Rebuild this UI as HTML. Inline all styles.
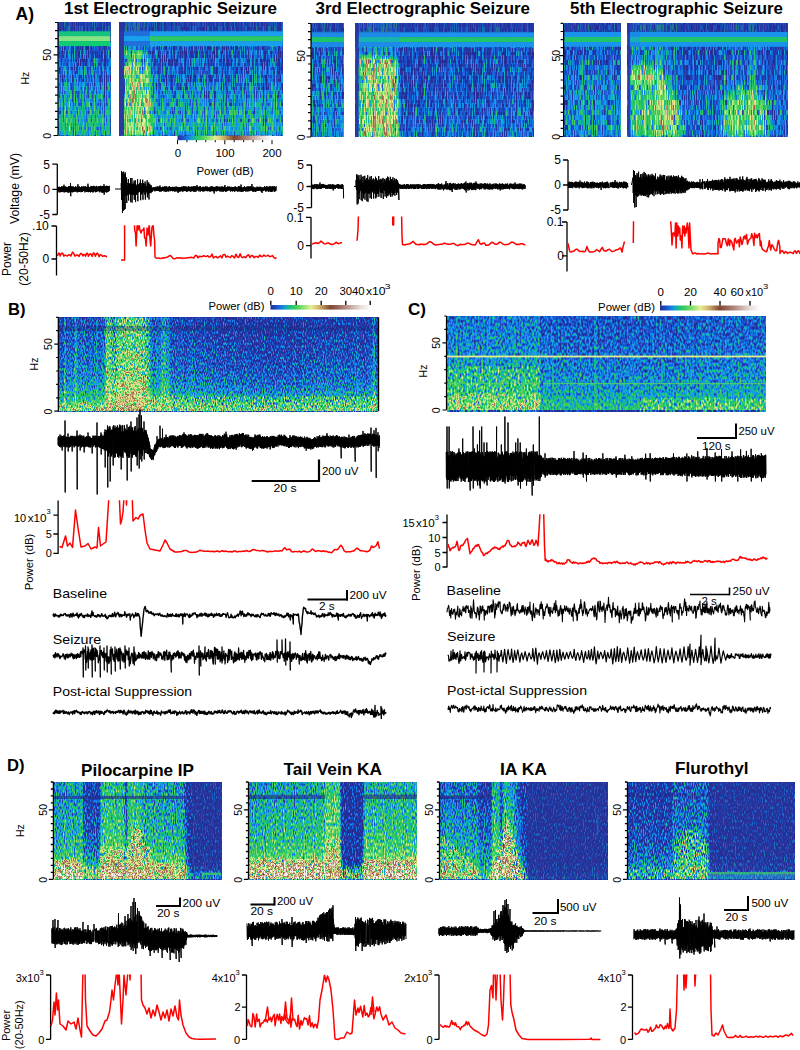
<!DOCTYPE html><html><head><meta charset="utf-8"><style>html,body{margin:0;padding:0;background:#fff}svg{display:block}text{font-family:"Liberation Sans",sans-serif}</style></head><body><svg width="800" height="1050" viewBox="0 0 800 1050"><defs><linearGradient id="v1" gradientUnits="userSpaceOnUse" x1="0" y1="22.5" x2="0" y2="135.5"><stop offset="0" stop-color="rgb(0,0,0)"/><stop offset="0.075" stop-color="rgb(0,0,0)"/><stop offset="0.208" stop-color="rgb(0,0,0)"/><stop offset="0.332" stop-color="rgb(1,0,0)"/><stop offset="0.465" stop-color="rgb(10,0,0)"/><stop offset="0.73" stop-color="rgb(24,0,0)"/><stop offset="0.934" stop-color="rgb(32,0,0)"/><stop offset="1" stop-color="rgb(29,0,0)"/></linearGradient><linearGradient id="h1" gradientUnits="userSpaceOnUse" x1="58.8" y1="0" x2="110.2" y2="0"><stop offset="0" stop-color="rgb(0,18,0)"/><stop offset="0.0262" stop-color="rgb(0,1,0)"/><stop offset="0.0525" stop-color="rgb(0,17,0)"/><stop offset="0.0787" stop-color="rgb(0,1,0)"/><stop offset="0.105" stop-color="rgb(0,12,0)"/><stop offset="0.1312" stop-color="rgb(0,21,0)"/><stop offset="0.1574" stop-color="rgb(0,10,0)"/><stop offset="0.1837" stop-color="rgb(0,9,0)"/><stop offset="0.2099" stop-color="rgb(0,31,0)"/><stop offset="0.2362" stop-color="rgb(0,11,0)"/><stop offset="0.2624" stop-color="rgb(0,5,0)"/><stop offset="0.2886" stop-color="rgb(0,3,0)"/><stop offset="0.3149" stop-color="rgb(0,10,0)"/><stop offset="0.3411" stop-color="rgb(0,14,0)"/><stop offset="0.3673" stop-color="rgb(0,3,0)"/><stop offset="0.3936" stop-color="rgb(0,7,0)"/><stop offset="0.4198" stop-color="rgb(0,9,0)"/><stop offset="0.4461" stop-color="rgb(0,5,0)"/><stop offset="0.4723" stop-color="rgb(0,11,0)"/><stop offset="0.4985" stop-color="rgb(0,9,0)"/><stop offset="0.5248" stop-color="rgb(0,13,0)"/><stop offset="0.551" stop-color="rgb(0,4,0)"/><stop offset="0.5773" stop-color="rgb(0,2,0)"/><stop offset="0.6035" stop-color="rgb(0,23,0)"/><stop offset="0.6297" stop-color="rgb(0,1,0)"/><stop offset="0.656" stop-color="rgb(0,12,0)"/><stop offset="0.6822" stop-color="rgb(0,13,0)"/><stop offset="0.7085" stop-color="rgb(0,11,0)"/><stop offset="0.7347" stop-color="rgb(0,9,0)"/><stop offset="0.7609" stop-color="rgb(0,13,0)"/><stop offset="0.7872" stop-color="rgb(0,7,0)"/><stop offset="0.8134" stop-color="rgb(0,1,0)"/><stop offset="0.8397" stop-color="rgb(0,10,0)"/><stop offset="0.8659" stop-color="rgb(0,13,0)"/><stop offset="0.8921" stop-color="rgb(0,6,0)"/><stop offset="0.9184" stop-color="rgb(0,0,0)"/><stop offset="0.9446" stop-color="rgb(0,9,0)"/><stop offset="0.9708" stop-color="rgb(0,20,0)"/><stop offset="0.9971" stop-color="rgb(0,6,0)"/></linearGradient><filter id="s1" x="0" y="0" width="1" height="1" color-interpolation-filters="sRGB"><feTurbulence type="fractalNoise" baseFrequency="0.9 0.12" numOctaves="1" seed="3"/><feColorMatrix values="1 0 0 0 0 1 0 0 0 0 1 0 0 0 0 0 0 0 0 1" result="m0"/><feFlood x="58" y="31.2" width="1" height="1" flood-color="#fff" result="d"/><feComposite in="d" in2="d" x="58" y="31.2" width="1" height="5"/><feTile/><feComposite in="m0" operator="in"/><feMorphology operator="dilate" radius="0 2"/><feComposite in2="m0" result="m"/><feColorMatrix in="SourceGraphic" values="1 1 0 0 0.015 1 1 0 0 0.015 1 1 0 0 0.015 0 0 0 0 1" result="p"/><feColorMatrix in="SourceGraphic" values="0 0 1 0 0 0 0 1 0 0 0 0 1 0 0 0 0 0 0 1"/><feComposite in2="m" operator="arithmetic" k1="0.909" k2="0.545" k3="0.545" k4="0.227"/><feComposite in="p" operator="arithmetic" k2="1" k3="1" k4="-.5"/><feComponentTransfer><feFuncR type="table" tableValues="0.149 0.14 0.13 0.121 0.112 0.099 0.086 0.073 0.065 0.075 0.086 0.099 0.125 0.152 0.185 0.247 0.31 0.372 0.435 0.497 0.58 0.669 0.757 0.845 0.933 0.908 0.883 0.858 0.815 0.744 0.673 0.602 0.607 0.631 0.655 0.684 0.729 0.775 0.821 0.867 0.901 0.916 0.932 0.948 0.964 0.98 0.982 0.983 0.984 0.986 0.987 0.988 0.99 0.991 0.992 0.993 0.995 0.996 0.997 0.999 1"/><feFuncG type="table" tableValues="0.18 0.218 0.255 0.292 0.33 0.393 0.463 0.532 0.599 0.651 0.703 0.748 0.761 0.774 0.788 0.803 0.819 0.835 0.851 0.867 0.882 0.897 0.912 0.926 0.941 0.887 0.832 0.778 0.702 0.596 0.489 0.382 0.389 0.424 0.458 0.5 0.571 0.641 0.711 0.781 0.834 0.86 0.886 0.912 0.939 0.965 0.967 0.969 0.972 0.974 0.976 0.979 0.981 0.984 0.986 0.988 0.991 0.993 0.995 0.998 1"/><feFuncB type="table" tableValues="0.588 0.646 0.704 0.762 0.82 0.856 0.886 0.917 0.915 0.784 0.654 0.536 0.471 0.405 0.356 0.37 0.385 0.399 0.414 0.428 0.458 0.49 0.523 0.556 0.588 0.556 0.523 0.49 0.445 0.382 0.319 0.256 0.28 0.325 0.371 0.424 0.502 0.58 0.659 0.737 0.797 0.827 0.858 0.888 0.919 0.949 0.952 0.956 0.959 0.963 0.966 0.969 0.973 0.976 0.98 0.983 0.986 0.99 0.993 0.997 1"/></feComponentTransfer><feGaussianBlur stdDeviation=".55 .25"/><feComponentTransfer><feFuncA type="discrete" tableValues="1 1"/></feComponentTransfer></filter><linearGradient id="v2" gradientUnits="userSpaceOnUse" x1="0" y1="22.5" x2="0" y2="135.5"><stop offset="0" stop-color="rgb(0,0,0)"/><stop offset="0.075" stop-color="rgb(0,0,0)"/><stop offset="0.208" stop-color="rgb(0,0,0)"/><stop offset="0.332" stop-color="rgb(0,0,0)"/><stop offset="0.509" stop-color="rgb(6,0,0)"/><stop offset="0.686" stop-color="rgb(18,0,0)"/><stop offset="0.907" stop-color="rgb(28,0,0)"/><stop offset="0.96" stop-color="rgb(27,0,0)"/><stop offset="1" stop-color="rgb(18,0,0)"/></linearGradient><linearGradient id="h2" gradientUnits="userSpaceOnUse" x1="119" y1="0" x2="282.5" y2="0"><stop offset="0" stop-color="rgb(0,0,0)"/><stop offset="0.0083" stop-color="rgb(0,1,0)"/><stop offset="0.0165" stop-color="rgb(0,5,0)"/><stop offset="0.0248" stop-color="rgb(0,0,0)"/><stop offset="0.033" stop-color="rgb(0,15,0)"/><stop offset="0.0413" stop-color="rgb(0,39,0)"/><stop offset="0.0495" stop-color="rgb(0,21,0)"/><stop offset="0.0578" stop-color="rgb(0,25,0)"/><stop offset="0.0661" stop-color="rgb(0,32,0)"/><stop offset="0.0743" stop-color="rgb(0,22,0)"/><stop offset="0.0826" stop-color="rgb(0,31,0)"/><stop offset="0.0908" stop-color="rgb(0,24,0)"/><stop offset="0.0991" stop-color="rgb(0,43,0)"/><stop offset="0.1073" stop-color="rgb(0,28,0)"/><stop offset="0.1156" stop-color="rgb(0,28,0)"/><stop offset="0.1239" stop-color="rgb(0,34,0)"/><stop offset="0.1321" stop-color="rgb(0,24,0)"/><stop offset="0.1404" stop-color="rgb(0,17,0)"/><stop offset="0.1486" stop-color="rgb(0,22,0)"/><stop offset="0.1569" stop-color="rgb(0,15,0)"/><stop offset="0.1651" stop-color="rgb(0,14,0)"/><stop offset="0.1734" stop-color="rgb(0,31,0)"/><stop offset="0.1817" stop-color="rgb(0,18,0)"/><stop offset="0.1899" stop-color="rgb(0,14,0)"/><stop offset="0.1982" stop-color="rgb(0,19,0)"/><stop offset="0.2064" stop-color="rgb(0,14,0)"/><stop offset="0.2147" stop-color="rgb(0,5,0)"/><stop offset="0.2229" stop-color="rgb(0,18,0)"/><stop offset="0.2312" stop-color="rgb(0,15,0)"/><stop offset="0.2394" stop-color="rgb(0,2,0)"/><stop offset="0.2477" stop-color="rgb(0,0,0)"/><stop offset="0.256" stop-color="rgb(0,15,0)"/><stop offset="0.2642" stop-color="rgb(0,11,0)"/><stop offset="0.2725" stop-color="rgb(0,21,0)"/><stop offset="0.2807" stop-color="rgb(0,8,0)"/><stop offset="0.289" stop-color="rgb(0,5,0)"/><stop offset="0.2972" stop-color="rgb(0,12,0)"/><stop offset="0.3055" stop-color="rgb(0,13,0)"/><stop offset="0.3138" stop-color="rgb(0,13,0)"/><stop offset="0.322" stop-color="rgb(0,3,0)"/><stop offset="0.3303" stop-color="rgb(0,11,0)"/><stop offset="0.3385" stop-color="rgb(0,4,0)"/><stop offset="0.3468" stop-color="rgb(0,11,0)"/><stop offset="0.355" stop-color="rgb(0,7,0)"/><stop offset="0.3633" stop-color="rgb(0,15,0)"/><stop offset="0.3716" stop-color="rgb(0,6,0)"/><stop offset="0.3798" stop-color="rgb(0,11,0)"/><stop offset="0.3881" stop-color="rgb(0,10,0)"/><stop offset="0.3963" stop-color="rgb(0,13,0)"/><stop offset="0.4046" stop-color="rgb(0,10,0)"/><stop offset="0.4128" stop-color="rgb(0,1,0)"/><stop offset="0.4211" stop-color="rgb(0,14,0)"/><stop offset="0.4294" stop-color="rgb(0,11,0)"/><stop offset="0.4376" stop-color="rgb(0,3,0)"/><stop offset="0.4459" stop-color="rgb(0,5,0)"/><stop offset="0.4541" stop-color="rgb(0,15,0)"/><stop offset="0.4624" stop-color="rgb(0,6,0)"/><stop offset="0.4706" stop-color="rgb(0,18,0)"/><stop offset="0.4789" stop-color="rgb(0,2,0)"/><stop offset="0.4872" stop-color="rgb(0,28,0)"/><stop offset="0.4954" stop-color="rgb(0,15,0)"/><stop offset="0.5037" stop-color="rgb(0,5,0)"/><stop offset="0.5119" stop-color="rgb(0,19,0)"/><stop offset="0.5202" stop-color="rgb(0,10,0)"/><stop offset="0.5284" stop-color="rgb(0,14,0)"/><stop offset="0.5367" stop-color="rgb(0,13,0)"/><stop offset="0.545" stop-color="rgb(0,3,0)"/><stop offset="0.5532" stop-color="rgb(0,4,0)"/><stop offset="0.5615" stop-color="rgb(0,9,0)"/><stop offset="0.5697" stop-color="rgb(0,23,0)"/><stop offset="0.578" stop-color="rgb(0,5,0)"/><stop offset="0.5862" stop-color="rgb(0,9,0)"/><stop offset="0.5945" stop-color="rgb(0,6,0)"/><stop offset="0.6028" stop-color="rgb(0,8,0)"/><stop offset="0.611" stop-color="rgb(0,19,0)"/><stop offset="0.6193" stop-color="rgb(0,18,0)"/><stop offset="0.6275" stop-color="rgb(0,3,0)"/><stop offset="0.6358" stop-color="rgb(0,11,0)"/><stop offset="0.644" stop-color="rgb(0,5,0)"/><stop offset="0.6523" stop-color="rgb(0,8,0)"/><stop offset="0.6606" stop-color="rgb(0,2,0)"/><stop offset="0.6688" stop-color="rgb(0,4,0)"/><stop offset="0.6771" stop-color="rgb(0,12,0)"/><stop offset="0.6853" stop-color="rgb(0,9,0)"/><stop offset="0.6936" stop-color="rgb(0,14,0)"/><stop offset="0.7018" stop-color="rgb(0,9,0)"/><stop offset="0.7101" stop-color="rgb(0,8,0)"/><stop offset="0.7183" stop-color="rgb(0,7,0)"/><stop offset="0.7266" stop-color="rgb(0,7,0)"/><stop offset="0.7349" stop-color="rgb(0,11,0)"/><stop offset="0.7431" stop-color="rgb(0,14,0)"/><stop offset="0.7514" stop-color="rgb(0,9,0)"/><stop offset="0.7596" stop-color="rgb(0,20,0)"/><stop offset="0.7679" stop-color="rgb(0,15,0)"/><stop offset="0.7761" stop-color="rgb(0,1,0)"/><stop offset="0.7844" stop-color="rgb(0,12,0)"/><stop offset="0.7927" stop-color="rgb(0,2,0)"/><stop offset="0.8009" stop-color="rgb(0,26,0)"/><stop offset="0.8092" stop-color="rgb(0,15,0)"/><stop offset="0.8174" stop-color="rgb(0,15,0)"/><stop offset="0.8257" stop-color="rgb(0,7,0)"/><stop offset="0.8339" stop-color="rgb(0,23,0)"/><stop offset="0.8422" stop-color="rgb(0,8,0)"/><stop offset="0.8505" stop-color="rgb(0,3,0)"/><stop offset="0.8587" stop-color="rgb(0,23,0)"/><stop offset="0.867" stop-color="rgb(0,16,0)"/><stop offset="0.8752" stop-color="rgb(0,10,0)"/><stop offset="0.8835" stop-color="rgb(0,1,0)"/><stop offset="0.8917" stop-color="rgb(0,12,0)"/><stop offset="0.9" stop-color="rgb(0,2,0)"/><stop offset="0.9083" stop-color="rgb(0,1,0)"/><stop offset="0.9165" stop-color="rgb(0,15,0)"/><stop offset="0.9248" stop-color="rgb(0,14,0)"/><stop offset="0.933" stop-color="rgb(0,21,0)"/><stop offset="0.9413" stop-color="rgb(0,9,0)"/><stop offset="0.9495" stop-color="rgb(0,15,0)"/><stop offset="0.9578" stop-color="rgb(0,24,0)"/><stop offset="0.9661" stop-color="rgb(0,10,0)"/><stop offset="0.9743" stop-color="rgb(0,1,0)"/><stop offset="0.9826" stop-color="rgb(0,1,0)"/><stop offset="0.9908" stop-color="rgb(0,7,0)"/><stop offset="0.9991" stop-color="rgb(0,8,0)"/></linearGradient><filter id="s2" x="0" y="0" width="1" height="1" color-interpolation-filters="sRGB"><feTurbulence type="fractalNoise" baseFrequency="0.9 0.12" numOctaves="1" seed="5"/><feColorMatrix values="1 0 0 0 0 1 0 0 0 0 1 0 0 0 0 0 0 0 0 1" result="m0"/><feFlood x="119" y="31.2" width="1" height="1" flood-color="#fff" result="d"/><feComposite in="d" in2="d" x="119" y="31.2" width="1" height="5"/><feTile/><feComposite in="m0" operator="in"/><feMorphology operator="dilate" radius="0 2"/><feComposite in2="m0" result="m"/><feColorMatrix in="SourceGraphic" values="1 1 0 0 0.015 1 1 0 0 0.015 1 1 0 0 0.015 0 0 0 0 1" result="p"/><feColorMatrix in="SourceGraphic" values="0 0 1 0 0 0 0 1 0 0 0 0 1 0 0 0 0 0 0 1"/><feComposite in2="m" operator="arithmetic" k1="2.727" k2="-0.364" k3="0.545" k4="0.227"/><feComposite in="p" operator="arithmetic" k2="1" k3="1" k4="-.5"/><feComponentTransfer><feFuncR type="table" tableValues="0.149 0.14 0.13 0.121 0.112 0.099 0.086 0.073 0.065 0.075 0.086 0.099 0.125 0.152 0.185 0.247 0.31 0.372 0.435 0.497 0.58 0.669 0.757 0.845 0.933 0.908 0.883 0.858 0.815 0.744 0.673 0.602 0.607 0.631 0.655 0.684 0.729 0.775 0.821 0.867 0.901 0.916 0.932 0.948 0.964 0.98 0.982 0.983 0.984 0.986 0.987 0.988 0.99 0.991 0.992 0.993 0.995 0.996 0.997 0.999 1"/><feFuncG type="table" tableValues="0.18 0.218 0.255 0.292 0.33 0.393 0.463 0.532 0.599 0.651 0.703 0.748 0.761 0.774 0.788 0.803 0.819 0.835 0.851 0.867 0.882 0.897 0.912 0.926 0.941 0.887 0.832 0.778 0.702 0.596 0.489 0.382 0.389 0.424 0.458 0.5 0.571 0.641 0.711 0.781 0.834 0.86 0.886 0.912 0.939 0.965 0.967 0.969 0.972 0.974 0.976 0.979 0.981 0.984 0.986 0.988 0.991 0.993 0.995 0.998 1"/><feFuncB type="table" tableValues="0.588 0.646 0.704 0.762 0.82 0.856 0.886 0.917 0.915 0.784 0.654 0.536 0.471 0.405 0.356 0.37 0.385 0.399 0.414 0.428 0.458 0.49 0.523 0.556 0.588 0.556 0.523 0.49 0.445 0.382 0.319 0.256 0.28 0.325 0.371 0.424 0.502 0.58 0.659 0.737 0.797 0.827 0.858 0.888 0.919 0.949 0.952 0.956 0.959 0.963 0.966 0.969 0.973 0.976 0.98 0.983 0.986 0.99 0.993 0.997 1"/></feComponentTransfer><feGaussianBlur stdDeviation=".55 .25"/><feComponentTransfer><feFuncA type="discrete" tableValues="1 1"/></feComponentTransfer></filter><filter id="b2" x="-50%" y="-50%" width="200%" height="200%"><feGaussianBlur stdDeviation="2"/></filter><linearGradient id="cb" x1="0" y1="0" x2="1" y2="0"><stop offset="0" stop-color="#262e96"/><stop offset="0.05" stop-color="#1e4ac2"/><stop offset="0.1" stop-color="#1676e2"/><stop offset="0.15" stop-color="#13a6c8"/><stop offset="0.2" stop-color="#20c277"/><stop offset="0.25" stop-color="#3fcc5e"/><stop offset="0.3" stop-color="#6ed969"/><stop offset="0.35" stop-color="#a5e47b"/><stop offset="0.4" stop-color="#e2ee91"/><stop offset="0.45" stop-color="#ddce7f"/><stop offset="0.5" stop-color="#c8a564"/><stop offset="0.55" stop-color="#a3754b"/><stop offset="0.6" stop-color="#804634"/><stop offset="0.65" stop-color="#915d4e"/><stop offset="0.7" stop-color="#a27467"/><stop offset="0.75" stop-color="#b48c82"/><stop offset="0.8" stop-color="#c5a79f"/><stop offset="0.85" stop-color="#d6c2bc"/><stop offset="0.9" stop-color="#e8deda"/><stop offset="0.95" stop-color="#f3eeec"/><stop offset="1" stop-color="#ffffff"/></linearGradient><linearGradient id="v3" gradientUnits="userSpaceOnUse" x1="0" y1="23.5" x2="0" y2="137"><stop offset="0" stop-color="rgb(0,0,0)"/><stop offset="0.075" stop-color="rgb(0,0,0)"/><stop offset="0.207" stop-color="rgb(0,0,0)"/><stop offset="0.339" stop-color="rgb(4,0,0)"/><stop offset="0.586" stop-color="rgb(11,0,0)"/><stop offset="0.85" stop-color="rgb(14,0,0)"/><stop offset="1" stop-color="rgb(13,0,0)"/></linearGradient><linearGradient id="h3" gradientUnits="userSpaceOnUse" x1="311.5" y1="0" x2="344" y2="0"><stop offset="0" stop-color="rgb(0,16,0)"/><stop offset="0.0415" stop-color="rgb(0,11,0)"/><stop offset="0.0831" stop-color="rgb(0,1,0)"/><stop offset="0.1246" stop-color="rgb(0,5,0)"/><stop offset="0.1662" stop-color="rgb(0,12,0)"/><stop offset="0.2077" stop-color="rgb(0,17,0)"/><stop offset="0.2492" stop-color="rgb(0,0,0)"/><stop offset="0.2908" stop-color="rgb(0,0,0)"/><stop offset="0.3323" stop-color="rgb(0,20,0)"/><stop offset="0.3738" stop-color="rgb(0,30,0)"/><stop offset="0.4154" stop-color="rgb(0,7,0)"/><stop offset="0.4569" stop-color="rgb(0,13,0)"/><stop offset="0.4985" stop-color="rgb(0,8,0)"/><stop offset="0.54" stop-color="rgb(0,15,0)"/><stop offset="0.5815" stop-color="rgb(0,13,0)"/><stop offset="0.6231" stop-color="rgb(0,10,0)"/><stop offset="0.6646" stop-color="rgb(0,12,0)"/><stop offset="0.7062" stop-color="rgb(0,1,0)"/><stop offset="0.7477" stop-color="rgb(0,10,0)"/><stop offset="0.7892" stop-color="rgb(0,13,0)"/><stop offset="0.8308" stop-color="rgb(0,10,0)"/><stop offset="0.8723" stop-color="rgb(0,4,0)"/><stop offset="0.9138" stop-color="rgb(0,18,0)"/><stop offset="0.9554" stop-color="rgb(0,4,0)"/><stop offset="0.9969" stop-color="rgb(0,15,0)"/></linearGradient><filter id="s3" x="0" y="0" width="1" height="1" color-interpolation-filters="sRGB"><feTurbulence type="fractalNoise" baseFrequency="0.9 0.12" numOctaves="1" seed="7"/><feColorMatrix values="1 0 0 0 0 1 0 0 0 0 1 0 0 0 0 0 0 0 0 1" result="m0"/><feFlood x="311" y="32.2" width="1" height="1" flood-color="#fff" result="d"/><feComposite in="d" in2="d" x="311" y="32.2" width="1" height="5"/><feTile/><feComposite in="m0" operator="in"/><feMorphology operator="dilate" radius="0 2"/><feComposite in2="m0" result="m"/><feColorMatrix in="SourceGraphic" values="1 1 0 0 0.015 1 1 0 0 0.015 1 1 0 0 0.015 0 0 0 0 1" result="p"/><feColorMatrix in="SourceGraphic" values="0 0 1 0 0 0 0 1 0 0 0 0 1 0 0 0 0 0 0 1"/><feComposite in2="m" operator="arithmetic" k1="0.909" k2="0.545" k3="0.545" k4="0.227"/><feComposite in="p" operator="arithmetic" k2="1" k3="1" k4="-.5"/><feComponentTransfer><feFuncR type="table" tableValues="0.149 0.14 0.13 0.121 0.112 0.099 0.086 0.073 0.065 0.075 0.086 0.099 0.125 0.152 0.185 0.247 0.31 0.372 0.435 0.497 0.58 0.669 0.757 0.845 0.933 0.908 0.883 0.858 0.815 0.744 0.673 0.602 0.607 0.631 0.655 0.684 0.729 0.775 0.821 0.867 0.901 0.916 0.932 0.948 0.964 0.98 0.982 0.983 0.984 0.986 0.987 0.988 0.99 0.991 0.992 0.993 0.995 0.996 0.997 0.999 1"/><feFuncG type="table" tableValues="0.18 0.218 0.255 0.292 0.33 0.393 0.463 0.532 0.599 0.651 0.703 0.748 0.761 0.774 0.788 0.803 0.819 0.835 0.851 0.867 0.882 0.897 0.912 0.926 0.941 0.887 0.832 0.778 0.702 0.596 0.489 0.382 0.389 0.424 0.458 0.5 0.571 0.641 0.711 0.781 0.834 0.86 0.886 0.912 0.939 0.965 0.967 0.969 0.972 0.974 0.976 0.979 0.981 0.984 0.986 0.988 0.991 0.993 0.995 0.998 1"/><feFuncB type="table" tableValues="0.588 0.646 0.704 0.762 0.82 0.856 0.886 0.917 0.915 0.784 0.654 0.536 0.471 0.405 0.356 0.37 0.385 0.399 0.414 0.428 0.458 0.49 0.523 0.556 0.588 0.556 0.523 0.49 0.445 0.382 0.319 0.256 0.28 0.325 0.371 0.424 0.502 0.58 0.659 0.737 0.797 0.827 0.858 0.888 0.919 0.949 0.952 0.956 0.959 0.963 0.966 0.969 0.973 0.976 0.98 0.983 0.986 0.99 0.993 0.997 1"/></feComponentTransfer><feGaussianBlur stdDeviation=".55 .25"/><feComponentTransfer><feFuncA type="discrete" tableValues="1 1"/></feComponentTransfer></filter><linearGradient id="v4" gradientUnits="userSpaceOnUse" x1="0" y1="23.5" x2="0" y2="137"><stop offset="0" stop-color="rgb(0,0,0)"/><stop offset="0.075" stop-color="rgb(0,0,0)"/><stop offset="0.207" stop-color="rgb(0,0,0)"/><stop offset="0.339" stop-color="rgb(0,0,0)"/><stop offset="0.586" stop-color="rgb(3,0,0)"/><stop offset="0.85" stop-color="rgb(9,0,0)"/><stop offset="1" stop-color="rgb(11,0,0)"/></linearGradient><linearGradient id="h4" gradientUnits="userSpaceOnUse" x1="355.5" y1="0" x2="534" y2="0"><stop offset="0" stop-color="rgb(0,0,0)"/><stop offset="0.0076" stop-color="rgb(0,0,0)"/><stop offset="0.0151" stop-color="rgb(0,0,0)"/><stop offset="0.0227" stop-color="rgb(0,25,0)"/><stop offset="0.0303" stop-color="rgb(0,21,0)"/><stop offset="0.0378" stop-color="rgb(0,18,0)"/><stop offset="0.0454" stop-color="rgb(0,19,0)"/><stop offset="0.0529" stop-color="rgb(0,28,0)"/><stop offset="0.0605" stop-color="rgb(0,21,0)"/><stop offset="0.0681" stop-color="rgb(0,26,0)"/><stop offset="0.0756" stop-color="rgb(0,28,0)"/><stop offset="0.0832" stop-color="rgb(0,31,0)"/><stop offset="0.0908" stop-color="rgb(0,23,0)"/><stop offset="0.0983" stop-color="rgb(0,20,0)"/><stop offset="0.1059" stop-color="rgb(0,43,0)"/><stop offset="0.1134" stop-color="rgb(0,31,0)"/><stop offset="0.121" stop-color="rgb(0,29,0)"/><stop offset="0.1286" stop-color="rgb(0,20,0)"/><stop offset="0.1361" stop-color="rgb(0,26,0)"/><stop offset="0.1437" stop-color="rgb(0,30,0)"/><stop offset="0.1513" stop-color="rgb(0,26,0)"/><stop offset="0.1588" stop-color="rgb(0,27,0)"/><stop offset="0.1664" stop-color="rgb(0,27,0)"/><stop offset="0.1739" stop-color="rgb(0,37,0)"/><stop offset="0.1815" stop-color="rgb(0,24,0)"/><stop offset="0.1891" stop-color="rgb(0,25,0)"/><stop offset="0.1966" stop-color="rgb(0,38,0)"/><stop offset="0.2042" stop-color="rgb(0,26,0)"/><stop offset="0.2118" stop-color="rgb(0,22,0)"/><stop offset="0.2193" stop-color="rgb(0,15,0)"/><stop offset="0.2269" stop-color="rgb(0,26,0)"/><stop offset="0.2345" stop-color="rgb(0,24,0)"/><stop offset="0.242" stop-color="rgb(0,10,0)"/><stop offset="0.2496" stop-color="rgb(0,0,0)"/><stop offset="0.2571" stop-color="rgb(0,0,0)"/><stop offset="0.2647" stop-color="rgb(0,4,0)"/><stop offset="0.2723" stop-color="rgb(0,10,0)"/><stop offset="0.2798" stop-color="rgb(0,0,0)"/><stop offset="0.2874" stop-color="rgb(0,0,0)"/><stop offset="0.295" stop-color="rgb(0,2,0)"/><stop offset="0.3025" stop-color="rgb(0,3,0)"/><stop offset="0.3101" stop-color="rgb(0,3,0)"/><stop offset="0.3176" stop-color="rgb(0,1,0)"/><stop offset="0.3252" stop-color="rgb(0,17,0)"/><stop offset="0.3328" stop-color="rgb(0,0,0)"/><stop offset="0.3403" stop-color="rgb(0,19,0)"/><stop offset="0.3479" stop-color="rgb(0,6,0)"/><stop offset="0.3555" stop-color="rgb(0,0,0)"/><stop offset="0.363" stop-color="rgb(0,0,0)"/><stop offset="0.3706" stop-color="rgb(0,0,0)"/><stop offset="0.3782" stop-color="rgb(0,0,0)"/><stop offset="0.3857" stop-color="rgb(0,24,0)"/><stop offset="0.3933" stop-color="rgb(0,2,0)"/><stop offset="0.4008" stop-color="rgb(0,5,0)"/><stop offset="0.4084" stop-color="rgb(0,8,0)"/><stop offset="0.416" stop-color="rgb(0,6,0)"/><stop offset="0.4235" stop-color="rgb(0,1,0)"/><stop offset="0.4311" stop-color="rgb(0,0,0)"/><stop offset="0.4387" stop-color="rgb(0,0,0)"/><stop offset="0.4462" stop-color="rgb(0,0,0)"/><stop offset="0.4538" stop-color="rgb(0,24,0)"/><stop offset="0.4613" stop-color="rgb(0,6,0)"/><stop offset="0.4689" stop-color="rgb(0,0,0)"/><stop offset="0.4765" stop-color="rgb(0,1,0)"/><stop offset="0.484" stop-color="rgb(0,5,0)"/><stop offset="0.4916" stop-color="rgb(0,3,0)"/><stop offset="0.4992" stop-color="rgb(0,14,0)"/><stop offset="0.5067" stop-color="rgb(0,2,0)"/><stop offset="0.5143" stop-color="rgb(0,2,0)"/><stop offset="0.5218" stop-color="rgb(0,17,0)"/><stop offset="0.5294" stop-color="rgb(0,15,0)"/><stop offset="0.537" stop-color="rgb(0,13,0)"/><stop offset="0.5445" stop-color="rgb(0,15,0)"/><stop offset="0.5521" stop-color="rgb(0,10,0)"/><stop offset="0.5597" stop-color="rgb(0,3,0)"/><stop offset="0.5672" stop-color="rgb(0,9,0)"/><stop offset="0.5748" stop-color="rgb(0,11,0)"/><stop offset="0.5824" stop-color="rgb(0,1,0)"/><stop offset="0.5899" stop-color="rgb(0,2,0)"/><stop offset="0.5975" stop-color="rgb(0,4,0)"/><stop offset="0.605" stop-color="rgb(0,10,0)"/><stop offset="0.6126" stop-color="rgb(0,2,0)"/><stop offset="0.6202" stop-color="rgb(0,1,0)"/><stop offset="0.6277" stop-color="rgb(0,10,0)"/><stop offset="0.6353" stop-color="rgb(0,0,0)"/><stop offset="0.6429" stop-color="rgb(0,3,0)"/><stop offset="0.6504" stop-color="rgb(0,9,0)"/><stop offset="0.658" stop-color="rgb(0,10,0)"/><stop offset="0.6655" stop-color="rgb(0,0,0)"/><stop offset="0.6731" stop-color="rgb(0,0,0)"/><stop offset="0.6807" stop-color="rgb(0,0,0)"/><stop offset="0.6882" stop-color="rgb(0,9,0)"/><stop offset="0.6958" stop-color="rgb(0,2,0)"/><stop offset="0.7034" stop-color="rgb(0,4,0)"/><stop offset="0.7109" stop-color="rgb(0,10,0)"/><stop offset="0.7185" stop-color="rgb(0,23,0)"/><stop offset="0.7261" stop-color="rgb(0,6,0)"/><stop offset="0.7336" stop-color="rgb(0,0,0)"/><stop offset="0.7412" stop-color="rgb(0,0,0)"/><stop offset="0.7487" stop-color="rgb(0,3,0)"/><stop offset="0.7563" stop-color="rgb(0,10,0)"/><stop offset="0.7639" stop-color="rgb(0,11,0)"/><stop offset="0.7714" stop-color="rgb(0,11,0)"/><stop offset="0.779" stop-color="rgb(0,16,0)"/><stop offset="0.7866" stop-color="rgb(0,11,0)"/><stop offset="0.7941" stop-color="rgb(0,10,0)"/><stop offset="0.8017" stop-color="rgb(0,8,0)"/><stop offset="0.8092" stop-color="rgb(0,5,0)"/><stop offset="0.8168" stop-color="rgb(0,12,0)"/><stop offset="0.8244" stop-color="rgb(0,8,0)"/><stop offset="0.8319" stop-color="rgb(0,6,0)"/><stop offset="0.8395" stop-color="rgb(0,0,0)"/><stop offset="0.8471" stop-color="rgb(0,4,0)"/><stop offset="0.8546" stop-color="rgb(0,10,0)"/><stop offset="0.8622" stop-color="rgb(0,3,0)"/><stop offset="0.8697" stop-color="rgb(0,11,0)"/><stop offset="0.8773" stop-color="rgb(0,16,0)"/><stop offset="0.8849" stop-color="rgb(0,12,0)"/><stop offset="0.8924" stop-color="rgb(0,7,0)"/><stop offset="0.9" stop-color="rgb(0,4,0)"/><stop offset="0.9076" stop-color="rgb(0,11,0)"/><stop offset="0.9151" stop-color="rgb(0,15,0)"/><stop offset="0.9227" stop-color="rgb(0,12,0)"/><stop offset="0.9303" stop-color="rgb(0,8,0)"/><stop offset="0.9378" stop-color="rgb(0,14,0)"/><stop offset="0.9454" stop-color="rgb(0,3,0)"/><stop offset="0.9529" stop-color="rgb(0,12,0)"/><stop offset="0.9605" stop-color="rgb(0,5,0)"/><stop offset="0.9681" stop-color="rgb(0,15,0)"/><stop offset="0.9756" stop-color="rgb(0,0,0)"/><stop offset="0.9832" stop-color="rgb(0,6,0)"/><stop offset="0.9908" stop-color="rgb(0,1,0)"/><stop offset="0.9983" stop-color="rgb(0,9,0)"/></linearGradient><filter id="s4" x="0" y="0" width="1" height="1" color-interpolation-filters="sRGB"><feTurbulence type="fractalNoise" baseFrequency="0.9 0.12" numOctaves="1" seed="9"/><feColorMatrix values="1 0 0 0 0 1 0 0 0 0 1 0 0 0 0 0 0 0 0 1" result="m0"/><feFlood x="355" y="32.2" width="1" height="1" flood-color="#fff" result="d"/><feComposite in="d" in2="d" x="355" y="32.2" width="1" height="5"/><feTile/><feComposite in="m0" operator="in"/><feMorphology operator="dilate" radius="0 2"/><feComposite in2="m0" result="m"/><feColorMatrix in="SourceGraphic" values="1 1 0 0 0.015 1 1 0 0 0.015 1 1 0 0 0.015 0 0 0 0 1" result="p"/><feColorMatrix in="SourceGraphic" values="0 0 1 0 0 0 0 1 0 0 0 0 1 0 0 0 0 0 0 1"/><feComposite in2="m" operator="arithmetic" k1="2.727" k2="-0.364" k3="0.545" k4="0.227"/><feComposite in="p" operator="arithmetic" k2="1" k3="1" k4="-.5"/><feComponentTransfer><feFuncR type="table" tableValues="0.149 0.14 0.13 0.121 0.112 0.099 0.086 0.073 0.065 0.075 0.086 0.099 0.125 0.152 0.185 0.247 0.31 0.372 0.435 0.497 0.58 0.669 0.757 0.845 0.933 0.908 0.883 0.858 0.815 0.744 0.673 0.602 0.607 0.631 0.655 0.684 0.729 0.775 0.821 0.867 0.901 0.916 0.932 0.948 0.964 0.98 0.982 0.983 0.984 0.986 0.987 0.988 0.99 0.991 0.992 0.993 0.995 0.996 0.997 0.999 1"/><feFuncG type="table" tableValues="0.18 0.218 0.255 0.292 0.33 0.393 0.463 0.532 0.599 0.651 0.703 0.748 0.761 0.774 0.788 0.803 0.819 0.835 0.851 0.867 0.882 0.897 0.912 0.926 0.941 0.887 0.832 0.778 0.702 0.596 0.489 0.382 0.389 0.424 0.458 0.5 0.571 0.641 0.711 0.781 0.834 0.86 0.886 0.912 0.939 0.965 0.967 0.969 0.972 0.974 0.976 0.979 0.981 0.984 0.986 0.988 0.991 0.993 0.995 0.998 1"/><feFuncB type="table" tableValues="0.588 0.646 0.704 0.762 0.82 0.856 0.886 0.917 0.915 0.784 0.654 0.536 0.471 0.405 0.356 0.37 0.385 0.399 0.414 0.428 0.458 0.49 0.523 0.556 0.588 0.556 0.523 0.49 0.445 0.382 0.319 0.256 0.28 0.325 0.371 0.424 0.502 0.58 0.659 0.737 0.797 0.827 0.858 0.888 0.919 0.949 0.952 0.956 0.959 0.963 0.966 0.969 0.973 0.976 0.98 0.983 0.986 0.99 0.993 0.997 1"/></feComponentTransfer><feGaussianBlur stdDeviation=".55 .25"/><feComponentTransfer><feFuncA type="discrete" tableValues="1 1"/></feComponentTransfer></filter><filter id="b4" x="-50%" y="-50%" width="200%" height="200%"><feGaussianBlur stdDeviation="2"/></filter><linearGradient id="v5" gradientUnits="userSpaceOnUse" x1="0" y1="23.4" x2="0" y2="136.5"><stop offset="0" stop-color="rgb(0,0,0)"/><stop offset="0.076" stop-color="rgb(0,0,0)"/><stop offset="0.209" stop-color="rgb(0,0,0)"/><stop offset="0.341" stop-color="rgb(6,0,0)"/><stop offset="0.589" stop-color="rgb(14,0,0)"/><stop offset="0.854" stop-color="rgb(19,0,0)"/><stop offset="1" stop-color="rgb(17,0,0)"/></linearGradient><linearGradient id="h5" gradientUnits="userSpaceOnUse" x1="564.4" y1="0" x2="621" y2="0"><stop offset="0" stop-color="rgb(0,3,0)"/><stop offset="0.0239" stop-color="rgb(0,5,0)"/><stop offset="0.0477" stop-color="rgb(0,4,0)"/><stop offset="0.0716" stop-color="rgb(0,12,0)"/><stop offset="0.0954" stop-color="rgb(0,15,0)"/><stop offset="0.1193" stop-color="rgb(0,3,0)"/><stop offset="0.1431" stop-color="rgb(0,6,0)"/><stop offset="0.167" stop-color="rgb(0,25,0)"/><stop offset="0.1908" stop-color="rgb(0,3,0)"/><stop offset="0.2147" stop-color="rgb(0,8,0)"/><stop offset="0.2385" stop-color="rgb(0,6,0)"/><stop offset="0.2624" stop-color="rgb(0,14,0)"/><stop offset="0.2862" stop-color="rgb(0,15,0)"/><stop offset="0.3101" stop-color="rgb(0,22,0)"/><stop offset="0.3339" stop-color="rgb(0,25,0)"/><stop offset="0.3578" stop-color="rgb(0,6,0)"/><stop offset="0.3816" stop-color="rgb(0,10,0)"/><stop offset="0.4055" stop-color="rgb(0,4,0)"/><stop offset="0.4293" stop-color="rgb(0,32,0)"/><stop offset="0.4532" stop-color="rgb(0,3,0)"/><stop offset="0.477" stop-color="rgb(0,13,0)"/><stop offset="0.5009" stop-color="rgb(0,18,0)"/><stop offset="0.5247" stop-color="rgb(0,6,0)"/><stop offset="0.5486" stop-color="rgb(0,3,0)"/><stop offset="0.5724" stop-color="rgb(0,24,0)"/><stop offset="0.5963" stop-color="rgb(0,12,0)"/><stop offset="0.6201" stop-color="rgb(0,7,0)"/><stop offset="0.644" stop-color="rgb(0,14,0)"/><stop offset="0.6678" stop-color="rgb(0,11,0)"/><stop offset="0.6917" stop-color="rgb(0,5,0)"/><stop offset="0.7155" stop-color="rgb(0,15,0)"/><stop offset="0.7394" stop-color="rgb(0,4,0)"/><stop offset="0.7633" stop-color="rgb(0,5,0)"/><stop offset="0.7871" stop-color="rgb(0,0,0)"/><stop offset="0.811" stop-color="rgb(0,14,0)"/><stop offset="0.8348" stop-color="rgb(0,23,0)"/><stop offset="0.8587" stop-color="rgb(0,7,0)"/><stop offset="0.8825" stop-color="rgb(0,15,0)"/><stop offset="0.9064" stop-color="rgb(0,4,0)"/><stop offset="0.9302" stop-color="rgb(0,8,0)"/><stop offset="0.9541" stop-color="rgb(0,3,0)"/><stop offset="0.9779" stop-color="rgb(0,11,0)"/></linearGradient><filter id="s5" x="0" y="0" width="1" height="1" color-interpolation-filters="sRGB"><feTurbulence type="fractalNoise" baseFrequency="0.9 0.12" numOctaves="1" seed="11"/><feColorMatrix values="1 0 0 0 0 1 0 0 0 0 1 0 0 0 0 0 0 0 0 1" result="m0"/><feFlood x="564" y="32" width="1" height="1" flood-color="#fff" result="d"/><feComposite in="d" in2="d" x="564" y="32" width="1" height="5"/><feTile/><feComposite in="m0" operator="in"/><feMorphology operator="dilate" radius="0 2"/><feComposite in2="m0" result="m"/><feColorMatrix in="SourceGraphic" values="1 1 0 0 0.015 1 1 0 0 0.015 1 1 0 0 0.015 0 0 0 0 1" result="p"/><feColorMatrix in="SourceGraphic" values="0 0 1 0 0 0 0 1 0 0 0 0 1 0 0 0 0 0 0 1"/><feComposite in2="m" operator="arithmetic" k1="0.909" k2="0.545" k3="0.545" k4="0.227"/><feComposite in="p" operator="arithmetic" k2="1" k3="1" k4="-.5"/><feComponentTransfer><feFuncR type="table" tableValues="0.149 0.14 0.13 0.121 0.112 0.099 0.086 0.073 0.065 0.075 0.086 0.099 0.125 0.152 0.185 0.247 0.31 0.372 0.435 0.497 0.58 0.669 0.757 0.845 0.933 0.908 0.883 0.858 0.815 0.744 0.673 0.602 0.607 0.631 0.655 0.684 0.729 0.775 0.821 0.867 0.901 0.916 0.932 0.948 0.964 0.98 0.982 0.983 0.984 0.986 0.987 0.988 0.99 0.991 0.992 0.993 0.995 0.996 0.997 0.999 1"/><feFuncG type="table" tableValues="0.18 0.218 0.255 0.292 0.33 0.393 0.463 0.532 0.599 0.651 0.703 0.748 0.761 0.774 0.788 0.803 0.819 0.835 0.851 0.867 0.882 0.897 0.912 0.926 0.941 0.887 0.832 0.778 0.702 0.596 0.489 0.382 0.389 0.424 0.458 0.5 0.571 0.641 0.711 0.781 0.834 0.86 0.886 0.912 0.939 0.965 0.967 0.969 0.972 0.974 0.976 0.979 0.981 0.984 0.986 0.988 0.991 0.993 0.995 0.998 1"/><feFuncB type="table" tableValues="0.588 0.646 0.704 0.762 0.82 0.856 0.886 0.917 0.915 0.784 0.654 0.536 0.471 0.405 0.356 0.37 0.385 0.399 0.414 0.428 0.458 0.49 0.523 0.556 0.588 0.556 0.523 0.49 0.445 0.382 0.319 0.256 0.28 0.325 0.371 0.424 0.502 0.58 0.659 0.737 0.797 0.827 0.858 0.888 0.919 0.949 0.952 0.956 0.959 0.963 0.966 0.969 0.973 0.976 0.98 0.983 0.986 0.99 0.993 0.997 1"/></feComponentTransfer><feGaussianBlur stdDeviation=".55 .25"/><feComponentTransfer><feFuncA type="discrete" tableValues="1 1"/></feComponentTransfer></filter><linearGradient id="v6" gradientUnits="userSpaceOnUse" x1="0" y1="23.4" x2="0" y2="136.5"><stop offset="0" stop-color="rgb(0,0,0)"/><stop offset="0.076" stop-color="rgb(0,0,0)"/><stop offset="0.209" stop-color="rgb(0,0,0)"/><stop offset="0.341" stop-color="rgb(3,0,0)"/><stop offset="0.589" stop-color="rgb(9,0,0)"/><stop offset="0.854" stop-color="rgb(14,0,0)"/><stop offset="1" stop-color="rgb(11,0,0)"/></linearGradient><linearGradient id="h6" gradientUnits="userSpaceOnUse" x1="627.7" y1="0" x2="787.6" y2="0"><stop offset="0" stop-color="rgb(0,4,0)"/><stop offset="0.0084" stop-color="rgb(0,0,0)"/><stop offset="0.0169" stop-color="rgb(0,6,0)"/><stop offset="0.0253" stop-color="rgb(0,29,0)"/><stop offset="0.0338" stop-color="rgb(0,22,0)"/><stop offset="0.0422" stop-color="rgb(0,22,0)"/><stop offset="0.0507" stop-color="rgb(0,28,0)"/><stop offset="0.0591" stop-color="rgb(0,28,0)"/><stop offset="0.0675" stop-color="rgb(0,26,0)"/><stop offset="0.076" stop-color="rgb(0,24,0)"/><stop offset="0.0844" stop-color="rgb(0,17,0)"/><stop offset="0.0929" stop-color="rgb(0,23,0)"/><stop offset="0.1013" stop-color="rgb(0,25,0)"/><stop offset="0.1098" stop-color="rgb(0,40,0)"/><stop offset="0.1182" stop-color="rgb(0,19,0)"/><stop offset="0.1266" stop-color="rgb(0,20,0)"/><stop offset="0.1351" stop-color="rgb(0,17,0)"/><stop offset="0.1435" stop-color="rgb(0,35,0)"/><stop offset="0.152" stop-color="rgb(0,23,0)"/><stop offset="0.1604" stop-color="rgb(0,21,0)"/><stop offset="0.1689" stop-color="rgb(0,23,0)"/><stop offset="0.1773" stop-color="rgb(0,27,0)"/><stop offset="0.1857" stop-color="rgb(0,42,0)"/><stop offset="0.1942" stop-color="rgb(0,28,0)"/><stop offset="0.2026" stop-color="rgb(0,38,0)"/><stop offset="0.2111" stop-color="rgb(0,34,0)"/><stop offset="0.2195" stop-color="rgb(0,23,0)"/><stop offset="0.228" stop-color="rgb(0,19,0)"/><stop offset="0.2364" stop-color="rgb(0,19,0)"/><stop offset="0.2448" stop-color="rgb(0,24,0)"/><stop offset="0.2533" stop-color="rgb(0,13,0)"/><stop offset="0.2617" stop-color="rgb(0,20,0)"/><stop offset="0.2702" stop-color="rgb(0,23,0)"/><stop offset="0.2786" stop-color="rgb(0,13,0)"/><stop offset="0.2871" stop-color="rgb(0,18,0)"/><stop offset="0.2955" stop-color="rgb(0,8,0)"/><stop offset="0.3039" stop-color="rgb(0,25,0)"/><stop offset="0.3124" stop-color="rgb(0,6,0)"/><stop offset="0.3208" stop-color="rgb(0,15,0)"/><stop offset="0.3293" stop-color="rgb(0,4,0)"/><stop offset="0.3377" stop-color="rgb(0,13,0)"/><stop offset="0.3462" stop-color="rgb(0,6,0)"/><stop offset="0.3546" stop-color="rgb(0,0,0)"/><stop offset="0.363" stop-color="rgb(0,10,0)"/><stop offset="0.3715" stop-color="rgb(0,4,0)"/><stop offset="0.3799" stop-color="rgb(0,2,0)"/><stop offset="0.3884" stop-color="rgb(0,11,0)"/><stop offset="0.3968" stop-color="rgb(0,0,0)"/><stop offset="0.4053" stop-color="rgb(0,15,0)"/><stop offset="0.4137" stop-color="rgb(0,2,0)"/><stop offset="0.4221" stop-color="rgb(0,2,0)"/><stop offset="0.4306" stop-color="rgb(0,8,0)"/><stop offset="0.439" stop-color="rgb(0,4,0)"/><stop offset="0.4475" stop-color="rgb(0,23,0)"/><stop offset="0.4559" stop-color="rgb(0,2,0)"/><stop offset="0.4644" stop-color="rgb(0,0,0)"/><stop offset="0.4728" stop-color="rgb(0,4,0)"/><stop offset="0.4812" stop-color="rgb(0,0,0)"/><stop offset="0.4897" stop-color="rgb(0,9,0)"/><stop offset="0.4981" stop-color="rgb(0,17,0)"/><stop offset="0.5066" stop-color="rgb(0,12,0)"/><stop offset="0.515" stop-color="rgb(0,0,0)"/><stop offset="0.5235" stop-color="rgb(0,3,0)"/><stop offset="0.5319" stop-color="rgb(0,6,0)"/><stop offset="0.5403" stop-color="rgb(0,0,0)"/><stop offset="0.5488" stop-color="rgb(0,1,0)"/><stop offset="0.5572" stop-color="rgb(0,10,0)"/><stop offset="0.5657" stop-color="rgb(0,0,0)"/><stop offset="0.5741" stop-color="rgb(0,4,0)"/><stop offset="0.5826" stop-color="rgb(0,13,0)"/><stop offset="0.591" stop-color="rgb(0,12,0)"/><stop offset="0.5994" stop-color="rgb(0,4,0)"/><stop offset="0.6079" stop-color="rgb(0,32,0)"/><stop offset="0.6163" stop-color="rgb(0,7,0)"/><stop offset="0.6248" stop-color="rgb(0,14,0)"/><stop offset="0.6332" stop-color="rgb(0,10,0)"/><stop offset="0.6417" stop-color="rgb(0,14,0)"/><stop offset="0.6501" stop-color="rgb(0,15,0)"/><stop offset="0.6585" stop-color="rgb(0,25,0)"/><stop offset="0.667" stop-color="rgb(0,13,0)"/><stop offset="0.6754" stop-color="rgb(0,17,0)"/><stop offset="0.6839" stop-color="rgb(0,23,0)"/><stop offset="0.6923" stop-color="rgb(0,17,0)"/><stop offset="0.7008" stop-color="rgb(0,7,0)"/><stop offset="0.7092" stop-color="rgb(0,26,0)"/><stop offset="0.7176" stop-color="rgb(0,6,0)"/><stop offset="0.7261" stop-color="rgb(0,17,0)"/><stop offset="0.7345" stop-color="rgb(0,6,0)"/><stop offset="0.743" stop-color="rgb(0,11,0)"/><stop offset="0.7514" stop-color="rgb(0,7,0)"/><stop offset="0.7598" stop-color="rgb(0,20,0)"/><stop offset="0.7683" stop-color="rgb(0,35,0)"/><stop offset="0.7767" stop-color="rgb(0,13,0)"/><stop offset="0.7852" stop-color="rgb(0,34,0)"/><stop offset="0.7936" stop-color="rgb(0,29,0)"/><stop offset="0.8021" stop-color="rgb(0,33,0)"/><stop offset="0.8105" stop-color="rgb(0,9,0)"/><stop offset="0.8189" stop-color="rgb(0,7,0)"/><stop offset="0.8274" stop-color="rgb(0,19,0)"/><stop offset="0.8358" stop-color="rgb(0,9,0)"/><stop offset="0.8443" stop-color="rgb(0,18,0)"/><stop offset="0.8527" stop-color="rgb(0,8,0)"/><stop offset="0.8612" stop-color="rgb(0,15,0)"/><stop offset="0.8696" stop-color="rgb(0,4,0)"/><stop offset="0.878" stop-color="rgb(0,1,0)"/><stop offset="0.8865" stop-color="rgb(0,6,0)"/><stop offset="0.8949" stop-color="rgb(0,8,0)"/><stop offset="0.9034" stop-color="rgb(0,4,0)"/><stop offset="0.9118" stop-color="rgb(0,0,0)"/><stop offset="0.9203" stop-color="rgb(0,5,0)"/><stop offset="0.9287" stop-color="rgb(0,8,0)"/><stop offset="0.9371" stop-color="rgb(0,11,0)"/><stop offset="0.9456" stop-color="rgb(0,2,0)"/><stop offset="0.954" stop-color="rgb(0,18,0)"/><stop offset="0.9625" stop-color="rgb(0,0,0)"/><stop offset="0.9709" stop-color="rgb(0,1,0)"/><stop offset="0.9794" stop-color="rgb(0,12,0)"/><stop offset="0.9878" stop-color="rgb(0,7,0)"/><stop offset="0.9962" stop-color="rgb(0,5,0)"/></linearGradient><filter id="s6" x="0" y="0" width="1" height="1" color-interpolation-filters="sRGB"><feTurbulence type="fractalNoise" baseFrequency="0.9 0.12" numOctaves="1" seed="13"/><feColorMatrix values="1 0 0 0 0 1 0 0 0 0 1 0 0 0 0 0 0 0 0 1" result="m0"/><feFlood x="627" y="32" width="1" height="1" flood-color="#fff" result="d"/><feComposite in="d" in2="d" x="627" y="32" width="1" height="5"/><feTile/><feComposite in="m0" operator="in"/><feMorphology operator="dilate" radius="0 2"/><feComposite in2="m0" result="m"/><feColorMatrix in="SourceGraphic" values="1 1 0 0 0.015 1 1 0 0 0.015 1 1 0 0 0.015 0 0 0 0 1" result="p"/><feColorMatrix in="SourceGraphic" values="0 0 1 0 0 0 0 1 0 0 0 0 1 0 0 0 0 0 0 1"/><feComposite in2="m" operator="arithmetic" k1="2.727" k2="-0.364" k3="0.545" k4="0.227"/><feComposite in="p" operator="arithmetic" k2="1" k3="1" k4="-.5"/><feComponentTransfer><feFuncR type="table" tableValues="0.149 0.14 0.13 0.121 0.112 0.099 0.086 0.073 0.065 0.075 0.086 0.099 0.125 0.152 0.185 0.247 0.31 0.372 0.435 0.497 0.58 0.669 0.757 0.845 0.933 0.908 0.883 0.858 0.815 0.744 0.673 0.602 0.607 0.631 0.655 0.684 0.729 0.775 0.821 0.867 0.901 0.916 0.932 0.948 0.964 0.98 0.982 0.983 0.984 0.986 0.987 0.988 0.99 0.991 0.992 0.993 0.995 0.996 0.997 0.999 1"/><feFuncG type="table" tableValues="0.18 0.218 0.255 0.292 0.33 0.393 0.463 0.532 0.599 0.651 0.703 0.748 0.761 0.774 0.788 0.803 0.819 0.835 0.851 0.867 0.882 0.897 0.912 0.926 0.941 0.887 0.832 0.778 0.702 0.596 0.489 0.382 0.389 0.424 0.458 0.5 0.571 0.641 0.711 0.781 0.834 0.86 0.886 0.912 0.939 0.965 0.967 0.969 0.972 0.974 0.976 0.979 0.981 0.984 0.986 0.988 0.991 0.993 0.995 0.998 1"/><feFuncB type="table" tableValues="0.588 0.646 0.704 0.762 0.82 0.856 0.886 0.917 0.915 0.784 0.654 0.536 0.471 0.405 0.356 0.37 0.385 0.399 0.414 0.428 0.458 0.49 0.523 0.556 0.588 0.556 0.523 0.49 0.445 0.382 0.319 0.256 0.28 0.325 0.371 0.424 0.502 0.58 0.659 0.737 0.797 0.827 0.858 0.888 0.919 0.949 0.952 0.956 0.959 0.963 0.966 0.969 0.973 0.976 0.98 0.983 0.986 0.99 0.993 0.997 1"/></feComponentTransfer><feGaussianBlur stdDeviation=".55 .25"/><feComponentTransfer><feFuncA type="discrete" tableValues="1 1"/></feComponentTransfer></filter><filter id="b6" x="-50%" y="-50%" width="200%" height="200%"><feGaussianBlur stdDeviation="4"/></filter><clipPath id="ca1"><rect x="50" y="225.3" width="240" height="54.7"/></clipPath><clipPath id="ca3"><rect x="305" y="216.5" width="235" height="45.5"/></clipPath><clipPath id="ca5"><rect x="560" y="221.3" width="240" height="53.7"/></clipPath><linearGradient id="v7" gradientUnits="userSpaceOnUse" x1="0" y1="317.3" x2="0" y2="411.2"><stop offset="0" stop-color="rgb(5,0,0)"/><stop offset="0.071" stop-color="rgb(6,0,0)"/><stop offset="0.188" stop-color="rgb(9,0,0)"/><stop offset="0.348" stop-color="rgb(13,0,0)"/><stop offset="0.508" stop-color="rgb(17,0,0)"/><stop offset="0.668" stop-color="rgb(24,0,0)"/><stop offset="0.774" stop-color="rgb(33,0,0)"/><stop offset="0.881" stop-color="rgb(46,0,0)"/><stop offset="0.934" stop-color="rgb(56,0,0)"/><stop offset="1" stop-color="rgb(69,0,0)"/></linearGradient><linearGradient id="h7" gradientUnits="userSpaceOnUse" x1="58.9" y1="0" x2="378" y2="0"><stop offset="0" stop-color="rgb(0,35,0)"/><stop offset="0.0031" stop-color="rgb(0,40,0)"/><stop offset="0.0063" stop-color="rgb(0,43,0)"/><stop offset="0.0094" stop-color="rgb(0,38,0)"/><stop offset="0.0125" stop-color="rgb(0,36,0)"/><stop offset="0.0157" stop-color="rgb(0,45,0)"/><stop offset="0.0188" stop-color="rgb(0,73,0)"/><stop offset="0.0219" stop-color="rgb(0,48,0)"/><stop offset="0.0251" stop-color="rgb(0,37,0)"/><stop offset="0.0282" stop-color="rgb(0,49,0)"/><stop offset="0.0313" stop-color="rgb(0,46,0)"/><stop offset="0.0345" stop-color="rgb(0,48,0)"/><stop offset="0.0376" stop-color="rgb(0,45,0)"/><stop offset="0.0407" stop-color="rgb(0,44,0)"/><stop offset="0.0439" stop-color="rgb(0,48,0)"/><stop offset="0.047" stop-color="rgb(0,43,0)"/><stop offset="0.0501" stop-color="rgb(0,63,0)"/><stop offset="0.0533" stop-color="rgb(0,79,0)"/><stop offset="0.0564" stop-color="rgb(0,50,0)"/><stop offset="0.0595" stop-color="rgb(0,49,0)"/><stop offset="0.0627" stop-color="rgb(0,43,0)"/><stop offset="0.0658" stop-color="rgb(0,42,0)"/><stop offset="0.0689" stop-color="rgb(0,52,0)"/><stop offset="0.0721" stop-color="rgb(0,48,0)"/><stop offset="0.0752" stop-color="rgb(0,43,0)"/><stop offset="0.0783" stop-color="rgb(0,50,0)"/><stop offset="0.0815" stop-color="rgb(0,50,0)"/><stop offset="0.0846" stop-color="rgb(0,50,0)"/><stop offset="0.0877" stop-color="rgb(0,42,0)"/><stop offset="0.0909" stop-color="rgb(0,40,0)"/><stop offset="0.094" stop-color="rgb(0,44,0)"/><stop offset="0.0971" stop-color="rgb(0,47,0)"/><stop offset="0.1003" stop-color="rgb(0,49,0)"/><stop offset="0.1034" stop-color="rgb(0,47,0)"/><stop offset="0.1065" stop-color="rgb(0,43,0)"/><stop offset="0.1097" stop-color="rgb(0,45,0)"/><stop offset="0.1128" stop-color="rgb(0,46,0)"/><stop offset="0.116" stop-color="rgb(0,45,0)"/><stop offset="0.1191" stop-color="rgb(0,63,0)"/><stop offset="0.1222" stop-color="rgb(0,51,0)"/><stop offset="0.1254" stop-color="rgb(0,42,0)"/><stop offset="0.1285" stop-color="rgb(0,41,0)"/><stop offset="0.1316" stop-color="rgb(0,49,0)"/><stop offset="0.1348" stop-color="rgb(0,52,0)"/><stop offset="0.1379" stop-color="rgb(0,52,0)"/><stop offset="0.141" stop-color="rgb(0,43,0)"/><stop offset="0.1442" stop-color="rgb(0,62,0)"/><stop offset="0.1473" stop-color="rgb(0,83,0)"/><stop offset="0.1504" stop-color="rgb(0,85,0)"/><stop offset="0.1536" stop-color="rgb(0,81,0)"/><stop offset="0.1567" stop-color="rgb(0,85,0)"/><stop offset="0.1598" stop-color="rgb(0,80,0)"/><stop offset="0.163" stop-color="rgb(0,73,0)"/><stop offset="0.1661" stop-color="rgb(0,68,0)"/><stop offset="0.1692" stop-color="rgb(0,67,0)"/><stop offset="0.1724" stop-color="rgb(0,60,0)"/><stop offset="0.1755" stop-color="rgb(0,64,0)"/><stop offset="0.1786" stop-color="rgb(0,61,0)"/><stop offset="0.1818" stop-color="rgb(0,76,0)"/><stop offset="0.1849" stop-color="rgb(0,82,0)"/><stop offset="0.188" stop-color="rgb(0,87,0)"/><stop offset="0.1912" stop-color="rgb(0,86,0)"/><stop offset="0.1943" stop-color="rgb(0,85,0)"/><stop offset="0.1974" stop-color="rgb(0,81,0)"/><stop offset="0.2006" stop-color="rgb(0,87,0)"/><stop offset="0.2037" stop-color="rgb(0,88,0)"/><stop offset="0.2068" stop-color="rgb(0,83,0)"/><stop offset="0.21" stop-color="rgb(0,93,0)"/><stop offset="0.2131" stop-color="rgb(0,85,0)"/><stop offset="0.2162" stop-color="rgb(0,86,0)"/><stop offset="0.2194" stop-color="rgb(0,91,0)"/><stop offset="0.2225" stop-color="rgb(0,86,0)"/><stop offset="0.2256" stop-color="rgb(0,89,0)"/><stop offset="0.2288" stop-color="rgb(0,85,0)"/><stop offset="0.2319" stop-color="rgb(0,92,0)"/><stop offset="0.235" stop-color="rgb(0,90,0)"/><stop offset="0.2382" stop-color="rgb(0,92,0)"/><stop offset="0.2413" stop-color="rgb(0,90,0)"/><stop offset="0.2444" stop-color="rgb(0,88,0)"/><stop offset="0.2476" stop-color="rgb(0,83,0)"/><stop offset="0.2507" stop-color="rgb(0,89,0)"/><stop offset="0.2538" stop-color="rgb(0,86,0)"/><stop offset="0.257" stop-color="rgb(0,91,0)"/><stop offset="0.2601" stop-color="rgb(0,78,0)"/><stop offset="0.2632" stop-color="rgb(0,84,0)"/><stop offset="0.2664" stop-color="rgb(0,79,0)"/><stop offset="0.2695" stop-color="rgb(0,79,0)"/><stop offset="0.2726" stop-color="rgb(0,78,0)"/><stop offset="0.2758" stop-color="rgb(0,73,0)"/><stop offset="0.2789" stop-color="rgb(0,64,0)"/><stop offset="0.282" stop-color="rgb(0,68,0)"/><stop offset="0.2852" stop-color="rgb(0,57,0)"/><stop offset="0.2883" stop-color="rgb(0,62,0)"/><stop offset="0.2914" stop-color="rgb(0,49,0)"/><stop offset="0.2946" stop-color="rgb(0,49,0)"/><stop offset="0.2977" stop-color="rgb(0,45,0)"/><stop offset="0.3008" stop-color="rgb(0,46,0)"/><stop offset="0.304" stop-color="rgb(0,51,0)"/><stop offset="0.3071" stop-color="rgb(0,53,0)"/><stop offset="0.3102" stop-color="rgb(0,51,0)"/><stop offset="0.3134" stop-color="rgb(0,49,0)"/><stop offset="0.3165" stop-color="rgb(0,53,0)"/><stop offset="0.3196" stop-color="rgb(0,53,0)"/><stop offset="0.3228" stop-color="rgb(0,70,0)"/><stop offset="0.3259" stop-color="rgb(0,73,0)"/><stop offset="0.3291" stop-color="rgb(0,65,0)"/><stop offset="0.3322" stop-color="rgb(0,67,0)"/><stop offset="0.3353" stop-color="rgb(0,67,0)"/><stop offset="0.3385" stop-color="rgb(0,59,0)"/><stop offset="0.3416" stop-color="rgb(0,63,0)"/><stop offset="0.3447" stop-color="rgb(0,60,0)"/><stop offset="0.3479" stop-color="rgb(0,50,0)"/><stop offset="0.351" stop-color="rgb(0,37,0)"/><stop offset="0.3541" stop-color="rgb(0,47,0)"/><stop offset="0.3573" stop-color="rgb(0,39,0)"/><stop offset="0.3604" stop-color="rgb(0,35,0)"/><stop offset="0.3635" stop-color="rgb(0,37,0)"/><stop offset="0.3667" stop-color="rgb(0,45,0)"/><stop offset="0.3698" stop-color="rgb(0,41,0)"/><stop offset="0.3729" stop-color="rgb(0,44,0)"/><stop offset="0.3761" stop-color="rgb(0,41,0)"/><stop offset="0.3792" stop-color="rgb(0,42,0)"/><stop offset="0.3823" stop-color="rgb(0,42,0)"/><stop offset="0.3855" stop-color="rgb(0,46,0)"/><stop offset="0.3886" stop-color="rgb(0,36,0)"/><stop offset="0.3917" stop-color="rgb(0,40,0)"/><stop offset="0.3949" stop-color="rgb(0,34,0)"/><stop offset="0.398" stop-color="rgb(0,38,0)"/><stop offset="0.4011" stop-color="rgb(0,34,0)"/><stop offset="0.4043" stop-color="rgb(0,38,0)"/><stop offset="0.4074" stop-color="rgb(0,44,0)"/><stop offset="0.4105" stop-color="rgb(0,44,0)"/><stop offset="0.4137" stop-color="rgb(0,42,0)"/><stop offset="0.4168" stop-color="rgb(0,45,0)"/><stop offset="0.4199" stop-color="rgb(0,40,0)"/><stop offset="0.4231" stop-color="rgb(0,43,0)"/><stop offset="0.4262" stop-color="rgb(0,39,0)"/><stop offset="0.4293" stop-color="rgb(0,34,0)"/><stop offset="0.4325" stop-color="rgb(0,38,0)"/><stop offset="0.4356" stop-color="rgb(0,41,0)"/><stop offset="0.4387" stop-color="rgb(0,36,0)"/><stop offset="0.4419" stop-color="rgb(0,42,0)"/><stop offset="0.445" stop-color="rgb(0,43,0)"/><stop offset="0.4481" stop-color="rgb(0,32,0)"/><stop offset="0.4513" stop-color="rgb(0,38,0)"/><stop offset="0.4544" stop-color="rgb(0,40,0)"/><stop offset="0.4575" stop-color="rgb(0,41,0)"/><stop offset="0.4607" stop-color="rgb(0,43,0)"/><stop offset="0.4638" stop-color="rgb(0,33,0)"/><stop offset="0.4669" stop-color="rgb(0,35,0)"/><stop offset="0.4701" stop-color="rgb(0,35,0)"/><stop offset="0.4732" stop-color="rgb(0,41,0)"/><stop offset="0.4763" stop-color="rgb(0,33,0)"/><stop offset="0.4795" stop-color="rgb(0,42,0)"/><stop offset="0.4826" stop-color="rgb(0,42,0)"/><stop offset="0.4857" stop-color="rgb(0,33,0)"/><stop offset="0.4889" stop-color="rgb(0,37,0)"/><stop offset="0.492" stop-color="rgb(0,31,0)"/><stop offset="0.4951" stop-color="rgb(0,41,0)"/><stop offset="0.4983" stop-color="rgb(0,36,0)"/><stop offset="0.5014" stop-color="rgb(0,38,0)"/><stop offset="0.5045" stop-color="rgb(0,34,0)"/><stop offset="0.5077" stop-color="rgb(0,32,0)"/><stop offset="0.5108" stop-color="rgb(0,37,0)"/><stop offset="0.5139" stop-color="rgb(0,33,0)"/><stop offset="0.5171" stop-color="rgb(0,37,0)"/><stop offset="0.5202" stop-color="rgb(0,41,0)"/><stop offset="0.5233" stop-color="rgb(0,34,0)"/><stop offset="0.5265" stop-color="rgb(0,32,0)"/><stop offset="0.5296" stop-color="rgb(0,34,0)"/><stop offset="0.5327" stop-color="rgb(0,33,0)"/><stop offset="0.5359" stop-color="rgb(0,36,0)"/><stop offset="0.539" stop-color="rgb(0,39,0)"/><stop offset="0.5421" stop-color="rgb(0,37,0)"/><stop offset="0.5453" stop-color="rgb(0,31,0)"/><stop offset="0.5484" stop-color="rgb(0,38,0)"/><stop offset="0.5516" stop-color="rgb(0,38,0)"/><stop offset="0.5547" stop-color="rgb(0,38,0)"/><stop offset="0.5578" stop-color="rgb(0,33,0)"/><stop offset="0.561" stop-color="rgb(0,36,0)"/><stop offset="0.5641" stop-color="rgb(0,36,0)"/><stop offset="0.5672" stop-color="rgb(0,36,0)"/><stop offset="0.5704" stop-color="rgb(0,28,0)"/><stop offset="0.5735" stop-color="rgb(0,27,0)"/><stop offset="0.5766" stop-color="rgb(0,33,0)"/><stop offset="0.5798" stop-color="rgb(0,37,0)"/><stop offset="0.5829" stop-color="rgb(0,36,0)"/><stop offset="0.586" stop-color="rgb(0,33,0)"/><stop offset="0.5892" stop-color="rgb(0,35,0)"/><stop offset="0.5923" stop-color="rgb(0,37,0)"/><stop offset="0.5954" stop-color="rgb(0,32,0)"/><stop offset="0.5986" stop-color="rgb(0,37,0)"/><stop offset="0.6017" stop-color="rgb(0,27,0)"/><stop offset="0.6048" stop-color="rgb(0,27,0)"/><stop offset="0.608" stop-color="rgb(0,31,0)"/><stop offset="0.6111" stop-color="rgb(0,26,0)"/><stop offset="0.6142" stop-color="rgb(0,37,0)"/><stop offset="0.6174" stop-color="rgb(0,30,0)"/><stop offset="0.6205" stop-color="rgb(0,39,0)"/><stop offset="0.6236" stop-color="rgb(0,39,0)"/><stop offset="0.6268" stop-color="rgb(0,26,0)"/><stop offset="0.6299" stop-color="rgb(0,37,0)"/><stop offset="0.633" stop-color="rgb(0,27,0)"/><stop offset="0.6362" stop-color="rgb(0,37,0)"/><stop offset="0.6393" stop-color="rgb(0,29,0)"/><stop offset="0.6424" stop-color="rgb(0,31,0)"/><stop offset="0.6456" stop-color="rgb(0,39,0)"/><stop offset="0.6487" stop-color="rgb(0,32,0)"/><stop offset="0.6518" stop-color="rgb(0,28,0)"/><stop offset="0.655" stop-color="rgb(0,32,0)"/><stop offset="0.6581" stop-color="rgb(0,37,0)"/><stop offset="0.6612" stop-color="rgb(0,29,0)"/><stop offset="0.6644" stop-color="rgb(0,31,0)"/><stop offset="0.6675" stop-color="rgb(0,30,0)"/><stop offset="0.6706" stop-color="rgb(0,30,0)"/><stop offset="0.6738" stop-color="rgb(0,31,0)"/><stop offset="0.6769" stop-color="rgb(0,29,0)"/><stop offset="0.68" stop-color="rgb(0,34,0)"/><stop offset="0.6832" stop-color="rgb(0,35,0)"/><stop offset="0.6863" stop-color="rgb(0,33,0)"/><stop offset="0.6894" stop-color="rgb(0,30,0)"/><stop offset="0.6926" stop-color="rgb(0,31,0)"/><stop offset="0.6957" stop-color="rgb(0,33,0)"/><stop offset="0.6988" stop-color="rgb(0,35,0)"/><stop offset="0.702" stop-color="rgb(0,37,0)"/><stop offset="0.7051" stop-color="rgb(0,38,0)"/><stop offset="0.7082" stop-color="rgb(0,36,0)"/><stop offset="0.7114" stop-color="rgb(0,28,0)"/><stop offset="0.7145" stop-color="rgb(0,28,0)"/><stop offset="0.7176" stop-color="rgb(0,38,0)"/><stop offset="0.7208" stop-color="rgb(0,29,0)"/><stop offset="0.7239" stop-color="rgb(0,37,0)"/><stop offset="0.727" stop-color="rgb(0,28,0)"/><stop offset="0.7302" stop-color="rgb(0,30,0)"/><stop offset="0.7333" stop-color="rgb(0,40,0)"/><stop offset="0.7364" stop-color="rgb(0,37,0)"/><stop offset="0.7396" stop-color="rgb(0,36,0)"/><stop offset="0.7427" stop-color="rgb(0,33,0)"/><stop offset="0.7458" stop-color="rgb(0,34,0)"/><stop offset="0.749" stop-color="rgb(0,30,0)"/><stop offset="0.7521" stop-color="rgb(0,29,0)"/><stop offset="0.7552" stop-color="rgb(0,31,0)"/><stop offset="0.7584" stop-color="rgb(0,30,0)"/><stop offset="0.7615" stop-color="rgb(0,35,0)"/><stop offset="0.7647" stop-color="rgb(0,41,0)"/><stop offset="0.7678" stop-color="rgb(0,35,0)"/><stop offset="0.7709" stop-color="rgb(0,33,0)"/><stop offset="0.7741" stop-color="rgb(0,35,0)"/><stop offset="0.7772" stop-color="rgb(0,33,0)"/><stop offset="0.7803" stop-color="rgb(0,41,0)"/><stop offset="0.7835" stop-color="rgb(0,38,0)"/><stop offset="0.7866" stop-color="rgb(0,29,0)"/><stop offset="0.7897" stop-color="rgb(0,38,0)"/><stop offset="0.7929" stop-color="rgb(0,36,0)"/><stop offset="0.796" stop-color="rgb(0,34,0)"/><stop offset="0.7991" stop-color="rgb(0,38,0)"/><stop offset="0.8023" stop-color="rgb(0,40,0)"/><stop offset="0.8054" stop-color="rgb(0,30,0)"/><stop offset="0.8085" stop-color="rgb(0,41,0)"/><stop offset="0.8117" stop-color="rgb(0,39,0)"/><stop offset="0.8148" stop-color="rgb(0,38,0)"/><stop offset="0.8179" stop-color="rgb(0,39,0)"/><stop offset="0.8211" stop-color="rgb(0,41,0)"/><stop offset="0.8242" stop-color="rgb(0,30,0)"/><stop offset="0.8273" stop-color="rgb(0,38,0)"/><stop offset="0.8305" stop-color="rgb(0,36,0)"/><stop offset="0.8336" stop-color="rgb(0,31,0)"/><stop offset="0.8367" stop-color="rgb(0,41,0)"/><stop offset="0.8399" stop-color="rgb(0,42,0)"/><stop offset="0.843" stop-color="rgb(0,36,0)"/><stop offset="0.8461" stop-color="rgb(0,35,0)"/><stop offset="0.8493" stop-color="rgb(0,41,0)"/><stop offset="0.8524" stop-color="rgb(0,33,0)"/><stop offset="0.8555" stop-color="rgb(0,42,0)"/><stop offset="0.8587" stop-color="rgb(0,32,0)"/><stop offset="0.8618" stop-color="rgb(0,37,0)"/><stop offset="0.8649" stop-color="rgb(0,36,0)"/><stop offset="0.8681" stop-color="rgb(0,33,0)"/><stop offset="0.8712" stop-color="rgb(0,36,0)"/><stop offset="0.8743" stop-color="rgb(0,41,0)"/><stop offset="0.8775" stop-color="rgb(0,42,0)"/><stop offset="0.8806" stop-color="rgb(0,43,0)"/><stop offset="0.8837" stop-color="rgb(0,33,0)"/><stop offset="0.8869" stop-color="rgb(0,43,0)"/><stop offset="0.89" stop-color="rgb(0,32,0)"/><stop offset="0.8931" stop-color="rgb(0,32,0)"/><stop offset="0.8963" stop-color="rgb(0,41,0)"/><stop offset="0.8994" stop-color="rgb(0,39,0)"/><stop offset="0.9025" stop-color="rgb(0,37,0)"/><stop offset="0.9057" stop-color="rgb(0,32,0)"/><stop offset="0.9088" stop-color="rgb(0,37,0)"/><stop offset="0.9119" stop-color="rgb(0,36,0)"/><stop offset="0.9151" stop-color="rgb(0,38,0)"/><stop offset="0.9182" stop-color="rgb(0,33,0)"/><stop offset="0.9213" stop-color="rgb(0,37,0)"/><stop offset="0.9245" stop-color="rgb(0,39,0)"/><stop offset="0.9276" stop-color="rgb(0,38,0)"/><stop offset="0.9307" stop-color="rgb(0,32,0)"/><stop offset="0.9339" stop-color="rgb(0,53,0)"/><stop offset="0.937" stop-color="rgb(0,40,0)"/><stop offset="0.9401" stop-color="rgb(0,39,0)"/><stop offset="0.9433" stop-color="rgb(0,39,0)"/><stop offset="0.9464" stop-color="rgb(0,35,0)"/><stop offset="0.9495" stop-color="rgb(0,38,0)"/><stop offset="0.9527" stop-color="rgb(0,33,0)"/><stop offset="0.9558" stop-color="rgb(0,33,0)"/><stop offset="0.9589" stop-color="rgb(0,34,0)"/><stop offset="0.9621" stop-color="rgb(0,39,0)"/><stop offset="0.9652" stop-color="rgb(0,32,0)"/><stop offset="0.9683" stop-color="rgb(0,38,0)"/><stop offset="0.9715" stop-color="rgb(0,40,0)"/><stop offset="0.9746" stop-color="rgb(0,39,0)"/><stop offset="0.9777" stop-color="rgb(0,44,0)"/><stop offset="0.9809" stop-color="rgb(0,36,0)"/><stop offset="0.984" stop-color="rgb(0,47,0)"/><stop offset="0.9872" stop-color="rgb(0,71,0)"/><stop offset="0.9903" stop-color="rgb(0,51,0)"/><stop offset="0.9934" stop-color="rgb(0,35,0)"/><stop offset="0.9966" stop-color="rgb(0,44,0)"/><stop offset="0.9997" stop-color="rgb(0,35,0)"/></linearGradient><filter id="s7" x="0" y="0" width="1" height="1" color-interpolation-filters="sRGB"><feTurbulence type="fractalNoise" baseFrequency="0.9 0.35" numOctaves="1" seed="21"/><feColorMatrix values="1 0 0 0 0 1 0 0 0 0 1 0 0 0 0 0 0 0 0 1" result="m"/><feColorMatrix in="SourceGraphic" values="1 1 0 0 -0.15 1 1 0 0 -0.15 1 1 0 0 -0.15 0 0 0 0 1" result="p"/><feColorMatrix in="SourceGraphic" values="0 0 1 0 0 0 0 1 0 0 0 0 1 0 0 0 0 0 0 1"/><feComposite in2="m" operator="arithmetic" k1="8.182" k2="-3.091" k3="0.591" k4="0.205"/><feComposite in="p" operator="arithmetic" k2="1" k3="1" k4="-.5"/><feComponentTransfer><feFuncR type="table" tableValues="0.149 0.14 0.13 0.121 0.112 0.099 0.086 0.073 0.065 0.075 0.086 0.099 0.125 0.152 0.185 0.247 0.31 0.372 0.435 0.497 0.58 0.669 0.757 0.845 0.933 0.908 0.883 0.858 0.815 0.744 0.673 0.602 0.607 0.631 0.655 0.684 0.729 0.775 0.821 0.867 0.901 0.916 0.932 0.948 0.964 0.98 0.982 0.983 0.984 0.986 0.987 0.988 0.99 0.991 0.992 0.993 0.995 0.996 0.997 0.999 1"/><feFuncG type="table" tableValues="0.18 0.218 0.255 0.292 0.33 0.393 0.463 0.532 0.599 0.651 0.703 0.748 0.761 0.774 0.788 0.803 0.819 0.835 0.851 0.867 0.882 0.897 0.912 0.926 0.941 0.887 0.832 0.778 0.702 0.596 0.489 0.382 0.389 0.424 0.458 0.5 0.571 0.641 0.711 0.781 0.834 0.86 0.886 0.912 0.939 0.965 0.967 0.969 0.972 0.974 0.976 0.979 0.981 0.984 0.986 0.988 0.991 0.993 0.995 0.998 1"/><feFuncB type="table" tableValues="0.588 0.646 0.704 0.762 0.82 0.856 0.886 0.917 0.915 0.784 0.654 0.536 0.471 0.405 0.356 0.37 0.385 0.399 0.414 0.428 0.458 0.49 0.523 0.556 0.588 0.556 0.523 0.49 0.445 0.382 0.319 0.256 0.28 0.325 0.371 0.424 0.502 0.58 0.659 0.737 0.797 0.827 0.858 0.888 0.919 0.949 0.952 0.956 0.959 0.963 0.966 0.969 0.973 0.976 0.98 0.983 0.986 0.99 0.993 0.997 1"/></feComponentTransfer><feGaussianBlur stdDeviation="0.5"/><feComponentTransfer><feFuncA type="discrete" tableValues="1 1"/></feComponentTransfer></filter><filter id="b7" x="-50%" y="-50%" width="200%" height="200%"><feGaussianBlur stdDeviation="2"/></filter><clipPath id="cb1"><rect x="55" y="500.2" width="345" height="59.8"/></clipPath><linearGradient id="v8" gradientUnits="userSpaceOnUse" x1="0" y1="316" x2="0" y2="410"><stop offset="0" stop-color="rgb(8,0,0)"/><stop offset="0.149" stop-color="rgb(10,0,0)"/><stop offset="0.309" stop-color="rgb(13,0,0)"/><stop offset="0.468" stop-color="rgb(17,0,0)"/><stop offset="0.628" stop-color="rgb(22,0,0)"/><stop offset="0.787" stop-color="rgb(28,0,0)"/><stop offset="0.894" stop-color="rgb(36,0,0)"/><stop offset="1" stop-color="rgb(46,0,0)"/></linearGradient><linearGradient id="h8" gradientUnits="userSpaceOnUse" x1="447" y1="0" x2="766" y2="0"><stop offset="0" stop-color="rgb(0,53,0)"/><stop offset="0.0031" stop-color="rgb(0,50,0)"/><stop offset="0.0063" stop-color="rgb(0,54,0)"/><stop offset="0.0094" stop-color="rgb(0,47,0)"/><stop offset="0.0125" stop-color="rgb(0,54,0)"/><stop offset="0.0157" stop-color="rgb(0,56,0)"/><stop offset="0.0188" stop-color="rgb(0,49,0)"/><stop offset="0.0219" stop-color="rgb(0,54,0)"/><stop offset="0.0251" stop-color="rgb(0,49,0)"/><stop offset="0.0282" stop-color="rgb(0,65,0)"/><stop offset="0.0313" stop-color="rgb(0,57,0)"/><stop offset="0.0345" stop-color="rgb(0,55,0)"/><stop offset="0.0376" stop-color="rgb(0,48,0)"/><stop offset="0.0408" stop-color="rgb(0,48,0)"/><stop offset="0.0439" stop-color="rgb(0,50,0)"/><stop offset="0.047" stop-color="rgb(0,47,0)"/><stop offset="0.0502" stop-color="rgb(0,52,0)"/><stop offset="0.0533" stop-color="rgb(0,56,0)"/><stop offset="0.0564" stop-color="rgb(0,48,0)"/><stop offset="0.0596" stop-color="rgb(0,52,0)"/><stop offset="0.0627" stop-color="rgb(0,55,0)"/><stop offset="0.0658" stop-color="rgb(0,56,0)"/><stop offset="0.069" stop-color="rgb(0,52,0)"/><stop offset="0.0721" stop-color="rgb(0,48,0)"/><stop offset="0.0752" stop-color="rgb(0,54,0)"/><stop offset="0.0784" stop-color="rgb(0,53,0)"/><stop offset="0.0815" stop-color="rgb(0,51,0)"/><stop offset="0.0846" stop-color="rgb(0,48,0)"/><stop offset="0.0878" stop-color="rgb(0,49,0)"/><stop offset="0.0909" stop-color="rgb(0,61,0)"/><stop offset="0.094" stop-color="rgb(0,49,0)"/><stop offset="0.0972" stop-color="rgb(0,53,0)"/><stop offset="0.1003" stop-color="rgb(0,54,0)"/><stop offset="0.1034" stop-color="rgb(0,51,0)"/><stop offset="0.1066" stop-color="rgb(0,48,0)"/><stop offset="0.1097" stop-color="rgb(0,54,0)"/><stop offset="0.1129" stop-color="rgb(0,49,0)"/><stop offset="0.116" stop-color="rgb(0,55,0)"/><stop offset="0.1191" stop-color="rgb(0,50,0)"/><stop offset="0.1223" stop-color="rgb(0,54,0)"/><stop offset="0.1254" stop-color="rgb(0,55,0)"/><stop offset="0.1285" stop-color="rgb(0,49,0)"/><stop offset="0.1317" stop-color="rgb(0,55,0)"/><stop offset="0.1348" stop-color="rgb(0,57,0)"/><stop offset="0.1379" stop-color="rgb(0,50,0)"/><stop offset="0.1411" stop-color="rgb(0,54,0)"/><stop offset="0.1442" stop-color="rgb(0,53,0)"/><stop offset="0.1473" stop-color="rgb(0,55,0)"/><stop offset="0.1505" stop-color="rgb(0,54,0)"/><stop offset="0.1536" stop-color="rgb(0,56,0)"/><stop offset="0.1567" stop-color="rgb(0,53,0)"/><stop offset="0.1599" stop-color="rgb(0,52,0)"/><stop offset="0.163" stop-color="rgb(0,48,0)"/><stop offset="0.1661" stop-color="rgb(0,50,0)"/><stop offset="0.1693" stop-color="rgb(0,54,0)"/><stop offset="0.1724" stop-color="rgb(0,51,0)"/><stop offset="0.1755" stop-color="rgb(0,51,0)"/><stop offset="0.1787" stop-color="rgb(0,48,0)"/><stop offset="0.1818" stop-color="rgb(0,54,0)"/><stop offset="0.185" stop-color="rgb(0,51,0)"/><stop offset="0.1881" stop-color="rgb(0,49,0)"/><stop offset="0.1912" stop-color="rgb(0,54,0)"/><stop offset="0.1944" stop-color="rgb(0,53,0)"/><stop offset="0.1975" stop-color="rgb(0,49,0)"/><stop offset="0.2006" stop-color="rgb(0,57,0)"/><stop offset="0.2038" stop-color="rgb(0,49,0)"/><stop offset="0.2069" stop-color="rgb(0,57,0)"/><stop offset="0.21" stop-color="rgb(0,56,0)"/><stop offset="0.2132" stop-color="rgb(0,58,0)"/><stop offset="0.2163" stop-color="rgb(0,49,0)"/><stop offset="0.2194" stop-color="rgb(0,56,0)"/><stop offset="0.2226" stop-color="rgb(0,50,0)"/><stop offset="0.2257" stop-color="rgb(0,55,0)"/><stop offset="0.2288" stop-color="rgb(0,56,0)"/><stop offset="0.232" stop-color="rgb(0,51,0)"/><stop offset="0.2351" stop-color="rgb(0,50,0)"/><stop offset="0.2382" stop-color="rgb(0,53,0)"/><stop offset="0.2414" stop-color="rgb(0,51,0)"/><stop offset="0.2445" stop-color="rgb(0,57,0)"/><stop offset="0.2476" stop-color="rgb(0,51,0)"/><stop offset="0.2508" stop-color="rgb(0,50,0)"/><stop offset="0.2539" stop-color="rgb(0,52,0)"/><stop offset="0.2571" stop-color="rgb(0,53,0)"/><stop offset="0.2602" stop-color="rgb(0,50,0)"/><stop offset="0.2633" stop-color="rgb(0,53,0)"/><stop offset="0.2665" stop-color="rgb(0,53,0)"/><stop offset="0.2696" stop-color="rgb(0,55,0)"/><stop offset="0.2727" stop-color="rgb(0,56,0)"/><stop offset="0.2759" stop-color="rgb(0,58,0)"/><stop offset="0.279" stop-color="rgb(0,58,0)"/><stop offset="0.2821" stop-color="rgb(0,50,0)"/><stop offset="0.2853" stop-color="rgb(0,51,0)"/><stop offset="0.2884" stop-color="rgb(0,58,0)"/><stop offset="0.2915" stop-color="rgb(0,52,0)"/><stop offset="0.2947" stop-color="rgb(0,40,0)"/><stop offset="0.2978" stop-color="rgb(0,40,0)"/><stop offset="0.3009" stop-color="rgb(0,38,0)"/><stop offset="0.3041" stop-color="rgb(0,44,0)"/><stop offset="0.3072" stop-color="rgb(0,47,0)"/><stop offset="0.3103" stop-color="rgb(0,52,0)"/><stop offset="0.3135" stop-color="rgb(0,48,0)"/><stop offset="0.3166" stop-color="rgb(0,42,0)"/><stop offset="0.3197" stop-color="rgb(0,47,0)"/><stop offset="0.3229" stop-color="rgb(0,40,0)"/><stop offset="0.326" stop-color="rgb(0,42,0)"/><stop offset="0.3292" stop-color="rgb(0,52,0)"/><stop offset="0.3323" stop-color="rgb(0,49,0)"/><stop offset="0.3354" stop-color="rgb(0,46,0)"/><stop offset="0.3386" stop-color="rgb(0,40,0)"/><stop offset="0.3417" stop-color="rgb(0,47,0)"/><stop offset="0.3448" stop-color="rgb(0,40,0)"/><stop offset="0.348" stop-color="rgb(0,43,0)"/><stop offset="0.3511" stop-color="rgb(0,40,0)"/><stop offset="0.3542" stop-color="rgb(0,47,0)"/><stop offset="0.3574" stop-color="rgb(0,40,0)"/><stop offset="0.3605" stop-color="rgb(0,44,0)"/><stop offset="0.3636" stop-color="rgb(0,39,0)"/><stop offset="0.3668" stop-color="rgb(0,40,0)"/><stop offset="0.3699" stop-color="rgb(0,46,0)"/><stop offset="0.373" stop-color="rgb(0,44,0)"/><stop offset="0.3762" stop-color="rgb(0,40,0)"/><stop offset="0.3793" stop-color="rgb(0,48,0)"/><stop offset="0.3824" stop-color="rgb(0,40,0)"/><stop offset="0.3856" stop-color="rgb(0,44,0)"/><stop offset="0.3887" stop-color="rgb(0,42,0)"/><stop offset="0.3918" stop-color="rgb(0,45,0)"/><stop offset="0.395" stop-color="rgb(0,46,0)"/><stop offset="0.3981" stop-color="rgb(0,41,0)"/><stop offset="0.4013" stop-color="rgb(0,38,0)"/><stop offset="0.4044" stop-color="rgb(0,47,0)"/><stop offset="0.4075" stop-color="rgb(0,38,0)"/><stop offset="0.4107" stop-color="rgb(0,40,0)"/><stop offset="0.4138" stop-color="rgb(0,45,0)"/><stop offset="0.4169" stop-color="rgb(0,44,0)"/><stop offset="0.4201" stop-color="rgb(0,46,0)"/><stop offset="0.4232" stop-color="rgb(0,38,0)"/><stop offset="0.4263" stop-color="rgb(0,41,0)"/><stop offset="0.4295" stop-color="rgb(0,39,0)"/><stop offset="0.4326" stop-color="rgb(0,43,0)"/><stop offset="0.4357" stop-color="rgb(0,44,0)"/><stop offset="0.4389" stop-color="rgb(0,41,0)"/><stop offset="0.442" stop-color="rgb(0,39,0)"/><stop offset="0.4451" stop-color="rgb(0,44,0)"/><stop offset="0.4483" stop-color="rgb(0,45,0)"/><stop offset="0.4514" stop-color="rgb(0,39,0)"/><stop offset="0.4545" stop-color="rgb(0,39,0)"/><stop offset="0.4577" stop-color="rgb(0,38,0)"/><stop offset="0.4608" stop-color="rgb(0,44,0)"/><stop offset="0.4639" stop-color="rgb(0,60,0)"/><stop offset="0.4671" stop-color="rgb(0,52,0)"/><stop offset="0.4702" stop-color="rgb(0,44,0)"/><stop offset="0.4734" stop-color="rgb(0,38,0)"/><stop offset="0.4765" stop-color="rgb(0,44,0)"/><stop offset="0.4796" stop-color="rgb(0,40,0)"/><stop offset="0.4828" stop-color="rgb(0,43,0)"/><stop offset="0.4859" stop-color="rgb(0,40,0)"/><stop offset="0.489" stop-color="rgb(0,41,0)"/><stop offset="0.4922" stop-color="rgb(0,40,0)"/><stop offset="0.4953" stop-color="rgb(0,43,0)"/><stop offset="0.4984" stop-color="rgb(0,45,0)"/><stop offset="0.5016" stop-color="rgb(0,40,0)"/><stop offset="0.5047" stop-color="rgb(0,41,0)"/><stop offset="0.5078" stop-color="rgb(0,38,0)"/><stop offset="0.511" stop-color="rgb(0,43,0)"/><stop offset="0.5141" stop-color="rgb(0,42,0)"/><stop offset="0.5172" stop-color="rgb(0,45,0)"/><stop offset="0.5204" stop-color="rgb(0,40,0)"/><stop offset="0.5235" stop-color="rgb(0,41,0)"/><stop offset="0.5266" stop-color="rgb(0,47,0)"/><stop offset="0.5298" stop-color="rgb(0,41,0)"/><stop offset="0.5329" stop-color="rgb(0,41,0)"/><stop offset="0.5361" stop-color="rgb(0,43,0)"/><stop offset="0.5392" stop-color="rgb(0,39,0)"/><stop offset="0.5423" stop-color="rgb(0,40,0)"/><stop offset="0.5455" stop-color="rgb(0,39,0)"/><stop offset="0.5486" stop-color="rgb(0,41,0)"/><stop offset="0.5517" stop-color="rgb(0,40,0)"/><stop offset="0.5549" stop-color="rgb(0,41,0)"/><stop offset="0.558" stop-color="rgb(0,43,0)"/><stop offset="0.5611" stop-color="rgb(0,39,0)"/><stop offset="0.5643" stop-color="rgb(0,42,0)"/><stop offset="0.5674" stop-color="rgb(0,43,0)"/><stop offset="0.5705" stop-color="rgb(0,40,0)"/><stop offset="0.5737" stop-color="rgb(0,42,0)"/><stop offset="0.5768" stop-color="rgb(0,45,0)"/><stop offset="0.5799" stop-color="rgb(0,44,0)"/><stop offset="0.5831" stop-color="rgb(0,45,0)"/><stop offset="0.5862" stop-color="rgb(0,43,0)"/><stop offset="0.5893" stop-color="rgb(0,46,0)"/><stop offset="0.5925" stop-color="rgb(0,38,0)"/><stop offset="0.5956" stop-color="rgb(0,45,0)"/><stop offset="0.5987" stop-color="rgb(0,44,0)"/><stop offset="0.6019" stop-color="rgb(0,45,0)"/><stop offset="0.605" stop-color="rgb(0,37,0)"/><stop offset="0.6082" stop-color="rgb(0,40,0)"/><stop offset="0.6113" stop-color="rgb(0,37,0)"/><stop offset="0.6144" stop-color="rgb(0,42,0)"/><stop offset="0.6176" stop-color="rgb(0,38,0)"/><stop offset="0.6207" stop-color="rgb(0,40,0)"/><stop offset="0.6238" stop-color="rgb(0,44,0)"/><stop offset="0.627" stop-color="rgb(0,44,0)"/><stop offset="0.6301" stop-color="rgb(0,40,0)"/><stop offset="0.6332" stop-color="rgb(0,44,0)"/><stop offset="0.6364" stop-color="rgb(0,41,0)"/><stop offset="0.6395" stop-color="rgb(0,45,0)"/><stop offset="0.6426" stop-color="rgb(0,44,0)"/><stop offset="0.6458" stop-color="rgb(0,45,0)"/><stop offset="0.6489" stop-color="rgb(0,40,0)"/><stop offset="0.652" stop-color="rgb(0,42,0)"/><stop offset="0.6552" stop-color="rgb(0,41,0)"/><stop offset="0.6583" stop-color="rgb(0,43,0)"/><stop offset="0.6614" stop-color="rgb(0,38,0)"/><stop offset="0.6646" stop-color="rgb(0,43,0)"/><stop offset="0.6677" stop-color="rgb(0,47,0)"/><stop offset="0.6708" stop-color="rgb(0,44,0)"/><stop offset="0.674" stop-color="rgb(0,46,0)"/><stop offset="0.6771" stop-color="rgb(0,40,0)"/><stop offset="0.6803" stop-color="rgb(0,47,0)"/><stop offset="0.6834" stop-color="rgb(0,38,0)"/><stop offset="0.6865" stop-color="rgb(0,40,0)"/><stop offset="0.6897" stop-color="rgb(0,42,0)"/><stop offset="0.6928" stop-color="rgb(0,38,0)"/><stop offset="0.6959" stop-color="rgb(0,44,0)"/><stop offset="0.6991" stop-color="rgb(0,43,0)"/><stop offset="0.7022" stop-color="rgb(0,38,0)"/><stop offset="0.7053" stop-color="rgb(0,40,0)"/><stop offset="0.7085" stop-color="rgb(0,40,0)"/><stop offset="0.7116" stop-color="rgb(0,41,0)"/><stop offset="0.7147" stop-color="rgb(0,38,0)"/><stop offset="0.7179" stop-color="rgb(0,40,0)"/><stop offset="0.721" stop-color="rgb(0,45,0)"/><stop offset="0.7241" stop-color="rgb(0,48,0)"/><stop offset="0.7273" stop-color="rgb(0,45,0)"/><stop offset="0.7304" stop-color="rgb(0,38,0)"/><stop offset="0.7335" stop-color="rgb(0,47,0)"/><stop offset="0.7367" stop-color="rgb(0,44,0)"/><stop offset="0.7398" stop-color="rgb(0,41,0)"/><stop offset="0.7429" stop-color="rgb(0,43,0)"/><stop offset="0.7461" stop-color="rgb(0,39,0)"/><stop offset="0.7492" stop-color="rgb(0,42,0)"/><stop offset="0.7524" stop-color="rgb(0,47,0)"/><stop offset="0.7555" stop-color="rgb(0,47,0)"/><stop offset="0.7586" stop-color="rgb(0,48,0)"/><stop offset="0.7618" stop-color="rgb(0,47,0)"/><stop offset="0.7649" stop-color="rgb(0,46,0)"/><stop offset="0.768" stop-color="rgb(0,39,0)"/><stop offset="0.7712" stop-color="rgb(0,46,0)"/><stop offset="0.7743" stop-color="rgb(0,41,0)"/><stop offset="0.7774" stop-color="rgb(0,41,0)"/><stop offset="0.7806" stop-color="rgb(0,38,0)"/><stop offset="0.7837" stop-color="rgb(0,40,0)"/><stop offset="0.7868" stop-color="rgb(0,40,0)"/><stop offset="0.79" stop-color="rgb(0,46,0)"/><stop offset="0.7931" stop-color="rgb(0,42,0)"/><stop offset="0.7962" stop-color="rgb(0,48,0)"/><stop offset="0.7994" stop-color="rgb(0,47,0)"/><stop offset="0.8025" stop-color="rgb(0,45,0)"/><stop offset="0.8056" stop-color="rgb(0,44,0)"/><stop offset="0.8088" stop-color="rgb(0,44,0)"/><stop offset="0.8119" stop-color="rgb(0,48,0)"/><stop offset="0.815" stop-color="rgb(0,45,0)"/><stop offset="0.8182" stop-color="rgb(0,47,0)"/><stop offset="0.8213" stop-color="rgb(0,48,0)"/><stop offset="0.8245" stop-color="rgb(0,47,0)"/><stop offset="0.8276" stop-color="rgb(0,42,0)"/><stop offset="0.8307" stop-color="rgb(0,40,0)"/><stop offset="0.8339" stop-color="rgb(0,49,0)"/><stop offset="0.837" stop-color="rgb(0,41,0)"/><stop offset="0.8401" stop-color="rgb(0,43,0)"/><stop offset="0.8433" stop-color="rgb(0,39,0)"/><stop offset="0.8464" stop-color="rgb(0,47,0)"/><stop offset="0.8495" stop-color="rgb(0,49,0)"/><stop offset="0.8527" stop-color="rgb(0,44,0)"/><stop offset="0.8558" stop-color="rgb(0,44,0)"/><stop offset="0.8589" stop-color="rgb(0,49,0)"/><stop offset="0.8621" stop-color="rgb(0,47,0)"/><stop offset="0.8652" stop-color="rgb(0,44,0)"/><stop offset="0.8683" stop-color="rgb(0,43,0)"/><stop offset="0.8715" stop-color="rgb(0,45,0)"/><stop offset="0.8746" stop-color="rgb(0,47,0)"/><stop offset="0.8777" stop-color="rgb(0,41,0)"/><stop offset="0.8809" stop-color="rgb(0,48,0)"/><stop offset="0.884" stop-color="rgb(0,45,0)"/><stop offset="0.8871" stop-color="rgb(0,42,0)"/><stop offset="0.8903" stop-color="rgb(0,43,0)"/><stop offset="0.8934" stop-color="rgb(0,49,0)"/><stop offset="0.8966" stop-color="rgb(0,41,0)"/><stop offset="0.8997" stop-color="rgb(0,47,0)"/><stop offset="0.9028" stop-color="rgb(0,40,0)"/><stop offset="0.906" stop-color="rgb(0,46,0)"/><stop offset="0.9091" stop-color="rgb(0,48,0)"/><stop offset="0.9122" stop-color="rgb(0,45,0)"/><stop offset="0.9154" stop-color="rgb(0,50,0)"/><stop offset="0.9185" stop-color="rgb(0,44,0)"/><stop offset="0.9216" stop-color="rgb(0,44,0)"/><stop offset="0.9248" stop-color="rgb(0,41,0)"/><stop offset="0.9279" stop-color="rgb(0,41,0)"/><stop offset="0.931" stop-color="rgb(0,44,0)"/><stop offset="0.9342" stop-color="rgb(0,47,0)"/><stop offset="0.9373" stop-color="rgb(0,49,0)"/><stop offset="0.9404" stop-color="rgb(0,43,0)"/><stop offset="0.9436" stop-color="rgb(0,47,0)"/><stop offset="0.9467" stop-color="rgb(0,45,0)"/><stop offset="0.9498" stop-color="rgb(0,49,0)"/><stop offset="0.953" stop-color="rgb(0,43,0)"/><stop offset="0.9561" stop-color="rgb(0,50,0)"/><stop offset="0.9592" stop-color="rgb(0,43,0)"/><stop offset="0.9624" stop-color="rgb(0,43,0)"/><stop offset="0.9655" stop-color="rgb(0,45,0)"/><stop offset="0.9687" stop-color="rgb(0,41,0)"/><stop offset="0.9718" stop-color="rgb(0,43,0)"/><stop offset="0.9749" stop-color="rgb(0,46,0)"/><stop offset="0.9781" stop-color="rgb(0,44,0)"/><stop offset="0.9812" stop-color="rgb(0,44,0)"/><stop offset="0.9843" stop-color="rgb(0,43,0)"/><stop offset="0.9875" stop-color="rgb(0,49,0)"/><stop offset="0.9906" stop-color="rgb(0,45,0)"/><stop offset="0.9937" stop-color="rgb(0,44,0)"/><stop offset="0.9969" stop-color="rgb(0,48,0)"/><stop offset="1" stop-color="rgb(0,42,0)"/></linearGradient><filter id="s8" x="0" y="0" width="1" height="1" color-interpolation-filters="sRGB"><feTurbulence type="fractalNoise" baseFrequency="0.55 0.3" numOctaves="1" seed="31"/><feColorMatrix values="1 0 0 0 0 1 0 0 0 0 1 0 0 0 0 0 0 0 0 1" result="m"/><feColorMatrix in="SourceGraphic" values="1 1 0 0 -0.14 1 1 0 0 -0.14 1 1 0 0 -0.14 0 0 0 0 1" result="p"/><feColorMatrix in="SourceGraphic" values="0 0 1 0 0 0 0 1 0 0 0 0 1 0 0 0 0 0 0 1"/><feComposite in2="m" operator="arithmetic" k1="5.455" k2="-1.727" k3="0.473" k4="0.264"/><feComposite in="p" operator="arithmetic" k2="1" k3="1" k4="-.5"/><feComponentTransfer><feFuncR type="table" tableValues="0.149 0.14 0.13 0.121 0.112 0.099 0.086 0.073 0.065 0.075 0.086 0.099 0.125 0.152 0.185 0.247 0.31 0.372 0.435 0.497 0.58 0.669 0.757 0.845 0.933 0.908 0.883 0.858 0.815 0.744 0.673 0.602 0.607 0.631 0.655 0.684 0.729 0.775 0.821 0.867 0.901 0.916 0.932 0.948 0.964 0.98 0.982 0.983 0.984 0.986 0.987 0.988 0.99 0.991 0.992 0.993 0.995 0.996 0.997 0.999 1"/><feFuncG type="table" tableValues="0.18 0.218 0.255 0.292 0.33 0.393 0.463 0.532 0.599 0.651 0.703 0.748 0.761 0.774 0.788 0.803 0.819 0.835 0.851 0.867 0.882 0.897 0.912 0.926 0.941 0.887 0.832 0.778 0.702 0.596 0.489 0.382 0.389 0.424 0.458 0.5 0.571 0.641 0.711 0.781 0.834 0.86 0.886 0.912 0.939 0.965 0.967 0.969 0.972 0.974 0.976 0.979 0.981 0.984 0.986 0.988 0.991 0.993 0.995 0.998 1"/><feFuncB type="table" tableValues="0.588 0.646 0.704 0.762 0.82 0.856 0.886 0.917 0.915 0.784 0.654 0.536 0.471 0.405 0.356 0.37 0.385 0.399 0.414 0.428 0.458 0.49 0.523 0.556 0.588 0.556 0.523 0.49 0.445 0.382 0.319 0.256 0.28 0.325 0.371 0.424 0.502 0.58 0.659 0.737 0.797 0.827 0.858 0.888 0.919 0.949 0.952 0.956 0.959 0.963 0.966 0.969 0.973 0.976 0.98 0.983 0.986 0.99 0.993 0.997 1"/></feComponentTransfer><feGaussianBlur stdDeviation="0.5"/><feComponentTransfer><feFuncA type="discrete" tableValues="1 1"/></feComponentTransfer></filter><filter id="b8" x="-50%" y="-50%" width="200%" height="200%"><feGaussianBlur stdDeviation="1.5"/></filter><clipPath id="cc1"><rect x="445" y="514.2" width="345" height="65.8"/></clipPath><linearGradient id="v9" gradientUnits="userSpaceOnUse" x1="0" y1="782" x2="0" y2="879.3"><stop offset="0" stop-color="rgb(0,0,0)"/><stop offset="0.134" stop-color="rgb(3,0,0)"/><stop offset="0.288" stop-color="rgb(5,0,0)"/><stop offset="0.493" stop-color="rgb(10,0,0)"/><stop offset="0.699" stop-color="rgb(20,0,0)"/><stop offset="0.822" stop-color="rgb(33,0,0)"/><stop offset="0.925" stop-color="rgb(56,0,0)"/><stop offset="1" stop-color="rgb(71,0,0)"/></linearGradient><linearGradient id="h9" gradientUnits="userSpaceOnUse" x1="54" y1="0" x2="222" y2="0"><stop offset="0" stop-color="rgb(0,67,0)"/><stop offset="0.006" stop-color="rgb(0,72,0)"/><stop offset="0.0119" stop-color="rgb(0,69,0)"/><stop offset="0.0179" stop-color="rgb(0,68,0)"/><stop offset="0.0238" stop-color="rgb(0,68,0)"/><stop offset="0.0298" stop-color="rgb(0,68,0)"/><stop offset="0.0357" stop-color="rgb(0,68,0)"/><stop offset="0.0417" stop-color="rgb(0,67,0)"/><stop offset="0.0476" stop-color="rgb(0,70,0)"/><stop offset="0.0536" stop-color="rgb(0,72,0)"/><stop offset="0.0595" stop-color="rgb(0,73,0)"/><stop offset="0.0655" stop-color="rgb(0,77,0)"/><stop offset="0.0714" stop-color="rgb(0,70,0)"/><stop offset="0.0774" stop-color="rgb(0,73,0)"/><stop offset="0.0833" stop-color="rgb(0,70,0)"/><stop offset="0.0893" stop-color="rgb(0,72,0)"/><stop offset="0.0952" stop-color="rgb(0,76,0)"/><stop offset="0.1012" stop-color="rgb(0,71,0)"/><stop offset="0.1071" stop-color="rgb(0,77,0)"/><stop offset="0.1131" stop-color="rgb(0,73,0)"/><stop offset="0.119" stop-color="rgb(0,72,0)"/><stop offset="0.125" stop-color="rgb(0,70,0)"/><stop offset="0.131" stop-color="rgb(0,73,0)"/><stop offset="0.1369" stop-color="rgb(0,71,0)"/><stop offset="0.1429" stop-color="rgb(0,72,0)"/><stop offset="0.1488" stop-color="rgb(0,69,0)"/><stop offset="0.1548" stop-color="rgb(0,73,0)"/><stop offset="0.1607" stop-color="rgb(0,85,0)"/><stop offset="0.1667" stop-color="rgb(0,79,0)"/><stop offset="0.1726" stop-color="rgb(0,55,0)"/><stop offset="0.1786" stop-color="rgb(0,35,0)"/><stop offset="0.1845" stop-color="rgb(0,42,0)"/><stop offset="0.1905" stop-color="rgb(0,57,0)"/><stop offset="0.1964" stop-color="rgb(0,42,0)"/><stop offset="0.2024" stop-color="rgb(0,43,0)"/><stop offset="0.2083" stop-color="rgb(0,45,0)"/><stop offset="0.2143" stop-color="rgb(0,41,0)"/><stop offset="0.2202" stop-color="rgb(0,42,0)"/><stop offset="0.2262" stop-color="rgb(0,41,0)"/><stop offset="0.2321" stop-color="rgb(0,41,0)"/><stop offset="0.2381" stop-color="rgb(0,44,0)"/><stop offset="0.244" stop-color="rgb(0,39,0)"/><stop offset="0.25" stop-color="rgb(0,46,0)"/><stop offset="0.256" stop-color="rgb(0,38,0)"/><stop offset="0.2619" stop-color="rgb(0,39,0)"/><stop offset="0.2679" stop-color="rgb(0,44,0)"/><stop offset="0.2738" stop-color="rgb(0,43,0)"/><stop offset="0.2798" stop-color="rgb(0,86,0)"/><stop offset="0.2857" stop-color="rgb(0,85,0)"/><stop offset="0.2917" stop-color="rgb(0,90,0)"/><stop offset="0.2976" stop-color="rgb(0,86,0)"/><stop offset="0.3036" stop-color="rgb(0,90,0)"/><stop offset="0.3095" stop-color="rgb(0,89,0)"/><stop offset="0.3155" stop-color="rgb(0,89,0)"/><stop offset="0.3214" stop-color="rgb(0,93,0)"/><stop offset="0.3274" stop-color="rgb(0,87,0)"/><stop offset="0.3333" stop-color="rgb(0,89,0)"/><stop offset="0.3393" stop-color="rgb(0,88,0)"/><stop offset="0.3452" stop-color="rgb(0,85,0)"/><stop offset="0.3512" stop-color="rgb(0,87,0)"/><stop offset="0.3571" stop-color="rgb(0,93,0)"/><stop offset="0.3631" stop-color="rgb(0,86,0)"/><stop offset="0.369" stop-color="rgb(0,85,0)"/><stop offset="0.375" stop-color="rgb(0,84,0)"/><stop offset="0.381" stop-color="rgb(0,87,0)"/><stop offset="0.3869" stop-color="rgb(0,92,0)"/><stop offset="0.3929" stop-color="rgb(0,92,0)"/><stop offset="0.3988" stop-color="rgb(0,90,0)"/><stop offset="0.4048" stop-color="rgb(0,89,0)"/><stop offset="0.4107" stop-color="rgb(0,82,0)"/><stop offset="0.4167" stop-color="rgb(0,86,0)"/><stop offset="0.4226" stop-color="rgb(0,63,0)"/><stop offset="0.4286" stop-color="rgb(0,54,0)"/><stop offset="0.4345" stop-color="rgb(0,50,0)"/><stop offset="0.4405" stop-color="rgb(0,90,0)"/><stop offset="0.4464" stop-color="rgb(0,89,0)"/><stop offset="0.4524" stop-color="rgb(0,85,0)"/><stop offset="0.4583" stop-color="rgb(0,88,0)"/><stop offset="0.4643" stop-color="rgb(0,93,0)"/><stop offset="0.4702" stop-color="rgb(0,88,0)"/><stop offset="0.4762" stop-color="rgb(0,91,0)"/><stop offset="0.4821" stop-color="rgb(0,87,0)"/><stop offset="0.4881" stop-color="rgb(0,88,0)"/><stop offset="0.494" stop-color="rgb(0,92,0)"/><stop offset="0.5" stop-color="rgb(0,94,0)"/><stop offset="0.506" stop-color="rgb(0,86,0)"/><stop offset="0.5119" stop-color="rgb(0,85,0)"/><stop offset="0.5179" stop-color="rgb(0,86,0)"/><stop offset="0.5238" stop-color="rgb(0,83,0)"/><stop offset="0.5298" stop-color="rgb(0,75,0)"/><stop offset="0.5357" stop-color="rgb(0,72,0)"/><stop offset="0.5417" stop-color="rgb(0,77,0)"/><stop offset="0.5476" stop-color="rgb(0,71,0)"/><stop offset="0.5536" stop-color="rgb(0,69,0)"/><stop offset="0.5595" stop-color="rgb(0,73,0)"/><stop offset="0.5655" stop-color="rgb(0,78,0)"/><stop offset="0.5714" stop-color="rgb(0,75,0)"/><stop offset="0.5774" stop-color="rgb(0,77,0)"/><stop offset="0.5833" stop-color="rgb(0,77,0)"/><stop offset="0.5893" stop-color="rgb(0,72,0)"/><stop offset="0.5952" stop-color="rgb(0,72,0)"/><stop offset="0.6012" stop-color="rgb(0,77,0)"/><stop offset="0.6071" stop-color="rgb(0,71,0)"/><stop offset="0.6131" stop-color="rgb(0,69,0)"/><stop offset="0.619" stop-color="rgb(0,77,0)"/><stop offset="0.625" stop-color="rgb(0,67,0)"/><stop offset="0.631" stop-color="rgb(0,71,0)"/><stop offset="0.6369" stop-color="rgb(0,72,0)"/><stop offset="0.6429" stop-color="rgb(0,74,0)"/><stop offset="0.6488" stop-color="rgb(0,76,0)"/><stop offset="0.6548" stop-color="rgb(0,74,0)"/><stop offset="0.6607" stop-color="rgb(0,69,0)"/><stop offset="0.6667" stop-color="rgb(0,74,0)"/><stop offset="0.6726" stop-color="rgb(0,69,0)"/><stop offset="0.6786" stop-color="rgb(0,70,0)"/><stop offset="0.6845" stop-color="rgb(0,67,0)"/><stop offset="0.6905" stop-color="rgb(0,76,0)"/><stop offset="0.6964" stop-color="rgb(0,76,0)"/><stop offset="0.7024" stop-color="rgb(0,71,0)"/><stop offset="0.7083" stop-color="rgb(0,76,0)"/><stop offset="0.7143" stop-color="rgb(0,68,0)"/><stop offset="0.7202" stop-color="rgb(0,70,0)"/><stop offset="0.7262" stop-color="rgb(0,72,0)"/><stop offset="0.7321" stop-color="rgb(0,70,0)"/><stop offset="0.7381" stop-color="rgb(0,71,0)"/><stop offset="0.744" stop-color="rgb(0,71,0)"/><stop offset="0.75" stop-color="rgb(0,73,0)"/><stop offset="0.756" stop-color="rgb(0,71,0)"/><stop offset="0.7619" stop-color="rgb(0,71,0)"/><stop offset="0.7679" stop-color="rgb(0,66,0)"/><stop offset="0.7738" stop-color="rgb(0,73,0)"/><stop offset="0.7798" stop-color="rgb(0,53,0)"/><stop offset="0.7857" stop-color="rgb(0,50,0)"/><stop offset="0.7917" stop-color="rgb(0,32,0)"/><stop offset="0.7976" stop-color="rgb(0,23,0)"/><stop offset="0.8036" stop-color="rgb(0,16,0)"/><stop offset="0.8095" stop-color="rgb(0,9,0)"/><stop offset="0.8155" stop-color="rgb(0,2,0)"/><stop offset="0.8214" stop-color="rgb(0,0,0)"/><stop offset="0.8274" stop-color="rgb(0,0,0)"/><stop offset="0.8333" stop-color="rgb(0,3,0)"/><stop offset="0.8393" stop-color="rgb(0,0,0)"/><stop offset="0.8452" stop-color="rgb(0,0,0)"/><stop offset="0.8512" stop-color="rgb(0,0,0)"/><stop offset="0.8571" stop-color="rgb(0,3,0)"/><stop offset="0.8631" stop-color="rgb(0,0,0)"/><stop offset="0.869" stop-color="rgb(0,0,0)"/><stop offset="0.875" stop-color="rgb(0,3,0)"/><stop offset="0.881" stop-color="rgb(0,4,0)"/><stop offset="0.8869" stop-color="rgb(0,2,0)"/><stop offset="0.8929" stop-color="rgb(0,0,0)"/><stop offset="0.8988" stop-color="rgb(0,2,0)"/><stop offset="0.9048" stop-color="rgb(0,0,0)"/><stop offset="0.9107" stop-color="rgb(0,0,0)"/><stop offset="0.9167" stop-color="rgb(0,0,0)"/><stop offset="0.9226" stop-color="rgb(0,4,0)"/><stop offset="0.9286" stop-color="rgb(0,4,0)"/><stop offset="0.9345" stop-color="rgb(0,0,0)"/><stop offset="0.9405" stop-color="rgb(0,2,0)"/><stop offset="0.9464" stop-color="rgb(0,5,0)"/><stop offset="0.9524" stop-color="rgb(0,4,0)"/><stop offset="0.9583" stop-color="rgb(0,0,0)"/><stop offset="0.9643" stop-color="rgb(0,3,0)"/><stop offset="0.9702" stop-color="rgb(0,5,0)"/><stop offset="0.9762" stop-color="rgb(0,2,0)"/><stop offset="0.9821" stop-color="rgb(0,5,0)"/><stop offset="0.9881" stop-color="rgb(0,0,0)"/><stop offset="0.994" stop-color="rgb(0,0,0)"/><stop offset="1" stop-color="rgb(0,5,0)"/></linearGradient><filter id="s9" x="0" y="0" width="1" height="1" color-interpolation-filters="sRGB"><feTurbulence type="fractalNoise" baseFrequency="0.9 0.3" numOctaves="1" seed="41"/><feColorMatrix values="1 0 0 0 0 1 0 0 0 0 1 0 0 0 0 0 0 0 0 1" result="m"/><feColorMatrix in="SourceGraphic" values="1 1 0 0 -0.15 1 1 0 0 -0.15 1 1 0 0 -0.15 0 0 0 0 1" result="p"/><feColorMatrix in="SourceGraphic" values="0 0 1 0 0 0 0 1 0 0 0 0 1 0 0 0 0 0 0 1"/><feComposite in2="m" operator="arithmetic" k1="6.364" k2="-2.182" k3="0.636" k4="0.182"/><feComposite in="p" operator="arithmetic" k2="1" k3="1" k4="-.5"/><feComponentTransfer><feFuncR type="table" tableValues="0.149 0.14 0.13 0.121 0.112 0.099 0.086 0.073 0.065 0.075 0.086 0.099 0.125 0.152 0.185 0.247 0.31 0.372 0.435 0.497 0.58 0.669 0.757 0.845 0.933 0.908 0.883 0.858 0.815 0.744 0.673 0.602 0.607 0.631 0.655 0.684 0.729 0.775 0.821 0.867 0.901 0.916 0.932 0.948 0.964 0.98 0.982 0.983 0.984 0.986 0.987 0.988 0.99 0.991 0.992 0.993 0.995 0.996 0.997 0.999 1"/><feFuncG type="table" tableValues="0.18 0.218 0.255 0.292 0.33 0.393 0.463 0.532 0.599 0.651 0.703 0.748 0.761 0.774 0.788 0.803 0.819 0.835 0.851 0.867 0.882 0.897 0.912 0.926 0.941 0.887 0.832 0.778 0.702 0.596 0.489 0.382 0.389 0.424 0.458 0.5 0.571 0.641 0.711 0.781 0.834 0.86 0.886 0.912 0.939 0.965 0.967 0.969 0.972 0.974 0.976 0.979 0.981 0.984 0.986 0.988 0.991 0.993 0.995 0.998 1"/><feFuncB type="table" tableValues="0.588 0.646 0.704 0.762 0.82 0.856 0.886 0.917 0.915 0.784 0.654 0.536 0.471 0.405 0.356 0.37 0.385 0.399 0.414 0.428 0.458 0.49 0.523 0.556 0.588 0.556 0.523 0.49 0.445 0.382 0.319 0.256 0.28 0.325 0.371 0.424 0.502 0.58 0.659 0.737 0.797 0.827 0.858 0.888 0.919 0.949 0.952 0.956 0.959 0.963 0.966 0.969 0.973 0.976 0.98 0.983 0.986 0.99 0.993 0.997 1"/></feComponentTransfer><feGaussianBlur stdDeviation="0.5"/><feComponentTransfer><feFuncA type="discrete" tableValues="1 1"/></feComponentTransfer></filter><filter id="b9" x="-50%" y="-50%" width="200%" height="200%"><feGaussianBlur stdDeviation="2.5"/></filter><linearGradient id="v10" gradientUnits="userSpaceOnUse" x1="0" y1="782" x2="0" y2="879.3"><stop offset="0" stop-color="rgb(0,0,0)"/><stop offset="0.134" stop-color="rgb(3,0,0)"/><stop offset="0.288" stop-color="rgb(8,0,0)"/><stop offset="0.493" stop-color="rgb(13,0,0)"/><stop offset="0.699" stop-color="rgb(23,0,0)"/><stop offset="0.822" stop-color="rgb(36,0,0)"/><stop offset="0.925" stop-color="rgb(59,0,0)"/><stop offset="1" stop-color="rgb(74,0,0)"/></linearGradient><linearGradient id="h10" gradientUnits="userSpaceOnUse" x1="249" y1="0" x2="417" y2="0"><stop offset="0" stop-color="rgb(0,73,0)"/><stop offset="0.006" stop-color="rgb(0,69,0)"/><stop offset="0.0119" stop-color="rgb(0,75,0)"/><stop offset="0.0179" stop-color="rgb(0,70,0)"/><stop offset="0.0238" stop-color="rgb(0,68,0)"/><stop offset="0.0298" stop-color="rgb(0,75,0)"/><stop offset="0.0357" stop-color="rgb(0,70,0)"/><stop offset="0.0417" stop-color="rgb(0,74,0)"/><stop offset="0.0476" stop-color="rgb(0,74,0)"/><stop offset="0.0536" stop-color="rgb(0,72,0)"/><stop offset="0.0595" stop-color="rgb(0,69,0)"/><stop offset="0.0655" stop-color="rgb(0,74,0)"/><stop offset="0.0714" stop-color="rgb(0,74,0)"/><stop offset="0.0774" stop-color="rgb(0,71,0)"/><stop offset="0.0833" stop-color="rgb(0,75,0)"/><stop offset="0.0893" stop-color="rgb(0,71,0)"/><stop offset="0.0952" stop-color="rgb(0,71,0)"/><stop offset="0.1012" stop-color="rgb(0,68,0)"/><stop offset="0.1071" stop-color="rgb(0,77,0)"/><stop offset="0.1131" stop-color="rgb(0,74,0)"/><stop offset="0.119" stop-color="rgb(0,77,0)"/><stop offset="0.125" stop-color="rgb(0,74,0)"/><stop offset="0.131" stop-color="rgb(0,73,0)"/><stop offset="0.1369" stop-color="rgb(0,78,0)"/><stop offset="0.1429" stop-color="rgb(0,75,0)"/><stop offset="0.1488" stop-color="rgb(0,75,0)"/><stop offset="0.1548" stop-color="rgb(0,77,0)"/><stop offset="0.1607" stop-color="rgb(0,72,0)"/><stop offset="0.1667" stop-color="rgb(0,78,0)"/><stop offset="0.1726" stop-color="rgb(0,73,0)"/><stop offset="0.1786" stop-color="rgb(0,75,0)"/><stop offset="0.1845" stop-color="rgb(0,72,0)"/><stop offset="0.1905" stop-color="rgb(0,79,0)"/><stop offset="0.1964" stop-color="rgb(0,73,0)"/><stop offset="0.2024" stop-color="rgb(0,74,0)"/><stop offset="0.2083" stop-color="rgb(0,79,0)"/><stop offset="0.2143" stop-color="rgb(0,72,0)"/><stop offset="0.2202" stop-color="rgb(0,76,0)"/><stop offset="0.2262" stop-color="rgb(0,78,0)"/><stop offset="0.2321" stop-color="rgb(0,79,0)"/><stop offset="0.2381" stop-color="rgb(0,75,0)"/><stop offset="0.244" stop-color="rgb(0,79,0)"/><stop offset="0.25" stop-color="rgb(0,72,0)"/><stop offset="0.256" stop-color="rgb(0,72,0)"/><stop offset="0.2619" stop-color="rgb(0,79,0)"/><stop offset="0.2679" stop-color="rgb(0,71,0)"/><stop offset="0.2738" stop-color="rgb(0,72,0)"/><stop offset="0.2798" stop-color="rgb(0,75,0)"/><stop offset="0.2857" stop-color="rgb(0,76,0)"/><stop offset="0.2917" stop-color="rgb(0,78,0)"/><stop offset="0.2976" stop-color="rgb(0,71,0)"/><stop offset="0.3036" stop-color="rgb(0,74,0)"/><stop offset="0.3095" stop-color="rgb(0,80,0)"/><stop offset="0.3155" stop-color="rgb(0,77,0)"/><stop offset="0.3214" stop-color="rgb(0,73,0)"/><stop offset="0.3274" stop-color="rgb(0,77,0)"/><stop offset="0.3333" stop-color="rgb(0,79,0)"/><stop offset="0.3393" stop-color="rgb(0,74,0)"/><stop offset="0.3452" stop-color="rgb(0,75,0)"/><stop offset="0.3512" stop-color="rgb(0,73,0)"/><stop offset="0.3571" stop-color="rgb(0,79,0)"/><stop offset="0.3631" stop-color="rgb(0,81,0)"/><stop offset="0.369" stop-color="rgb(0,73,0)"/><stop offset="0.375" stop-color="rgb(0,74,0)"/><stop offset="0.381" stop-color="rgb(0,78,0)"/><stop offset="0.3869" stop-color="rgb(0,74,0)"/><stop offset="0.3929" stop-color="rgb(0,78,0)"/><stop offset="0.3988" stop-color="rgb(0,82,0)"/><stop offset="0.4048" stop-color="rgb(0,80,0)"/><stop offset="0.4107" stop-color="rgb(0,74,0)"/><stop offset="0.4167" stop-color="rgb(0,81,0)"/><stop offset="0.4226" stop-color="rgb(0,75,0)"/><stop offset="0.4286" stop-color="rgb(0,82,0)"/><stop offset="0.4345" stop-color="rgb(0,75,0)"/><stop offset="0.4405" stop-color="rgb(0,84,0)"/><stop offset="0.4464" stop-color="rgb(0,79,0)"/><stop offset="0.4524" stop-color="rgb(0,90,0)"/><stop offset="0.4583" stop-color="rgb(0,99,0)"/><stop offset="0.4643" stop-color="rgb(0,97,0)"/><stop offset="0.4702" stop-color="rgb(0,95,0)"/><stop offset="0.4762" stop-color="rgb(0,99,0)"/><stop offset="0.4821" stop-color="rgb(0,98,0)"/><stop offset="0.4881" stop-color="rgb(0,96,0)"/><stop offset="0.494" stop-color="rgb(0,90,0)"/><stop offset="0.5" stop-color="rgb(0,94,0)"/><stop offset="0.506" stop-color="rgb(0,94,0)"/><stop offset="0.5119" stop-color="rgb(0,99,0)"/><stop offset="0.5179" stop-color="rgb(0,95,0)"/><stop offset="0.5238" stop-color="rgb(0,99,0)"/><stop offset="0.5298" stop-color="rgb(0,97,0)"/><stop offset="0.5357" stop-color="rgb(0,99,0)"/><stop offset="0.5417" stop-color="rgb(0,90,0)"/><stop offset="0.5476" stop-color="rgb(0,38,0)"/><stop offset="0.5536" stop-color="rgb(0,0,0)"/><stop offset="0.5595" stop-color="rgb(0,0,0)"/><stop offset="0.5655" stop-color="rgb(0,3,0)"/><stop offset="0.5714" stop-color="rgb(0,3,0)"/><stop offset="0.5774" stop-color="rgb(0,7,0)"/><stop offset="0.5833" stop-color="rgb(0,2,0)"/><stop offset="0.5893" stop-color="rgb(0,4,0)"/><stop offset="0.5952" stop-color="rgb(0,0,0)"/><stop offset="0.6012" stop-color="rgb(0,3,0)"/><stop offset="0.6071" stop-color="rgb(0,0,0)"/><stop offset="0.6131" stop-color="rgb(0,7,0)"/><stop offset="0.619" stop-color="rgb(0,2,0)"/><stop offset="0.625" stop-color="rgb(0,1,0)"/><stop offset="0.631" stop-color="rgb(0,0,0)"/><stop offset="0.6369" stop-color="rgb(0,7,0)"/><stop offset="0.6429" stop-color="rgb(0,0,0)"/><stop offset="0.6488" stop-color="rgb(0,0,0)"/><stop offset="0.6548" stop-color="rgb(0,1,0)"/><stop offset="0.6607" stop-color="rgb(0,0,0)"/><stop offset="0.6667" stop-color="rgb(0,6,0)"/><stop offset="0.6726" stop-color="rgb(0,6,0)"/><stop offset="0.6786" stop-color="rgb(0,29,0)"/><stop offset="0.6845" stop-color="rgb(0,77,0)"/><stop offset="0.6905" stop-color="rgb(0,80,0)"/><stop offset="0.6964" stop-color="rgb(0,85,0)"/><stop offset="0.7024" stop-color="rgb(0,86,0)"/><stop offset="0.7083" stop-color="rgb(0,82,0)"/><stop offset="0.7143" stop-color="rgb(0,77,0)"/><stop offset="0.7202" stop-color="rgb(0,77,0)"/><stop offset="0.7262" stop-color="rgb(0,80,0)"/><stop offset="0.7321" stop-color="rgb(0,77,0)"/><stop offset="0.7381" stop-color="rgb(0,84,0)"/><stop offset="0.744" stop-color="rgb(0,84,0)"/><stop offset="0.75" stop-color="rgb(0,79,0)"/><stop offset="0.756" stop-color="rgb(0,82,0)"/><stop offset="0.7619" stop-color="rgb(0,84,0)"/><stop offset="0.7679" stop-color="rgb(0,77,0)"/><stop offset="0.7738" stop-color="rgb(0,83,0)"/><stop offset="0.7798" stop-color="rgb(0,82,0)"/><stop offset="0.7857" stop-color="rgb(0,79,0)"/><stop offset="0.7917" stop-color="rgb(0,78,0)"/><stop offset="0.7976" stop-color="rgb(0,83,0)"/><stop offset="0.8036" stop-color="rgb(0,83,0)"/><stop offset="0.8095" stop-color="rgb(0,78,0)"/><stop offset="0.8155" stop-color="rgb(0,82,0)"/><stop offset="0.8214" stop-color="rgb(0,78,0)"/><stop offset="0.8274" stop-color="rgb(0,79,0)"/><stop offset="0.8333" stop-color="rgb(0,77,0)"/><stop offset="0.8393" stop-color="rgb(0,77,0)"/><stop offset="0.8452" stop-color="rgb(0,77,0)"/><stop offset="0.8512" stop-color="rgb(0,84,0)"/><stop offset="0.8571" stop-color="rgb(0,77,0)"/><stop offset="0.8631" stop-color="rgb(0,82,0)"/><stop offset="0.869" stop-color="rgb(0,79,0)"/><stop offset="0.875" stop-color="rgb(0,79,0)"/><stop offset="0.881" stop-color="rgb(0,84,0)"/><stop offset="0.8869" stop-color="rgb(0,82,0)"/><stop offset="0.8929" stop-color="rgb(0,83,0)"/><stop offset="0.8988" stop-color="rgb(0,83,0)"/><stop offset="0.9048" stop-color="rgb(0,85,0)"/><stop offset="0.9107" stop-color="rgb(0,81,0)"/><stop offset="0.9167" stop-color="rgb(0,79,0)"/><stop offset="0.9226" stop-color="rgb(0,78,0)"/><stop offset="0.9286" stop-color="rgb(0,82,0)"/><stop offset="0.9345" stop-color="rgb(0,76,0)"/><stop offset="0.9405" stop-color="rgb(0,82,0)"/><stop offset="0.9464" stop-color="rgb(0,81,0)"/><stop offset="0.9524" stop-color="rgb(0,82,0)"/><stop offset="0.9583" stop-color="rgb(0,78,0)"/><stop offset="0.9643" stop-color="rgb(0,80,0)"/><stop offset="0.9702" stop-color="rgb(0,77,0)"/><stop offset="0.9762" stop-color="rgb(0,79,0)"/><stop offset="0.9821" stop-color="rgb(0,80,0)"/><stop offset="0.9881" stop-color="rgb(0,80,0)"/><stop offset="0.994" stop-color="rgb(0,77,0)"/><stop offset="1" stop-color="rgb(0,80,0)"/></linearGradient><filter id="s10" x="0" y="0" width="1" height="1" color-interpolation-filters="sRGB"><feTurbulence type="fractalNoise" baseFrequency="0.9 0.3" numOctaves="1" seed="43"/><feColorMatrix values="1 0 0 0 0 1 0 0 0 0 1 0 0 0 0 0 0 0 0 1" result="m"/><feColorMatrix in="SourceGraphic" values="1 1 0 0 -0.15 1 1 0 0 -0.15 1 1 0 0 -0.15 0 0 0 0 1" result="p"/><feColorMatrix in="SourceGraphic" values="0 0 1 0 0 0 0 1 0 0 0 0 1 0 0 0 0 0 0 1"/><feComposite in2="m" operator="arithmetic" k1="6.364" k2="-2.182" k3="0.636" k4="0.182"/><feComposite in="p" operator="arithmetic" k2="1" k3="1" k4="-.5"/><feComponentTransfer><feFuncR type="table" tableValues="0.149 0.14 0.13 0.121 0.112 0.099 0.086 0.073 0.065 0.075 0.086 0.099 0.125 0.152 0.185 0.247 0.31 0.372 0.435 0.497 0.58 0.669 0.757 0.845 0.933 0.908 0.883 0.858 0.815 0.744 0.673 0.602 0.607 0.631 0.655 0.684 0.729 0.775 0.821 0.867 0.901 0.916 0.932 0.948 0.964 0.98 0.982 0.983 0.984 0.986 0.987 0.988 0.99 0.991 0.992 0.993 0.995 0.996 0.997 0.999 1"/><feFuncG type="table" tableValues="0.18 0.218 0.255 0.292 0.33 0.393 0.463 0.532 0.599 0.651 0.703 0.748 0.761 0.774 0.788 0.803 0.819 0.835 0.851 0.867 0.882 0.897 0.912 0.926 0.941 0.887 0.832 0.778 0.702 0.596 0.489 0.382 0.389 0.424 0.458 0.5 0.571 0.641 0.711 0.781 0.834 0.86 0.886 0.912 0.939 0.965 0.967 0.969 0.972 0.974 0.976 0.979 0.981 0.984 0.986 0.988 0.991 0.993 0.995 0.998 1"/><feFuncB type="table" tableValues="0.588 0.646 0.704 0.762 0.82 0.856 0.886 0.917 0.915 0.784 0.654 0.536 0.471 0.405 0.356 0.37 0.385 0.399 0.414 0.428 0.458 0.49 0.523 0.556 0.588 0.556 0.523 0.49 0.445 0.382 0.319 0.256 0.28 0.325 0.371 0.424 0.502 0.58 0.659 0.737 0.797 0.827 0.858 0.888 0.919 0.949 0.952 0.956 0.959 0.963 0.966 0.969 0.973 0.976 0.98 0.983 0.986 0.99 0.993 0.997 1"/></feComponentTransfer><feGaussianBlur stdDeviation="0.5"/><feComponentTransfer><feFuncA type="discrete" tableValues="1 1"/></feComponentTransfer></filter><filter id="b10" x="-50%" y="-50%" width="200%" height="200%"><feGaussianBlur stdDeviation="2.5"/></filter><linearGradient id="v11" gradientUnits="userSpaceOnUse" x1="0" y1="782" x2="0" y2="879.3"><stop offset="0" stop-color="rgb(0,0,0)"/><stop offset="0.185" stop-color="rgb(3,0,0)"/><stop offset="0.391" stop-color="rgb(10,0,0)"/><stop offset="0.596" stop-color="rgb(18,0,0)"/><stop offset="0.75" stop-color="rgb(26,0,0)"/><stop offset="0.863" stop-color="rgb(36,0,0)"/><stop offset="1" stop-color="rgb(51,0,0)"/></linearGradient><linearGradient id="h11" gradientUnits="userSpaceOnUse" x1="440" y1="0" x2="607.6" y2="0"><stop offset="0" stop-color="rgb(0,58,0)"/><stop offset="0.006" stop-color="rgb(0,57,0)"/><stop offset="0.0119" stop-color="rgb(0,55,0)"/><stop offset="0.0179" stop-color="rgb(0,59,0)"/><stop offset="0.0239" stop-color="rgb(0,57,0)"/><stop offset="0.0298" stop-color="rgb(0,55,0)"/><stop offset="0.0358" stop-color="rgb(0,62,0)"/><stop offset="0.0418" stop-color="rgb(0,64,0)"/><stop offset="0.0477" stop-color="rgb(0,59,0)"/><stop offset="0.0537" stop-color="rgb(0,62,0)"/><stop offset="0.0597" stop-color="rgb(0,64,0)"/><stop offset="0.0656" stop-color="rgb(0,61,0)"/><stop offset="0.0716" stop-color="rgb(0,65,0)"/><stop offset="0.0776" stop-color="rgb(0,57,0)"/><stop offset="0.0835" stop-color="rgb(0,61,0)"/><stop offset="0.0895" stop-color="rgb(0,58,0)"/><stop offset="0.0955" stop-color="rgb(0,62,0)"/><stop offset="0.1014" stop-color="rgb(0,58,0)"/><stop offset="0.1074" stop-color="rgb(0,61,0)"/><stop offset="0.1134" stop-color="rgb(0,58,0)"/><stop offset="0.1193" stop-color="rgb(0,56,0)"/><stop offset="0.1253" stop-color="rgb(0,56,0)"/><stop offset="0.1313" stop-color="rgb(0,65,0)"/><stop offset="0.1372" stop-color="rgb(0,57,0)"/><stop offset="0.1432" stop-color="rgb(0,57,0)"/><stop offset="0.1492" stop-color="rgb(0,65,0)"/><stop offset="0.1551" stop-color="rgb(0,57,0)"/><stop offset="0.1611" stop-color="rgb(0,57,0)"/><stop offset="0.1671" stop-color="rgb(0,60,0)"/><stop offset="0.173" stop-color="rgb(0,65,0)"/><stop offset="0.179" stop-color="rgb(0,64,0)"/><stop offset="0.185" stop-color="rgb(0,59,0)"/><stop offset="0.1909" stop-color="rgb(0,55,0)"/><stop offset="0.1969" stop-color="rgb(0,56,0)"/><stop offset="0.2029" stop-color="rgb(0,61,0)"/><stop offset="0.2088" stop-color="rgb(0,57,0)"/><stop offset="0.2148" stop-color="rgb(0,62,0)"/><stop offset="0.2208" stop-color="rgb(0,58,0)"/><stop offset="0.2267" stop-color="rgb(0,52,0)"/><stop offset="0.2327" stop-color="rgb(0,51,0)"/><stop offset="0.2387" stop-color="rgb(0,41,0)"/><stop offset="0.2446" stop-color="rgb(0,40,0)"/><stop offset="0.2506" stop-color="rgb(0,39,0)"/><stop offset="0.2566" stop-color="rgb(0,46,0)"/><stop offset="0.2625" stop-color="rgb(0,43,0)"/><stop offset="0.2685" stop-color="rgb(0,41,0)"/><stop offset="0.2745" stop-color="rgb(0,39,0)"/><stop offset="0.2804" stop-color="rgb(0,47,0)"/><stop offset="0.2864" stop-color="rgb(0,47,0)"/><stop offset="0.2924" stop-color="rgb(0,41,0)"/><stop offset="0.2983" stop-color="rgb(0,41,0)"/><stop offset="0.3043" stop-color="rgb(0,42,0)"/><stop offset="0.3103" stop-color="rgb(0,67,0)"/><stop offset="0.3162" stop-color="rgb(0,85,0)"/><stop offset="0.3222" stop-color="rgb(0,86,0)"/><stop offset="0.3282" stop-color="rgb(0,83,0)"/><stop offset="0.3341" stop-color="rgb(0,81,0)"/><stop offset="0.3401" stop-color="rgb(0,80,0)"/><stop offset="0.3461" stop-color="rgb(0,81,0)"/><stop offset="0.352" stop-color="rgb(0,80,0)"/><stop offset="0.358" stop-color="rgb(0,63,0)"/><stop offset="0.364" stop-color="rgb(0,38,0)"/><stop offset="0.3699" stop-color="rgb(0,36,0)"/><stop offset="0.3759" stop-color="rgb(0,79,0)"/><stop offset="0.3819" stop-color="rgb(0,85,0)"/><stop offset="0.3878" stop-color="rgb(0,83,0)"/><stop offset="0.3938" stop-color="rgb(0,83,0)"/><stop offset="0.3998" stop-color="rgb(0,82,0)"/><stop offset="0.4057" stop-color="rgb(0,78,0)"/><stop offset="0.4117" stop-color="rgb(0,82,0)"/><stop offset="0.4177" stop-color="rgb(0,76,0)"/><stop offset="0.4236" stop-color="rgb(0,75,0)"/><stop offset="0.4296" stop-color="rgb(0,76,0)"/><stop offset="0.4356" stop-color="rgb(0,75,0)"/><stop offset="0.4415" stop-color="rgb(0,70,0)"/><stop offset="0.4475" stop-color="rgb(0,65,0)"/><stop offset="0.4535" stop-color="rgb(0,60,0)"/><stop offset="0.4594" stop-color="rgb(0,62,0)"/><stop offset="0.4654" stop-color="rgb(0,51,0)"/><stop offset="0.4714" stop-color="rgb(0,47,0)"/><stop offset="0.4773" stop-color="rgb(0,46,0)"/><stop offset="0.4833" stop-color="rgb(0,45,0)"/><stop offset="0.4893" stop-color="rgb(0,36,0)"/><stop offset="0.4952" stop-color="rgb(0,28,0)"/><stop offset="0.5012" stop-color="rgb(0,29,0)"/><stop offset="0.5072" stop-color="rgb(0,25,0)"/><stop offset="0.5131" stop-color="rgb(0,17,0)"/><stop offset="0.5191" stop-color="rgb(0,12,0)"/><stop offset="0.5251" stop-color="rgb(0,12,0)"/><stop offset="0.531" stop-color="rgb(0,3,0)"/><stop offset="0.537" stop-color="rgb(0,0,0)"/><stop offset="0.543" stop-color="rgb(0,0,0)"/><stop offset="0.5489" stop-color="rgb(0,4,0)"/><stop offset="0.5549" stop-color="rgb(0,4,0)"/><stop offset="0.5609" stop-color="rgb(0,2,0)"/><stop offset="0.5668" stop-color="rgb(0,4,0)"/><stop offset="0.5728" stop-color="rgb(0,3,0)"/><stop offset="0.5788" stop-color="rgb(0,0,0)"/><stop offset="0.5847" stop-color="rgb(0,1,0)"/><stop offset="0.5907" stop-color="rgb(0,1,0)"/><stop offset="0.5967" stop-color="rgb(0,0,0)"/><stop offset="0.6026" stop-color="rgb(0,4,0)"/><stop offset="0.6086" stop-color="rgb(0,3,0)"/><stop offset="0.6146" stop-color="rgb(0,0,0)"/><stop offset="0.6205" stop-color="rgb(0,0,0)"/><stop offset="0.6265" stop-color="rgb(0,4,0)"/><stop offset="0.6325" stop-color="rgb(0,0,0)"/><stop offset="0.6384" stop-color="rgb(0,0,0)"/><stop offset="0.6444" stop-color="rgb(0,3,0)"/><stop offset="0.6504" stop-color="rgb(0,0,0)"/><stop offset="0.6563" stop-color="rgb(0,0,0)"/><stop offset="0.6623" stop-color="rgb(0,0,0)"/><stop offset="0.6683" stop-color="rgb(0,0,0)"/><stop offset="0.6742" stop-color="rgb(0,0,0)"/><stop offset="0.6802" stop-color="rgb(0,0,0)"/><stop offset="0.6862" stop-color="rgb(0,0,0)"/><stop offset="0.6921" stop-color="rgb(0,2,0)"/><stop offset="0.6981" stop-color="rgb(0,4,0)"/><stop offset="0.7041" stop-color="rgb(0,0,0)"/><stop offset="0.71" stop-color="rgb(0,0,0)"/><stop offset="0.716" stop-color="rgb(0,0,0)"/><stop offset="0.722" stop-color="rgb(0,0,0)"/><stop offset="0.7279" stop-color="rgb(0,0,0)"/><stop offset="0.7339" stop-color="rgb(0,0,0)"/><stop offset="0.7399" stop-color="rgb(0,0,0)"/><stop offset="0.7458" stop-color="rgb(0,0,0)"/><stop offset="0.7518" stop-color="rgb(0,0,0)"/><stop offset="0.7578" stop-color="rgb(0,0,0)"/><stop offset="0.7637" stop-color="rgb(0,0,0)"/><stop offset="0.7697" stop-color="rgb(0,0,0)"/><stop offset="0.7757" stop-color="rgb(0,0,0)"/><stop offset="0.7816" stop-color="rgb(0,4,0)"/><stop offset="0.7876" stop-color="rgb(0,1,0)"/><stop offset="0.7936" stop-color="rgb(0,0,0)"/><stop offset="0.7995" stop-color="rgb(0,2,0)"/><stop offset="0.8055" stop-color="rgb(0,0,0)"/><stop offset="0.8115" stop-color="rgb(0,4,0)"/><stop offset="0.8174" stop-color="rgb(0,0,0)"/><stop offset="0.8234" stop-color="rgb(0,5,0)"/><stop offset="0.8294" stop-color="rgb(0,5,0)"/><stop offset="0.8353" stop-color="rgb(0,0,0)"/><stop offset="0.8413" stop-color="rgb(0,2,0)"/><stop offset="0.8473" stop-color="rgb(0,0,0)"/><stop offset="0.8532" stop-color="rgb(0,0,0)"/><stop offset="0.8592" stop-color="rgb(0,0,0)"/><stop offset="0.8652" stop-color="rgb(0,0,0)"/><stop offset="0.8711" stop-color="rgb(0,0,0)"/><stop offset="0.8771" stop-color="rgb(0,0,0)"/><stop offset="0.8831" stop-color="rgb(0,3,0)"/><stop offset="0.889" stop-color="rgb(0,0,0)"/><stop offset="0.895" stop-color="rgb(0,4,0)"/><stop offset="0.901" stop-color="rgb(0,0,0)"/><stop offset="0.9069" stop-color="rgb(0,0,0)"/><stop offset="0.9129" stop-color="rgb(0,4,0)"/><stop offset="0.9189" stop-color="rgb(0,4,0)"/><stop offset="0.9248" stop-color="rgb(0,2,0)"/><stop offset="0.9308" stop-color="rgb(0,0,0)"/><stop offset="0.9368" stop-color="rgb(0,5,0)"/><stop offset="0.9427" stop-color="rgb(0,4,0)"/><stop offset="0.9487" stop-color="rgb(0,3,0)"/><stop offset="0.9547" stop-color="rgb(0,0,0)"/><stop offset="0.9606" stop-color="rgb(0,0,0)"/><stop offset="0.9666" stop-color="rgb(0,5,0)"/><stop offset="0.9726" stop-color="rgb(0,2,0)"/><stop offset="0.9785" stop-color="rgb(0,4,0)"/><stop offset="0.9845" stop-color="rgb(0,4,0)"/><stop offset="0.9905" stop-color="rgb(0,3,0)"/><stop offset="0.9964" stop-color="rgb(0,5,0)"/></linearGradient><filter id="s11" x="0" y="0" width="1" height="1" color-interpolation-filters="sRGB"><feTurbulence type="fractalNoise" baseFrequency="0.9 0.3" numOctaves="1" seed="45"/><feColorMatrix values="1 0 0 0 0 1 0 0 0 0 1 0 0 0 0 0 0 0 0 1" result="m"/><feColorMatrix in="SourceGraphic" values="1 1 0 0 -0.15 1 1 0 0 -0.15 1 1 0 0 -0.15 0 0 0 0 1" result="p"/><feColorMatrix in="SourceGraphic" values="0 0 1 0 0 0 0 1 0 0 0 0 1 0 0 0 0 0 0 1"/><feComposite in2="m" operator="arithmetic" k1="6.364" k2="-2.182" k3="0.636" k4="0.182"/><feComposite in="p" operator="arithmetic" k2="1" k3="1" k4="-.5"/><feComponentTransfer><feFuncR type="table" tableValues="0.149 0.14 0.13 0.121 0.112 0.099 0.086 0.073 0.065 0.075 0.086 0.099 0.125 0.152 0.185 0.247 0.31 0.372 0.435 0.497 0.58 0.669 0.757 0.845 0.933 0.908 0.883 0.858 0.815 0.744 0.673 0.602 0.607 0.631 0.655 0.684 0.729 0.775 0.821 0.867 0.901 0.916 0.932 0.948 0.964 0.98 0.982 0.983 0.984 0.986 0.987 0.988 0.99 0.991 0.992 0.993 0.995 0.996 0.997 0.999 1"/><feFuncG type="table" tableValues="0.18 0.218 0.255 0.292 0.33 0.393 0.463 0.532 0.599 0.651 0.703 0.748 0.761 0.774 0.788 0.803 0.819 0.835 0.851 0.867 0.882 0.897 0.912 0.926 0.941 0.887 0.832 0.778 0.702 0.596 0.489 0.382 0.389 0.424 0.458 0.5 0.571 0.641 0.711 0.781 0.834 0.86 0.886 0.912 0.939 0.965 0.967 0.969 0.972 0.974 0.976 0.979 0.981 0.984 0.986 0.988 0.991 0.993 0.995 0.998 1"/><feFuncB type="table" tableValues="0.588 0.646 0.704 0.762 0.82 0.856 0.886 0.917 0.915 0.784 0.654 0.536 0.471 0.405 0.356 0.37 0.385 0.399 0.414 0.428 0.458 0.49 0.523 0.556 0.588 0.556 0.523 0.49 0.445 0.382 0.319 0.256 0.28 0.325 0.371 0.424 0.502 0.58 0.659 0.737 0.797 0.827 0.858 0.888 0.919 0.949 0.952 0.956 0.959 0.963 0.966 0.969 0.973 0.976 0.98 0.983 0.986 0.99 0.993 0.997 1"/></feComponentTransfer><feGaussianBlur stdDeviation="0.5"/><feComponentTransfer><feFuncA type="discrete" tableValues="1 1"/></feComponentTransfer></filter><filter id="b11" x="-50%" y="-50%" width="200%" height="200%"><feGaussianBlur stdDeviation="2"/></filter><linearGradient id="v12" gradientUnits="userSpaceOnUse" x1="0" y1="782" x2="0" y2="879.3"><stop offset="0" stop-color="rgb(0,0,0)"/><stop offset="0.113" stop-color="rgb(3,0,0)"/><stop offset="0.391" stop-color="rgb(8,0,0)"/><stop offset="0.596" stop-color="rgb(13,0,0)"/><stop offset="0.75" stop-color="rgb(20,0,0)"/><stop offset="0.863" stop-color="rgb(28,0,0)"/><stop offset="1" stop-color="rgb(38,0,0)"/></linearGradient><linearGradient id="h12" gradientUnits="userSpaceOnUse" x1="628" y1="0" x2="794.7" y2="0"><stop offset="0" stop-color="rgb(0,35,0)"/><stop offset="0.006" stop-color="rgb(0,39,0)"/><stop offset="0.012" stop-color="rgb(0,38,0)"/><stop offset="0.018" stop-color="rgb(0,34,0)"/><stop offset="0.024" stop-color="rgb(0,34,0)"/><stop offset="0.03" stop-color="rgb(0,37,0)"/><stop offset="0.036" stop-color="rgb(0,42,0)"/><stop offset="0.042" stop-color="rgb(0,40,0)"/><stop offset="0.048" stop-color="rgb(0,43,0)"/><stop offset="0.054" stop-color="rgb(0,34,0)"/><stop offset="0.06" stop-color="rgb(0,38,0)"/><stop offset="0.066" stop-color="rgb(0,38,0)"/><stop offset="0.072" stop-color="rgb(0,43,0)"/><stop offset="0.078" stop-color="rgb(0,38,0)"/><stop offset="0.084" stop-color="rgb(0,38,0)"/><stop offset="0.09" stop-color="rgb(0,36,0)"/><stop offset="0.096" stop-color="rgb(0,39,0)"/><stop offset="0.102" stop-color="rgb(0,38,0)"/><stop offset="0.108" stop-color="rgb(0,38,0)"/><stop offset="0.114" stop-color="rgb(0,43,0)"/><stop offset="0.12" stop-color="rgb(0,37,0)"/><stop offset="0.126" stop-color="rgb(0,42,0)"/><stop offset="0.132" stop-color="rgb(0,43,0)"/><stop offset="0.138" stop-color="rgb(0,39,0)"/><stop offset="0.144" stop-color="rgb(0,36,0)"/><stop offset="0.15" stop-color="rgb(0,43,0)"/><stop offset="0.156" stop-color="rgb(0,35,0)"/><stop offset="0.162" stop-color="rgb(0,36,0)"/><stop offset="0.168" stop-color="rgb(0,35,0)"/><stop offset="0.174" stop-color="rgb(0,36,0)"/><stop offset="0.18" stop-color="rgb(0,40,0)"/><stop offset="0.186" stop-color="rgb(0,34,0)"/><stop offset="0.192" stop-color="rgb(0,37,0)"/><stop offset="0.198" stop-color="rgb(0,34,0)"/><stop offset="0.204" stop-color="rgb(0,34,0)"/><stop offset="0.21" stop-color="rgb(0,36,0)"/><stop offset="0.216" stop-color="rgb(0,38,0)"/><stop offset="0.222" stop-color="rgb(0,37,0)"/><stop offset="0.228" stop-color="rgb(0,43,0)"/><stop offset="0.234" stop-color="rgb(0,36,0)"/><stop offset="0.24" stop-color="rgb(0,42,0)"/><stop offset="0.246" stop-color="rgb(0,35,0)"/><stop offset="0.2519" stop-color="rgb(0,42,0)"/><stop offset="0.2579" stop-color="rgb(0,35,0)"/><stop offset="0.2639" stop-color="rgb(0,41,0)"/><stop offset="0.2699" stop-color="rgb(0,55,0)"/><stop offset="0.2759" stop-color="rgb(0,53,0)"/><stop offset="0.2819" stop-color="rgb(0,58,0)"/><stop offset="0.2879" stop-color="rgb(0,58,0)"/><stop offset="0.2939" stop-color="rgb(0,49,0)"/><stop offset="0.2999" stop-color="rgb(0,50,0)"/><stop offset="0.3059" stop-color="rgb(0,50,0)"/><stop offset="0.3119" stop-color="rgb(0,50,0)"/><stop offset="0.3179" stop-color="rgb(0,56,0)"/><stop offset="0.3239" stop-color="rgb(0,49,0)"/><stop offset="0.3299" stop-color="rgb(0,55,0)"/><stop offset="0.3359" stop-color="rgb(0,53,0)"/><stop offset="0.3419" stop-color="rgb(0,51,0)"/><stop offset="0.3479" stop-color="rgb(0,54,0)"/><stop offset="0.3539" stop-color="rgb(0,55,0)"/><stop offset="0.3599" stop-color="rgb(0,51,0)"/><stop offset="0.3659" stop-color="rgb(0,49,0)"/><stop offset="0.3719" stop-color="rgb(0,52,0)"/><stop offset="0.3779" stop-color="rgb(0,50,0)"/><stop offset="0.3839" stop-color="rgb(0,53,0)"/><stop offset="0.3899" stop-color="rgb(0,55,0)"/><stop offset="0.3959" stop-color="rgb(0,49,0)"/><stop offset="0.4019" stop-color="rgb(0,56,0)"/><stop offset="0.4079" stop-color="rgb(0,49,0)"/><stop offset="0.4139" stop-color="rgb(0,52,0)"/><stop offset="0.4199" stop-color="rgb(0,50,0)"/><stop offset="0.4259" stop-color="rgb(0,54,0)"/><stop offset="0.4319" stop-color="rgb(0,57,0)"/><stop offset="0.4379" stop-color="rgb(0,50,0)"/><stop offset="0.4439" stop-color="rgb(0,53,0)"/><stop offset="0.4499" stop-color="rgb(0,54,0)"/><stop offset="0.4559" stop-color="rgb(0,54,0)"/><stop offset="0.4619" stop-color="rgb(0,55,0)"/><stop offset="0.4679" stop-color="rgb(0,57,0)"/><stop offset="0.4739" stop-color="rgb(0,49,0)"/><stop offset="0.4799" stop-color="rgb(0,55,0)"/><stop offset="0.4859" stop-color="rgb(0,32,0)"/><stop offset="0.4919" stop-color="rgb(0,20,0)"/><stop offset="0.4979" stop-color="rgb(0,15,0)"/><stop offset="0.5039" stop-color="rgb(0,18,0)"/><stop offset="0.5099" stop-color="rgb(0,14,0)"/><stop offset="0.5159" stop-color="rgb(0,18,0)"/><stop offset="0.5219" stop-color="rgb(0,22,0)"/><stop offset="0.5279" stop-color="rgb(0,18,0)"/><stop offset="0.5339" stop-color="rgb(0,19,0)"/><stop offset="0.5399" stop-color="rgb(0,18,0)"/><stop offset="0.5459" stop-color="rgb(0,15,0)"/><stop offset="0.5519" stop-color="rgb(0,15,0)"/><stop offset="0.5579" stop-color="rgb(0,23,0)"/><stop offset="0.5639" stop-color="rgb(0,19,0)"/><stop offset="0.5699" stop-color="rgb(0,20,0)"/><stop offset="0.5759" stop-color="rgb(0,17,0)"/><stop offset="0.5819" stop-color="rgb(0,22,0)"/><stop offset="0.5879" stop-color="rgb(0,21,0)"/><stop offset="0.5939" stop-color="rgb(0,18,0)"/><stop offset="0.5999" stop-color="rgb(0,19,0)"/><stop offset="0.6059" stop-color="rgb(0,13,0)"/><stop offset="0.6119" stop-color="rgb(0,13,0)"/><stop offset="0.6179" stop-color="rgb(0,19,0)"/><stop offset="0.6239" stop-color="rgb(0,15,0)"/><stop offset="0.6299" stop-color="rgb(0,23,0)"/><stop offset="0.6359" stop-color="rgb(0,20,0)"/><stop offset="0.6419" stop-color="rgb(0,21,0)"/><stop offset="0.6479" stop-color="rgb(0,21,0)"/><stop offset="0.6539" stop-color="rgb(0,16,0)"/><stop offset="0.6599" stop-color="rgb(0,17,0)"/><stop offset="0.6659" stop-color="rgb(0,20,0)"/><stop offset="0.6719" stop-color="rgb(0,22,0)"/><stop offset="0.6779" stop-color="rgb(0,15,0)"/><stop offset="0.6839" stop-color="rgb(0,16,0)"/><stop offset="0.6899" stop-color="rgb(0,20,0)"/><stop offset="0.6959" stop-color="rgb(0,18,0)"/><stop offset="0.7019" stop-color="rgb(0,22,0)"/><stop offset="0.7079" stop-color="rgb(0,13,0)"/><stop offset="0.7139" stop-color="rgb(0,16,0)"/><stop offset="0.7199" stop-color="rgb(0,20,0)"/><stop offset="0.7259" stop-color="rgb(0,16,0)"/><stop offset="0.7319" stop-color="rgb(0,13,0)"/><stop offset="0.7379" stop-color="rgb(0,16,0)"/><stop offset="0.7439" stop-color="rgb(0,16,0)"/><stop offset="0.7499" stop-color="rgb(0,18,0)"/><stop offset="0.7558" stop-color="rgb(0,20,0)"/><stop offset="0.7618" stop-color="rgb(0,15,0)"/><stop offset="0.7678" stop-color="rgb(0,23,0)"/><stop offset="0.7738" stop-color="rgb(0,21,0)"/><stop offset="0.7798" stop-color="rgb(0,19,0)"/><stop offset="0.7858" stop-color="rgb(0,16,0)"/><stop offset="0.7918" stop-color="rgb(0,13,0)"/><stop offset="0.7978" stop-color="rgb(0,16,0)"/><stop offset="0.8038" stop-color="rgb(0,17,0)"/><stop offset="0.8098" stop-color="rgb(0,18,0)"/><stop offset="0.8158" stop-color="rgb(0,14,0)"/><stop offset="0.8218" stop-color="rgb(0,21,0)"/><stop offset="0.8278" stop-color="rgb(0,13,0)"/><stop offset="0.8338" stop-color="rgb(0,17,0)"/><stop offset="0.8398" stop-color="rgb(0,15,0)"/><stop offset="0.8458" stop-color="rgb(0,19,0)"/><stop offset="0.8518" stop-color="rgb(0,22,0)"/><stop offset="0.8578" stop-color="rgb(0,19,0)"/><stop offset="0.8638" stop-color="rgb(0,13,0)"/><stop offset="0.8698" stop-color="rgb(0,14,0)"/><stop offset="0.8758" stop-color="rgb(0,15,0)"/><stop offset="0.8818" stop-color="rgb(0,14,0)"/><stop offset="0.8878" stop-color="rgb(0,16,0)"/><stop offset="0.8938" stop-color="rgb(0,15,0)"/><stop offset="0.8998" stop-color="rgb(0,14,0)"/><stop offset="0.9058" stop-color="rgb(0,14,0)"/><stop offset="0.9118" stop-color="rgb(0,23,0)"/><stop offset="0.9178" stop-color="rgb(0,16,0)"/><stop offset="0.9238" stop-color="rgb(0,19,0)"/><stop offset="0.9298" stop-color="rgb(0,14,0)"/><stop offset="0.9358" stop-color="rgb(0,17,0)"/><stop offset="0.9418" stop-color="rgb(0,22,0)"/><stop offset="0.9478" stop-color="rgb(0,17,0)"/><stop offset="0.9538" stop-color="rgb(0,22,0)"/><stop offset="0.9598" stop-color="rgb(0,15,0)"/><stop offset="0.9658" stop-color="rgb(0,16,0)"/><stop offset="0.9718" stop-color="rgb(0,20,0)"/><stop offset="0.9778" stop-color="rgb(0,17,0)"/><stop offset="0.9838" stop-color="rgb(0,23,0)"/><stop offset="0.9898" stop-color="rgb(0,22,0)"/><stop offset="0.9958" stop-color="rgb(0,19,0)"/></linearGradient><filter id="s12" x="0" y="0" width="1" height="1" color-interpolation-filters="sRGB"><feTurbulence type="fractalNoise" baseFrequency="0.9 0.3" numOctaves="1" seed="47"/><feColorMatrix values="1 0 0 0 0 1 0 0 0 0 1 0 0 0 0 0 0 0 0 1" result="m"/><feColorMatrix in="SourceGraphic" values="1 1 0 0 -0.15 1 1 0 0 -0.15 1 1 0 0 -0.15 0 0 0 0 1" result="p"/><feColorMatrix in="SourceGraphic" values="0 0 1 0 0 0 0 1 0 0 0 0 1 0 0 0 0 0 0 1"/><feComposite in2="m" operator="arithmetic" k1="6.364" k2="-2.182" k3="0.636" k4="0.182"/><feComposite in="p" operator="arithmetic" k2="1" k3="1" k4="-.5"/><feComponentTransfer><feFuncR type="table" tableValues="0.149 0.14 0.13 0.121 0.112 0.099 0.086 0.073 0.065 0.075 0.086 0.099 0.125 0.152 0.185 0.247 0.31 0.372 0.435 0.497 0.58 0.669 0.757 0.845 0.933 0.908 0.883 0.858 0.815 0.744 0.673 0.602 0.607 0.631 0.655 0.684 0.729 0.775 0.821 0.867 0.901 0.916 0.932 0.948 0.964 0.98 0.982 0.983 0.984 0.986 0.987 0.988 0.99 0.991 0.992 0.993 0.995 0.996 0.997 0.999 1"/><feFuncG type="table" tableValues="0.18 0.218 0.255 0.292 0.33 0.393 0.463 0.532 0.599 0.651 0.703 0.748 0.761 0.774 0.788 0.803 0.819 0.835 0.851 0.867 0.882 0.897 0.912 0.926 0.941 0.887 0.832 0.778 0.702 0.596 0.489 0.382 0.389 0.424 0.458 0.5 0.571 0.641 0.711 0.781 0.834 0.86 0.886 0.912 0.939 0.965 0.967 0.969 0.972 0.974 0.976 0.979 0.981 0.984 0.986 0.988 0.991 0.993 0.995 0.998 1"/><feFuncB type="table" tableValues="0.588 0.646 0.704 0.762 0.82 0.856 0.886 0.917 0.915 0.784 0.654 0.536 0.471 0.405 0.356 0.37 0.385 0.399 0.414 0.428 0.458 0.49 0.523 0.556 0.588 0.556 0.523 0.49 0.445 0.382 0.319 0.256 0.28 0.325 0.371 0.424 0.502 0.58 0.659 0.737 0.797 0.827 0.858 0.888 0.919 0.949 0.952 0.956 0.959 0.963 0.966 0.969 0.973 0.976 0.98 0.983 0.986 0.99 0.993 0.997 1"/></feComponentTransfer><feGaussianBlur stdDeviation="0.5"/><feComponentTransfer><feFuncA type="discrete" tableValues="1 1"/></feComponentTransfer></filter><filter id="b12" x="-50%" y="-50%" width="200%" height="200%"><feGaussianBlur stdDeviation="2.5"/></filter><clipPath id="cd1"><rect x="48" y="974.6" width="182" height="70.4"/></clipPath><clipPath id="cd2"><rect x="244" y="974.6" width="176" height="70.4"/></clipPath><clipPath id="cd3"><rect x="436" y="974.6" width="174" height="70.4"/></clipPath><clipPath id="cd4"><rect x="630" y="974.6" width="170" height="70.4"/></clipPath></defs><text x="15.6" y="19.6" font-size="18" font-weight="bold" textLength="18.4" lengthAdjust="spacingAndGlyphs">A)</text>
<text x="64" y="13.8" font-size="16.2" font-weight="bold" textLength="213" lengthAdjust="spacingAndGlyphs">1st Electrographic Seizure</text>
<text x="315.5" y="13.8" font-size="16.2" font-weight="bold" textLength="214.5" lengthAdjust="spacingAndGlyphs">3rd Electrographic Seizure</text>
<text x="570" y="13.8" font-size="16.2" font-weight="bold" textLength="213" lengthAdjust="spacingAndGlyphs">5th Electrographic Seizure</text>
<g filter="url(#s1)"><rect x="58.8" y="22.5" width="51.5" height="113" fill="url(#v1)"/><rect x="58.8" y="22.5" width="51.5" height="113" fill="url(#h1)" style="mix-blend-mode:screen"/></g>
<rect x="58.8" y="31.2" width="51.5" height="4.9" fill="#14c47e"/>
<rect x="58.8" y="36.1" width="51.5" height="5" fill="#86e482"/>
<rect x="58.8" y="41.1" width="51.5" height="4.9" fill="#10cc70"/>
<g filter="url(#s2)"><rect x="119" y="22.5" width="163.5" height="113" fill="url(#v2)"/><rect x="119" y="22.5" width="163.5" height="113" fill="url(#h2)" style="mix-blend-mode:screen"/><g style="mix-blend-mode:screen" filter="url(#b2)"><polygon points="124,135.5 124,50 150,54 151,135.5" fill="rgb(0,0,25)"/><polygon points="124,135.5 124,62 150,68 151,135.5" fill="rgb(0,0,45)"/><rect x="124" y="85" width="22" height="50.5" fill="rgb(0,0,35)"/><rect x="124" y="105" width="16" height="30.5" fill="rgb(0,0,20)"/></g></g>
<rect x="124" y="31.2" width="26" height="4.9" fill="#1f6fdc"/>
<rect x="124" y="36.1" width="26" height="5" fill="#16a0ee"/>
<rect x="124" y="41.1" width="26" height="4.9" fill="#1f70dc"/>
<rect x="150" y="31.2" width="132.5" height="4.9" fill="#18a0ee"/>
<rect x="150" y="36.1" width="132.5" height="5" fill="#2cc864"/>
<rect x="150" y="41.1" width="132.5" height="4.9" fill="#18a0ee"/>
<rect x="119" y="22.5" width="5" height="113" fill="#2b3aa0"/>
<rect x="58.8" y="22.5" width="51.5" height="8.7" fill="#26309a" opacity="0.5"/>
<rect x="119" y="22.5" width="163.5" height="8.7" fill="#26309a" opacity="0.5"/>
<path d="M58 22.5V135.5M53.5 135.5H58M53.5 54.8H58M55 127.4H58M55 119.4H58M55 111.3H58M55 103.2H58M55 95.1H58M55 87.1H58M55 79H58M55 70.9H58M55 62.9H58M55 46.7H58M55 38.6H58M55 30.6H58M55 22.5H58" stroke="#000" stroke-width="1.2" fill="none"/>
<text transform="translate(47.3 54.8) rotate(-90)" y="3.8" font-size="10.5" text-anchor="middle">50</text>
<text transform="translate(47.3 135.8) rotate(-90)" y="3.8" font-size="10.5" text-anchor="middle">0</text>
<text transform="translate(25.3 78.2) rotate(-90)" y="3.8" font-size="10.5" text-anchor="middle">Hz</text>
<rect x="177.5" y="135.6" width="94.5" height="4.6" fill="url(#cb)"/>
<path d="M177.5 140.2v4M224.8 140.2v4M272 140.2v4M186.9 140.2v2M196.4 140.2v2M205.8 140.2v2M215.3 140.2v2M234.2 140.2v2M243.6 140.2v2M253.1 140.2v2M262.6 140.2v2" stroke="#000" stroke-width="1" fill="none"/>
<text x="178" y="157.3" font-size="11.5" text-anchor="middle">0</text>
<text x="225" y="157.3" font-size="11.5" text-anchor="middle">100</text>
<text x="272" y="157.3" font-size="11.5" text-anchor="middle">200</text>
<text x="196.4" y="174.6" font-size="11.3" textLength="57.2" lengthAdjust="spacingAndGlyphs">Power (dB)</text>
<g filter="url(#s3)"><rect x="311.5" y="23.5" width="32.5" height="113.5" fill="url(#v3)"/><rect x="311.5" y="23.5" width="32.5" height="113.5" fill="url(#h3)" style="mix-blend-mode:screen"/></g>
<rect x="311.5" y="32.2" width="32.5" height="4.9" fill="#1e8ae8"/>
<rect x="311.5" y="37.1" width="32.5" height="5" fill="#1cc46a"/>
<rect x="311.5" y="42.1" width="32.5" height="4.9" fill="#1e8ae8"/>
<g filter="url(#s4)"><rect x="355.5" y="23.5" width="178.5" height="113.5" fill="url(#v4)"/><rect x="355.5" y="23.5" width="178.5" height="113.5" fill="url(#h4)" style="mix-blend-mode:screen"/><g style="mix-blend-mode:screen" filter="url(#b4)"><polygon points="359,137 359,55 398,60 399,137" fill="rgb(0,0,51)"/><rect x="359" y="75" width="21" height="58" fill="rgb(0,0,40)"/></g></g>
<rect x="358.5" y="32.2" width="41.5" height="4.9" fill="#1e8ae8"/>
<rect x="358.5" y="37.1" width="41.5" height="5" fill="#16b4b0"/>
<rect x="358.5" y="42.1" width="41.5" height="4.9" fill="#1e8ae8"/>
<rect x="400" y="32.2" width="134" height="4.9" fill="#1a94ec"/>
<rect x="400" y="37.1" width="134" height="5" fill="#20c46c"/>
<rect x="400" y="42.1" width="134" height="4.9" fill="#1a94ec"/>
<rect x="355.5" y="23.5" width="3" height="113.5" fill="#2b3aa0"/>
<rect x="311.5" y="23.5" width="32.5" height="8.7" fill="#26309a" opacity="0.5"/>
<rect x="355.5" y="23.5" width="178.5" height="8.7" fill="#26309a" opacity="0.5"/>
<path d="M311 23.5V137M306.5 137H311M306.5 55.9H311M308 128.9H311M308 120.8H311M308 112.7H311M308 104.6H311M308 96.5H311M308 88.4H311M308 80.2H311M308 72.1H311M308 64H311M308 47.8H311M308 39.7H311M308 31.6H311M308 23.5H311" stroke="#000" stroke-width="1.2" fill="none"/>
<text transform="translate(301.5 55.9) rotate(-90)" y="3.8" font-size="10.5" text-anchor="middle">50</text>
<text transform="translate(301.5 137.3) rotate(-90)" y="3.8" font-size="10.5" text-anchor="middle">0</text>
<g filter="url(#s5)"><rect x="564.4" y="23.4" width="56.6" height="113.1" fill="url(#v5)"/><rect x="564.4" y="23.4" width="56.6" height="113.1" fill="url(#h5)" style="mix-blend-mode:screen"/></g>
<rect x="564.4" y="32" width="56.6" height="5" fill="#1894ec"/>
<rect x="564.4" y="37" width="56.6" height="5" fill="#20c46c"/>
<rect x="564.4" y="42" width="56.6" height="4.8" fill="#1894ec"/>
<g filter="url(#s6)"><rect x="627.7" y="23.4" width="159.9" height="113.1" fill="url(#v6)"/><rect x="627.7" y="23.4" width="159.9" height="113.1" fill="url(#h6)" style="mix-blend-mode:screen"/><g style="mix-blend-mode:screen" filter="url(#b6)"><polygon points="631,136.5 631,65 660,70 680,110 682,136.5" fill="rgb(0,0,51)"/><rect x="632" y="85" width="28" height="51" fill="rgb(0,0,20)"/><polygon points="722,136.5 724,100 745,85 768,100 770,136.5" fill="rgb(0,0,38)"/></g></g>
<rect x="629.5" y="32" width="10.5" height="5" fill="#1a8ae8"/>
<rect x="629.5" y="37" width="10.5" height="5" fill="#18b0b8"/>
<rect x="629.5" y="42" width="10.5" height="4.8" fill="#1a8ae8"/>
<rect x="640" y="32" width="147.6" height="5" fill="#1894ec"/>
<rect x="640" y="37" width="147.6" height="5" fill="#20c46c"/>
<rect x="640" y="42" width="147.6" height="4.8" fill="#1894ec"/>
<rect x="627.7" y="23.4" width="2.1" height="113.1" fill="#2b3aa0"/>
<rect x="564.4" y="23.4" width="56.6" height="8.6" fill="#26309a" opacity="0.5"/>
<rect x="627.7" y="23.4" width="159.9" height="8.6" fill="#26309a" opacity="0.5"/>
<path d="M563.6 23.4V136.5M559.1 136.5H563.6M559.1 55.7H563.6M560.6 128.4H563.6M560.6 120.3H563.6M560.6 112.3H563.6M560.6 104.2H563.6M560.6 96.1H563.6M560.6 88H563.6M560.6 80H563.6M560.6 71.9H563.6M560.6 63.8H563.6M560.6 47.6H563.6M560.6 39.6H563.6M560.6 31.5H563.6M560.6 23.4H563.6" stroke="#000" stroke-width="1.2" fill="none"/>
<text transform="translate(556 55.7) rotate(-90)" y="3.8" font-size="10.5" text-anchor="middle">50</text>
<text transform="translate(556 136.8) rotate(-90)" y="3.8" font-size="10.5" text-anchor="middle">0</text>
<path d="M57.3 164.1V214.5M52.3 164.1H57.3M52.3 189.4H57.3M52.3 214.5H57.3" stroke="#000" stroke-width="1.3" fill="none"/>
<text x="50" y="168.5" font-size="12" text-anchor="end">5</text>
<text x="50" y="193.8" font-size="12" text-anchor="end">0</text>
<text x="50" y="218.9" font-size="12" text-anchor="end">-5</text>
<path d="M56.5 226V275.6M51.5 226H56.5M51.5 259H56.5" stroke="#000" stroke-width="1.3" fill="none"/>
<text x="48.8" y="230.4" font-size="12" text-anchor="end">.10</text>
<text x="49.3" y="263.4" font-size="12" text-anchor="end">0</text>
<text transform="translate(15 188.5) rotate(-90)" y="4.4" font-size="12.2" text-anchor="middle" textLength="71" lengthAdjust="spacingAndGlyphs">Voltage (mV)</text>
<text transform="translate(6.6 259) rotate(-90)" y="4.3" font-size="12" text-anchor="middle">Power</text>
<text transform="translate(24 259) rotate(-90)" y="4.3" font-size="12" text-anchor="middle">(20-50Hz)</text>
<path d="M311.5 165V207.6M306.5 165H311.5M306.5 186.5H311.5M306.5 207.6H311.5" stroke="#000" stroke-width="1.3" fill="none"/>
<text x="304" y="169.4" font-size="12" text-anchor="end">5</text>
<text x="304" y="190.9" font-size="12" text-anchor="end">0</text>
<text x="304" y="212" font-size="12" text-anchor="end">-5</text>
<path d="M311 217.3V258.6M306 217.3H311M306 245.6H311" stroke="#000" stroke-width="1.3" fill="none"/>
<text x="303.5" y="221.7" font-size="12" text-anchor="end">0.1</text>
<text x="304" y="250" font-size="12" text-anchor="end">0</text>
<path d="M568 160V210M563 160H568M563 185H568M563 210H568" stroke="#000" stroke-width="1.3" fill="none"/>
<text x="561" y="164.4" font-size="12" text-anchor="end">5</text>
<text x="561" y="189.4" font-size="12" text-anchor="end">0</text>
<text x="561" y="214.4" font-size="12" text-anchor="end">-5</text>
<path d="M567 222V271.6M562 222H567M562 255.8H567" stroke="#000" stroke-width="1.3" fill="none"/>
<text x="563.5" y="226.4" font-size="12" text-anchor="end">0.1</text>
<text x="564" y="260.2" font-size="12" text-anchor="end">0</text>
<path d="M57.8 187.1l.2 5.3 .2-4.9 .3 2.9 .2-3.2 .2 4 .2-4.5 .3 4.1 .2-3.8 .2 5.4 .2-4.7 .2 4.1 .3 .3 .2-4.7 .2 4.4 .2-4.5 .3 4 .2 .7 .2-5.9 .2 5.4 .2-4 .3 4.6 .2-5.3 .2 .9 .2 4 .3-5.1 .2 4.1 .2-3.3 .2-2.7 0 7.6 .2-5.8 .3 5.7 .2-5.2 .2 4.3 .2-3.5 .3 2.6 .2-4 .2 5.8 .2-4.7 .3 3.8 .2-4.4 .2 4.8 .2-.9 .2-.4 .3-2.9 .2 4.9 .2-5.1 .2 0 .3 5 .2-5.7 .2 5.9 .2-6.3 .2 6 .3-5.7 .2 4.5 .2-4.3 .2 5.6 .3-4.3 .2 4.3 0-9.1 .3 13-.1-8.5 .2 2.7 .2-3.7 .3 5.2 .2-5.1 .2 5.3 .2-5.9 .3 6 .2 .1 .2-4.7 .2 2.8 .2-4.1 .3 5.8 .2-4.6 .2 3 .2-2.9 .3 3.6 .2-3.7 .2 4.3 .2-4.4 .2-.4 .3-.2 .2 4.4 .2-4.8 .2 5.4 .3-4.2 .2 .3 .2 2.8 .2-3.1 .3 4.8 .2-5.4 .2 5 .2-5 .2-2.8 0 7.9 .3-6 .2 4.7 .2-3.8 .2 4.7 .3-5.3 .2 5.6 .2-4.7 .2 3.8 .2-.6 .3-.1 .2-2.9 .2-.5 .2 5.2 .3-5.1 .2 4.8 .2-5.2 .2 4.3 .2-4.7 .3 5.6 .2-4.8 .2 4.5 .2-4.5 .3 .5 .2 3.4 .2-4.7 .2 4.4 .2-3.3 .3 3.3 .2-3 .2-1.2 .2 5.9 .3-5.2 .2-.8 .2 4.9 .2-4.6 .2 4.1 .3-2.8 .2 4 .2-5 .2 4.3 .3-4.5 .2 5.1 .2-.6 .2-4.9 .2-2.7 .2 8.5-.2-1.3 .3-4.8 .2 5.8 .2-.1 .2-4.7 .3 4.6 .2-4.6 .2 4.8 .2-4.4 .3 3.9 .2-4.3 .2 5.3 .2-5.8 .2 4.6 .3-5.3 .2 5.7 .2-5.3 .2 .6 .3 4.7 .2-5.2 .2 5.4 .2-4.9 .2 5.6 .3-6 .2 5.6 .2-6.3 .2 4.7 .3-3.4 .2 4.2 .2-4.8 .2 4.5 .2-4.6 .3 .4 .2 5.4 .2-4.7 .2 4.6 .3-5.5 .2 5 .2-5.7 .2 5.9 .2-5.6 .3 4.9 .2-3.4 .2 3.5 .2-.2 .3-3.6 .2 3.4 .2-4.4 .2 4.6 .2-4.1 .3 4.9 .2-4.6 .2-1.1 .2 6.2 .3-.1 .2-6.1 .2 4.4 .2-4.7 .2 5.2 .3-3.3 .2 4.5 .2-4.6 .2-1.4 .3 6.3 .2-6.3 .2 6.3 .2-6.4 .3 5.9 .2-5.7 .2 6.2 .2-5.1 .2 3.4 .2-6.6 .2 10.5-.1-6.9 .2 3 .2-4 .2 5.6 .3-6.4 .2 5.7 .2-5.7 .2 5.4 .2-.8 .3-4.1 .2 5.4 .2-6.1 .2 6.9 .3-5.9 .2 1.1 .2 4 .2-6 .2 5.7 .3-5.5 .2 5.4 .2-4.9 .2 4.5 .3-4.1 .2 4.1 .2-5.4" stroke="#000" stroke-width="1" fill="none" stroke-linejoin="round"/>
<path d="M115 189l6.3 0 0-5.9 .2 16.7 .1-28.8 .1 10.2 .3 18.8 .2-22.3 0-4.7 .3 40-.1-6.8 .2-30.1 .3 20.6 .1-24.7 .2 39-.1-35 .2 1.5 .2 22.3 .2-28.1 .3 5.4 0-3.1 .2 36 0-13.5 .2-16.3 .2 15.3 .3-20.8 .1 .3 .2 34-.1-2.4 .2-34.1 .2 22.9 .2-14.1 .3 13.6 .2-14.5 .2 15.4 .1-18.4 .3 25.6-.2-16.6 .3 7.9 .2-11.5 .2 12.5 .2-8.6 .2 7.3 .3-7.6 .2 7.9 .1-15.3 .3 21.5-.2-17.3 .2 8.3 .3-7.1 .2 9.7 .2-10.7 .2 10.5 .2-8.9 .3 9.5 .2 0 .2-8.9 .2-7.5 .2 24.2-.2-7.1 .3-11.8 .2 10.3 .2 .9 .2-9.1 .3 9.3 .1-16.8 .2 24.5-.1-18.5 .2 10.9 .2-9.3 .2 6.7 .3-7.9 .2 10.4 .2-11.4 .2 11.3 .3-9 .2-2.1 .1-2.9 .2 19.1-.1-4.9 .2-8.4 .2 7.9 .3-10.6 .2 2.1 .2 8 0-13.6 .3 21.8-.1-16.1 .3 8.2 .2-9.2 .2 9.4 .2-8.5 .2 8.8 .3-1.5 .2-8.7 .2 7.4 .2-7.8 .1-5 .3 22.1-.1-7.8 .2-8.6 .2 6.5 .2 1.3 .2-8.2 .3 7.3 .2-6.2 .2 5.7 .2-8.2 .3 2 .2 7.1 .2-6.9 .2-5.6 .3 20.6-.3-16.3 .2 10.9 .3-8 .2 5 .2-5.1 .2 7.7 .3-11.1 .2 3.4 .2 5.9 .2-9.3 .2 9.9 .1-13.5 .3 20-.1-16.4 .2 9.2 .2-6.2 .2-3.1 .3 8 .2-5.6 .2-2 .2 7.6 .2-6.9 .3 10.4 .2-8.3 0-4.9 .3 18.1-.1-5.1 .2-8.6 .3 7.9 .2-8 .2 5.7 .2-5.1 .2 5.1 .3-4.5 .2 4.7 .1-11.5 .2 17.2-.1-13.8 .2 10.8 .3-.2 .2-8.8 .2 8.9 .2-9.5 .2 7.4 .1-9.8 .3 17.1-.1-14.2 .2 6.2 .2-4.6 .2 6 .3-9 .2 8.5 .2-6.3 .2 6 .3-6.5 .2 7.6 .2-8 .2 6.9 .2-4.5 .3 2.9 .2-2.8 .2 4.1 .2-.1 .3-4.2 .2 .4 .2 2.6 .2-.5 .2-2.6 .3 2.6 .2-2.9 .2 3.7 .2-.4 .3-2.6 .2 3.6 .2-3.7 .2 2.4 .2-3 .3 3.3 .2-3.7 .2 4.3 .2-3.1 .3 2.8 .2-2.8 .2 2.7 .2-4.2 .2 3.6 .3 .8 .2-.3 .2-4 .2 3.8 .3-3.4 .2 4 .2-3.8 .2 4.2 .2-4.9 .3 4.9 .2-4.6 0-1.2 .2 6.1 .2-.7 .3-3.8 .2 2.9 .2 .4 .2-2.6 .2 3.7 .3-3.7 .2 2.5 .2-3.4 .2 4 .3-3.1 .2-1.1 .2 3.5 .2-3.1 .2 3.1 .3-2.4 .2 3.7 .2-4.5 .2 3.3 .3-4 .2 4.4 .2-3.6 .2 4.6 .2-4.3 .3 3.2 .2-4.4 .2 5.4 .2-5.1 .3 4.4 .2 .8 .2-4.4 .2 3.3 .2-2.7 .3 3 .2-3.1 .2-1.2 .2 .3 .3 4.7 .2-1.6 .2-2.5 .2 3 .2-4.2 .3 4.1 .2-3.2 .2 .3 .2 3.7 .3-4.3 .2 .2 .2 3.7 .2-3.1 .3 2.5 .2-2.9 .2 3.1 .2-3.4 .2 4.1 .3-4.3 .2 4.5 .2-4.3 .2 3.8 .3-3.2 .2 3.3 .2-3.9 .2 3.6 .2-.2 .3-3.3 .2 4.7 .2-5.2 .2 3.5 .3 .7 .2-3.5 .2 4 .2-3.7 .2-.9 .3 3.9 .2-3.8 .2 4.7 .2-4.4 .3 4.2 .2-4.1 .2 4.1 .2 1.7 0-2.8 .2-.2 .3-3 .2 4.7 .2-4.4 .2 4.3 .3-4.3 .2 3.5 .2-3.3 .2 3.5 .2-3.6 .3 4.1 .2-4.3 .2 3.3 .2-3.5 .3 3.1 .2 .5 .2-4.1 .2 1.1 .2 4 .3-3.7 .2 3 .2 .5 .2-5.2 .3 4.7 .2-3.6 .2 3.8 .2-4.8 .2 4.6 .3-3.6 .2 3.7 .2-4.6 .2 .7 .3 4 .2-.5 .2-4.1 .2 4.1 .2 .9 .3-3.7 .2-1 .2 5 .2-1.1 .3-3.2 .2 3.4 .2-3.2 .2 3.4 .2-4.9 .3 3.9 .2-3.5 .2 4.6 .2-3.7 .3 3.5 .2-3.3 .2 3.3 .2-4.2 .3 5 .2-4.5 .2 3 .2-2.5 .2 2.5 .3-3.8 .2 4.9 .2-3.4 .2 2.6 .3-3.2 .2 3.1 .2-4.1 .2 4.2 .2-3.3 .3 4.3 .2-5.3 .2 4.8 .2-3.2 .3-1.4 .2 5.1 .2-4.1 .2 4.2 .2-5.4 .3 4.4 .2-3.1 .2 4 .2-5 .3 3.7 .2-2.6 .2-.2 .1-2.5 .1 5.2 .2-2.9 .3 2.8 .2-3.6 .2 3.9 .2-2.9 .3 2.5 .2-2.6 .2 3.9 .2-3.8 .2 2.7 .3-3.7 .2 3.8 .2-3.6 .2 5 .3-5.4 .2 4.1 .2-2.6 .2 2.7 .2 .5 .3-3.4 .2 2.8 .2-.2 .2-3.2 .3 4.4 .2-4.6 .2 3.7 .2-2.6 .2 3.6 .3-4.7 .2 4.2 .2-3.9 .2 3 .3-2.5 .2 3.7 .2-4 .2-.7 .2-.1 .3 4 .2-3.7 .2 3.8 .2-3.8 .3 3.6 .2-3 .2 2.9 .2-3.9 .2 4.9 .3-3.4 .2 2.4 .2-3 .2 3.2 .3-2.8 .2 3.3 .2-3.4 .2 3.6 .3-3.2 .2 3.4 .2-3.5 .2-1 .2 3.5 .3-3.8 .2 5 .2-3.7 .2 2.8 .3-4.2 .2 3.6 .2 .7 .2 .4 .2-4.7 .3 4.3 .2-4.1 .2 4.2 .2-.7 .3-2.3 .2 3.5 .2-4.4 .4 6.5-.2-6.6 .2 3.5 .3-3 .2 2.9 .2-2.5 .2 3.4 .3-3.6 .2 3.2 .2-.2 .2-4.2 .2 4.6 .3-4.5 .2 4.9 .2-4.6 .2 4 .3-4.3 .2 4 .2-2.9 .2 2.9 .2-3.8 .3 3.5 .2-3 .2 3.1 .2-2.3 .3-1.3 .2 4.6 .2-.3 .2-3.9 .2 3.2 .3-2.3 .2-1.2 .2 4.9 .2-4.1 .3 2.6 .2-3.6 .2 3.9 .2-3.6 .2 4.8 .3-5.1 .2 4.7 .2-3.6 .2 2.9 .3-3.6 .2 4.5 .2-3.6 .2 3.2 .2-4.4 .3-.4 .2 4.6 .2-3.4 .1-2.5 .1 5.1 .3-2.4 .2 4 .2-3.8 .2 2.4 .2-2.3 .3 3.5 .2-4.3 .2 4 .2-3.9 .3 3.5 .2-4.3 .2 1.2 .2 3.1 .3-3.4 .2 2.7 .2-2.9 .2-.8 .2-.2 .3 .7 .2 3.2 .2-3.2 .2 4.1 .3-.1 .2-3.4 .2 4.1 .2-3.9 .2 3.1 .3-4 .2 4.2 .2-3.9 .2 3.6 .3-3 .2-.7 .2 4.5 .2-3.7 .2 2.6 .3-3.4 .2 4 .2-3.9 .2 3 .3-2.2 .2 3.7 .2-4.9 .2 3.5 .2 1.1 .3-4.8 .2 3.8 .2 .7 .2-3.2 .3 2.3 .2-2.8 .2 3.8 .2-3.6 .2 3.3 .3 .3 .2-.1 .2 .6 .2-4.9 .3 4.7 .2-4.9 .2 4.2 .2-4.4 .2 3.8 .3-2.3 .2 3.6 .2-5.1 .2 4.1 .3-3.2 .2 3.8 .2-3 .2 3.4 .1-6.9 .2 7.5-.1-5 .3 4.2 .2-3.4 .2-.8 .2 4.5 .3-1.5 .2-2.3 .2 3.9 .2-3.6 .2 3.5 .3-4.2 .2 3 .2-3 .2-.4 .3 3.7 .2-4.2 .2 3.7 .2-2.7 .2 3.6 .3-3.6 .2 3.6 .2-3 .2 3.8 .3-4 .2 2.7 .2-3.4 .2 3.9 .2-4.7 .3 1.7 .2 3.4 .2 0 .2-4.5 .3 3.6 .2-4.1 .2 .4 .2 4.6 .3-4.3 .2 3.5 .2-3.3 .2 3.3 .2-4.4 .3 4.4 .2-3 .2 2.6 .2-3.8 .3 4.4 .2-3.3 .2 2.6 .2-2.6 .2-3.5 0 7 .3-.4 .2 .4 .2-3.3 .2 4.1 .3-5.2 .2 5 .2-4.5 .2 .4 .2 2.5 .3-2.5 .2 2.9 .2-2.7 .2 3.9 .3-3.9 .2 4 .2-3.8 .2 3.7 .2-3.8 .3 3.2 .2 .1 .2-.7 .2-3.7 .3 4 .2-3.3 .2 3.3 .2-3.8 .2 4 .3-3.3 .2 2.4 .2 1 .2-.9 .3-3.4 .2 3.5 .2-2.4 .2 2.3 .2-2.9 .3 3.9 .2-4.3 .2 3.8 .2-3 .3 3.8 .2-3.9 .2 4.3 .2-4.3 .4 5.5-.2-1.3 .3-3.7 .2 3.2 .2-3.8 .2 .2 .3 2.5 .2-2.3 .2 3.1 .2-3.2 .2-.3 .3 2.9 .2-4 .2 3.7 .2-2.4 .3-.5 .2 3.5 .2-3.4 .2 4.4 .2-4.9 .3 4.5 .2-4.8 .2 4.6 .2-4.7 .3 .6 .2 3.5 .2-3.2 .2 3.1 .3-3.4 .2 4.9 .2-4.8 .2 4.6 .2-1.1 .3-4 .2 4.1 .2-4.2 .2 4.8 .3-4 .2 4.4 .2-5.2 .2 5 .2-1.1 .3 1.5 .2-3.8 .2 3.8 .2-5.4 .3 4.9 .2-3.6 .2 2.4 .2-3.8 .2 5.3 .3-1.6 .2-3.4 .2 3.4 .2-2.4 .3 2.6 .2-4 .2 5.4 .2-4.5 .2 3.7 .3-4 .2 4.5 .2-3.5 .2 3.1 .3-.3 .2-4.3 .2 .4" stroke="#000" stroke-width="1" fill="none" stroke-linejoin="round"/>
<path d="M311.8 185.3l.2 2.2 .2-2.8 .3 3.7 .2-2.8 .2 2.9 .2-3.8 .3 4.4 .2-.5 .2-3.5 .2 4 .2-4.2 .3 2.8 .2-.3 .2-3.4 .2 4.4 .3-3.2 .2 2.4 .2-3.3 .2 1.2 .3 2.5 .2-3.3 .2 4.4 .2-4.8 .2 .4 .3 4.4 .2-4.6 .2 3.6 .2-3.2 .3 3.5 .2-3.4 .2 3.3 .2-3.7 .2 4.3 .3-4.5 .2 3.8 .2-2.9 .2-2.8 0 2.2 .3 3.6 .2-3.1 .2 3.6 .2-4.3 .2 4.4 .3-1.4 .2-3.3 .2 3.4 .2-2.4 .3 2.8 .2-3.3 .2 2.9 .2-3.7 .2 4.3 .3-4 .2 3.5 .2-2.7 .2 2.8 .3-2.8 .2 2.4 .2-2.8 .2 3.1 .3-2.6 .2 2.7 .2-2.4 .2 3.5 .2-4 .3 3.6 .2-3 .2 2.5 .2-2.9 .3 3.4 .2-3.5 .2 3.4 .2-.7 .2 .9 .3-4.1 .2 3 .2-2.6 .2 3.3 .3 .5 .2-4.1 .2 3.6 .2-3.3 .2 4 .3-4.1 .2 4 .2-4.5 .2 3.2 .3-2.8 .2 4 .2-3.5 .2 3.6 .3-3.4 .2 3 .2-4 .2 3.8 .2-3.8 .3 6.1 0-2.1 .2 .4 .2-1.1 .2-3 .3 4.4 .2-4 .2 2.7 .2 .5 .2-3.4 .3 3 .2 .9 .2-1 .2-2.3 .3 2.5 .2-3.2 .2 3.2 .2-2.7 .2-.6 .3 3.2 .2-3 .2 3.1 .2-3.8 .3 4.4 .2-4 .2 4.4 .2-4.9 .2 4 .3-2.6 .2 0 .2 2.2 .2 .7 .3-3.7 .2 3.9 .2-3.4 .2 2.5 .3 .1 .2-2.4 .2 3.6 .2-4.5 .2 4.4 .3-3.6 .2 3.3 .2-4.4 .2 3.6 .3-2.7 .2 2.6 .2 .3 .2 10.5" stroke="#000" stroke-width="1" fill="none" stroke-linejoin="round"/>
<path d="M354 186.5l2 0 0-6.3 .2 1.6 .2 7.6 .1-14.9 .2 15.1 .2-8.1 .1-7 .2 30-.1-13.2 .2-9.9 .3 9.4 .2-8.9 .2-6.4 .2 28-.2-13.8 .2-10.1 .2 14 .3-14.5 .2 14.1 .1-18.1 .2 24.1-.1-18.9 .2 12.8 .3-10.7 .2 8.9 .2-9.1 .2 1.1 .2 7.2 .3-10.9 .2 10 .1-14.9 .2 25.4-.1-19.5 .2 2.9 .3 9.4 .2-11 .2-5 .2 24.3-.2-9.5 .2-2.4 .2 2.1 .3-8.1 .2 9.8 .2-10.2 .1-6.6 .3 22-.2-8.3 .3-7.4 .2 11.7 .2-1 .2-12.1 .2 12.7 .3-13.4 .1-4.7 .2 23.9-.1-7.2 .2-12.8 .2 13.2 .3-10 .2-2.6 .2 9.6 .2-10.9 .2 1 .2-2 .3 23.2-.2-7.9 .2-11.8 .2 11.7 .2-2.4 .3 1.1 .1-16.7 .3 26.6-.2-12 .2 3.4 .2-13.7 .2 10.7 .3-7.6 .2 11.2 .2-13.6 .2 13 .3-12.9 .2-.7 .1-2.9 .2 21.5-.1-8.5 .2-10.1 .3 12.6 .2-12.4 .2 11.9 .2-8.5 .2-7.2 .2 22.9-.2-7.6 .3-9.8 .2 8.8 .2-10.7 .2 11.1 .3-8.2 .2 8.9 .2-11.6 .2 12.8 .2-12.9 .1-1.4 .3 20.2-.1-8 .2 .5 .2-11.6 .2 14.2 .3-12.3 .2 0 .2 1.6 .2 7.1 .2-6.2 .2-7.1 .3 21.7-.2-4.6 .2-14 .2 11.1 .2-9.8 .3 .2 .1-3 .2 18.9-.1-3.5 .2-1.3 .2-11.6 .2 13.1 .3-13.3 .2 10.4 .2-10.5 .2 .9 .3 12.5 .2-14.1 0-3.8 .2 20.7 0-4.8 .2-11.7 .2 .1 .3 9 .2-6.1 .2-3.7 .2 12.5 .3-8.3 .2 9.1 .1-14 .3 19.1-.2-15.4 .2 8 .2-8.7 .3-1.1 .2 11.7 .2-13.2 .2 13.2 .3-9.3 .2 10 .2-10.9 .1-4.3 .3 21.1-.2-7.4 .2-1.7 .3-6.8 .2 6.2 .2-7.2 .2-2.8 .3 11.3 .2-.6 .1-11.1 .3 17.6-.2-14.7 .2 8.5 .2-8.2 .3 .6 .2 10.7 .2-13.5 .2 12.9 .2-14.5 .2 19.5-.1-14.6 .2 8.1 .2-10.5 .2 9.6 .2-10.8 .3-3 .2 19.5-.2-5.7 .2-7.7 .2 6.5 .2-7.9 .3 12.2 .1-16.1 .3 17.9-.2-12.5 .2 8.8 .2-10.8 .2 12 .3-10.3 .2 11.1 .2-12.9 .2 10.2 .1-14.1 .2 20.1 0-4.4 .2-10.4 .2 8.6 .2-10.8 .2 11.5 .3-11.6 .2 10.8 0-11.4 .3 17.3-.1-14.4 .2 10.9 .3-11.7 .2 10.4 .2-11.6 0-2.8 .3 17.8-.1-2.2 .2-12 .3 10.4 .2 1.8 .2-12.9 .2 12.8 .3-12.2 .1-2.5 .3 17.4-.2-3.9 .2-8.1 .2 9.1 .2-9.8 .3 6.4 .2-9.8 .2 11 .2-6.9 .2-4.8 .3 16-.2-4.4 .2-9.3 .2 9 .2-8.2 .2 10.6 .3-12.3 .2 9.7 .2-7.4 .2 7.7 .3-6.9 .4 16.6-.2-11.2 .2-4.1 .2 4 .3-4 .2 2.8 .2-3.1 .2 3.7 .2-3.5 .3 4.3 .2-.1 .2-.8 .2-.5 .3-2.1 .2 3.2 .2-3.8 .2 2.9 .2-2.6 .3 3.6 .2-3.9 .2 3.8 .2-3.5 .3 3.5 .2 .1 .2 .3 .2-4.6 .2 3.4 .3-3.7 .2 4.4 .2-3.5 .2 3.5 .3-.6 .2-2.6 .2 3.6 .2-4.1 .2 2.8 .3-3.3 .2 4.8 .2-.3 .2-4.6 .3 3.4 .2-2.9 .2 3.1 .2-3.7 .2 4.9 .3-.9 .2-3.2 .2 3.9 .2-3.2 .3 2.8 .2-2.8 .2 3.1 .2-3.2 .2-.8 .3 3.3 .2-3.9 .2 4.4 .2-3.3 .3-.3 .2 3.5 .2-3.1 .2 3.1 .2-4 .3 3.1 .2-2 .2 2.6 .2-3.7 .3 4.1 .2-3.7 .2 4.1 .2-3.4 .2 3.6 .3-4.2 .2 3.9 .2-4.5 .2 3.3 .3 1.2 .2-3.3 .2 3.5 .2-4.5 .2 0 .3 .6 .2 2.3 .2-2 .2-1 .3 4.4 .2-4.1 .2 4 .2 .3 .2-4.8 .3 4.6 .2-4.3 .2 4.3 .2-3.3 .3 2.4 .2-2.3 .2 1.9 .2-3.3 .2 3.4 .3-2.4 .2 2.4 .2 .7 .2-2.9 .3 3.4 .2-3.4 .2 2.5 .2-2.6 .2 3.8 .3-3.5 .2 2 .2-3 .2 3.6 .3-3.6 .2 4.4 .2-4.8 .2 0 .2 3.3 .3-3.3 .2 4.7 .2-4.9 .2 4.6 .3-3.5 .2 2.9 .2-3.2 .2-.3 .2-.2 .3 4.8 .2-4 .2 3 .2-2.9 .3-1.2 .2 4.7 .2-4.6 .2 4.2 .3-4.1 .2 4.3 .2-3.8 .2 .6 .2 3.2 .3-4.5 .2 5 .2-5 .2 3.8 .3-3.8 .2 3.9 .2-4 .2 4.3 .2-3.9 .3 4.5 .2-3.7 .2 3.6 .2-3.6 .3-.8 .2 4.4 .2-4.5 .2 3.4 .2-2.1 .3 2.3 .2-3.3 .2-.4 .2 4.9 .3-3.7 .2 3.1 .2-3.8 .2 3.2 .2 .5 .3-2.9 .2 2.7 .2 1.1 .2-4.4 .3 3.2 .2 0 .2-3.9 .2 3.9 .2-2.8 .3-.7 .2 4.4 .2-3.7 .2 4.3 .3-6.3 .2 6.1 .2-5.7 .2 4.9 .2-3.5 .3 4.5 .2-5.1 .2 3.8 .2-3.4 .3 3.8 .2-4.4 .2 .9 .2 4.6 .2-4.5 .3 2.9 .2-4.6 .2 4.6 .2-3.3 .3 4.1 .2-3.9 .2 4 .2 .2 .2-4.6 .3 4.7 .2 1 .2-2.2 .2 1.1 .3-4.5 .2-.1 .2 4 .2 .5 .2-4.2 .3 3.8 .2-5.3 .2 4.8 .2-7.2 0 8.1 .3-4 .2 4.1 .2-5.3 .2 5.3 .2-5.3 .3 5.6 .2-6.4 .2 .2 .2 .9 .3 .5 .2 4.6 .2-1.3 .2-2.9 .2 3.1 .3-4.9 .2 6.8 .2-6.6 .2 6.6 .3-6.1 .2 6.1 .2-7.3 .2 5.5 .2-3.6 .3-.6 .2 6 .2-5.8 .4 7.7-.2-2.7 .3-4.9 .2 5.3 .2-5.9 .2 5 .2-5.2 .3 4.7 .2-5.3 .2 5 .2-4.1 .3 1.2 .2 3 .2-3.8 .2 5.4 .3-6.3 .2 1.3 .2-.3 .2 5.3 .2-4.4 .3 3 .2 1.3 .2-5.4 .2 5.2 .3-5.2 .2 4 .2-4.1 .2 5.5 .2-1.5 .3-4.7 .2 4.6 .2-3.2 .2 3.6 .3-4.5 .2 5.3 .2-4.8 .2 4.9 .2-4.9 .3 4.7 .2-4.1 .2-1.3 .2 4.9 .3-.5 .2-4.9 .2 1.6 .2 3.7 .2-4.9 .3 4.6 .2-3.5 .2 3.4 .2-3.8 .3 4.8 .2 0 .2-5.6 .2 4.7 .2-3 .3 3 .2-5.4 .2 7.1 .2-6.3 .3 6.7 .2-7.1 .2 5.3 .2-4.9 .2-2.1 .2 11-.2-2.3 .3-5.6 .2 4.7 .2-4.9 .2 3.5 .3-4.7 .2 5.4 .2-5.5 .2 1.9 .2 5.6 .3-2.2 .2-4.9 .2 5.7 .2-5 .3 4.1 .2-3.6 .2 5.4 .2-7.5 .2 6.5 .3-4.7 .2-1.1 .2 5.2 .2-4.6 .3 4.8 .2-6 .2 6.9 .2-6.6 .2 7.2 .3-5.4 .2 4.7 .2-5 .2 3.7 .3-3.8 .2 4.6 .2-5.8 .2 6.6 .2-5.4 .3 5.3 .2-6.9 .2 5.8 .2-4.1 .3 3.9 .2-5.3 .2 7.1 .2-5.8 .2-2.9 0 8 .3-5.7 .2 4.1 .2-3 .2-1.7 .3 5 .2-4.1 .2 4.5 .2-4.5 .2 3.8 .3-3.5 .2 3.8 .2-3.4 .2 3.9 .3-5 .2 4.9 .2 1 .2-4.4 .2 3.7 .3-3.6 .2-1.8 .2 5.1 .2-3.8 .3 4.4 .2-4.7 .2 3.9 .2-5 .2 4.8 .3-3.1 .2 2.7 .2-3.5 .2 3.7 .3-4.2 .2 4.5 .2-3.4 .2 .3 .3 3.9 .2 .4 .2-6.1 .2 4.8 .2-4.3 .3 4 .2-4.5 .2 5.9 .2-4.4 .3 3.7 .2-.7 .2 .4 .2-4.4 .2 4.1 .3-4.3 .2 .5 .2 5 .2-5.6 .3 1.1 .2 4.6 .2-4.6 .2 3.6 .2-3.1 .3 4.2 .2-5.3 .2-.2 .2 5.6 .3-6.1 .2 5.7 .2-4.2 .2 3.5 .2-3.3 .3 3.2 .2-3.6 .2 4.6 .2-1.4 .3 1.2 .2-5 .2 5.2 .2-4.8 .2 4.7 .3-5.5 .2 4.6 .2-3.1 .2 2.4 .3-2.6 .2 2.7 .2-2.7 .2 3.4 .2-4.9 .3 5.3 .2-.3 .2 .5 .2-5.3 .3 4.1 .2-4 .2 4.7 .2-4.8 .2 4.3 .3-3.3 .2-.6 .2 5.3 .2-5.1 .3 4.7 .2-3.7 .2 3.9 .2-4.5 .2 4.3 .3-4 .2-1.5 .2 4.8 .2-4.7 .4 6.9-.1-2.3 .2-4.2 .2 4.6 .2-4.5 .2 5.3 .3-.7 .2-3.6 .2-.7 .2 4.9 .3-5.7 .2 4 .2-3.9 .2-.1 .2 5.8 .3-4.2 .2 3.9 .2-4.8 .2 3.8 .3-3.6 .2 3.2 .2-2.9 .2 4.2 .2-4 .3 2.9 .2-4.2 .2 5 .2-4.7 .3 4.9 .2-5.1 .2 1.6 .2-.8 .2 3.1 .3-3.5 .2 4.2 .2-4.9 .2 5.5 .3-3.9 .2 3.2 .2-3.4 .2 3 .2-2.8 .3 3.4 .2-3.9 .2 4.8 .2-5.7 .3 4.2 .2-2.7 .2 2.5 .2-4.1 .2 4.6 .3-3.4 .2 3.5 .2-4.5 .2 3.7 .3-3.4 .2 4.6 .2-.4 .2-3.4 .3 3.9 .2-5.1 .2 4.5 .2 .8 .2-4.8 .3 5.1 .2-4.6 .2 3 .2 1.3 .3-4.1 0-2.4 .2 5.9 .2-4.6 .2 4.7 .2 .2 .3-3.8 .2 3.7 .2-3.6 .2 3.2 .3-4.4 .2 4.2 .2-4 .2 4.8 .2-3.7 .3 3.9 .2-3.9 .2 2.9 .2-3.8 .3-.5 .2 5.5 .2-5.4 .2 4.1 .2-4 .3 3.8 .2 1.2 .2-5.2 .2 3.9 .3-2.1 .2 3.2 .2-3.5 .2 3.4 .2-4.9 .3 5.6 .2-4.5 .2 3.1 .2 1.4 .3-4.1 .2 2.6 .2-3.6 .2 4.3 .2-3 .3 3.4 .2-4.2 .2-.3 .2 3.8 .3 .8 .2-.5 .2-3.3" stroke="#000" stroke-width="1" fill="none" stroke-linejoin="round"/>
<path d="M568.3 182.3l.2 5.7 .2-5.3 .3 5.3 .2-5.7 .2 5.5 .2-6.1 .3 .1 .2 5.1 .2-3.7 .2-1.1 .2 5.9 .3-.3 .2-5.6 .2 5.4 .2-5.6 .3 4.9 .2-.4 .2 1.5 .2-5.8 .2 6.1 .3-5.3 .2 .7 .2 2.8 .2-2.8 .2-.8 .3 4 .2-4.4 .2 4.9 .2-4 .3 3.5 .2-5 .2-.2 .2 5.9 .2-5.4 .3 6 .2-6.4 .2 4.8 .2-3 .3 2.8 .2 1.1 .2-3.9 .2 3.5 .2-5 .3 5.2 .2-5.3 .2 1.8 .2 3.5 .3-5 .2 6.1 .2-4.8 .2 3 .2-3.8 .2-2.2 .1 6.1 .2 .6 .2-3.9 .2 0 .3-.8 .2-.4 .2 5.3 .2-.2 .2-5.4 .3 5.9 .2-4.4 .2 4.7 .2 .2 .2-5.9 .3 4.8 .2-3.6 .2 3.8 .2-4.3 .3 4.9 .2-4.4 .2-.5 .2-1.4 .2 5.9 .3-.5 .2-3.9 .2 3.5 .2-3.4 .3 4.2 .2 .3 .2-6 .2 5.7 .2 .3 .3-5.2 .2 5.8 .2-6.6 .2 4.5 .3-2.8 .2 3.1 .2-4.2 .2 5.9 .2-.5 .3-3.9 .2 3.3 .2-.2 .2-3.1 .2 4.4 .3-6.2 .2 4.6 .2-4.6 .2 6.2 .3-6.3 .2 5 .2 .2 .2-3.4 .2 4.7 .3-6.2 .2 4.3 .2-4.2 .2-.7 .3 .8 .2 4.1 .2-3.9 .2 5.6 .2-4.7 .3 3 .2-4.5 .2 5.3 .2-4.7 .3 4.8 .2-3.7 .2 3 .2-3.4 .2 3.4 .3-3.9 .2 4.1 .2-3.6 .2 4.7 .3-5.3 .2-.2 .2 3.8 .2-3.2 .2 4.5 .3-4.5 .2 5.2 .2-4.8 .2 3.4 .2 .9 .3-4.4 .2 3.1 .2-4.1 .2 5.2 .3-4.9 .2 3.7 .2-4.2 .2 4.4 .3 3.4-.1-7.1 .3 3.5 .2-.2 .2-3.3 .2 3.5 .3-4.8 .2 5.2 .2-3.5 .2 4.4 .2-4.2 .3 3.9 .2 .8 .2-5.5 .2 3.9 .3-3.9 .2 4.1 .2 1.2 .2-4.5 .2 3 .3-4.2 .2 6 .2-6.1 .2 4.2 .3-2.7 .2 4.1 .2-5.5 .2 5.5 .2-6.2 .3 4.6 .2-4 .2 .2 .2 5.7 .2-4.5 .3 4.1 .2-4 .2 4.4 .2-1.2 .3 1 .2-.4 .2 .1 .2-.2 .2-4.7 .3 4.2 .2-4.2 .2 4 .2-4 .3 4.4 .2-3.7 .2 3.4 .2-4.5 .2 5 .3-5.5 .2 5.2 .2-4.1 .2 5.1 .3-5.8 .2 5 .2-4.1 .2 4.8 .2-4.5 .3 4.5 .2-5.6 .2 5.4 .1-7.7 .1 3.7 .2 2.6 .3 1 .2-5.6 .2 5 .2-3.1 .3 4.2 .2-4.8 .2 4.3 .2-5.5 .2 6.3 .3-5.2 .2 5.4 .2-4.8 .2 4.7 .3-1.3 .2 1.3 .2-4.8 .2 3.6 .2-5.2 .3 5.3 .2-3.9 .2 3.9 .2-3.3 .3 4.1 .2-5.6 .2 4.3 .2-4.3 .2 4.5 .3-4.9 .2 1.4 .2 4.2 .2-3.8 .3 3.9 .2-4.9 .2 4 .2-3.8 .2 5.3 .3-6.6 .2 6.5 .2-5.6 .2 3.8 .2-4.3 .3 5.9 .2-6.3 .2 5.4 .2-4.6 .3 5.7 .2-5.1 .2 3.4 .2-4.3 .2 6.3 .3-5.6 .2 3.4 .2-2.6 .2 3.5 .3-3.9 .2 4.1 .2-.7" stroke="#000" stroke-width="1" fill="none" stroke-linejoin="round"/>
<path d="M631.5 185l1.5-7.4 .2 15.5 .2-13.1 .1-10 .3 33-.1-11.6 .2-13.6 .2 13.6 .2-15.4 .2-5 .3 36.5-.2-13.1 .2-17.4 .2 12.7 .2-10.8 .2-3.8 .3 20.2 .2-19.7 .3 31.4-.1-27.7 .2 13.1 .3-12.7 .2 16.2 .2-16.2 0-6.6 .2 23.8 0-3.3 .2-16.4 .3 15.3 .2-18 .2 21.7 .2-15.6 .3 12.8 0-21.7 .3 23.8-.1-16.3 .2 12.2 .2-12.2 .2 14.8 .3-16.7 .2 16.6 .2-14.1 .2 14.7 .3-19.8 .2 5.9 .2-6.6 .2 21.8-.2-6.2 .2-9.2 .2 10.5 .3-13.3 .2 17.2 .2-14.6 .2 8.8 .2-8.7 .3 14.4 .1-21.3 .3 22-.2-4.9 .2-15 .2 20.2 .3-16.9 .2 17 .2-17.9 0-6 .3 23.7-.1-1.2 .2-16.7 .3 14.1 .2 0 .2-14.7 .2-3.9 .2 22.9-.2-3.1 .3-15.8 .2 3.4 .2 14.5 .2-6.2 .2-12.2 .3 15.4 .1-17.5 .3 22.6-.2-18.1 .2 14.8 .2-17.2 .3 16.7 .2-15.2 .2 14.7 .2-12.5 .2-6 .2 23-.2-6.7 .3-11.5 .2 15.1 .2-18 .2 18.8 .3-18.7 .2 13.5 .2-15.3 .2 19.7-.2-16.4 .2 11.6 .2-10.2 .3-.6 .2 11.5 .2 .6 .2-15.1 .3 18.1 .2-13.2 .2 11.1 0-17.9 .3 21.3-.1-5.1 .2-13.8 .3 13.5 .2-11.2 .2-3.1 .2 17 .3-11.2 .1-5.6 .2 20.6-.1-1.5 .2-17.2 .2 11.5 .2 .3 .3-12.7 .2 14.5 .2-12.8 .2 11.3 .1-16.1 .3 21-.1-13.6 .2 9 .2-9.4 .2 10.8 .2-11.5 .3 9.1 .2-8.1 .2-2 .2 15.4 .3-13.2 0-4.4 .2 17.1 0-1.3 .2-12.8 .2 10.2 .2-10.2 .3 10.9 .2-13.2 .2 16.4 .2-13.7 .2 11.8 .3-15 .2 14.4 0-16.7 .3 20.5-.1-4.7 .2 4 .3 .3 .2-18.4 .2 13.6 .2 2.9 .2-14.8 .3 16.1 0-18.6 .3 17.9-.1-13.4 .2 9.8 .2-12.7 .3 15.7 .2-14.2 .2 14.3 .1-17.9 .2 19.8-.1-14.4 .2-1.2 .3 11.7 .2-13.9 .2 14.1 .2-12.7 .2-3.2 .3 17.7-.2 1.6 .2-1.1 .2-1.9 .2-11.3 .2 12.8 .3 .8 .2-3.6 .2-11.5 .2 12.1 .2-13.9 .2 17-.1-17.5 .2 16.3 .2-11.9 .2 9 .2-8.7 .3 11.8 .2-16.4 .1-.7 .2 16.8-.1 1.1 .2-13.6 .3 8.4 .2-9.1 .2 14.4 .2-12 .2-1.4 .3 8.2 .1-12.8 .2 16.6-.1-15 .2 14.1 .2-11.5 .3-.5 .2-3.1 .2 17.2 .2-16.1 .1-1.8 .2 17.8-.1-.9 .3-15.7 .2 14.7 .2-12.1 .2 13.1 .3-15.4 .2 14.7 .2 1.3 .2-13.2 .1-4.4 .2 17.7-.1-13.6 .3 10.6 .2-13.9 .2 15.8 .2 .6 .3-13.6 .1-2.5 .2 17.2-.1-3.8 .2-11.8 .2 11.4 .2-12.9 .3 12.2 .2-8.9 .2-3.9 .2 16.6 .2-11.8 .1-5 .2 16.4 0-11.4 .2 9.8 .2-11.5 .2 14.3 .3-16.4 .2 14.3 .2-11.2 .2-4.8 .2 17.9-.2-3.1 .2-11.1 .3 12.3 .2-2.3 .2-7.2 .2 6.4 .3-10.9 .2 15.9 .2-14.5 .2-.7 .3 14.5-.3-4.6 .2-7.4 .3 7.7 .2-8.3 .2 10.1 .2-12 0-2.3 .3 17.5 0-2.2 .2-12.2 .2-2.1 .2 11.3 .2 3.3 .3-14.2 .2 15.4 .2-13.5 .2 10.3 .2-11.5 .2 14.9-.1-13.9 .2 11.8 .2 .1 .2 0 .2-2.8 .3-8.7 .2 13.4 .2-12.7 .2 10.2 .3-12.2 .2 10.9 .2-1.2 .2-5.2 .2 8.1 .3-9.3 .2 8.6 .2-9.2 .2 8.4 .3 .6 .2-2 .2-5.7 .2 7.2 .2-7.5 .3 7.5 .2-6.4 .2 6.1 .2-7.3 .3 6 .2-1.2 .2-3 .2 3.5 .2-4.4 .3 5.5 .2-4.6 .2 4.7 .2-6.5 .2 5.1 .3-4.9 .2 4.6 .2-4.4 .2 6.1 .3-1.1 .2-5.3 .2 6.1 .2-6 .2 5.1 .3-4.4 .2 5.7 .2-1.4 .2-4.6 .3 5.8 .2-4.9 .2 3.8 .2-4.2 .2 3.9 .3-3.6 .2 .4 .2 4.5 .2-5.6 .3 4.5 .2-5 .2 5.4 .2-4.2 .2 5 .3-6 .2 5.8 .2-4.9 .2 4 .3-3.6 .2 3.6 .2 .8 .2-4.8 .2-1.3 .2-2.3 .2 10-.1-1.8 .2-.7 .2-3.3 .2 4.6 .3-5.4 .2-.1 .2 5.7 .2-1.1 .2-5.1 .3 6.5 .2-5.7 .2-3.9 .2 10.3-.2-2.2 .2-4.6 .3-1.2 .2 1.1 .2 .9 .2-1.4 .2 .6 .3 1 .2 5.1 .2-7.2 .2 7.1 .3-6.1 .2 6.2 .2-5.3 .2-.4 .2 4.8 .3-6.7 .2 .7 .2 5.1 .2-4.8 .3 5.8 .2 0 .2-5.6 .1-3.1 .3 10.7-.2-.5 .2-7.5 .3 5.5 .2-5.4 .2 7.7 .2-6.9 .2 4.4 .3-6.2 .2 1.7 .2 5.4 .2-6.4 .3 5.3 .2-5.8 .2 8.5 .2-7.3 .2 6.2 .3-6 .2 5.8 .2-7.5 .2 6.9 .3-5.3 .2 5 .2-5.7 .2-2 .2 11.1-.2-2.8 .2-6.9 .3 7.1 .2-5.7 .2-1.7 .2 8.3 .3-7.1 .2 7.9 .2-8.4 .2-1.2 .2 7.7 .3-7.5 .2 9 .2-9.2 .2 9.6 .3-1.6 .1-8.4 .2 10.1-.1-3 .2 .1 .2-5.5 .2 6.5 .3-7.9 .2 9.5 .2-6.8 .2 4.9 .3-4.8 .2 6.5 .2-8.9 .2 9.1 .1-10 .2 11-.1-8.5 .3 7 .2-7 .2 6.1 .2-6.6 .3 7.5 .2-9 .2 9.7 .2-7.3 .2 6.4 .3-9.4 .2 2.3 .1-2.6 .3 10.9-.2-.5 .2-7.7 .3-2.8 .2 9.2 .2-6.2 .2 8.4 .2-10.9 .3 7.4 .2 1.1 .2-5.8 .2 5.2 .3-5.7 .2 7 .2-8.1 .2 9.2 .1-12.7 .3 14.4-.2-12.5 .3 10.2 .2-7.9 .2 9.2 .2-8.2 .2-3.2 .3 10.7 .2-9.3 .2 7.9 .2-8.5 .3 9.6 .2-10.9 .2 11.3 .2-8.4 .2 6.1 .3-5.7 .2 5.5 .2-8.4 .2 8.9 .3-7.3 .2 .6 .2 9.8 .2-12.4 .2-2 .3 14.2-.3-9.1 .3 9.3 .2-12 .2 11.2 .2-8.1 .3 0 .2 8 .2-10.5 .2 10.7 .2-11.7 .3 11.9 .2-11.5 .2 10.4 .2-9 .3 10.4 .2-10.1 .2-2.3 .2 3.7 .2 8.2 .3-7.9 .2-1.8 .2 10.1 .2-8.4 .1-4.3 .2 14.3 0-11 .2 6.5 .2 2.6 .2-8.6 .2-2.3 .3 8.2 .2-9.5 .2 10.8 .2-11 .3 13.4 .2-12.2 .2 11.1 .2-10.1 .2 9.3 .3-7.7 .2-1.3 .2 7.8 .2-8.8 .3 11.8 .2-11.3 .2 1.4 .2 7.3 .2-12.2 .2 14.4-.2-9.1 .3 5.6 .2 2 .2 1 .2-11.5 .3 11.6 .2-10.6 .2 10.8 .2-9.9 .2 10 .3-3.1 .2-5.8 .2-5.7 .2 15.4-.2-1.1 .2-11.6 .2 10.8 .3 .4 .2-10.3 .2 10.7 .2-8.6 .3 7.1 .2-9 .2 8.9 .2-8.1 .2 1.2 .3 8.3 .2-9.8 .2 8.2 .2-6.3 .3-4 .2 10.8 .2-7 .2-3.3 .1-2.2 .3 13.7-.2-2.2 .3-9.2 .2 9.8 .2-9.7 .2-.3 .3 10.8 .2 .6 .2-8.3 .2 8.3 .2-11.1 .3 10 .2 1.9 .2-8.9 .2 6.8 .3-10.3 .2 9 .2-6.5 .2 7.3 .2-9.3 .3 11 .2-11.5 .1-.6 .2 13.6-.1-10.4 .2 6.3 .3-7.5 .2 8.5 .2-6.4 .2 5.6 .2-7.7 .3 .5 .2 8.9 .2-10 .2 8.7 .3-9.2 .2 8.9 .2-6.1 .2 6.9 .2-7.6 .3 7.6 .1-9.7 .3 12.9-.2-12.8 .2 11.7 .2-12 .3 11 .2-8.2 .2 9 .2-10.6 .2 9.2 .3-7.2 .2 7.8 .2-7 .2 6 .2-7.1 .3 8.6 .2-8.8 .1-3.5 .3 13.4-.2-3.2 .2-6.8 .3 8.7 .2-10.8 .2 8.1 .2-5.2 .2 6.8 .3-8.5 .2 7.4 .2 2 .2-7.2 .3-.8 .2 5.5 .2-5.9 .2-3.2 .3 12.1-.3-8.6 .2 5.9 .3-8.5 .2 10.2 .2-7.5 .2 8.6 .3-9.8 .2 6.9 .2-8.1 .2 8 .2-6.9 .3 6.9 .2-.3 .2-5.1 .2-2.5 .3 11.7-.3-2.8 .3-8.1 .2 .9 .2 8.4 .2-7.8 .2 7 .3-6.3 .2 7.1 .2-7 .2 6.8 .3-7 .2 5.3 .2-5.3 .2 4.6 .2-5.9 .3 6.9 .2-5.3 0-3.6 .3 11-.1-.4 .2-.1 .3-8.3 .2 7.1 .2-6.2 .2 7.2 .2-7.7 .3 5.2 .2-6.4 .2 8.8 .2-6.7 .1-3.8 .2 11.7 0-1.8 .2-6.7 .2 7.1 .2-8.5 .2 6.9 .3-6.7 .2 1.3 .2 5.6 .2 1.1 .3-6.7 .2 7 .2-6.8 .2 4.7 .2-.5 .3-4.9 .2 6.4 .2-6.4 .2 7.5 .2-6.3 .3 5.4 .2-6.9 .2 1.8 .2 3.9 .2-7.1 .2 9.3-.1-6.4 .2 5.7 .2-6.7 .2-.6 .2 6.4 .3-6.9 .2 7.4 .2-6.8 .2 7.1 .3-7.4 .2 6.5 .2-6.3 .2 7.6 .2-7.8 .3 6.5 .2-4.5 .1-3.5 .3 10.3-.2-1.7 .2-5.7 .3-.7 .2 4.8 .2-4.6 .2 5 .2-3.7 .3-1.9 .2 6 .2-5.4 .2 6.8 .3-.7 .2-4.8 .2 3.9 .2-4.7 .2-1.1 .3 1.6 0-2.8 .3 8.7-.1-2.6 .2-2.9 .2 3.6 .3-4.9 .2 4.9 .2-5.2 .2 5.6 .2-4.6 .3 4.6 .2-4.3 .2-1.7 .2 .1 .3 5.2 .2-5 .2 1.6 .2 3.8 .2-5 .3 6.2 .2-7 .2 5.7 .2-5.8 .3 7.1 .2-6.1 .2 6.4 0-8 .3 8.6-.1-2.7 .2-5.4 .3 7.5 .2-5.1 .2-.6 .2 4.2 .3-5.8 .2 .2 .2 6.7 .2-5.6 .2 .4 .3 4.6 .2-5.7 .2 4.5 .2 0 .2-3.6 .3 3.6 .2 1.7 .2-6.4 .2-.3 .3 5.4 .2-5.5 .2 6.5 .2-5.1 .2 5.5 .3-6.6 .2 5.8 .2-4.1 .2-.7 .3 4.5 .2-4.5 .2 3.8 .2-3.1 .2 4.7 .3 .2 .2-4.6 .2 3.9 .2-3.9 .3 3.1 .2-5.3 .2 4.9 .2-2.9 .2 3.7 .3-.2 .2-4.3 .2 4.5 .2-4.2 .3 3.6 .2-4.3 .2 6" stroke="#000" stroke-width="1" fill="none" stroke-linejoin="round"/>
<path d="M57.5 256.1l.9-2.8 .9-.1 .9 2.8 .9-2.2 1-.8 .9 .9 .9 2.2 .9-.8 .8-.1 .8 .4 .9 .4 .9-.9 .9-.4 .9 .2 .9 1.2 1-2.6 .9-1.4 1 1.3 1 2.7 .8-.3 .9-.9 .8 .1 .9 .5 .8 .9 1-2 1-1.1 1 .8 1 1.9 .9-1.4 .8 .1 .9 1.5 .9-2.7 1-.3 1 3 .9-1.4 .9-1.1 1 .9 .9 1.8 1.1-3.4 1 .2 1.1 3 .9-2 .9-1.2 .9 1.1 1 2.6 .8-1.5 .8-.5 .9 .5 .8 1 1-.2 1-.3 .9 .2 1 .8 .7-.2" stroke="#f00" stroke-width="1.5" fill="none" clip-path="url(#ca1)" stroke-linejoin="round"/>
<path d="M121 260l3.6 0 0-34 .4-11 9 0 .7 15 .8 3 .6 13 1.1-22 .7 6 1.1-6 .9 6 1.1 3 1.1-3 1.1 0 .7-2 .7 10 .8 0 .7 8 1-18 1 7 1.2-11 .6 14 .8 8 1.2-18 1.2-4 .8 11 .7 5 .4 17 1 1 1.4 .3 1.4-.4 1.4 .7 1.4-.4 1.4-.4 1.4 .1 1.4-.3 1.4-.3 1.4-.9 1.4-.9 1.4 .9 1.4 1.9 1.4 .4 1.4-.3 1.4-.6 1.4 .2 1.4-.2 1.4 .3 1.4 .3 1.4-.5 1.4 .5 1.4-.7 1.4 .1 1.4-.2 1.4-.4 1.4 .4 1.4 .4 1.4-2.4 1.4-.1 1.4 2.3 1.4-1.5 1.4 .1 1.4 .3 1.4-1 1.4 .6 1.4 .2 1.4-.8 1.4 1.4 1.4-.5 1.4-2.5 1.4 3.8 1.4-1 1.4-.3 1.5 1.4 1.4-1.1 1.4-1 1.4 2 1.4-3.1 1.4-.4 1.4 2.7 1.4-1 1.4 .8 1.4 .7 1.4-2 1.4 .8 1.4 1.5 1.4-3.7 1.4 2.7 1.4 .6 1.4-3.7 1.4 3.2 1.4 .7 1.4-1.2 1.4 1.3 1.4-2.1 1.4-1 1.4 2.8 1.4-1.9 1.4 .2 1.4 1.9 1.4-1.3 1.4 .2 1.4 .8 1.4-2.3 1.4 1.3 1.4 .1 1.4-1.5 1.4 1.3 1.4-.4 1.4-.6 1.4 1.3 1.4-.1 1.4-1 1.4 1.7 1.4 1.2 1.4-.6" stroke="#f00" stroke-width="1.5" fill="none" clip-path="url(#ca1)" stroke-linejoin="round"/>
<path d="M312 244.1l1.5-.6 1.5-.5 1.5-.3 1.5 .8 1.5-.8 1.5-1.6 1.5 1.3 1.5 1.2 1.5 .4 1.5-1 1.5 0 1.5 .8 1.5 .7 1.5-.3 1.5-.6 1.5-1.4 1.5 1.1 1.5 .4 1.5-.9 1.5 0" stroke="#f00" stroke-width="1.5" fill="none" clip-path="url(#ca3)" stroke-linejoin="round"/>
<path d="M357 240.7l1-10.7 .6-20 34 0 .2 15 .8 0 .2-15 7.7 0 .5 26 .5 8.5 2.5 .5 .5-.6 1.5-.1 1.5-.2 1.6-.6 1.5-.7 1.5-1.6 1.5 1.8 1.5 1.4 1.5 .1 1.6 .2 1.5-.7 1.5 .6 1.5-.3 1.5 .2 1.5-.6 1.6-1.2 1.5-1.1 1.5 .6 1.5 1.2 1.5 1.2 1.6 .3 1.5-.2 1.5-.1 1.5-.5 1.5 .4 1.5-1.1 1.6-.2 1.5 .7 1.5 .3 1.5 .1 1.5-.3 1.5-.6 1.6 .1 1.5 1.3 1.5 .6 1.5 0 1.5-1.1 1.6 .4 1.5-.3 1.5 .1 1.5-.9 1.5-.3 1.5 0 1.6 1 1.5 .4 1.5 .1 1.5 .2 1.5-2.9 1.6-2.4 1.5 3.8 1.5 .9 1.5-1.2 1.5-.1 1.5 2.1 1.6 0 1.5-.4 1.5-1.4 1.5-1.2 1.5 .8 1.5 1.2 1.6 0 1.5-.6 1.5-1.5 1.5 .4 1.5 1.3 1.6 .9 1.5-.1 1.5-.2 1.5-.1 1.5-1.3 1.5-.9 1.6 .4 1.5 .8 1.5 1.2 1.5-.3 1.5 .2 1.5-.6 1.6-.1 1.5 .6 1.5 .8" stroke="#f00" stroke-width="1.5" fill="none" clip-path="url(#ca3)" stroke-linejoin="round"/>
<path d="M568 243.5l1.5 7 .5 1.2 1.4 .4 1.4-.9 1.4-.3 1.4-1.4 1.4-.4 1.4 1.4 1.4 .9 1.4 0 1.4-.2 1.5 .6 1.4-.7 1.4-4.6 1.4 3.8 1.4 1.6 1.4 0 1.4 .1 1.4-.4 1.4-.5 1.4-1.6 1.4 1 1.4 1.3 1.4-2.3 1.4-2.2 1.4 3.1 1.4 .8 1.4-.4 1.4-1.1 1.5-.4 1.4 1.2 1.4 1.1 1.4-.5 1.4-.4 1.4-1 1.4 0 1.4-1.2 1.4-.5 1.4 4.1 1-5.1 1.5-5.5" stroke="#f00" stroke-width="1.5" fill="none" clip-path="url(#ca5)" stroke-linejoin="round"/>
<path d="M633.3 243l.3-28 .4 0" stroke="#f00" stroke-width="1.5" fill="none" clip-path="url(#ca5)" stroke-linejoin="round"/>
<path d="M670 215l1 10 1 20 1-12 1.1 0 .8 3 .6-13 .6 25 .7-25 1 13 .6-10 .6 7 .7-5 .6 12 1-4 .6 12 .8-22 1 7 .5-7 .6 10 .5-8 .8 5 .6-5 .6-5 .7 5 1 20 .6-25 1.4 27 1.5 3.5 .5 .5 .8-.7 .9-.2 .8-.1 .9 1 1-.3 1-.2 1 .3 1 .1 .9-.1 .9 0 1 .1 .9 .1 .9 0 .9-.4 .8 0 .8-.5 .9 .1 .8 .4 .9 .2 .8 0 .8 .1 .9-.3 .8 .3 .9-.4 .8 .2 .8 0 .9 .1 .8-.7 .4 .9 0-10.5 1-5 .7 1.8 .6 7.3 .9-.1 .9-4.3 .9-4.8 1.4 .5 .9-.1 1.2 5.2 .9 1.8 .9-7.1 1.3 6.9 .6-5.6 1.3 1.4 1 3.1 1.3 5.4 .7-10.4 .7-1.1 1.3 4.6 1.2-1.9 .9-1.3 .8 7 .9-9.8 1.1 4.1 .6 3.4 .9-3.5 .8-4.1 .9-.9 .7 3 1.2-4.5 1 9.7 .8-2.8 1-2.1 1.2-.8 .6-.9 .6-3.9 1.4 4.4 .8 7.4 .7-12.2 1 4.3 .8-2.5 1 2.8 .9-3.6 1.1-.7 .9 12.2 .6-4.9 .9 6.9 .6 1.3 .8 .8 1.4 1 1.4 .8 .8-.2 .9-3.7 .7-1.3 .9-6 1.4 9.5 1.2-5.3 1.4 2.2 .8 1.9 1.3 1.9 1.2 0 1.3-8.9 .7-1.4 1.2 6.2 .2 6.8 .8-1.4 .8-1.2 .8 0 .9 1.1 .8 1.5 .8-1.2 .9-.6 .9 .7 .8 1.2 .8-.7 .9-.3 .8-.2 .8 0 .8 .4 .8 .3 .9 .6 1-2.6 1.1 0 1 2.4 .9-1.8 .9-.9 .8 .6 .9 2.2 .1 0" stroke="#f00" stroke-width="1.5" fill="none" clip-path="url(#ca5)" stroke-linejoin="round"/>
<text x="8.1" y="314.8" font-size="16" font-weight="bold" textLength="17.5" lengthAdjust="spacingAndGlyphs">B)</text>
<g filter="url(#s7)"><rect x="58.9" y="317.3" width="319.1" height="93.9" fill="url(#v7)"/><rect x="58.9" y="317.3" width="319.1" height="93.9" fill="url(#h7)" style="mix-blend-mode:screen"/><g style="mix-blend-mode:screen" filter="url(#b7)"><rect x="106" y="317" width="44" height="95" fill="rgb(0,0,10)"/><rect x="106" y="392" width="29" height="20" fill="rgb(0,0,17)"/><rect x="59" y="402" width="71" height="10" fill="rgb(0,0,17)"/><rect x="118" y="317" width="30" height="15" fill="rgb(0,0,12)"/><rect x="150" y="396" width="228" height="16" fill="rgb(0,0,10)"/></g></g>
<rect x="58.9" y="326" width="319.1" height="5" fill="#1c2478" opacity="0.35"/>
<path d="M378.5 317.3V411.2" stroke="#000" stroke-width="1.4" fill="none"/>
<path d="M58.3 317.3V411.2M54.3 411.2H58.3M54.3 344.1H58.3M56.1 397.8H58.3M56.1 384.4H58.3M56.1 371H58.3M56.1 357.5H58.3M56.1 330.7H58.3M56.1 317.3H58.3" stroke="#000" stroke-width="1.2" fill="none"/>
<text transform="translate(48.6 344.1) rotate(-90)" y="3.8" font-size="10.5" text-anchor="middle">50</text>
<text transform="translate(48.6 411.5) rotate(-90)" y="3.8" font-size="10.5" text-anchor="middle">0</text>
<text transform="translate(34.1 364) rotate(-90)" y="3.8" font-size="10.5" text-anchor="middle">Hz</text>
<rect x="270.5" y="305" width="100" height="4.6" fill="url(#cb)"/>
<path d="M270.8 305v-4.2M296.2 305v-4.2M321.2 305v-4.2M345.8 305v-4.2M370.2 305v-4.2" stroke="#000" stroke-width="1.3" fill="none"/>
<text x="270.8" y="295.3" font-size="11.5" text-anchor="middle">0</text>
<text x="296.2" y="295.3" font-size="11.5" text-anchor="middle">10</text>
<text x="321.2" y="295.3" font-size="11.5" text-anchor="middle">20</text>
<text x="339.4" y="295.3" font-size="11.5" textLength="25.2" lengthAdjust="spacingAndGlyphs">3040</text>
<text x="365.9" y="295.3" font-size="11.5" textLength="19.7" lengthAdjust="spacingAndGlyphs">x10</text>
<text x="384.7" y="288.5" font-size="8" textLength="5.7" lengthAdjust="spacingAndGlyphs">3</text>
<text x="208.4" y="310.3" font-size="11.3" textLength="56.2" lengthAdjust="spacingAndGlyphs">Power (dB)</text>
<path d="M58 437.7l.2 7.4 .2-8.1 .2 8.8 .2-9.6 .2 8.5 .2-6.4 .2 8.2 .2-8.7 .2 8.9 .2-8.3 0-3.9 .2 11.1 .2 0 .2-8 .2 9.9 .2-.2 .2-11.7 .2 9.6 .2-9.2 .2 10.9 .2-8.6 .2 12.2 0-4.5 .2-9.8 .2 1.8 .2-1.6 .2 8.6 .2-8.4 .2 7.9 .2 .8 .2-9.7 .2 11.4 .2-11.4 .2 11.2 .2-10 .2 8.2 .2-6.9 0-17.6 .2 72 0-47.7 .2-6.4 .2 6.9 .2-8.4 .2 8.8 .2 1.6 .2-1.8 .2-8.6 .2-.3 .2 9.5 .2-.1 .2-8.5 .2 7.2 .2-6.7 .2 9.3 0-13.8 .2 18 0-14.3 .2 7.5 .2-7.6 .2 8.3 .2-8.1 .2 8.7 .2-9.1 .2 10.5 .2-8.9 .2 8.2 .2-8.4 .2 7.9 .2-10.1 .2 10.5 .2-10.8 .2 8.8 .2-6.8 .2 0 .2-1.7 .2 8.9 .2 6.5 0-15.7 .2 10.4 .2-9.7 .2 10.2 .2-10.4 .2-.1 .2 8.5 .2-7.7 .2 8.4 .2 1.1 .2 .9 .2-.6 .2-10.4 .2 .3 .2-.8 .2 9.7 .2-8.2 .2 7.4 .2 1.4 .2-.7 .2-9.4 .2 9.7 .2-10 .2 10.3 .2-8.3 0-7.3 .2 59 0-45 .2 1.6 .2-8.5 .2 9.4 .2-11.5 .2 11.5 .2-10.8 .2 9.8 .2-1.1 .2-9 .2 .8 .2 9.3 .2-9.3 .2 9 .2-7.6 0-3.6 .2 16 0-5.6 .2-8.5 .2 9.4 .2-9.6 .2 9.8 .2-10.4 .2 11.9 .2-11.5 .2 9.5 .2-9.9 .2 10.7 .2-9.5 .2 8.4 .2-8.1 .2 9.4 .2-8.5 .2 8.6 .2-8.3 .2-2.7 .2 8.9 .2 8 0-14.1 .2 8.3 .2-9.1 .2 9.8 .2-9.6 .2 8.3 .2-8.6 .2 7.9 .2-8.5 .2 10.1 .2-9.9 .2 8.7 .2-9.6 .2 9.5 .2-8.3 .2 .7 .2 7.3 .2 1.1 .2-10.1 .2 8.8 0-12.7 .2 6 .2 8.5 .2-10.6 .2 10.8 .2-9.9 .2 9.9 .2-9.4 .2 9.3 .2-10.8 .2 10.1 .2-8.6 .2 9.7 .2-9.7 .2 9.2 .2-9.1 .2 .5 .2-.2 .2 6.5 .2-6.5 .2 7.2 .2 8.1 0-15 .2 8.7 .2-8.8 .2 6.5 .2-9.3 .2 11 .2-10.2 .2 8.5 .2-8.2 .2 8.3 .2-9.3 .2 9.6 .2-7.9 .2 7.6 .2-8.2 .2 1.3 .2 9.3 .2-10.3 .2-1.5 .2 10.4 .2-9.9 .2 11 .2-9.2 .2 7.3 .2-7 0-15.7 .2 72 0-49.7 .2 1.1 .2 .7 .2-8.4 .2 6.4 .2-8.6 .2 8.9 .2-8.1 .2 10.1 .2-10.1 .2 10.5 .2-11.1 .2 10.1 .2 1.2 .2-10.2 .2 .2 .2 10.3 .2-12.6 .2 12.1 .2-12.2 0-2.6 .2 22 0-18.7 .2-.3 .2 11.9 .2-12.9 .2 14.5 .2-13 .2 .5 .2 12.5 .2-12.2 .2 9.7 .2 .5 .2 1.9 .2-13.3 .2 11.7 .2-11 .2 14 .2-18.2 .2 15.2 .2-14.3 .2 16.3 0-19.8 .2 38 0-34.7 .2 1.4 .2 16.1 .2-16.7 .2 14.5 .2-18.2 .2 18.8 .2-17.6 .2 19.8 .2-16.7 .2 16 .2-19.9 .1-4.8 .3 62-.2-55.5 .2 1.3 .2-6.6 .2 25 .2 4.7 .2-27.1 .2 20 .2-20.4 .2 22.7 .2-17.9 .2 19.6 .2-27.2 .2 24.9 0-23.5 .2 54 0-50.4 .2 25.3 .2 .4 .2-25 .2 23.8 .2-2.3 .2-23.6 .2 26.5 .2 .3 .2-23.1 .2-1.7 .2-1.6 .2 1.1 .2 19.7 .2 3.1 0-27.5 .2 39 0-36.6 .2 27.8 .2-31.4 .2 27.3 .2-22.9 .2 20.5 .2-22.1 .2 22.6 .2 7.1 .2-32.1 .2 31.3 .2-29 .2 24.8 .2-24.4 .2 22.5 .2-20.7 .2 23.3 .2-22.1 .2-4.3 .2 24.9 .2-22.1 .2-4.5 .2 31.6 .2-25 .2 23.1 .2-26.8 .2 27.6 .2-28.1 .2 30.1 .2-27.2 .2 20.8 .2-25.1 .2 28.7 .2-30.5 .2 31.2 .2-24.5 .2 25.2 .2-30.3 .2 27.4 .2-24.4 0-3.7 .2 44 0-12.3 .2-25 .2 23.9 .2 .8 .2-25.2 .2 24.2 .2-3.3 .2-27.6 .2 6.3 .2 26.7 .2-8 .2 .9 .2-19.4 .2 19 .2-19.2 .2-2.5 .2-3.6 .2 27.1 .2-23.9 .2 22.1 .2-21.8 .2 21.8 .2-18.8 .2 20.7 .2-19.4 .2 20.7 .2-23.6 .2 26.2 .2-25.4 .2 20.9 0-27.3 .2 56 0-47.9 .2 23.7 .2-24.9 .2 20.8 .2-22.9 .2 26.4 .2-28.5 .2 1.9 .2 28.8 .2-30.2 .2 26.4 .2-27.2 .2 30.4 .2-31.4 .2 25 .2 .9 .2-19.9 .2-2.5 .2 24.3 .2-26.9 0-5.3 .2 50 0-17.3 .2-22.8 .2 24.7 .2-29.2 .2 24 .2-19.7 .2 26.4 .2-30.1 .2 23.9 .2-20.6 .2 19.1 .2 4.3 .2-23.3 .2 24.2 .2-23 .2 20.5 .2-25.2 .2 27.1 .2-23.8 .2 19.6 .2-24.3 .2 28.5 .2-23.2 .2 25 .2-23.2 .2 23.7 .2-24.9 .2 24.6 .2-25.3 .2 20.2 0-33.9 .2 48 0-35 .2 22.8 .2-22.4 .2 18.4 .2-20.1 .2 21.2 .2-21.9 .2 4.6 .2 17.5 .2-18.8 0-17.3 .2 54 0-14.9 .2-20.1 .2 19.8 .2-22.1 .2 20.5 0-42.2 .2 50 0-31.5 .2 24.7 .2 1.1 .2-22.8 .2 18.8 .2-18.9 .2 22.7 .1-38.1 .3 46-.2-32.2 .2 1.7 .2 17.8 .2-20.9 .2 27.7 .2-27.2 .2 22.2 .2-18.2 .2 0 .2 16.6 .2-16.3 .2 17 .2-17.4 0-10.8 .2 38 0-10.2 .2-18.1 .2 21.8 .2-23.1 .2 18.4 .2-17.3 .2 18.7 .2-19.1 .2 22.5 .2-23 .2 19.4 .2-17.3 .2 16.2 .2-12.4 .2 17.1 .2-18.8 .2 19.4 .2-17.2 .2 17.5 .2-15.7 .2 15.3 .2-15.8 .2 16.4 .2-13.5 .2 11.8 .2-10.2 .2 14.4 .2 0 .2-11.6 .2 10.9 .2 1.4 .2-8.8 .2 7.7 .2-7.3 .2 9.9 .2-9.8 .2 9.8 .2 1 .2-9.1 .2 7.7 .2-8.7 .2 8.3 .2-7.8 .2 8.8 .2-6.9 .2 7.9 .2-10.5 .2 7.6 .2-6.8 .2 5.5 .2-8.4 .2 7.6 .2-9.5 .2 9.4 .2-10.5 .2 7.8 .2-6.6 .2 7.3 .2-9.1 .2 .7 .2 7.4 .2-9.7 .2 7.9 .2-8.6 .2 8.9 0-14.3 .2 4.7 .2 6.5 .2-7.4 .2 9 .2-2.4 .2-6.2 .2 5.6 .2-6.5 .2 7.8 .2-8.4 .2 7.9 .2-7.4 .2 6.1 .2-6.2 .2-1.8 0-11.8 .2 21 0-.1 .2-7.1 .2 7.7 .2-8.2 .2-1.1 .2 7.3 .2-6.3 .2 7.6 .2-7.8 .2 6.8 .2-6.4 .2 6.9 .1-17.3 .1 11 .2 7.6 .2 .5 .2-2.3 .2 2.6 .2-8.9 .2 8.8 .2 0 .2-10.5 .2 9.4 .2-7.9 .2-1.6 .2 10.6 .2-9.9 .2 7.6 .2-6.5 .2 8 .2-9.1 0-3.5 .2 12.2 .2-9.7 .2 .2 .2 1.6 .2-1.3 .2 9.4 .2-9.7 .2 10 .2-9.4 .2 7.7 .2-7.4 .2-.4 .2 0 .2 9.3 .2 .5 .2-11.1 .2-.3 .2 2.4 .2 8.8 .2-.7 .2-11 .2 10.4 .2-10.3 .2 10.9 .2-2.3 .2-7.7 .2 9.2 .2-1.4 .2-9.2 .2 8.7 .2-6.7 .2 8.6 .2-8.3 .2-1.8 .2 10.5 .2-10.9 .2 1.7 .2 8.7 .2 .8 .2-10.8 .2 11.3 .2 .5 .2-9.5 .2 9.7 .2-12 .2 2.4 .2 8.7 .2 .9 .2-11 .2 9 .2-.9 .2-6.8 .2 7 .2-8.3 .2 1.1 .2 8.9 .2-8.7 .2 9 .2-11.2 .2 11.7 .2-11.2 .2 9.2 .2-7.7 .2 8 .2-8 .2 7.7 .2-10.4 .2 9.9 .2-9.8 .2 10.7 .2-10.4 .2 10.2 .2-8.6 .2 8.3 .2-10.1 .2 12.3 .2-1.2 .2-10.5 .2 11.7 .2-10 .2 9.8 .2-12.9 .2 11.4 .2-11.2 .2 12.1 .2-12.6 .2 11 .2-9.6 .2 10.8 .2-1.2 0-12.9 .2 12.4 .2-9.5 .2-1.2 .2 11.4 .2-11.3 .2 10.1 .2-9.5 .2 11.4 .2-10.7 .2-.6 .2 12.5 .2-11.8 .2 12 .2-9.7 .2 10.6 .2-12.7 .2 10.3 .2-9.8 .2 10.9 .2-10.6 .2 8.6 .2-10.6 .2 12.1 .2-9 .2 9.5 .2-11.4 .2 11.4 .2-11 .2 10.4 .2-12.2 .2 13.5 0-.6 .2-12.8 .2 11.9 .2 1.7 .2-1.3 .2-11.7 .2 11.4 .2-12 .2 11.5 .2-8.7 .2 8.8 .2 .7 .2-10.1 .2 11.2 .2-12.5 .2 11.1 .2-10.7 .2 10.4 .2-9.9 .2 9.1 .2-8.7 .2 10 .2-11.7 .2 11.5 .2-11.7 .2 1 .2 12.1 .2-12.8 .2 .3 .2 12 .2-10.6 .2-1.2 .2 .2 .2 12 .2-12.3 .2 13.2 .2-13.6 .2 13.3 .2-13.3 .2 12.5 .2-11.2 .2 11.9 .2-11.5 .2 11.2 .2-2.6 .2-11.1 .2 12.2 .2-11.7 .2 13.2 .2-14.2 .2 13.1 .2-9.9 .2 9.2 .2-12.1 .2 12.9 .2-10.9 .2 10.3 .2-12.5 .2 12.3 .2-10.9 .2 9.8 .2-9.9 .2 .6 .2 12.3 .2-14.2 .2 12.1 .2-8.9 .2 10.8 .2-11.4 .2 .2 .2 8.9 .2 2 .2-11 .2 8.8 .2-9.9 .2 12 .2-13 .2 10.8 .2-.6 .2-9.4 .2 9.7 .2-8.6 .2 8.9 .2-12 .2 14.1 .2-13.3 .2 11.4 .2-12.4 .2 12.5 .2-11 .2 10.6 .2-9.8 .2 11.8 .2-12 .2 12.6 .2-12.3 .2 11.3 .2-11.2 .2 11.3 .2-11.7 .2 10.8 .2-9.7 .2 12.4 .2-3 .2-8.6 .2-2.1 .2 12.8 .2-11.7 .2 9.7 .2-8.1 .2-1.5 .2 12.6 .2-12.4 .2 12 .2-12 .2 1.6 .2 10.3 .2-1.6 .2-9.1 .2 9.8 .2-10.9 .2 9.3 .2-8.6 .2 9.3 .2-11.2 .2 13.3 .2-13.2 .2 12.7 .2-10.2 .2 10.3 .2-11.4 .2 11.2 .2-.7 .2-11 .2 12.2 .2-12.7 .2 11.6 .2 1.2 .2-11 .2 8.9 .2-11.3 .2 11.4 .2-8.8 .2 10.4 .1-10.1 .2 8.5 .2-9.7 .2 12.3 .2-13.8 .2 11.6 .2-10.3 .2 11.3 .2-11.2 .2 10.2 .2-10.4 .2 10.8 .2-.2 .2-10.2 .2 10.1 .2-9.6 .2 9.8 .2-10.4 .2-1.6 .2 13 .2-13.1 .2 12.1 .2-10.7 .2 10.2 .2 1.1 .2-11.2 .2 10.8 .2-13.8 .2 11.8 .2-10.7 .2 11.6 .2 .2 .2-9.9 .2 9 .2-11 .2 1.8 .1-4.8 .1 12.8 .2-9 .2 12.3 .2-13.6 .2 11.2 .2-8.6 .2 .6 .2 10.2 .2-9.9 .2 11.4 .2-1.5 .2-9.8 .2 11.1 .2-10.9 .2 11.1 .2-11.9 .2 9.7 .2-11.3 .2 11.1 .2-10.8 .2 13 .2-11.2 .2 10.7 .2-10.9 .2 8.7 .2-11.2 .2 2.6 .2 10.1 .2-12 .2 10.7 .2-11.6 .2 14.1 .2-.3 .2-12.2 .2 12 .2-13 .2 1.9 .2 12 .2-12.5 .2 10.2 .2 .8 .2-13.1 .2 13.7 .2-11.2 .2 11.1 .2-13.6 .2 13 .2-13 .2 11.8 .2 .5 .3 2.7-.1-15.3 .2 1.7 .2-2 .2 12.1 .2-10.5 .2 12.2 .2-14 .2 3.1 .2 8 .2-8.2 .2 9.1 .2-10.2 .2 11 .2-1.5 .2-10 .2 10.8 .2-12.8 .2 11.1 .2-9.8 .2 12.3 .2-11.9 .2 9.7 .2-10.3 .2 10.3 .2-10.4 .2 10.8 .2-10.8 .2 1.1 .2 12 .2-13.5 .2 12.7 .2-13.5 .2 11.7 .2-11.6 .2 12.8 .2-9.6 .2 9.9 .2-12.9 .2 12.6 .2-10.1 .2 9.6 .2-9.8 .2 11.2 .2-11.5 .2 10.3 .2-9.4 .2 10.6 .2-11.4 .2 10.4 .2-11.5 .2 14.1 .2-13.2 .2 13.1 .2-10.8 .2 10 .2-11.4 .2 11.2 .2-9.2 .2 9.3 .2-12.8 .2 12.7 .2-9.4 .2 9.3 .2-12.3 .2 12.7 .2-9.2 .2 10.4 .2-11.6 .2 .9 .2 9.7 .2-10.9 .2 9.7 .2-9.1 .2 11.6 .2-12.1 .2 12 .2-1.7 .2-8.7 .2 8.8 .2-10.5 .2 11.1 .2-10.1 .2 13 .2-11.3 .2 10.1 .2-9.8 .2 9.8 .2-12.2 .2 10.5 .2-8.9 .2 8.1 .2-10.1 .2 1.6 .2 8.7 .2-10.3 .1-2.6 .1 12 .2-10.7 .2 10.1 .2-8.8 .2 10 .2-11.5 .2 12 .2-11.2 .2 10.2 .2-10.8 .2 12.7 .2-3.4 .2-7.6 .2 10.9 .2-13.6 .2 11.8 .2-.8 .2-10.9 .2 10.2 .2-9.6 .2 10.1 .2-10.6 .2 10.2 .2 1.1 .2-11.8 .2 12.9 .2-11.5 .2 12 .2-11.2 .2 10.9 .2-10.4 .2 10 .2 1.3 .2-11.4 .2 11 .2-10 .2 10 .2-12.1 .2 11.6 .2-.7 .2-10.1 .2 12 .2-11.5 .2 9.9 .2-1.4 .2-7.2 .2 9.7 .2-11.8 .2 10.4 .2-9.5 .2 10.6 .2-9.1 .2-1.3 .2 1.6 .2-2.2 .2 10.7 .2-9.2 .2 7.9 .2-9.1 .2-1.2 .2 12.6 .2-12.5 .2 10.9 .2-9.5 .2 9.2 .2-7.4 .2 7.8 .2-9.6 .2 9.4 .2-9.5 .2 .2 .2 9.2 .2-8.5 .2 8.5 .2-9.9 .3 12.5-.1-11.6 .2-1.7 .2 1.2 .2 10.1 .2-1.4 .2-7.7 .2 7.1 .2-8 .2 8.5 .2-10.1 .2 9.8 .2-9.1 .2 11 .2-11.5 .2 12 .2-12.2 .2 11.7 .2-9.3 .2-.1 .2 8.3 .2-10.5 .2 11.7 .2-10 .2 7.9 .2-8.2 .2 9.1 .2-8.1 .2 7.2 .2-8.8 .2 9.3 .2 .1 .2-9.4 .2 9.6 .2-8.6 .2 6.8 .2-6.7 .2 6.4 .2 .4 .2-7.8 .2 9.8 .2-11 .2-.5 .2 9.5 .2-.2 .2-8.6 .2 9.4 .2-10.7 .2 9.5 .2-7.9 .2 9 .2-9.3 .2 8.9 .2-8.3 .2 7.5 .2-8.2 .2 7.7 .2-8.9 .2 10.9 .2-10.2 .2 7.9 .2-7.1 .2 8.5 .2-7.7 .2 8.2 .2-8.1 .2 7.4 .2 1.5 .2-9.2 .2-.3 .2 9.7 .2-11.3 .2 10.9 .2-1.4 .2-8.8 .2 8.7 .2 2.2 .2-10.6 .2 8.9 .2-7.9 .2 7.8 .2 .2 .2-8 .2 9.5 .2-8.7 .2 9.2 .2-9 .2 7.8 .2-6.6 .2 6.8 .2-6.9 .2 7.9 .2-8.7 .2 9.9 .2-8.7 .2 7.3 .2-7.8 .2 9.1 .2-10.2 .2 9.5 .2-8.7 .1-3.4 .1 11.8 .2-8.4 .2 8.4 .2-10.1 .2 1.9 .2 8.1 .2-8.6 .2 8.9 .2-9.8 .2-.3 .2-.2 .2 9 .2-9.9 .2 9.2 .2-8.3 .2-1.5 .2 11.3 .2-10.3 .2 9.5 .2-8 .2 9 .2-10.1 .2 10.5 .2-11.6 .2 9.2 .2-8.2 .2 8.3 .2-7.1 .2 .4 .2 9.3 .2-11.5 .2 10 .2-8.8 .2 8.3 .2 .2 .2-7.9 .2 8.9 .2-8.9 .2 8.2 .2 0 .2-9.4 .2 10.9 .2 .6 .2-9.7 .2 8.3 .2-9.3 .2 9.3 .2-9.6 .2 8.7 .2-7.2 .2 8.4 .2-10.5 .2 2.6 .2 8 .2-8.4 .2 8 .2-9.5 .2 8.3 .2-7.9 .2-.8 .2 8.8 .2-7.7 .2 1.6 .2 7 .2 .1 .2-7.5 .2-1.2 .2 9 .2-7.7 .2 6.7 .2-6.7 .2 9.1 .2-11.7 .2 11.6 .2-9.9 .2-.7 .2 9.4 .2-7.9 .2 8.3 .2-8.5 .3 11.8-.1-3.2 .2-9.1 .2 9.9 .2-10.6 .2 8.7 .2-9.6 .2 10.7 .2-8.3 .2 8.7 .2-9.6 .2 10.7 .2-10.6 .2 9.2 .2-8.4 .2 9 .2-10.5 .2 10.8 .2-9.1 .2 8.7 .2-7.4 .2 7.8 .2-.2 .2-9.8 .2 1.6 .2 9.5 .2-10 .2 7.8 .2-7.8 .2 8.1 .2-7.2 .2 7.8 .2-8.9 .2 9.7 .2-9.8 .2 9.3 .2-9.6 .2 8.6 .2-8.4 .2 9.1 .2-10.1 .2 8.1 .2-8 .2 8.6 .2-9.9 .2 9.6 .2-7.1 .2-1.7 .2 .2 .2 8.8 .2-7.8 .2 6.4 .2-6.5 .2 8.7 .2-8.7 .2 7.1 .2-9.7 .2 8.9 .2 1.6 .2-.8 .2-7.6 .2 9 .2-11.1 .2 10.9 .2-9.8 .2 8.7 .2-8.9 .2 8.9 .2 .3 .2-11.1 .2 10.9 .2-8.5 .2 9.1 .2-9.3 .2 9.3 .2-9.1 .2 9.3 .2-.2 .2-1.3 .2-8.7 .2 10.4 .2-9.1 .2 6.7 .2-7.7 .2 10 .2-11.5 .2 10 .2-8.5 .2 7.5 .2 .5 .2-9.3 .2 9.3 .2 2.1 .2-10.6 .2 8.8 .2-8.8 .2 8.3 .2 2.4 .2-11.1 .2 10.3 .2-8.9 .2 6.9 .2-8.9 .2 9.7 .2-7.4 .2-1.7 .1-3 .1 11.9 .2-9.7 .2 10 .2-9.2 .2 10 .2-9.7 .2 10 .2-10.5 .2 8.9 .2-7.7 .2 7.4 .2-6.8 .2 8.4 .2-8.3 .2 7.1 .2-9.5 .2 10 .2-9.1 .2 8.4 .2-7.2 .2 8.9 .2-10 .2 8.4 .2-8.8 .2 8.4 .2 1.7 .2-9.5 .2 7.8 .2-8.7 .2 11.6 .2-11.3 .2-.5 .2 .9 .2 1.2 .2 9.8 .2-1.5 .2-8.9 .2 8.8 .2-7.8 .2 7.7 .2-9.9 .2 10.9 .2-10.4 .2 10.2 .2-9.6 .2 7.2 .2-7.3 .2-1.4 .2 9.3 .2-9.7 .2 10.1 .2-9.1 .2 9.1 .2-8.3 .2 9.4 .2-9.2 .2 8.5 .2-7.6 .2 7.9 .2-9.2 .2 9.7 .2-10.2 .2 10.1 .2-9.1 .2 1.4 .2 7.1 .2 .3 .2-7.1 .2 8.6 .2-10.2 .3 21-.1-20 .2 8.6 .2-10 .2 8.6 .2 .7 .2 .3 .2-9.7 .2 8.9 .2-8.6 .2 10.3 .2-.5 .2 .6 .2-2.1 .2-7.7 .2 10 .2-11.3 .2 9.5 .2-6.6 .2 7.1 .2 1.9 .2-11.4 .2 11.3 .2-10.5 .2 1.5 .2-.5 .2 7.5 .2-8.8 .2 9.4 .2-.9 .2-8.3 .2 9.2 .2-9.1 .2 9.2 .2 .4 .2-8.7 .2 9.4 .2-10.1 .2 10 .2-8.4 .2-1.8 .1-3.1 .1 11.7 .2-.1 .2-8.2 .2 8.6 .2-.6 .2-8.3 .2 8.3 .2-7.7 .2 7.3 .2 2.3 .2-11.1 .2 9.3 .2-8.1 .2 9.4 .2-.8 .2-9.8 .2 9.4 .2-10 .2 10.2 .2-10.3 .2-.1 .2 11.4 .2-10.3 .2 10.5 .2-10.4 .2 9.8 .2-11.1 .2 9.5 .2 .7 .2-.4 .3 16-.1-16.5 .2-7.1 .2 7.7 .2-7.8 .2 7.8 .2 .6 .2-9.8 .2 8.8 .2-7.1 .2 9.2 .2-.6 .2-9.6 .2 8.6 .2-9.7 .2 9.9 .2-10.5 .2 11.8 .2-10.3 .2-1.9 .2 11.3 .2-10.1 .2-.6 .2 10.9 .2-11.5 .2 11.8 .2-9.9 .2-1.1 .2 10.5 .2-11.5 .2 8.6 .2-8.8 .2 9 .2 1.8 .2-.4 .2-9.9 .2 1.5 .2-2.1 .2 10.4 .2 .3 .2-9.9 .1-4.5 .2 16-.1-3.8 .2-8.2 .2 10.6 .2-9.2 .2 9.1 .2-11.9 .2 11.3 .2 1.1 .2-11.2 .2 9.9 .2-11.2 .2 10.4 .2-9.3 .2 11.1 .2-10.7 .2 10.4 .2-10.5 .2 9 .2-9.5 .2 8.4 .2-8.8 .2 9.4 .2-7.2 .2 9.6 .2-12.5 .2 11.3 .2-8.5 .2 8 .2-10.1 .2 11.7 .2-11.2 .2-.6 .2 9.6 .2-8.1 .2-.9 .2 9.1 .2-10.1 .2 10.7 .2-9.3 .2-.9 .1-6.4 .2 44-.1-27.6 .2-8.8 .2 .7 .2 7.4 .2-7.2 .2-2 .2 11.6 .2-10.7 .2 9.1 .2-10.4 .2 11.4 .2-10.6 .2 11.9 .2-9.7 .2 9.4 .1-15.8 .1 6.7 .2 9.5 .2-12.4 .2 10.1 .2 .4 .2-9.9 .2 10 .2-7.2 .2 8.5 .2-8.7 .1-9.4 .2 50-.1-31 .2-9.8 .2 8.1 .2-10.4 .2 10.4 .2-8.2 .2 8.2 .2 .7 .2-10.9 .2 0 .1-2.7 .2 19-.1-15.1 .2 1.8 .2 8.7 .2-8.9 .2 10.1 .2-1.8 .2-10.9 .2 10.9" stroke="#000" stroke-width="1" fill="none" stroke-linejoin="round"/>
<path d="M251.7 481H320" stroke="#000" stroke-width="2.2" fill="none"/>
<path d="M319 459.5V482" stroke="#000" stroke-width="2.2" fill="none"/>
<text x="321.9" y="475.4" font-size="11.3" textLength="36.7" lengthAdjust="spacingAndGlyphs">200 uV</text>
<text x="273.4" y="492.4" font-size="11.3" textLength="23.2" lengthAdjust="spacingAndGlyphs">20 s</text>
<path d="M58.1 500.5V554M53.4 515.1H58.1M53.4 534H58.1M53.4 553.4H58.1" stroke="#000" stroke-width="1.3" fill="none"/>
<text x="14" y="521.5" font-size="11">10</text>
<text x="27.7" y="521.5" font-size="11" textLength="18.9" lengthAdjust="spacingAndGlyphs">x10</text>
<text x="46.6" y="514.3" font-size="7.5">3</text>
<text x="51.8" y="538" font-size="11" text-anchor="end">5</text>
<text x="51.8" y="557.4" font-size="11" text-anchor="end">0</text>
<text transform="translate(28.8 562) rotate(-90)" y="4.1" font-size="11.3" text-anchor="middle" textLength="56.5" lengthAdjust="spacingAndGlyphs">Power (dB)</text>
<path d="M59.5 546.5l2.5 1 3.5-11.5 2 10 2.5-3 2.5 4.5 3-37.5 2.5 18 3 19 4-1 3-2.5 3 5.5 4-2 2 1 1.5-20.5 2 18.5 2.5-2 3-2 2.7-42 .8-10 9.5 0 1.5 34 1-3 1.5-9 1.5-22 1.5 0 .5 15 .5-15 5 0 1 31 3-3.5 2 1.5 2.5-4 2.5-1 2 16 2 13 3 6 5 1 5 1 3-6 2-5 2 3 3 6 5 3 1 .1 1.6-.2 1.6-.1 1.6-.1 1.6-.4 1.6-.8 1.6-.1 1.6 .4 1.6 1.1 1.6 .3 1.6 .3 1.6-.3 1.6 .1 1.6-.5 1.6-.7 1.6-.9 1.6 .6 1.6 .1 1.6 .4 1.6 0 1.6-.2 1.6 .3 1.7 0 1.6-.1 1.6 .4 1.6-.4 1.6-.4 1.6 1.1 1.6-.8 1.6-.4 1.6 .7 1.6-.5 1.6 .4 1.6 .3 1.6-.1 1.6 .4 1.6-.9 1.6-.1 1.6 .9 1.6-.4 1.6-.1 1.6 .2 1.6-.6 1.6 .4 1.6-.9 1.6 .7 1.6 .3 1.6-1 1.6-.9 1.6 .2 1.6 .6 1.6 0 1.6 .5 1.6-.2 1.6-.3 1.6 .6 1.6 .1 1.6 .9 1.6-.4 1.6-.2 1.6 0 1.6-.1 1.6-.4 1.6 .1 1.7 .3 1.6-.7 1.6 .5 1.6-2.1 1.6-1.3 1.6 2.2 1.6-.5 1.6-.3 1.6 2.4 1.6 .4 1.6-.4 1.6-.1 1.6 .5 1.6-.8 1.6 1.2 1.6-1 1.6-.3 1.6 .7 1.6 .2 1.6-.2 1.6-.9 1.6-1.8 1.6 .9 1.6 1.7 1.6-.8 1.6 0 1.6 .2 1.6 .5 1.6-.7 1.6 .7 1.6-.2 1.6 .9 1.6-.1 1.6 .8 1.6-1.6 1.6-1.9 1.6 .5 1.6-.7 1.6-2.1 1.6-1.9 1.6 2.3 1.6 3.3 1.7 1.2 1.6-.3 1.6 0 1.6 .1 1.6-.7 1.6 0 1.6-1.8 1.6-1.2 1.6 1.2 1.6 1.4 1.6-.1 1.6 .5 1.6 .1 1.6 .6 1.6-.5 1.6-1.1 1.6-4.3 1.6 1.6 1.6-.9 1.6-1.1 1.6-3.7 1.6 6.9" stroke="#f00" stroke-width="1.5" fill="none" clip-path="url(#cb1)" stroke-linejoin="round"/>
<text x="52.8" y="598.2" font-size="13.6" textLength="54.3" lengthAdjust="spacingAndGlyphs">Baseline</text>
<text x="52.8" y="644.2" font-size="13.6" textLength="48.3" lengthAdjust="spacingAndGlyphs">Seizure</text>
<text x="52.8" y="696" font-size="13.6" textLength="139.3" lengthAdjust="spacingAndGlyphs">Post-ictal Suppression</text>
<path d="M53 615.8l.5-1.8 .4 2.4 .5 .1 .4-1.9 .5-.5 .4 1.7 .5-.7 .4 .1 .5 .6 .4 .2 .5-.4 .5 1.4 .4-.2 .5-1.7 .4 1.7 .5-1.2 .4-1.4 .5 1 .4-.4 .5 .9 .4-.3 .5-.5 .4 .5 .5-1.5 .5 .2 .4-.3 .5-.3 .4 1.4 .5 1 .4-1 .5 .5 .4-.6 .5 1.4 .4-.8 .5-.9 .5 1.3 .4 1.5 .5-2.1 .4-1.4 .5 .1 .4 2.5 .5 .5 .4-2.7 .5-1 .4 1.8 .5 1.3 .5-.8 .4-.1 .5-1 .4 .6 .5 .3 .4-1.2 .5-1.1 .4 3.2 .5-.7 .4 2.5 .5-3.2 .4 2 .5-2.6 .5 1.3 .4-1.2 .5-.9 .4 .8 .5 1.6 .4-.3 .5 1.4 .4 .4 .5-1.9 .4 2.2 .5-1 .5-1.5 .4 .3 .5 0 .4 .6 .5-.7 .4-1.4 .5 2.6 .4-.5 .5-1 .4 .9 .5 .4 .5-.7 .4 1.7 .5-3.3 .4-.2 .4-2.8 .1 4.8 .4-.6 .5-2.8 .4 2.1 .5 1.1 .4 .4 .5 .6 .4-.8 .5-.2 .5 1.4 .4-.6 .5 .4 .4-1.9 .5-.3 .4 .3 .5 1.3 .4-1.1 .5 .5 .4 1.4 .5-1.2 .5 0 .4-2.2 .5 .9 .4 1.5 .5 .2 .4-.3 .5 .3 .4-.4 .5-.8 .4-.7 .5 3 .5-1.2 .4 1.9 .5 .8 .4-.6 .5-.2 .4-2 .5 .6 .4-1.2 .5 .6 .4-.8 .5 1.3 .5 .2 .4-1.4 .5 .6 .4-2.5 .5 3.2 .4-.7 .5 .1 .4-1.8 .5-1.9 .4 2.9 .5 1.6 .4-1.7 .5-1.1 .5-.6 .4 .3 .5-1.4 .4 2.5 .5-.5 .4 2.4 .5-2.6 .4 .7 .5-.3 .4 2.4 .5-2.3 .5 1.8 .4-1.5 .5 .1 .4 .4 .5 0 .4 .1 .5-3.7 .4 1.7 .5 .9 .4 1.1 .5 1.7 .5-2.9 .4 1.2 .5-.2 .4-1.2 .5 1 .4-.9 .5-.4 .5 6.2-.1-4 .5 1 .4-1 .5-.3 .4-1.2 .5-.7 .5 .9 .4 .6 .5 2.4 .4-2.3 .5 .6 .4-.8 .5-2.4 .4 3.2 .5-.3 .4 0 .5-2.2 .5 2.2 .4-1.9 .5 .8 .4 2 .5 1.2 .4 8.7 .5 4.3 .4 5.5 .5-4.4 .4-4.6 .5-3.7 .5-5.6 .4-3 .5-4.8 .4-1.8 .5-1.5 .4-.4 .5 2.1 .4 2.7 .5-.2 .4 .8 .5-1.7 .4 .9 .5 .3 .5 1.9 .4-.8 .5 .3 .4-.8 .5 1.3 .4-1.7 .5 2.3 .4-.9 .5 .9 .4 .5 .5-1.2 .5 1.8 .4 .7 .5-1.3 .4-.4 .5 .3 .4 0 .5 .3 .4-.5 .5-.4 .4 .2 .5 1.5 .5-1.4 .4 .4 .5-1.2 .4 1.7 .5 .9 .4-.3 .5-.4 .4 1.1 .5-1.3 .4 1.2 .5 .4 .4-.4 .5-.4 .5 .8 .4-.6 .5 0 .4 .8 .5 0 .4 .3 .5-3.6 .4 2.1 .5-.7 .4 1.7 .5-1 .5-1.1 .4 1.9 .5-2 .4 1.4 .5 .8 .4-1.6 .5-1.1 .4 1.5 .5 .5 .4 0 .5-.2 .5 .7 .4 .1 .5-2.2 .4 2.1 .5-2.3 .4 2.6 .5-.7 .4-.4 .5-1 .4 2.4 .5-.1 .4-2 .5-.1 .5-.9 .4 1.8 .5-.6 .4-1 .5 1.6 .3 8.4 .1-9.8 .5 1.2 .4 1 .5-2.7 .4-.4 .5 3.2 .5-1.6 .4-.6 .5 .3 .4-.7 .5 .4 .4 .7 .5 1 .4 .6 .5 1 .4-3.4 .5 2.9 .5-1.7 .4 .6 .5 .1 .4-1.3 .5-1.4 .4 1.6 .5-1 .4-.8 .5-.2 .4 .6 .5-.7 .4 1.6 .5 .4 .5-.1 .4 2.9 .5-2.9 .4 1.7 .5-.3 .4-1.2 .5 .8 .4-1.9 .5 2.2 .4-1.1 .5-1.9 .5 1.4 .4 1.8 .5-2.4 .4 .8 .5-.3 .4 .7 .5-.8 .4-1.2 .5 2.2 .4-2.1 .5 2.9 .5-2.4 .4 1.4 .5 1.1 .4 .5 .5-2.4 .4 2.2 .5-1.7 .4 1.1 .5-2 .4 .5 .5 .9 .4-2 .5 1.9 .5-.7 .4 .6 .5 2.1 .4-.3 .5-3 .4 1.6 .5 .3 .4-1.4 .5 .6 .4-1.7 .5 2.2 .5-.1 .4-.4 .5-1.2 .4 .2 .5 1.7 .4-1.9 .5 2.6 .4-1.1 .5 1.1 .4-1.6 .5 1.1 .5-.8 .4-1.6 .5 .8 .4-.5 .5 .4 .4 0 .5-.1 .4 .3 .5 2.9 .4-2.7 .5 .2 .5-2.1 .4 1.7 .5 1.5 .4 1.6 .5-.1 .4 .3 .5-.4 .4-.3 .5-2.7 .4 3.1 .5-1.8 .4 1.8 .5 .4 .5 0 .4-.6 .5-.3 .4-.9 .5 1.8 .4-1.4 .5 .2 .4-1.1 .5 .3 .4-1.5 .5-.2 .5 2.1 .4-1.7 .5-.3 .4-1 .5-2.2 .4 .5 .5 4.2 .4-3.7 .5 2.4 .4-3.2 .5 3 .5-.2 .4 2.5 .5-2.6 .4 2 .5 .1 .4 .2 .5-1.7 .4 1.6 .5-.7 .4-1.6 .5-1.1 .4 1.7 .5 .4 .5-1.2 .4 1.1 .5 .8 .4-.5 .5 1.6 .4-2.4 .5 .8 .4-.4 .5 1 .4-1.3 .5 1.3 .5 .4 .4 .4 .5 .4 .4-1.4 .5-.6 .4 1.9 .5 .3 .4-2 .5-.4 .4 .9 .5 .9 .5 .1 .4 .8 .5 .2 .4-2.7 .5 .2 .4-1.7 .5 1 .4 0 .5-.7 .4-.1 .5 1.2 .4 1.1 .5-.1 .5-.3 .4-.9 .5 1.1 .4 0 .5 .7 .4-.6 .5-.5 .4-1.7 .5 .1 .4 2.1 .5-2.1 .5 2.8 .4-1.2 .5-2.4 .4 .5 .5 .4 .4 .3 .5-.4 .4 .3 .5-1.2 .4 1.8 .5-1.4 .5 2.5 .4-2.1 .5 1.1 .4-1.4 .5 2.1 .4-1.1 .5-.1 .4 1 .5-1.2 .4 1.6 .5 .7 .4-.4 .5-1 .5 0 .4 .5 .5 1.7 .4-1.1 .5 .8 .4-.1 .5 1.2 .4-2 .5 .8 .4 .3 .5-.9 .5-.9 .4 .6 .5-2.5 .4-.1 .5 2.5 .4-2.2 .5 3.4 .4-.6 .5-.5 .6 4.3-.2-5.5 .5 1.4 .5 .3 .4-1 .5 .3 .4 2.6 .5-1.5 .4 7.4 0-10.2 .5 .5 .4 .8 .5-.4 .4-.1 .5-.2 .4 .1 .5 .8 .5-.5 .4 .6 .5-1.4 .4-.1 .5 4 .4 4.8 .5 1 .4 4.1 .5 2.6 .4 4.1 .5-7 .5-3.4 .4-7.7 .5-3.4 .4-4.2 .5-1.7 .4 1.7 .5-.5 .4 .1 .5 .1 .4 2.6 .5 .3 .5 1.6 .4 .7 .5-1.9 .4 1.3 .5 0 .4-.1 .5 .3 .4-.2 .5 .4 .4-2.7 .5 3.3 .4-.7 .5-.4 .5-.3 .4 1.4 .5 .4 .4 0 .5-1.2 .4-.2 .5 1.8 .4-.1 .5 2.1 .4-1 .5 .1 .5 .7 .4-.6 .5-1 .4 1.7 .5 .6 .4-1.5 .5 .6 .4-.1 .5-1.5 .4 1.7 .5-2.7 .5-.3 .4 1.8 .5 .7 .4 1.1 .5-3.2 .4 .5 .5 1.4 .4-.7 .5 .1 .4-.4 .5-.1 .4 .9 .5-2.7 .5 1.9 .4 .3 .5-.7 .4-2 .5 1.5 .4-.7 .5 1.5 .4 1.1 .5 1.2 .4-2.6 .5 1.1 .5-.5 .4 1.5 .5-1.2 .4 .9 .5-.2 .4-.5 .5-2.3 .4 .4 .5 3 .4-3.3 .5 6.6 0-5.7 .5 .5 .4 .6 .5 .7 .4-1.5 .5 1.8 .4-1 .5-1 .4 .1 .5 .9 .4 .8 .5-2.8 .5 2 .4 .9 .5 1 .4-.2 .5-.9 .4 1.5 .5-1.1 .4-1.1 .5 .2 .4 .6 .5-1.4 .4-.6 .5 1 .5 .6 .4-.8 .5-.7 .4 1.7 .5-1 .4-.8 .5-.1 .4-.6 .5 .4 .4 .8 .5 1.4 .5-1.7 .4 2.6 .5-1.1 .4 2.3 .5-.7 .4-.1 .5-2.2 .4 1.7 .5 .1 .4-1.4 .5 1.7 .5-2.9 .4 .2 .5-1.9 .4 2.8 .5 2.6 .4-1.2 .5-.5 .4-.7 .5-1.6 .4 .7 .5 1.7 .4-1.9 .5 .9 .5-.1 .4 .7 .5-1.8 .4 .1 .4 6.5 .1-4.3 .4-2 .5-.1 .4 0 .5 1.6 .4 .5 .5-1 .5-.6 .4 .7 .5-1.8 .4 1.2 .5-2.6 .4 2.3 .5 1.8 .4-2.1 .5 3.4 .4-2.2 .5-2.5 .5 2 .4-1 .5 .2 .4 1 .5-.1 .4-.9 .5-2.3 .4 1.4 .5 1.8 .4 .4 .5-3.9 .4 2.8 .5 1.8 .5 1.9 .4-4.1 .5 2.4 .4-2.2 .5-.3 .4-.4 .5 1.7 .4-2.6 .5 .9 .4 2.6 .5-1.3" stroke="#000" stroke-width="1.4" fill="none" stroke-linejoin="round"/>
<path d="M53 654.8l.3 .6 .3 1.8 .3-2 .3 1.5 .4-2.4 .3 3.6 .3-.8 .3-4.4 .3 1.2 .3 .6 .3 1.6 .3-.7 .4 1.6 .3-3.3 .3 1.7 .3-1.8 .3 .4 .3 1.9 .3 1 .3-1.9 .4 2.5 .3 1.2 .3-.5 .3-.8 .3-1.6 .3 1.1 .3-.5 .3-.1 .4 .2 .3-.8 .3 .2 .3-2.2 .3 1.7 .3-1.1 .3 1.8 .3 2.1 .4-1.7 .3 .5 .3 2.5 .3-4.8 .3 3.5 .3-3.5 .3 .4 .3 1 .4-2.1 .3 3.5 .3-2.4 .3 2.7 .3-2.8 .3 2.2 .3 .2 .3-3.2 .4 .6 .3 .3 .3 .3 .3 1.1 .3-.8 .3-2.6 .3 2 .3 .1 .4 .4 .3-1.6 .3 3.4 .3-1.7 .3 3.1 .3-3.1 .3-1.3 .3 3.9 .4-3.1 .3 2.6 .3-.2 .3-.3 .3-.9 .3-2.1 .3 4.4 .3-3.9 .4 2.5 .3-2.4 .3-1.3 .3 3.8 .3-1.6 .3-1.4 .3 1.4 .3 .6 .4 1 .3-2.1 .3-1.3 .3-2 .3 4.7 .3-5.2 .3-.2 .3 1.9 .4-1.3 .3-.6 .3 .9 .3 3 0-7.2 .3 29 0-22.4 .3-3.6 .3 .4 .3-1.4 .4 2.1 .3-1.8 .3 7.9 .3 1.8 0-14 .3 24 0-9.3 .3 2.1 .3-.3 .3-1.1 .3-5.3 .4-5 .3 2.4 .3 2.8 0-9.3 .3 21 0-16 .3-3.1 .3 7.1 .3 2.3 .3-4.8 .4-.5 .3 6.9 .3-.3 .3-9.5 .3 1.7 .3 6.2 .3 2.2 .3-15.2 .3 32-.3-18.3 .4 1.6 .3-4.4 .3-7.7 .3-.1 .3 11.6 .3-7.3 .3 3.1 .3-2.3 .4 2.9 .1-8.1 .3 23-.1-14 .3-8.7 .3 7.2 .3-6.4 .3 5.2 .3 2.3 .3-6.3 .4 2.4 .3 2.7 .3-.3 .3 7.7 .3-4.2 .3 1.9 .3-1.8 .3-1 .4-6.3 .1-5.4 .3 31-.1-22.9 .3-3 .3 .1 .3 2.2 .3-3.1 .3 4.8 .3-2.9 .4 4.5 .3-3 .3 3.8 .3-5.1 .3-1.1 .3 4.6 .1-7.9 .3 22-.1-17.1 .3 8.4 .4-.4 .3-7.6 .3 2.1 .3-.9 .3 2.5 .3-3.1 .3 7.9 .3-15.8 .3 26-.3-15.8 .4 4.1 .3 1.9 .3-5.6 .3 .6 .3 4.1 .3 2.3 .3-1.2 .3-5.3 .4 3.9 .3-11.1 .3 1.6 .3 6 .2-10.5 .3 27-.2-22.3 .3 0 .3-.8 .3 2.6 .4-4.6 .3 5.7 .3 3.3 .3 1.8 .3-2.4 .3-2.9 .3 7 .3-3.3 .4-2.8 .1-8.3 .3 24-.1-14 .3-5.2 .3 1.4 .3-1.1 .3 4.5 .3-7.4 .3 9.9 .4-6 .3 3.9 .3 4.2 .3-9.9 .3-2.7 .3 2.6 .3 9.3 .3-10.8 .3 4.5 .2-6.2 .3 21-.1-14.2 .3-5.5 .3 2.2 .3 2.6 .3-2.3 .3 .8 .3 6.6 .3 1.7 .4-6.3 .3 3.3 .3-4.5 .3 2.8 .3 5.9 .3-.9 .3-5.6 .3 4.8 .2-14.4 .3 22-.1-8.7 .3 1.1 .3-8.3 .3-2.2 .3 2.1 .3 1.5 .3 1.4 .3-3 .4-.7 .3 3.2 .3 5.3 .3-6.3 .3 3.9 .1-9.3 .3 18-.1-1.3 .3-.9 .3-7 .4 7.1 .3-1.7 .3-1.8 .3-3.6 .3-2.5 .3-1.2 .3 .6 .3 0 .4 3.3 .3 6.3 .3-6.6 .3 4.7 .3-11.3 .1-3.1 .3 18-.1-5.8 .3 .7 .3-7.6 .4 1.9 .3 6.6 .3-2.5 .3 .5 .3 1.1 .3-1.1 .3-3.9 .3 .9 .4 1.9 .3 .5 .3-.2 .3-5.6 .3 5.3 .3-4.2 .3 .1 .3 4.2 .4-3.3 .3 1.5 .3-1 .3 1.5 .3 .8 .3 .8 .3-1.4 .3-4.1 .4 5.2 .3-1.3 .3-4.3 .3 5.9 .3-4 .3-2.4 .3 6.1 .3-4.1 .4 4 .3 1.6 .3-6.7 .3 4.4 .3-1.7 .3-.4 .3 3.6 .3 .6 .4-1.4 .3 .1 .3-6.9 .3 4 .3 4.3 .3-.8 .3-5.8 .3 6.6 .4-6 .3-.8 .3 3.8 .3 .4 .3 .7 .3-3.1 .3-2.7 .3 1.9 .4 1.4 .3-1.7 .3 5.7 .3-3 .3-1.3 .3-.6 .3 3 .3 .8 .3 2.5 .4-1.8 .3-.5 .3-3.3 .3 6.1 .3-.7 .3-2.8 .3-2.7 .3 2.4 .4-3.4 .3-1.9 .3 .3 .3 5.6 .3-4 .3 .6 .3-1.3 .3 2.2 .4-1.2 .3-.7 .3 2.3 .3-.7 .3 4.1 .3-2.3 .3 .3 .3-.3 .4 3.1 .3-3.4 .3-4.1 .3 1.1 .3-1.8 .3 3.2 .3 5.7 .3-6 .4-2.2 .3 .2 .3 2.9 .3-2 .3-3.1 .3 8.7 .3 1 .3-4.1 .4 3.3 .3-2.8 .3 3.1 .3-7.2 .3 6.7 .3-3.5 .3-3.1 .3 1.7 .4 1.4 .3 1.1 .5 15.6-.2-12.1 .3-2.1 .3 2.7 .3-5.1 .3 1.9 .3-1.8 .4 3.7 .3-5.5 .3 4.6 .3-2.4 .3-3.1 .3 2.5 .3-2.2 .3 .6 .4 1.7 .3 1.8 .3-.8 .3-2.6 .3-1.6 .3 3.5 .3-4.3 .3 4.1 .4-4.7 .3 1 .3 4.8 .3 1.9 .3-1.8 .3-.5 .3-3.6 .3 4.7 .4-1.7 .3 2.1 .3 .4 .3-4 .3-1.9 .3 .2 .3 .7 .3 1.9 .4 0 .3-1.6 .3 1.3 .3 1.6 .3-2.3 .3 6 .3-5.3 .3 5.6 .4 0 .3 1.7 .3-5.5 .3 .5 .3 1.1 .3 4.6 .3-4.5 .3-3 .3 1.7 .4-1.4 .3 4.3 .3 0 .3-1 .3-5.3 .3 .2 .3 .5 .3 3.7 .4 .9 .3-6.8 .3 3.3 .3-1.3 .3-2.4 .3 3.4 .3-1.8 .3 2.9 .4-6 .3 5.2 .3-2.4 .3 1.9 .3 8.4 .3-6.7 .3 .1 .3 1.7 .4 1.1 .3-3.6 .3 .4 .3-3.2 .3-.5 .3 4.4 .3 .7 .3-.8 .4-3.1 .3-1 .3-.6 .1-6.1 .3 29-.1-21.6 .3 .8 .3-.1 .3-.5 .3 3.8 .1-6.4 .3 15 0-13.5 .3 4.8 .3-.3 .3-1.1 .3-2.9 .3 2.9 .3-1.9 .3 5.8 .4-1.7 .3-.2 .3 .3 .3-5.1 .3 4.4 .3-5.6 .2-4.9 .1 8.1 .3 4.2 .4-3.7 .3 4.1 .3 1.4 .3-8.4 .3 3.9 .3-3.9 .3 3.7 .3-1.4 .4-4.3 .3-1.3 .3 8.9 .3 .4 .3 0 .3 0 .3 .1 .3-7.9 .4 5.7 .3-6.2 .3 2 .3 3.9 .3 1.8 .3-6.6 .3 3.9 .3 6.5 .4 2.2 .3-8.1 .3-3.3 .3 3.1 .3-8.1 .3-.4 .2 .7 .3 16-.2-10.8 .3-4.6 .4 6.6 .3-2.7 .3-3.5 .3 1.6 .3 4.8 .3 3.6 .3-9.5 .3 6.6 .4 3.1 .3-7.8 .3 6.9 .3-2.9 .3-3.4 .3-.5 .3 10.3 .3-5.9 .3-1.2 .4 5.3 .3-7.9 .3 4.4 .3 6.4 0-15.9 .3 11.5 .3 2.3 .3-4.6 .3 1.6 .4-3.2 .3-3.6 .3 6.3 .3 2.4 .3-2.1 .3 6.3 .3-8 .3-2.5 .4 .8 .3 .9 .3 1.1 .3 .4 .3-1.3 .3 7.2 .3-1.8 .3-7.1 .4-4.1 .3 7.4 .3 3 .3-5.8 .3-2.8 .3-2 .3 3 .3-.9 .4 4.8 .3 3.2 .3-8.2 .3 6.6 .3 .6 .3-1.4 .3 .2 .3 3.4 .4 2.2 .3-.6 .3-8.1 .3-.9 .3-1.4 .3 9.2 .3-7 .3 7.3 .4-8.2 .3 7.2 .3-5.3 .3 1.2 .3-1.8 .3 4.4 .3 .9 .3-1.5 .4-10.3 .3 7.4 .3-1.8 .3 6.5 .3-3.7 .3-.9 .3-2.1 .3 4.1 .4-5.3 .3 1 .3 6.2 .3-.4 .3-5.9 .3 .3 .3 5.4 .3-2 .4-6.3 .3 8.6 .3-.3 .3-3.5 .3 7.1 .3-6.2 .3 3.4 .3-1.8 .4 1.9 .3-2.1 .3-3.1 .3-2.2 .3 4.2 .3 1.5 .3-5.6 .3 2.3 .4 3.4 .3-7.5 .3 1.3 .3 3.4 .3-1.4 .3-2 .3-1.6 .3 8.6 .4-6.3 .3 6.7 .3 1.4 .3-7.3 .3 5.7 .3-1.1 .3 1.5 .3-4.2 .3-1 .4 .3 .3-.3 .3 .7 .3-1.3 .3 1 .3 2 .3-3.6 .3 1.1 .4 5.8 .3-.6 .3 .7 .3-5.3 .3-1.6 .3 2 .3-2 .3 5.8 .4-.4 .3-5.7 .3 1.3 .3-.4 .3-2 .3 .5 .3 1.2 .3 1.4 .4 4.5 .3-4.6 .3-1.8 .3 4.5 .3 0 .3-1.3 .3 2.5 .3-.7 .4 2.5 .3-1 .3-1.1 .3 3.5 .3-7.6 .3 2.8 .3-2.1 .3 1.2 .4-2.8 .3 6.2 .3-4.9 .3 .3 .3 4.5 .3-1.6 .3 0 .3-1.5 .4 3.3 .3-5.2 .3 2.1 .3 2.8 .3-7 .3 2.1 .3 5.9 .3-5.1 .4-.3 .3 3 .3-2.2 .3-3.2 .3-.8 .3 1.5 .3 6 .3-6 .4 3.3 .3 1.2 .3 0 .3-1.6 .3 1.5 .3-.7 .3-5.5 .3 3.1 .4 .3 .3-1.3 .3 .1 0-13.6 .3 22 0-12.1 .3 3.1 .3 .8 .3 4 .3-6 .4 4.1 .3 2.3 .3 .6 .3-.2 .3-.9 .3-6.1 .3 1.4 .3-.5 .4-.8 .3 2.1 .3-3.7 0-10.1 .3 14.3 .3-.6 .3 1.6 .3 2.4 .3-1.5 .4-2.5 .3 7.4 .3-4.7 .3-3.3 .3-1 .3 3.2 .1-16.3 .3 26-.1-8.7 .3 1.9 .3 1.1 .4-6.2 .3 1.4 .3 5.6 .3-8.1 .3 5.7 .3-4.2 .3 2.8 .3 .1 .4-5 .3 1.2 .3 6.1 .2-16.7 .3 28-.2-10.9 .3-3.5 .3-1.4 .3 2.6 .3 2.1 .4 2.4 .3-7 .3 1.5 .3 .9 .3-3.2 .3 5.7 .3-4.8 .3-.3 .4 3.7 .3-1.5 .3-2.6 .3-.3 .3-.4 .3 1.1 .3 .4 .3 4.6 .4-2.7 .3 1.1 .3-1.4 .3-2.4 .3 1.3 .3 1.3 .3 .9 .3-1.8 .5 8.6-.1-5.4 .3 1.7 .3-4.9 .3 .4 .3 2 .3 .2 .3 2.6 .3-2.1 .4 1.6 .3-4 .3-.1 .3-2.7 .3 6.4 .3-1.3 .3-.8 .3 1 .4 .9 .3-6 .3 3.3 .3 3.5 .3-6.9 .3-2.7 .3 5.3 .3-2.2 .4 7.9 .3-2.1 .3 3.4 .3-7.8 .3 .6 .3-1.6 .3 2.8 .3-1 .4 4.4 .3-7.1 .3 5.1 .3 .5 .3-1.1 .3-6.3 .3 2.9 .3 6.8 .4 .8 .3-.9 .3-3.7 .3-3.2 .3 .4 .3 5.3 .3-1.8 .3-2.4 .4 1.7 .3-1.7 .3 1.1 .3 .9 .3 .8 .3 .3 .3-.7 .3 0 .4-2.1 .3 .9 .3 3 .3-5.6 .3 1 .3 3.1 .3-4.6 .3-1.9 .4 6.4 .3-3.2 .3-3.2 .3 3.7 .3 2.1 .3 .7 .3-.8 .3 1.3 .3 1.7 .4-3.5 .3 2.9 .3-4.8 .3 2 .3 1.6 .3-.5 .3-.3 .3 3.3 .4-2.5 .3-1.4 .3 .3 .3-3.3 .3 3.7 .3 1 .3-1.2 .3 .5 .4-2.7 .3 .5 .3 0 .3 .6 .3-.2 .3 3.2 .3 .3 .3-4.1 .4-.4 .3-.6 .3 .5 .3-.4 .3-.7 .3 3.5 .3-2.2 .3 1.2 .4-.1 .3-.7 .3 1.9 .3-.8 .3 1.9 .3-.3 .3 .5 .3-1.6 .4-.9 .3 .6 .3 3.2 .3-3.5 .3-.7 .3 .5 .3 3.4 .3-.7 .4-2.4 .3 1.5 .3-2.2 .3-.5 .3 0 .3 2.3 .3-2.9 .3-1.8 .4 5.2 .3-.4 .3-3 .3 .4 .3 1.1 .3-1.5 .3 .9 .3-.3 .4 1.5 .3-1.4 .3-.4 .3 2 .3 .5 .3-.9 .3-2 .3 .6 .4 .9 .3 .3 .3 1.9 .3 .2 .3-3.1 .3 1.9 .3-2.9 .3 .6 .4 3.1 .3-3.2 .3 .9 .3-.1 .3 1.2 .3 1.1 .3-2.6 .3 3.6 .4-.2 .3-1.9 .3 1.2 .3 .7 .3 .2 .3-2.6 .3 1.4 .3-2 .4 2.1 .3-1.8 .3 2.9 .3 1 .3-.9 .3-.7 .3-.8 .3-.2 .3 .7 .4 .9 .3-.2 .3-.1 .3-1.7 .3-1.1 .3 1.5 .3 1.9 .3-2.8 .4 2.7 .3-1.3 .3 .6 .3-1.6 .3-1.2 .3 2.3 .3-.3 .3 0 .4 1.8 .3-1.7 .3 .4 .3 1.3 .3-.2 .3-1.6 .3 1.6 .3-.8 .4 2.1 .3-2 .3-.3 .3 1.9 .3-2.9 .3-.3 .3 .2 .3 .1 .4 1.7 .3-2.6 .3 3.1 .3-.9 .3-1 .3 1.9 .3-.5 .3-1.4 .4 .3 .3 .1 .3 .8 .4 3.5-.1-.4 .3 .4 .3-2.2 .3 3 .3-2.1 .4 .4 .3 .2 .3 2.2 .3-1.1 .3-1.7 .3 .2 .3-.8 .3-2.4 .4 1.5 .3-.9 .3 .6 .3 .2 .3-2.5 .3 1.6 .3-.8 .3 .6 .4 .3 .3-1.8 .3-.4 .3 .5 .3 .4 .3-2.4 .3 .6 .3 .2 .4-.4 .3 2.7 .3-2.6 .3 2.8 .3 .4 .3-1.2 .3-1.2 .3-.2 .4-1.7 .3 .6 .3 .6 .3-1.6 .3 .5 .3 1.2 .3-.1 .3 .6 .4 0 .3-.4 .3-1.5 .3 0 .3-.5 .3 2.1 .3-2.7 .3 .5 .4 1.9 .3-.8 .3-2.5 .3 1.1 .3-1.3" stroke="#000" stroke-width="1.3" fill="none" stroke-linejoin="round"/>
<path d="M53 712.4l.4 1 .4-1 .5 1.4 .4-2.3 .4-.4 .4 1.8 .4-2.7 .4 2 .5-1.5 .4 2.5 .4-1.9 .4 1.2 .4 .7 .4-1.5 .5-.9 .4 2.6 .4-.3 .4-1.5 .4-.8 .4 1.1 .5 .1 .4-.7 .4-.4 .4-.5 .4 2.9 .4 .3 .5-2.5 .4 .2 .4 1.8 .4-1 .4 1.1 .4-1.4 .5 .5 .4 .7 .4 .8 .4-.2 .4-1.7 .4 1.8 .5 .7 .4-1.2 .4-.7 .4-.5 .4 .1 .4 .8 .5 0 .4-1.4 .4 2.7 .4-1.4 .4-.4 .4-1.5 .5-.1 .4 2.8 .4-2.1 .4-.6 .4 .5 .4-1.1 .5 .6 .4 1.3 .4 .3 .4-.8 .4 .7 .4 .4 .5-.1 .4-.5 .4 1.8 .4-1.5 .4 1.9 .4-.2 .5-1.8 .4-1 .4 .8 .4 .1 .4 .7 .4-.7 .5 1.5 .4-1.2 .4-.5 .4 1 .4-.7 .4 .1 .5-.7 .4 2 .4-.5 .4 .1 .4-1.5 .4-.2 .5 0 .4-.2 .4 1 .4 1.3 .4-1.6 .4 .9 .5 1 .4-1.6 .4 2.2 .4-2.8 .4 1.1 .4-1.7 .5 .2 .4 2.8 .4-2.3 .4-.6 .4 1.4 .4-2.2 .5 1.3 .4 .9 .4 0 .4-1.5 .4 .4 .4-.6 .5 3 .4 .4 .4-3 .4 1.7 .4-2 .4 2 .5-.2 .4-1.2 .4 .7 .4 .4 .4 .7 .4 1 .5-.5 .4-2.7 .4 .3 .4 .9 .4-.2 .4-1.7 .5 .9 .4-1.6 .4 .5 .4 0 .4 .7 .4 .7 .5 .6 .4-1.9 .4 .5 .4 1.7 .4 .4 .4-1.2 .5-.3 .4 .5 .4 .1 .4-1 .4 2.3 .4-1.5 .5 0 .4 .3 .4 .6 .4 .3 .4-1.8 .4 1.2 .5-.3 .4-1.3 .4 1.2 .4-.4 .4-.6 .4-1 .5 1.8 .4 .7 .4-1 .4-1.4 .4 2.1 .5-1.7 .4 1.5 .4 .1 .4-.9 .4 2.5 .4-1 .5-2.9 .4 .7 .4 .7 .4 2.6 .4-.3 .4-.5 .5 1.7 .4-1.5 .4-1.6 .4 2.1 .4-1.1 .4-2.7 .5 2.4 .4-1.4 .4-.1 .4 1.8 .4-.4 .4-1.6 .5 .9 .4-.4 .4 2.1 .4-.1 .4-.8 .4-1.4 .5 1.4 .4-.8 .4 2.1 .4-3.7 .4 1.3 .4 2.3 .5-1.3 .4-1.3 .4 .1 .4 1.9 .4-1.7 .4 3.3 .5-1.8 .4 1.4 .4-2.1 .4 .1 .4 1.5 .4 .4 .5-2.4 .4 .7 .4-.9 .4 0 .4 .1 .4 .8 .5 1.3 .4-.5 .4-1.5 .4 .5 .4 .7 .4-2.9 .5 1.8 .4-.8 .4 .2 .4 1 .4-1.5 .4 2.4 .5-1.5 .4-.2 .4 2.5 .4-1.9 .4-1.9 .4 3.2 .5-2.7 .4 2.7 .4-.7 .4 1 .4 1.4 .4-3.3 .5-.5 .4-.1 .4 1.8 .4-.5 .4 .6 .4 .3 .5-.1 .4-2.5 .4 2.6 .4-1.6 .4 2.4 .4-1.2 .5-.6 .4 .5 .4 .8 .4-.6 .4 2 .4-.8 .5-3.4 .4 1.8 .4-.6 .4 .4 .4-.1 .4 .2 .5-.8 .4 1.9 .4-1.8 .4-.3 .4 2 .4-.2 .5-2.1 .4 1.1 .4 .2 .4 .2 .4-1.6 .4-1.2 .5 .7 .4 1.5 .4 0 .4-2.5 .4 1.1 .4 2.9 .5-1.2 .4-.1 .4 .3 .4 .7 .4-2.2 .4 .5 .5 .9 .4 .9 .4-2.6 .4 .2 .4 .7 .4-.5 .5 1.3 .4 2.6 .4-3 .4 .3 .4 2 .4-1.1 .5-1.1 .4 .7 .4-1.8 .4 2.1 .4 .5 .4-.9 .5 0 .4-.9 .4 1 .4-1.4 .4 1.8 .4 .2 .5 .2 .4-1.3 .4 .3 .4-1.4 .4-.6 .4-.3 .5 3.2 .4 .4 .4-1.2 .4-1.2 .4 .2 .5 .7 .4-.5 .4-.3 .4 2 .4-.2 .4-1.8 .5-1.7 .4 2.1 .4-2.6 .4 1.7 .4 1.1 .4 .6 .5-3.2 .4 1.5 .4-.9 .4 1.9 .4 1.7 .4-2.7 .5 1.4 .4 .7 .4 1.8 .4-3 .4 1.3 .4-.9 .5-2.1 .4-.1 .4 .1 .4 2.9 .4-2.2 .4 2.1 .5-.3 .4-1.7 .4 2 .4-.2 .4 0 .4-1.9 .5 .5 .4 2 .4 .2 .4-2.9 .4 3 .4-1 .5-.6 .4 2 .4-.7 .4 .6 .4-2 .4 1.4 .5-1.5 .4-1.1 .4 .5 .4 .5 .4 1.7 .4-.7 .5-1.5 .4 .1 .4 2.3 .4-.8 .4 .6 .4-.7 .5 .6 .4-.2 .4-2.3 .4 .9 .4 .4 .4-1.5 .5 1.2 .4-.6 .4 1.3 .4-.5 .4 .6 .4-2.6 .5 1.7 .4 .4 .4-.2 .4-1.9 .4 1.3 .4 1.2 .5-.1 .4-.4 .4-1.2 .4-1.3 .4 .3 .4 2.4 .5 .4 .4 .6 .4-2 .4 1.6 .4-2.8 .4 1.3 .5 .4 .4-.1 .4 1.3 .4-.3 .4-.9 .4-1.2 .5 1.1 .4-1.4 .4 1.1 .4-.1 .4-.8 .4-.1 .5 1.2 .4-.7 .4 1.3 .4 .8 .4 .4 .4-.2 .5-1 .4-1.3 .4 2.5 .4-2.2 .4 2.8 .4-.7 .5 .4 .4-.8 .4-1.6 .4-.5 .4 .8 .4-.7 .5 .4 .4 1.5 .4-1.6 .4 .6 .4-1 .4-.3 .5 1.3 .4-2 .4 2.7 .4-.7 .4 1.4 .4-1.6 .5-.9 .4 2.2 .4-.6 .4 1 .4-3.4 .4 .2 .5-.1 .4 2.3 .4-1.4 .4 1.2 .4-1.4 .4 2.1 .5 .7 .4-1.5 .4-.6 .4-.8 .4 .6 .4-.5 .5 1.8 .4-.4 .4-1.3 .4 1.1 .4-1.2 .5 2.3 .4-.3 .4-1.7 .4-.7 .4 2.4 .4 .8 .5-.1 .4-.8 .4-1.3 .4 0 .4-.9 .4 3 .5-2.9 .4 2.1 .4-2.5 .4-.4 .4 2.7 .4-.7 .5 .6 .4-.7 .4 1.4 .4-.8 .4 .3 .4-1.3 .5-.7 .4 0 .4 3 .4-1.3 .4 1.5 .4-1.6 .5 1.1 .4 1.2 .4-.6 .4 0 .4-2 .4 1.4 .5-.6 .4-.7 .4 0 .4 1.1 .4-.1 .4 0 .5-2.6 .4 1.4 .4 1.6 .4-1.2 .4-.4 .4-.4 .5 0 .4 1.2 .4 .8 .4-.1 .4-2 .4 1.2 .5-.5 .4 2 .4-.3 .4-2 .4 2.5 .4-.5 .5-.3 .4-.8 .4-1.1 .4 .9 .4 .2 .4 .1 .5 .7 .4 0 .4-2.3 .4 2.5 .4-1.8 .4 1.5 .5 .1 .4 .2 .4-1.1 .4 .1 .4-.7 .4 2.8 .5-2.9 .4 2.5 .4-1.1 .4-1.2 .4-.3 .4-1.8 .5 1.6 .4-.3 .4-.4 .4 .8 .4 .9 .4-.6 .5 1.2 .4-1.2 .4 2.4 .4-1.8 .4 .8 .4-1.3 .5 2.3 .4-.3 .4-.4 .4-2.8 .4 .6 .4 1.7 .5-1.2 .4-.2 .4 0 .4 0 .4 1.3 .4 .1 .5-3.5 .4 2.9 .4-.6 .4-.5 .4-.1 .4-.9 .5 .8 .4-1.2 .4 1.4 .4-.4 .4 3.2 .4-1.4 .5 0 .4-.2 .4 0 .4 .1 .4-1 .4 .8 .5-.3 .4 1.4 .4-2.1 .4 .6 .4 .7 .4 .6 .5-1.2 .4-1 .4 1.4 .4 1.9 .4-1.2 .4-1 .5-1 .4 2.4 .4-2.3 .4 1.7 .4-1.6 .4-.4 .5 1.4 .4-1.2 .4-.5 .4 2.5 .4 .1 .4-.9 .5-1.3 .4-.8 .4 2.2 .4-.1 .4-1.5 .4-.4 .5 2.1 .4-1.6 .4-.1 .4-.2 .4 .1 .5-1.2 .4 2.1 .4 .5 .4-1.4 .4 1.8 .4-.9 .5 1.3 .4 .2 .4 .1 .4-1.5 .4-.1 .4 0 .5 1.7 .4 .2 .4-1.1 .4 .6 .4 .7 .4-.2 .5-.9 .4-.5 .4 .9 .4-.8 .4-.5 .4 .4 .5 1.8 .4-1.2 .4-.7 .4 .8 .4-1.2 .4 .8 .5-1 .4-.2 .4 1.9 .4 0 .4-1.3 .4 .9 .5-.1 .4 1 .4-2 .4-.4 .4 1.7 .4-2.6 .5 2.6 .4-.6 .4 .4 .4-.3 .4-.7 .4 .1 .5-.6 .4-1.4 .4 1.6 .4-.1 .4 1.4 .4 .3 .5-2.3 .4 .7 .4 1.2 .4-1.9 .4 .9 .4-1.2 .5 3.4 .4-1.6 .4-1.4 .4 3 .4 .3 .4-1.4 .5-1.5 .4 3.9 .4-.3 .4 .2 .4 1.3 .4-2.6 .5-.6 .4 .9 .4 .5 .3 2.5 .1-4.6 .4 3.4 .4-1.8 .5 0 .4-2.5 .4-1.3 .4-.8 .4 0 .4 2.1 .5-.7 .4-2.4 .4 2.9 .4-1 .4 1.9 .4 .3 .5-2.1 .4 2.4 .4-2.6 .4 4.1 .4-4.3 .4 2.6 .5-1.3 .4-1.3 .4 1.3 .4 1.4 .4-2.3 .4 2.2 .5-2.7 .4-1 .4 3.1 .4 2.3 .4-3.2 .4 .3 .5-1.9 .4 2.7 .4-2.3 .4-1.7 .4 3.5 .4-2.2 .5 2.9 .4 .3 .4-1.4 .4 .8 .4-1 .4-.4 .5 1.3 .4 1.9 .4 0 .4-3 .4-2.3 .4 5.1 .5-1.8 .4-1.8 .4 4.9 .4 1.6 .4-5 .4 4.7 .3-11.3 .2 11.3 .4-2.1 .4-2.1 .4 3.2 .4-.5 .4-4.9 .5 2.5 .4-.4 .4 .4 .4 2.4 .4-1.2 .4 .2 .5-.2 .4-.3 .4-.2 0-7.1 .3 12 .1-6.7 .4-3.6 .4 5 .5-1.1 .4-1.2 .4 3.8 .4 .1 .4-5.1 .4 3.3 .5 .3 .4-.1 .4-.9" stroke="#000" stroke-width="1.4" fill="none" stroke-linejoin="round"/>
<path d="M307.5 599.5H348" stroke="#000" stroke-width="2" fill="none"/>
<path d="M347 590V600.5" stroke="#000" stroke-width="2" fill="none"/>
<text x="349.4" y="599.1" font-size="11.3" textLength="37.2" lengthAdjust="spacingAndGlyphs">200 uV</text>
<text x="318.9" y="610.2" font-size="11.3" textLength="15.7" lengthAdjust="spacingAndGlyphs">2 s</text>
<text x="408" y="314.8" font-size="16" font-weight="bold" textLength="18" lengthAdjust="spacingAndGlyphs">C)</text>
<g filter="url(#s8)"><rect x="447" y="316" width="319" height="94" fill="url(#v8)"/><rect x="447" y="316" width="319" height="94" fill="url(#h8)" style="mix-blend-mode:screen"/><g style="mix-blend-mode:screen" filter="url(#b8)"><rect x="447" y="366" width="93" height="46" fill="rgb(0,0,10)"/><rect x="447" y="380" width="93" height="32" fill="rgb(0,0,15)"/><rect x="447" y="394" width="93" height="18" fill="rgb(0,0,25)"/><rect x="541" y="388" width="225" height="24" fill="rgb(0,0,6)"/><rect x="640" y="398" width="126" height="14" fill="rgb(0,0,8)"/></g></g>
<rect x="447" y="355.6" width="319" height="1.8" fill="#e2ee90"/>
<rect x="543" y="383" width="223" height="1.3" fill="#50cc6c" opacity="0.9"/>
<rect x="447" y="382.8" width="93" height="1.2" fill="#70d070" opacity="0.5"/>
<path d="M446.5 316V410M442.5 410H446.5M442.5 342.9H446.5M444.3 396.6H446.5M444.3 383.1H446.5M444.3 369.7H446.5M444.3 356.3H446.5M444.3 329.4H446.5M444.3 316H446.5" stroke="#000" stroke-width="1.2" fill="none"/>
<text transform="translate(436.3 342.9) rotate(-90)" y="3.8" font-size="10.5" text-anchor="middle">50</text>
<text transform="translate(436.3 410.3) rotate(-90)" y="3.8" font-size="10.5" text-anchor="middle">0</text>
<text transform="translate(423.5 371) rotate(-90)" y="3.8" font-size="10.5" text-anchor="middle">Hz</text>
<rect x="660" y="305.5" width="100" height="5" fill="url(#cb)"/>
<path d="M660.8 305.5v-4.5M690.5 305.5v-4.5M720 305.5v-4.5M750 305.5v-4.5" stroke="#000" stroke-width="1.3" fill="none"/>
<text x="660.8" y="295.5" font-size="11.5" text-anchor="middle">0</text>
<text x="690.5" y="295.5" font-size="11.5" text-anchor="middle">20</text>
<text x="720" y="295.5" font-size="11.5" text-anchor="middle">40</text>
<text x="730.4" y="295.5" font-size="11.5" textLength="13.2" lengthAdjust="spacingAndGlyphs">60</text>
<text x="745.4" y="295.5" font-size="11.5" textLength="17.7" lengthAdjust="spacingAndGlyphs">x10</text>
<text x="763" y="289" font-size="8" textLength="5.2" lengthAdjust="spacingAndGlyphs">3</text>
<text x="598.1" y="310.8" font-size="11.3" textLength="57" lengthAdjust="spacingAndGlyphs">Power (dB)</text>
<path d="M446 452.4l.2 1.6 .2 23.4 .2-25 .2 27 .2-52.9 .2 62-.2-32.7 .2 23.7 .2-23.3 .2 22.6 .2-27.2 .2 2.9 .2 2.3 .2 23.1 .2-23.4 .2 20 .2-23.7 .1-26.3 .2 62-.1-10.5 .2-22.3 .2 25.8 .2-26.6 .2 26.3 .2-3.4 .2 2.2 .2-1.6 .2-27.3 .2 30.4 .2-24 .2 20.9 .2-26.3 .2 27.6 .2-26.7 .2 26.4 .2-2.5 .2-25.7 .2 28.3 .2-25.7 .2 27.7 .2 .1 .2-25.1 .2 24.5 .2-29 .2 28.4 .2-25.9 .2 24.2 .2-25.2 .2 25.1 .2-22.4 .2 24.9 .2-25.8 .2 24.3 .2-3.1 .2-23 .2 26 .2-22.3 .2 23.9 .2-25.9 .2 22.6 .2-23.5 .2 23.1 .2-24.3 .2 27.9 .2-28.8 .2 24.6 .2-22.7 .2 23.5 .1-29.1 .1 6.8 .2 20.1 .2-23.6 .2 3.2 .2 20.7 .2-20.9 .2 23.8 .2-26.3 .2 23.5 .2-21.3 .2-.4 .2 27.6 .2-26.9 .2 25.2 .2-22.9 .2 21.8 .2-24.1 .2 24.2 .2-21.3 .1-19.2 .1 39 .2-23.5 .2 26.9 .2-28.8 .2 1 .2 23 .2 4.8 .2-24.3 .2 .5 .2 22 .2-25.4 .2 28.3 .2-28.9 .2 24.5 .2-22.5 .2 23.7 .2-26.2 .2-1 .2 .6 .2 23.5 .2-23.7 .2 26 .2-20.7 .2 19.4 .2-24.9 .2-.6 .2 4.4 .2-.6 .2 27 .2-3.8 .2-20.5 .2-5.4 .2 29.7 .2-30.1 .2 26.6 .2-22.7 .4 34.7-.2-10.6 .2-.7 .2-27.2 .2 28.5 .2-28 .2 26.1 .2-26.8 .2 26.7 .2 2.6 .2-29.4 .2 3 .2 20.6 .2-18.7 .2 22.6 .2-28 .2 24.1 0-48.8 .3 62-.1-31.2 .2 22.9 .2-23.6 .2 21.7 .2-26.7 .2 26.6 .2-26.4 .1-3.3 .1 32.2 .2-28 .2 23.2 .2 4.4 .2-27.6 .2-.2 .2 27.8 .2-24.1 .2 22.7 .2-23.8 .2 21.9 .2-24.3 .2 28.9 .2-28 .2 .1 0-9.2 .3 41-.1-8.4 .2-24.7 .2 23.7 .2-24.8 .2 29.3 .2-27.6 .2 4.9 .2-6.5 .2 26.4 .2-22.9 .2 26.9 0-51.3 .3 55-.1-10.4 .4 13.4-.2-36.3 .2 26 .2-24.1 .2 24.3 .2-23.7 .2 21.3 .2 4.4 .2-25.4 .2 24.7 .1-53.2 .1 31.3 .2 21.3 .2-22.8 .2 25 .2-29.2 .2 28.7 .2-26.1 .2 22.3 .2 3.3 .2-23.9 .2 21.2 .2-21.6 0-13.5 .3 41-.1-3.4 .2 1.6 .2-25.5 .2 21.4 .2-20.5 .2 24.4 .2-29.4 .2 24.7 .2-22.2 .2 21.4 .2-21.1 .2 24.9 .2 2 .2-4.7 0-34.6 .3 43-.1-9.2 .2-21.5 .2-3.8 .2 26.6 .2-2.1 .2-23.6 .2 27.9 .2-2.6 .2-25.2 .2 24.2 .2-19.9 .2-2.3 .2 22.9 .2-23.2 .2 22.4 .2-24.8 .2 29.6 .2-28.8 .2 29.4 .2-27.6 .2 23.8 .2-25.1 .2 27.7 .2-4.3 .2 2 .2-26.3 .2 25.6 .2-25.7 .2 28.9 .2-28.6 .2 23.9 .2-21.8 .2 27.8 .2-29.6 .2 23.9 .2-.3 .2 6.1 .2-28.3 .2 28.2 .2-30.8 .2 27.9 .2-26.8 .2 28.3 .2-22.9 .2 22.8 .2-24.9 .2 22.1 .2 .1 .2-51.1 0 28.6 .2 22.1 .2-20.7 .2 23.6 .2-.4 .2-22 .2 24.2 .2-3.2 .2-26.1 .2 23.7 .2-18.5 .2 18.3 .2-22.5 .2 27.3 .2-5 .2-20.6 .2 24.6 .2-22.4 .2 18.8 .2-19.7 .2-1.3 .2 25 .2-26.2 .2 24.1 .1-33.7 .1 7.3 .2 26.6 .2-25.3 .2 24 .2-25.4 .2 30.2 .2-28 .2 3.7 .2 22.8 .2-25.8 .2 23.8 .2-21.7 .2 25.2 .2-26 .2-.3 .2 21.4 .2-24.3 .2 27.8 .1-64 .2 67-.1-6 .2-24.3 .2 24.2 .2-26.2 .2 28.2 .2-22.9 .2 19.7 .2-22.9 .2 22.6 .2-24.5 .2 24.7 .2-24.3 .2 30 .2-25.4 .2 21.8 .2-21.9 0-33.8 .2 58.7 .2-25.9 .2 26.6 .2-28.9 .2 24.9 .2-22.3 .2 24.2 .2-24.1 .2 24.4 .2-23.5 .2 18.8 .2-18.5 .2-3.5 .2 21.7 .2-22 .2 28.3 .2-28.5 .2 22.9 .2 5.2 .2-.8 .2-26.5 .2 22.5 .2-.6 .2-18.1 .2-6 .2 29 .2-26.3 .2 21 .2-22.2 .2 26.3 .2-1.9 .2-22.7 .2 2.6 .2 18.6 .2-23.8 .2 26.8 .2 1.1 .2-23.9 .1-13.6 .1 33.7 .2-19 .2 18 .2-23.5 .2 1.8 .2 .2 .2 25.7 .2-27.7 .2 28.1 .2-27.4 .2 28 .1-41.9 .2 47-.1-31.4 .2-.7 .2 26.6 .2-25 .2 25.7 .2-25.1 .2 26.3 .2-30.1 .2 .4 .2 28.2 .2-27.7 .2 29.1 0-39.3 .3 46-.1-36.2 .2 29.6 .2-29 .2 28.5 .2-29.8 .2 28.1 .2-24.2 .2 25.8 .2-29 .2 29.6 .2-23.9 .2 17.4 .2 5.1 .2-22.6 .2 22.4 .2-4 .2-23.9 .2 27.8 .2-27.1 .2 22.3 .2-22.5 .2 25.4 .2-26.3 .2 26.3 .2-2.3 .2-20.1 .2 19.2 .2-21.4 .2 26.5 .2-27.9 .2-3.8 .2 37-.2-6.1 .2-27.4 .2 26.9 .2-22.9 .2 19.3 .2-19.3 .2 20.5 .2 5.1 .2-.7 .2-26.2 .2 23.7 .2-26 .2 22.6 .2-20.7 .2 27.4 .2-29.1 .2 26.4 .2-24.6 .2-3 .2 25.1 .2-23.1 .2 28.3 .2-29.2 .2 26 .2-23.7 .2 .1 .2-3.4 .2 25.6 .4 18.4-.2-44.1 .2 3.8 .2 25.6 .2-27.4 .2 21.7 .2-21.3 .2 3.7 .1-13 .2 41-.1-7.4 .2-24.5 .2 21.8 .2-24 .2 .3 .2 6.1 .2-2.8 .2 24.4 .2 1.1 .2-23 .2 17.7 .2-22.9 .2 27 .2-27.7 .2 23.7 .2-21.3 .2 26.3 .2-27 .2 26 .2-27.9 .2 27 .2-22.6 .2 23.1 .2-22.9 .2 25 .2-23.3 .2 20.8 .2-23.4 .2 22.1 .2-1.5 .1-59.2 .1 59.1 .2-22 .2 27.5 .2-3.8 .2-19.8 .2 20.6 .2-22.3 .2-.6 .2 3.3 .2 18.4 .2-20.7 .2 18.2 .2-14.8 .2 14.1 .2-16.2 .2 14.3 .2-10.7 .2 10.5 .2-13.3 .2 16.2 .2-1.9 .2-14.7 .2 2.4 .2 12.8 .2-13 .2 11.8 .2-11.1 .2 14.4 .2-21.9 .2 24.2-.2-17.3 .2 .8 .2 14.5 .2-14.5 .2 10.5 .2-10.5 .2-1.9 .2 12.4 .2-13.3 .2 17.2 .2-1.2 .2-13.9 .2 15.1 .2-.3 .2-16.6 .2 1.3 .2-.6 .2-.6 .2 14.8 .2-13.3 .2-1.8 .2 16.1 .2-13.3 .2 12.2 .2-15.2 .2 14.2 .2-13.6 .2 16.2 .2-13.9 .2 12.5 .2-15.9 .2 14 .2-11.8 .2 .9 .2 12.3 .2 1.8 .2-15.1 .2-2 .2 14.2 .2-11 .2 13.7 .2-13.3 .2 11.6 .2-14.7 .2 16.7 .2-14.8 .2 13.7 .2-.5 .2-13.5 .2 13 .2-14.8 .2 16.6 .2-14.6 .2 14.5 .2-13.5 .2 11.4 .2-10.8 .2 11.6 .2 2.1 .2-15.6 .2 14.6 .2-14 .2 13.5 .2-12.9 .2 13.7 .2-13.2 .2 10.8 .2-13.8 .2-.4 .2 15.8 .2-1.2 .2-13 .2 13.7 .2-15.1 .2 14.6 .2-13.7 .2 16.1 .2-15.6 .2-.8 .2 16.5 .2-13.9 .2 13.8 .2-17.5 .2 14.2 .2-12.2 .2 13.7 .2-12.9 .2 13.2 .2-14 .2 12 .2-12.7 .2 12.8 .2-14 .2 16.9 .2-13.8 .2-3 .2 16.2 .2-12.5 .2-2.2 .2 12.8 .2-13.9 .2 16.4 .2-15.9 .2 16.1 .2-15.7 .2 14.1 .2-12.1 .2 10.8 .2-12.9 .2 14.6 .2-13.9 .2 13.7 .2-14.9 .2 16.5 .2-16.6 .2 15.7 .2-.1 .2-14.1 .2 13.3 .2-12.9 .2-1.7 .2 14.2 .2-15 .2 17.3 .2-15.6 .2 14.5 .2-15.3 .2 15.8 .2-14 .2 11.1 .2 .2 .2-10.9 .2 11.5 .2-14.5 .2 14 .2-11.6 .2 13.2 .2-1.8 .2-10.8 .2 11.2 .2-13.9 .2 .7 .2 12.5 .2-10.2 .2 10.3 .2-20.5 0 22.8 .2-16 .2 13.5 .2-11.8 .2 15.3 .2-14.2 .2 11.5 .2-11.9 .2 14.1 .2-15.7 .2 16.4 .2-16.1 .2-.3 .2 15.1 .2-12.5 .2 13.7 .2-13.6 .2 12.6 .2 .4 .2-15.6 .2 13.5 .2-11.6 .2 12.9 .2-13.4 .2 13.4 .2-12 .2 12.3 .2-1.2 .2 .8 .2-12 .2 12.6 .2-14.6 .2 13.7 .2-11.5 .2-1.1 .2 13.7 .2-.3 .2-13.9 .2 12.3 .2-.6 .2-13.5 .2 2.8 .2 .6 .2 11.2 .2-11.4 .2 13.3 .1-22.2 .2 24.9-.1-17.2 .2 11.3 .2-10 .2-1.9 .2 12.3 .2-13.4 .2 14.8 .2-12.8 .2 10.9 .2-11.9 .2 14.4 .2-.2 .2-15.1 .2 15.9 .2-.1 .2-13.1 .1-6.4 .2 26.5-.1-8.2 .2-11.6 .2-3.4 .2 15.3 .2-12 .2 10.6 .2-10.4 .2 13.2 .2-2 .2-14.9 .2 16.3 .2-15.4 .2 13.4 .2-12.7 .2 13.1 .2-13.3 .2 11.8 .2-13.4 .2 15 .2-13 .2 13 .2-11.3 .2 13.4 .2-2.3 .2-11.2 .2 10.8 .2-13.4 .2 12.9 .2-12.5 .2 14.9 .2-12.6 .2 9.9 .2-10.8 .2 13.5 .2-13.3 .2 13 .2-13.6 .2 12 .2-11.3 .2 13.5 .2-15.6 .2 15.8 .2-15.4 .2 15.1 .2-14.8 .2 12 .2-.3 .2-10.7 .2 13.4 .2-15.8 .2 15.1 .2-13.6 .2 13.9 .2 .8 .2-15.3 .2 12.3 .2-11.5 .2 13.9 .2 .3 .2-13.5 .2 12.5 .2-15 .2 13.3 .2-13.3 .2 14 .2 2.4 .2-13.1 .2-3.3 .2 16.1 .2-13.5 .2 12.5 .2-14.1 .2 15.5 .2-15.8 .2-.2 .2 14 .2-11.2 .2 9.8 .2-11.3 .2-.1 .2 12.4 .2-10.4 .2 12.7 0-21.2 .2 8 .2 12.2 .2-12.6 .2 10.9 .2-12.6 .2 13.9 .2-11.6 .2 12.7 .2-15.1 .2 12.2 .2-10.5 .2 12.2 .2-12.5 .2 12.4 .2 1.9 .2-16.8 .2 13.8 .2-12.2 .2 15.4 .2-13.3 .2 10.1 .2-13.6 .2-.1 .2 2.6 .2 12.8 .2-13 .2 10.8 .2 2.7 .2-13.1 .2 12.9 .2-1.7 .2-14 .2 13.3 .2 .8 .2-11.3 .2-2.2 .2 14.2 .2-14 .2 14.2 .2-14.6 .2 13.4 .2-13.4 .2 16 .2-14.2 .2 11.3 .2-12.6 .2 14 .2-13.3 .2 15.3 .2-15.4 .2 11.9 .2-11.3 .2 13.4 .2-15 .2 15.1 .2-14.4 .2 14.8 .2-13.2 .2 12.2 .2-1.5 .2-13.3 .2 14.8 .2-14.1 .2 13.4 .2-12.2 .2 14.3 0-18.1 .3 21.1-.1-18 .2-.8 .2 14.5 .2 .2 .2-13.4 .2 14.9 .2-13.8 .2 10.6 .2-11.1 .2 11.4 .2-11.7 .2 13.9 .2-13.6 .2 13.8 .2-15.7 .2 13.1 .2-12.7 .2-.7 .2 16 .2-15.6 .2 13.9 .2-14.6 .2 16.4 .2-2.9 .2-13.2 .2 13.8 .2-11.4 .2 12.1 .2 2 .2-2.8 .2-13.3 .2-.6 .2 14.1 .2-12.4 .2 12 .2-11 .2 14 .2-15.1 .2 14 .2 1.1 .2-16.7 .2 14.7 .2-11.8 .2 12.3 .1-18.7 .1 17.5 .2-12.3 .2 14.9 .2-16.3 .2 14 .2-11.7 .2-1.4 .2 12.7 .2-11.6 .2 .5 .2 10.7 .2-11.3 .2 12 .2 .8 .2-12.3 .2-2 .2 14.2 .2-11.6 .2 13.2 .2-14 .2 11.5 .2-13.6 .2 16.7 .2-15.4 .2 1.2 .2-2.1 .2 12.7 .2 3 .2-15.5 .2 12.6 .2-12.7 .2 15.8 .2-13.3 .2 11.8 .2-14.4 0-2.8 .2 17.8 .2-14.4 .2 13.4 .2-12.1 .2 12.2 .2-14.4 .2 15.7 .2-14.1 .2 11.9 .2-12.1 .2 12.2 .2-10.7 .2 11.1 .2-12.9 .2 12.5 .2-10.8 .2-.3 .2 10.3 .2-11.7 .2-.5 .2 16 .2-15 .2 13.1 .2-1.8 .2-11.8 .2 15.6 .2-3.9 .2-10.5 .2 11.5 .2-14 .2 16.5 .2-14.8 .2 14.9 .2-15.2 .2-.1 .2 12.6 .2-12.6 .2 13 .2-14 .2 .4 .2 12.8 .2-10.7 .2 10.6 .2-13.9 .2 2.1 .2 12.5 .2 2.1 .2-16.1 .2 14.6 .2-13.9 .2 14.3 .2-15.8 .2 16.8 .2-14.5 .2 12 .2-12.7 .2 12.6 .2-11.3 .2 14.7 .2-15.9 .2 14 .2-13.7 .2-1.4 .2 13.6 .2-11.9 .2 15.2 .2 0 .2-16.8 .2 16.7 0-21.5 .3 25.8-.1-18.8 .2 12 .2-11.4 .2 13.6 .2-16.7 .2 16.4 .2-14.5 .2-1.9 .2 13.8 .2-12.9 .2 12.7 .2-13.6 .2 .2 .2 14.9 .2-15 .2 15.3 .2-12.9 .2 13.3 .2-14.1 .2 13.6 .2-15.4 .2 15.1 .1-20 .2 28.3-.1-20.8 .2 10.9 .2-13.9 .2 15.8 .2-13.6 .2 12.3 .2-11.2 .2 10.7 .2-12.5 .2 15.3 .2-16.4 .2 14.3 .2-11.2 .2 14.2 .2-14 .2 11.7 .2-12.4 .2 10.8 .2-12.5 .2 15.2 .2-15.8 .2 13.5 .2-13.6 .2 15.7 .2-13.6 .2 12.6 .2-15.4 .2 17.1 .2-16.1 .2 14.8 .2-15.2 .2 15.1 .2-14.7 .2 14.9 .2-15.4 .2 14.4 .2-13.2 .2-.7 .2 15.1 .2-15.3 .2 15.3 .2-12.6 .2 11.8 .2-14.6 .2 14.3 .2-11.3 .2-1.4 .2-2.3 .2 14.9 .2-11.2 .2 11.6 .2-15 .2 17.3 .2-15.1 .2 13.5 .2-14.4 .2-1.2 .2 2.8 .2-1 .2 15.2 .2-14.7 .2 14.8 .2-15.6 .2 12.8 .2-15.1 .2 17.9 .2-15.1 .2-2.6 .2 16.1 .2-1.4 .2-11.1 .2-.1 .2-1.4 .2 13.2 .2-13.4 .2 13 .2-14.2 .2-.6 .2 15.7 .2-15.8 .2 17.8 .2-17.4 .2 15.8 .2-13.3 .2 14.5 .2-14.4 .2 12.5 .2-15.1 .2 17.5 .2-17.2 .2 16.7 .2-2.3 .2 0 .2-14.5 .2 15.9 .2-13.1 .2-2.8 .2 16 .2-14.4 .2-.2 .2 15.7 .2-16.9 .2 13.7 .2-12.2 .2 12.1 .2-14.2 .2 14.4 .2-12.7 .2 14.5 .2-15.2 .2 .9 .2 12.7 .2-14.4 .2 16.8 .2-17.7 .2 15.5 .2-15 .1-4.1 .1 20 .2-13.2 .2 15.5 .2-18.1 .2 16.5 .2-16.7 .2 2.5 .2 14.8 .2-15.2 .2 12.7 .2-12.3 .2 13.2 .2-14.5 .2-1.4 .2 17 .2-13.5 .2 12.5 .2-14.9 .2 13.7 .2-12.2 .2 14.2 .2-16.1 .2 18.2 .2-1.1 .2-16.4 .2 16.2 .2-17.9 .2 18.2 .2-18.1 .2 17.9 .2-16 .2 14.5 .2-15 .2 17.8 .2-15.1 .2 11.2 .2-11.4 .2 14.6 .2-17.1 .2 14.8 .2-14.8 .2 17 .2-17.6 .2 18.7 .2-18.6 .2 14.5 .2-14.8 .2 1.7 .2 15.1 .2-15.7 .2 14.3 .2-14.7 .2 .4 .2-.5 .2 16.6 .2-18.1 .2 15.7 .2 3.5 .2-19 .2 15.9 .2-15.9 .2 15.7 .2-12.9 .2 12.7 .2-14.7 .2 15.5 .2-19.6 .2 28-.2-23 .2 14.5 .2-14.6 .2 16.8 .2-15 .2 15.7 .2-16.7 .2 15.3 .2-18.1 .2 18.2 .2-14.7 .2 16.4 .2-18.1 .2 17.2 .2-18.6 .2 16.4 .2-14.2 .2 13.4 .2-12.4 .2 13.4 .2-14.9 .2 14.8 .2-13.5 .2 13 .2-17.5 .2 22.2-.2-20.4 .2 18.2 .2-19 .2 16.4 .2-13.2 .2 16.1 .2-15.9 .2 16.3 .2-15.2 .2 13.1 .2-13.2 .2-4.5 .2 18.2 .2-15.7 .2 17 .2-14.9 .2 15 .2-15.7 .2-3.2 .2 19.8 .2-17.9 .2 1.9 .2 15.9 .2-18.7 .2 14.9 .2-12.2 .2-3.6 .2 18.3 .2-14.6 .2 14.7 .2 .5 .1-24.5 .1 4.7 .2 20.2 .2-18.4 .2 2.4 .2 .4 .2 15.9 .2-19.8 .2 19.3 .2-17.1 .2 15.4 .2-15 .2 .1 .2 16.5 .2-16.5 .2-1 .2 15.2 .2 2.5 .2-15.8 .2 12.9 .2-13.5 .2 13.9 .2-15.6 .2 18.4 .2-18.2 .2 .9 .2 17.1 .2-3.8 .2-16.6 .2 19.7 .2-16.8 .2 17.5 .2-17.1 .2 13.7 .2-13.5 .2 14.7 .2-15.3 .2 16.7 .2-19.2 .2 20.3 .2-19.5 .2 17.1 .2 2.1 .2-1.6 .2-15.9 .2 15.2 .2 .1 .1-26 .2 31.4-.1-22.1 .2 .7 .2 18.1 .2-15.9 .2 16.5 .2-20.8 .2 20.7 .2-18.7 .2 17.5 .2-15.3 .2 12.9 .2-15.5 .2 16.6 .2-17.6 .2 18.8 .2-18.2 .2 16.3 .2-12.9 .2 13.4 .2-15.2 .2 16.4 .2-14.7 .2 15.4 .2-16.9 .2 13.7 .2-15.7 .2 16.6 .2-15.2 .2 17.6 .2-18.9 .2 18.9 .2-2 .2-16 .2 16.8 .2-16.4 .2 17.5 .2-17.6 .2 16.6 .2-17.6 .2 15.4 .2-15.7 .2-4.5 .2 29-.2-8.7 .2-15.8 .2 17.3 .2-16.6 .2-.2 .2 2.4 .2 15.6 .2-19.3 .2 18.6 .2-1.9 .2-13.3 .2 14.5 .2-17.5 .2 .4 .2 19.7 .2-19.5 .2 19.6 .2-2.5 .2-17 .2-1.5 .2 19.9 .2-18.5 .2 18.3 .2-19.5 .2 17.1 .2-17 .2 18.8 .2-16.3 .2-1.5 .2 18.3 .2-17.2 .2 18.1 .1-27.3 .2 32.5-.1-22.5 .2 17.3 .2-16.1 .2 15.4 .2-15.5 .2 15.1 .2-17 .2 19.3 .2-18.3 .2 17.8 .2-16.6 .2 14.6 .2-16.3 .2 16 .2-14.7 .2 17.3 .2-21.2 .2 19 .2-14.9 .2 14.4 .2-15.2 .2 15.5 .2-1.2 .2-17.6 .2 20.3 .2-17.2 .2 15.3 .2-16.8 .2 17.6 .2-2.5 .2-13 .2 13.4 .2-14.2 .2 18 .2-18.3 .2 18 .2-20.2 .2 17.3 .2-14.1 .2 14.3 .2-15.2 .2 15.1 .2-14.4 .2 13.7 .2-16.2 .2 19 .2-18.2 .2 15.7 .2-13.6 .2 14.3 .2-15.5 .2 14.4 .2-21.6 .2 26-.2-21.3 .2 20.1 .2-20.2 .2 2 .2 18.3 .2-18.7 .2 18.9 .2-19.3 .2 18.2 .2-.2 .2-17.2 .2-.2 .2 15.8 .2-15.3 .2 16.9 .2-16.7 .2-2.3 .2 16.4 .2 2 .2 2.3 .2-.8 .2-19.7 .2 18.7 .2-17.1 .2 16.2 .2-16.4 .2 18 .2-2.3 .2-17.7 .2 25.6-.2-23 .2 16.4 .2-19.1 .2 17.7 .2-15.1 .2 1.8 .2 14.4 .2-15.8 .2-2.5 .2 20.6 .2-16.7 .2 15.6 .2 1.2 .2-19.5 .2 17.2 .2-25.3 .2 28.1-.2-19 .2 19.3 .2-20.4 .2-1.4 .2 20.2 .2-16.9 .2 18.6 .2-1.6 .2-18.5 .2 1.4 .2 14.5 .2-14.1 .2 15 .2-16.4 .2-3.1 .2 22.5 .2-22 .2 20.3 .2-16.1 .2 17.3 .2 .1 .2-19.6 .2 19.8 .2-20.5 .2 18.8 .2-19.5 .2 19.1 .2-19.4 .2 17 .2-17.2 0-4.8 .2 27.1 .2-19 .2 14.8 .2 .8 .2-17.8 .2 18.4 .2-18.4 .2 20.4 .2-17.2 .2-4.8 .2 21.8 .2-19.3 .2 17.8 .2-17.5 .2 17.6 .2-18.2 .2 16 .2 3.2 .2-19.1 .2 19.3 .2-16.8 .2 14.2 .2 1.8 .1-27.2 .2 32.7-.1-23.9 .2 19.5 .2-.8 .2-17 .2 18.4 .2-18.6 .2 17.9 .2-21.5 .2 19.3 .2-19.1 .2 22.3 .2-22.9 .2 18.4 .2-13.6 .2-3.4 .2 16.7 .2 2.1 .2-16.4 .2 14.2 .2-14.1 .2 16.3 .2-19.6 .1-1.4 .3 23.2-.2-.7 .2-19.1 .2 20.6 .2-19.9 .2 15.2 .2-15 .2 14.4 .2-17.3 .2 2.4 .2 16.2 .2-19 .2 22.5 .2-21.3 .2 19.1 .2-20.1 .2 19.5 .2-20.2 .2 21.8 .2-20.7 .2 18 .2-18.2 .2 4.2 .2 14.7 .2-18.1 .2 .3 .2 20.7 .2-21.2 .2 19.5 .2-1.2 .1-21.4 .2 28.3-.1-25.3 .2 20.6 .2-21.7 .2 20 .2-19.2 .2 19.9 .2 2.3 .2-22.5 .2 20.2 .2-19.8 .2 22 .2-20.1 .2 19.3 .2-20.7 .2 18.3 .2-19.4 .2 3.6 .2 17.4 .2-17.4 .2 18.9 .2-.5 .2-22.7 .2 2.1 .2 17.8" stroke="#000" stroke-width="1" fill="none" stroke-linejoin="round"/>
<path d="M697 438H736.5" stroke="#000" stroke-width="2" fill="none"/>
<path d="M736 423.5V439" stroke="#000" stroke-width="2" fill="none"/>
<text x="738.4" y="435.2" font-size="11.3" textLength="36.2" lengthAdjust="spacingAndGlyphs">250 uV</text>
<text x="701.9" y="449.5" font-size="11.3" textLength="28.7" lengthAdjust="spacingAndGlyphs">120 s</text>
<path d="M447 514.5V567.5M442.5 522.5H447M442.5 537.5H447M442.5 552.5H447M442.5 567H447" stroke="#000" stroke-width="1.3" fill="none"/>
<text x="402.5" y="526.6" font-size="11">15</text>
<text x="415.9" y="526.6" font-size="11" textLength="18.7" lengthAdjust="spacingAndGlyphs">x10</text>
<text x="434.8" y="519.5" font-size="7.5">3</text>
<text x="440.5" y="541.6" font-size="11" text-anchor="end">10</text>
<text x="440.5" y="556.6" font-size="11" text-anchor="end">5</text>
<text x="440.5" y="571.2" font-size="11" text-anchor="end">0</text>
<text transform="translate(415.5 573) rotate(-90)" y="4.1" font-size="11.3" text-anchor="middle" textLength="56" lengthAdjust="spacingAndGlyphs">Power (dB)</text>
<path d="M448 544l.7 2.8 .6 .5 .7 3.4 .7-.8 .6-1.4 .7-.2 .8-.9 .7 .5 .7-1 .8-.2 .7-.8 .6-1.6 .7-3 .7 3 .6 4.1 .7 2.1 .7-.8 .6-2.8 .7-1.6 .7 0 .6 .2 .7-.3 .8-1.9 .7-.4 .7-1.9 .8-1.5 .8 .1 .7-1.3 .8 5 .9 5.2 .8 5.2 .8-1.8 .7-.1 .7-1.3 .8-1.9 .8 .2 .7-1.8 .7-.7 .8-1.1 .8 1.1 .9-1.7 .8-.1 .8 2 .9 2.3 .8 2 .8 1.3 .9 .8 .8 2.5 .9-.2 .8-1.4 .9-.8 .9 .8 .8-1.3 .7-.2 .7-.8 .8 0 .8-1.6 .7-.2 .7-.9 .8-.8 .8 .5 .7-1.5 .7 .4 .8 .5 .8-.3 .7 .9 .7 .7 .8-.6 .8 .8 .7-1.5 .7-.7 .8-.3 .8-.8 .7 .9 .7-1.5 .8 .4 .8-1.9 .7-1.2 .7-2.1 .8-.3 .7 .2 .6 1.6 .7 2.5 .7 .6 .6 .2 .7 1.3 .8 0 .7-.4 .7-.4 .8 .8 .8-1.1 .7-.7 .7-.4 .8-2.5 .8 1.3 .7 .1 .7 1.7 .8 .5 .8-1.9 .7-1 .7 .2 .8-.7 .7 .2 .6 3.1 .7 .9 .7-1.9 .6-2.3 .7-2.1 .7 1.6 .6 1.1 .7 1.5 .7-.9 .6-2.2 .7-1.6 .7 1.8 .6 1.7 .7 2.2 .7-1 .6-1.2 .7-3 .7 2 .6 1.6 .7 1.9 .5-8.9 .5-6.2 .5-9 .5-8.4 .5-8 .8-.7 .9 1 .8 .4 .7 7.5 .8 32.1 .7 14.8 .7-.9 .7 1.7 .7 0 .7 .8 .8-1.3 .8 .3 .8 .2 .8-1.4 .8 1.1 .8-.7 .8 1 .8 .9 .8-.4 .8 .3 .8 1.5 .8-.1 .8 .1 .8-.8 .8 1.1 .8-.2 .9-.5 .8 1.2 .8-1 .9 .7 .8-.7 .8-.7 .7 .1 .7-2.4 .8-.5 .8 .2 .7 0 .7 1.7 .8 .5 .8 .5 .8 .6 .8-1.4 .8 1.3 .8-.9 .8 .6 .9-.1 .8 .7 .8 .6 .9-1 .8-.1 .8 .4 .9 .3 .8-.7 .8 .6 .9-.4 .8-.2 .8 .1 .9-1.3 .8 .6 .8-1.2 .9 1.1 .8-.8 .8-.8 .8-1.7 .8 .1 .8-.8 .8-.2 .8 .7 .7-.3 .7 .9 .8 1.5 .8 .3 .7 .4 .7 .2 .8 1.6 .5-.4 .5 .2 .8-.3 .8 .9 .8-.4 .8-.2 .8 .3 .8-.4 .8 0 .8 .8 .8-1 .8-.5 .8 .5 .8-.4 .8 1 .8-.8 .8 .1 .8-.5 .8-.6 .8 1.3 .8-1 .8-.7 .8 1.3 .8 0 .8 1 .8-.5 .8 .6 .8-.1 .8-.6 .8 .4 .8-.3 .8 .4 .8-.7 .8-.5 .8-.2 .8 1.4 .8 .3 .8-.3 .8-.7 .8 1.1 .8 .2 .8 .1 .8 .9 .8-1 .8 1 .8-1.4 .8 .5 .8-.8 .8-.4 .8-.4 .8-.5 .8 .3 .8 0 .8 .3 .8 .5 .8 1 .8-.6 .8-.2 .8-.7 .8 1.2 .8-.9 .8 .2 .8 1.1 .8-1 .8 .2 .8-.3 .8 .3 .8-.4 .8-1 .8 .4 .8-.4 .8 .1 .8-.1 .8 1.2 .8-1.5 .8 .2 .8 1.2 .8 .9 .8-.1 .8 1 .8-1 .8 .3 .8-.5 .8-1 .8-.2 .8 .6 .8 .9 .8-1.7 .8-.1 .8 1.5 .8-1.3 .8-.8 .8 1.1 .8-.4 .8 1.1 .8 .3 .8-1.4 .8 0 .8 .1 .8 .6 .8-.7 .8 .7 .8 .1 .8-.4 .8 0 .8 .4 .9-.2 .8-1.6 .8 1.2 .8-1.1 .8 .5 .8 .3 .8 .6 .8 .1 .8 0 .8-1.4 .8-.2 .8-.8 .8 .5 .8 .2 .8-.2 .8 .7 .8-.6 .8-.6 .8 .7 .8 .9 .8-.6 .8 .5 .8-.1 .8-.1 .8-.8 .8-.4 .8 .2 .8 .4 .8 .7 .8-1.2 .8 .4 .8-.5 .8 1.7 .8 0 .8-.8 .8 1 .8-.9 .8 .3 .8-.2 .8-.4 .8 .3 .8-.6 .8 .6 .8-.3 .8 .1 .8 .8 .8-.1 .8-.1 .8-.8 .8 1.3 .8-.7 .8-.5 .8-.3 .8 .5 .8-.1 .8-.6 .8 .4 .8-.2 .8-1.2 .8-.2 .8-.4 .8 .4 .8 .2 .8 .6 .8 .1 .8-.3 .8 0 .8-1.1 .8-1.6 .8-.9 .8 1.6 .8-.8 .8 .6 .8 .1 .8-.1 .8 .2 .8 .1 .8 .6 .8 .7 .8 0 .8-.5 .8 .9 .8-.7 .8 .9 .8 .2 .8-.5 .8-1 .8 .7 .8 0 .8 .7 .8-.3 .8-1.1 .8 .6 .8-.6 .8-.4 .8-.5 .8 .6 .8-1.6 .8 .4 .8 .8 .8-.3 .8 1.2 .8-.7 .8 .5" stroke="#f00" stroke-width="1.5" fill="none" clip-path="url(#cc1)" stroke-linejoin="round"/>
<text x="446.5" y="595" font-size="13.6" textLength="54.5" lengthAdjust="spacingAndGlyphs">Baseline</text>
<text x="447" y="641" font-size="13.6" textLength="48.5" lengthAdjust="spacingAndGlyphs">Seizure</text>
<text x="447" y="694.5" font-size="13.6" textLength="140" lengthAdjust="spacingAndGlyphs">Post-ictal Suppression</text>
<path d="M447 612.3l.4-3.6 .4-.7 .4-.2 .3-2.5 .4 1.3 .4 6 .4 3 .4-3.4 .4-1.7 .3 7.4 .4-8.1 .4-1.3 .4 5 .4-1.1 .4 2 .4-1.8 .3-3 .4 1.2 .4 .8 .4-2.6 .4 5.8 .4 4.3 .3-5 .4-1.7 .4 2.4 .4-2 .4-3.3 .4-3.4 .4 9.8 .3-1.4 .4 2 .4 .7 .4-8.3 .4 1.3 .4 4.4 .3-1.2 .4-.3 .4 2.9 .4-5.8 .4-.7 .4 .5 .3-3.8 .4 5.1 .4-2.8 .4 .5 .4 2.3 .4-4.5 .4 5.3 .3 .8 .4-7 .4-.3 .4 2.1 .4 .5 .4 .2 .3-2.6 .4 6.6 .4-1.1 .4-1 .4 1.9 .4 4.5 .4 1.3 .3-12 .4 5.3 .4-3.1 .4 10.1 .4-6.3 .4-.3 .3-3.5 .4-8.5 .4 6 .4 5.6 .4 2.2 .4-.1 .4-.9 .3 .8 .4 4.6 .4-2.1 .4-3.4 .4-5.4 .4 3.9 .3-2.9 .4 6.8 .4-3.4 .4 8.5 .4-4.4 .4-9.7 .4 4.3 .3-3.6 .4 7 .4-3.4 .4 1.2 .4-4.9 .4-.5 .3 4.5 .4-.4 .4 .5 .4 9.5 0-10.5 .4 2.2 .4-.5 .4 3.9 .3-3.9 .4-.8 .4 1.9 .4 .6 .4 1.2 .4-7.7 .3 1.2 .4-.2 .4-1.4 .4 6.8 .4-6.1 .4 .3 .4-1.7 .3 2.4 .4 4.4 .4-7.6 .4 .9 .4 6.4 .4-2.3 .3-9.8 .4 3 .4 .9 .4 6.9 .4 7.4 .4-3.7 .3-.1 .4-10.6 .4 2.7 .4 3.2 .4-2.8 .4-2.4 .4 .1 .3-1.6 .4 4.6 .4-6 .4 2.2 .4-.6 .4-.9 .3 8.9 .4-.6 .4 2.7 .4-1 .4 1.9 .4-.9 .4-4 .3-.6 .4-3.5 .4 5.1 .4-6.1 .4 .9 .4 .7 .3 0 .4 5.8 .4-1.2 .4-2.6 .4 .8 .4-3.9 .4 7 .3-3.7 .4 .6 .4-1.7 .4-4.6 .4 1.2 .4-.2 .3 5.1 .4 4.1 .4 3.8 .4-3.9 .4-5.4 .4 3.2 .4 4.6 .3-5.4 .4-2.9 .4 4.3 .4-.4 .4 3.6 .4 2.1 .3-5.6 .4 3.2 .4-4 .4 1.1 .4-5.1 .4-1.9 .4 6.8 .3 .6 .4-.8 .4 2 .4 .2 .4 1.1 .4-3 .3-.6 .4 2.4 .4 0 .4-3.8 .4-2.7 .4 6.2 .4-1.5 .3-5 .4 3.2 .4 3.3 .4-1.8 .4 4.1 .4-7.4 .3 1.4 .4 1.5 .4 .1 .4 5.3 .4-.1 .4-7.8 .4 1.8 .3 4.2 .4-4.6 .4-1.9 .4-.4 .4 5.3 .3-9.6 .1 5.9 .3 5.4 .4 .8 .4-3.2 .4 .5 .4 6.6 .4 2.7 .3-3.5 .4-6.2 .4-7.5 .4 9.5 .4 3.5 .4 1.2 .4-3.9 .3-2.8 .4-3.1 .4 2.9 .4-1.5 .4 5 .4-4.1 .3-.5 .4-.1 .4 2.3 .4 1.1 .4 2.4 .4-6.4 .4-4.8 .3 4.5 .4-.6 .4-6.2 .4 6.5 .4 .3 .4-4.3 .3 7.6 .6 7-.2-10 .4 4 .4 2.5 .4-3.6 .4 3.7 .4-3.9 .3-2.5 .4-2.4 .4 1.1 .4-.6 .4-3.6 .4 2.1 .3 .2 .4 2.8 .4 4.4 .4-5.5 .4-.3 .4 7.3 .4 1.7 .3-2.8 .4-6.2 .4 4.1 .4 .4 .4-.6 .4 2.1 .3-.3 .4-4.9 .4-.7 .4 2.4 .4-6.9 .4 5.4 .4 1.1 .3 3.3 .4-12.2 .4 9.8 .4-5 .4 2 .4 4.3 .3 .4 .4 4.2 .4-.6 .4-5.6 .4 5.3 .4-4.1 .3-2.5 .4-2.2 .4-1.1 .4 8.4 .4-4.1 .4-1 .4 13 .3-10.6 .4-1.7 .4 3.6 .4-3.6 .4-.8 .4-3.1 .3 3.3 .4 2.2 .4-2 .4-1.2 .4-1.7 .4 4.2 .4-1 .3 2.4 .4-3.9 .4 3.2 .4 .6 .4 2.5 .4-5.2 .3-.7 .4 1.7 .4 .9 .4 2.8 .4 2.5 .4-.1 .4-8 .3-.1 .6 13-.2-8.6 .4-1.6 .4-4 .4-2.9 .4 3 .3 4.9 .4 .6 .4-2.3 .4 5 .4-4.2 .4 9.7 .4-.9 .3-5.4 .4-1.9 .4 .8 .4-5 .4 5 .4-7.2 .3-1.5 .4 4.1 .4-9 .4 7.9 .4-3.1 .4 6.8 .4 1.7 .3 2.7 .4-5.4 .4 3 .4-4.4 .4-6.9 .4 .3 .3 3.4 .4 4.1 .4 4.4 .4-2.4 .4-2.8 .4 1.4 .4 5.8 .3-3.3 .4 .1 .4 .5 .4-2.4 .4-.3 .4-1.5 .3-.1 .4 .7 .4-1.4 .4 .3 .4 2 .4-.7 .4-1.4 .3-2.5 .4 3 .4 2.1 .4 4 .4 1.6 .4-10 .3-1.4 .4 3.4 .4 7.4 .4-2.9 .4 6.7 .4-2.3 .3-8.1 .4-6.8 .4-1.5 .4 4.2 .4 5 .4 .7 .4 .7 .3-10.9 0 6.1 .4-5.5 .4 6.1 .4 2.1 .4-2 .4 3.9 .3-4.4 .4-1 .4 3.6 .4-1.1 .4-5.8 .4 8.1 .4 .5 .3 10.8 .4-8.3 .4-5.3 .4-.9 .4-1.4 .4-1.6 .3 5.6 .4-4.6 .4-1.3 .4-7.3 .4 8.5 .4 1.7 .4-2.6 .3 2.7 .4 4.9 .4-2.6 .4 .2 .4 5.5 .4 2.1 .3-5.6 .4-5.8 .4-3.9 .4 7.5 .4-1.6 .4 .4 .4-.4 .3 .9 .4 7.4 .4-7.4 .4 6 .4-3.7 .4 3 .3-3.4 .4-5.1 .4 9.6 .4-.3 .4-2.2 .4 9.7 .4-6.8 .3-5.8 .4 2.4 .4 1.3 .4 5.3 .4-3.6 .4-1.4 .3-5.6 .4-.7 .4-1.6 .4 5.7 .4 6.9 .4-.9 .3-1.2 .4-7.5 .4 1 .4 5.5 .4-7.6 .4 2.3 .4 5.6 .3 4.7 .4-2.9 .4-4.8 .4-1.7 .4 1.3 .4 1 .3-2.7 .4 4.2 .4-3.5 .4-.8 .4 12.4 .4-1.9 .4-3.5 .3-1.2 .4 3.2 .4-1.8 .4-6.3 .4 1.9 .4-5.3 .3 1.9 .4 3.2 .4-10.3 .4 5.9 .4 4.3 .4-2.5 .4 .2 .3-1 .4 .2 .4 5.4 .4-5.7 .4-7.3 .4 13.2 .3-7.5 .4 1.1 .4 4.1 .4-4.7 .4 2.2 .4-1.8 .4 .5 .3-7 .4 1.1 .4 5.9 .4-2.8 .4 .2 .4 4.3 .3 1.2 .4 .8 .4 7.5 .4-1.3 .4-8 .4-4.8 .4 3.6 .3 4.3 .4-.6 .4 1 .4-7.5 .4 6.3 .4-2.7 .3-.1 .4-3.4 .4 1.9 .4-6.3 .4 7.8 .4-2.6 .4 4.2 .3 .5 .4-2.8 .4-1.7 .4 1.8 .4 3 .4-5.3 .3 3.3 .4-2.3 .4 4.5 .4 1.2 .4 2.2 .4-9.3 .4 5.2 .3-4.2 .4 6.8 .4-3.6 .4-.7 .4 .1 .4-3.2 .3-.3 .4 3.8 .4-6.2 .4 1.3 .4-.2 .4 3.1 .3-1.1 .4-1.4 .4 8.2 .4 3.3 .4-4.1 .4-.9 .4 1.4 .3-5.4 .4-2.1 .4 4.3 .4-3 .4-1.8 .4 2.7 .3 2.7 .4 2.2 .4-1 .4-9 .4-2.2 .4 7.6 .4-1.9 .3 5 .4-2.7 .4 5.4 .4-7.9 .4-1.3 .4-1.5 .3 6.1 .4 10.6 0-14.2 .4-.2 .4 1 .4-2.3 .4 2.8 .4 3.9 .3-1.5 .4-5.2 .4 1.1 .4-.8 .4 3.4 .4 .9 .3 1.9 .4 .2 .4-2.8 .4 4.6 .4-4.3 .4 8.6 .4-8.6 .3-5.7 .4-1.2 .4 3.9 .4 1.2 .4-1.3 .4 6.1 .3 2 .4-4 .4 1.3 .4-.6 .4-4 .4-2.3 .4-4.1 .3-3 .4 3.4 .4 8.3 .4-8.2 .4 6.8 .4 6.4 .3-9.1 .4 3.9 .4-.6 .4-1.4 .4 2.6 .4 .3 .3-5.9 .4 2.7 .4-1.7 .4 3.1 .4 .8 .4-1.8 .4-2.1 .3 4.2 .4 1.5 .4 .2 .4 1.3 .4-1.4 .4-2.5 .3-3 .4-.4 .4 4.8 .4-4.6 .4 11.8 .4-.8 .4-5.5 .3-1.4 .4-4.1 .4 3.6 .4-2.5 .4 1.6 .4-4.9 .3 .4 .4 .6 .4-4.2 0 3.8 .4 4.9 .4 .6 .4 4.3 .4-5.4 .3 5.8 .4-.9 .4-10.6 .4 5.3 .4 2.9 .4-4.3 .3 3.1 .4 2.3 .4-9.1 .4 3.1 .4 6 .4-4.6 .4-2.1 .3-4.6 .4 11.5 .4-2 .4-2.7 .4 4.5 .4-3.6 .3 4.9 .4-5.4 .4 .7 .4-2.8 .4 7.6 .4 .7 .4-3.5 .3-5.2 .4 1.6 .4 3.4 .4 1.2 .4 1.5 .4-2.2 .3-2.2 .4-2.1 .4 .6 .4 1.3 .4-2.7 .4 4.2 .4-1 .3-4.7 .4 3.7 .4 2.9 .4 .6 .4-4.6 .4-2.6 .3-.2 .4 .1 .4 2.6 .4-4.5 .4 5 .4 3.2 .3 1.3 .4-.1 .4-6.5 .4 4.2 .4-5 .4 .7 .4 .3 .3 2.4 .4 2 .4-.2 .4 4.6 .4-1.4 .4-.3 .3 1.9 .4-1.7 .4-5.1 .4-3.4 .4 .2 .4 5.5 .4 4.2 .3-6.4 .4 2.5 .4 2.2 .4-4.9 .4 5.5 .4-3.6 .3 .2 .4-.2 .4 2.2 .4-2.7 .4 0 .4 5.9 .4-.3 .3 .4 .4-4.8 .4-3.4 .4 4.4 .4-1.3 .4-5.1 .3 5.3 .4-4.6 .4 6.5 .4-3.4 .4 2.3 .4-1 .4 3.4 .3-3 .4-1.5 .4 1.2 .4-4.9 .4 2.7 .4 5.3 .3 1.2 .4-6.2 .4 .3 .4 3.3 .4-1.3 .4 .1 .4 5.1 .3-.4 .4 5.8 .4-11.3 .4-3.8 .4 1.7 .4-4.1 .3 4.1 .4-4 .4 3.2 .4 2.3 .4-4.4 .4 2.2 .4 .3 .3-1.3 .4 2.6 .7 10.8-.3-8.7 .4-.3 .4-5 .4 6 .3-7.3 .4 1 .4 3.2 .4 1.9 .4-2.2 .4 2 .4-3.1 .3-5.4 .4 1.5 .4-2.9 .4 6.6 .4 .2 .4 1.7 .3 3 .4 0 .4-.6 .4-3.9 .4 3.2 .4 2.8 .3-1.1 .4-3.9 .4 .7 .4-3.4 .4 2.1 .4 4.6 .4 1.3 .3 1.4 .4 .6 .4-9.6 .4 4.9 .4 .2 .4-.9 .3-.3 .4-.3 .4 3.7 .4 .2 .4 3.9 .4-.3 .4-5.9 .3 3.8 .4 .3 .4-3.4 .4 1.4 .4-1.2 .4-5.8 .3-4.5 .4 10.8 .4-5.7 .4 4" stroke="#000" stroke-width="1.1" fill="none" stroke-linejoin="round"/>
<path d="M448 654.8l.5 1.1 .5 5.3 .5-1.9 .5 1.5 .5-1 .5-8.6 .5 8.8 .5-.6 .5-2.1 .5-7.7 .5 9.6 .5-1.5 .5-5.1 .5 5.5 .5-3.2 .5 4.5 .5-5.9 .5 3.4 .5-4.5 .5 4.1 .5 3.7 .5 3.2 .5-3.2 .5-9.4 .5 10.1 .5-1.2 .5-5.3 .5 3.2 .5 .9 .5-1 .5-.8 .5 .9 .5 1 .5-6.8 .5 8.4 .5-2.2 .5-3.5 .5-1.8 .5 3.5 .5-4 .5 0 .5 .8 .5-.3 .5 .6 .5 5.8 .5-4.5 .5 2.4 .5-3.2 .5 3.2 .5 1.6 .5 1.5 .5-3.6 .5 3.2 .5-6.1 .5-.7 .5 7.7 0 12.4 .3-22 .2 1.8 .5 1.8 .5 3.3 .5-4.6 .5 7.1 .5-4.3 .5-1 .5 4.8 .5-7.8 .5 6.6 .5-8.2 .5 6.3 .5 3.5 .5 2 .5-10.3 .5 2.7 0 17.3 .3-21 .2 3.5 .5-2.3 .5 9.6 .5-2 .5-3 .5 .7 .5 .3 .5-1 .5 3.1 .5-2.3 .5-3.8 .5 2.2 .5 1.4 .5 1.4 0 14.2 .3-22 .2 3.9 .5 1.3 .5-2.3 .5 3.5 .5-2.9 .5 5 .5-1.6 .5-7.8 .5 7 .5 .9 .5 1.2 .5-.3 0 13.1 .3-21 .2 2.6 .5 6.3 .5-6.6 .5 8 .5-5 .5-.6 .5 .5 .8-5.8 .8 6.7 .8 4.8 .8-5.8 .9-6.7 .9 7.5 .9 6.6 .8-8.8 .9-5 .9 5.7 .9 4.4 .9-3.1 .8-7.6 .7 7.8 .8 5.6 .8-5.2 .7-6.7 .8 5.7 .7 3.9 .7-5.4 1-5 1.1 6.2 1 6.1 1-7 .8-2.2 .8 3.4 .7 3.4 .8-3.1 1.1-4.9 1 4.4 1 5.1 1.1-5.5 1-2.9 1 3.6 .9 2.7 1-2.2 .7-8.4 .7 7.9 .8 4.8 .7-6.5 .8-6.7 .8 7.9 .8 8.3 .8-8.6 .9-2.8 .9 3.2 .9 3.3 .8-4.6 1-3 1 4.2 .9 3.2 1-3.1 .8-5.3 .9 6 .8 4.8 .9-5.6 .9-6.1 1 5.9 .9 5.1 1-5.2 .8-5.2 .9 6.6 .8 5.6 .9-6 .7-6.5 .7 7.2 .7 3.9 .7-3.7 .8-8.2 .8 6.1 .7 5 .8-4.4 .9-3.8 1 4.6 .9 2.4 .9-3.7 .9-3 .9 3 .8 3.2 .9-3.4 1-3.7 1 3.6 1 3.1 1-1.8 .9-7.2 .8 7.8 .9 3.4 .8-5.1 1-2.8 1 2.8 .9 4.7 1-3.1 1-6.3 1 5.5 1.1 6.3 1-7.7 .8-3.3 .8 5.8 .8 1.6 .8-1.6 .7-6.7 .7 5.8 .7 3.4 .7-4.1 .7-6.3 .8 6.9 .7 3.9 .7-4 .8-9.3 .9 10.1 .8 6.8 .9-6.5 .7-6.1 .7 5.1 .7 2.7 .7-4.4 1-2.5 1 2.9 1 3.7 1-2.9 .8-5.2 .8 4.9 .8 6.3 .8-5.6 .8-3.8 .9 4 .8 1.8 .8-1.7 .9-7.4 .8 8.3 .8 6.5 .9-9 .7-6.4 .7 8.9 .7 4.2 .8-5.8 .7-9.1 .7 9.6 .7 5.1 .7-6.6 .8-6.3 .8 7.8 .8 6 .9-7.5 1-2.7 1 3.7 1 4.9 1-4.4 1-8.5 .9 7.3 1 8 .9-6.2 .7-6.2 .8 5 .7 6.4 .7-6.2 .8-8.8 .8 8.4 .8 6.2 .8-6.7 .9-3.4 .9 4.4 .8 3.6 .9-4.2 1.1-5.6 1 6.7 1 3.6 1.1-3.3 .8-7.6 .8 6.1 .9 5.8 .8-5.8 .8-6.7 .8 6.8 .8 6 .8-5.9 1.1-4.7 1.1 5.2 1.1 6.9 1.2-5.6 1-10.8 1 9.5 1 6 1-6.1 .9-7.4 1 8 1 6.5 1-7 .9-7.2 1 8.4 .9 5.1 1-6.7 1-5.5 1 5.6 .9 4 1-3.8 1-8 1 8.8 .9 6.3 1-7 1.1-4.9 1.1 4 1.1 6 1.1-5.8 .9-6.4 1 8.4 .9 4.8 .9-6 1.1-9.3 1 9.4 1.1 4.1 1.1-3 .9-10.7 1 10.8 .9-13.4 0 21.1 .4-4.1 .6-4 .9-7 .9 6.6 .9 5.8 .9-6.5 1-6.5 .9 6.3 1 6.6 .9-5.6 .9-9.9 .8 10.4 .9-22.2 0 29.6 .4-3.6 .5-6.4 .9-5.2 1 7.6 .9 3.9 .9-3.4 .4-11.5 .4 15 .3-12.1 1.1 7 1 7 1.1-7.1 1.1-9.6 1.1 10.4 1.1 6.7 1.1-6.4 .7-18.9 .2 13 .2 10 .6-5.3 .9 3.5 .9-2.4 1.1-8.8 1.1 8 1 7.2 1.1-6.5 1.2-5.8 1.2 4.7 1.2 4.6 1.2-4.2 .5-1.9 .5 3.2 .5 .4 .5-2.3 .5 3 .5-1.7 .5-1.5 .5 2.6 .5-4.1 .5 3 .5-.4 .5 .9 .5-.5 .5 1.2 .5 0 .5 .3 .5-4.3 .5 1.3 .5-.6 .5-.7 .5 1.7 .5-.3 .5 .6 .5-1.9 .5 4.4 .5 0 .5-2.7 .5-1.7 .5 1.9 .5-1.2 .5 1.9 .5-2.9 .5 3.4 .5-.4 .5-.8 .5 1.3 .5-2.8 .5 3.5 .5-2.7 .5 2.4 .5-1 .5-1.6 .5 3 .5-3.1 .5 2.4 .5 .2 .5-1.6 .5-1 .5-1.3 .5 3.2 .5 1.3 .5-.3 .5-3 .5 3.6 .5-.4 .5-2.1 .5 1.3 .5-3.2 .5 3.5 .5-.1 .5-.9 .5-1.5 .5 2 .5-3.3 .5 4.6 .5-.5 .5-2.5 .5-1.3 .5 4.3 .5 .1 .5-3 .5-1.3 .5 2.6 .5 0 .5 .8 .5 .2 .5-1.9 .5 1.5 .5-3.3 .5 2.6 .5-2.8 .5 2.5 .5 1.7 .5-3.7 .5 3.8 .5-3.9 .5 3.4 .5-4" stroke="#000" stroke-width="1.2" fill="none" stroke-linejoin="round"/>
<path d="M448 709.9l.4-2.7 .4-1.1 .4 3.7 .3-2 .4 1.7 .4 3 .4-4.2 .4-1.5 .4-1.4 .3 .2 .4 2.2 .4 .6 .4-1 .4-1.7 .4-.5 .4 3 .3-.9 .4 1 .4-1.7 .4-.6 .4 1 .4 .6 .3-.3 .4 .9 .4-.7 .4 4 .4-1.7 .4 2.2 .4-.4 .3-3.3 .4 .8 .4 1.5 .4-.7 .4 .1 .4-2.4 .3 4.2 .4-1.8 .4-3.5 .4 .3 .4 4.4 .4 1.1 .3-2.2 .4-3.3 .4 .9 .4-1.9 .4 1.9 .4 1.6 .4-1.1 .3-3.2 .4 2 .4-.2 .4 .2 .4 1.2 .4-1.9 .3 .9 .4 2.8 .4 .4 .4-1.1 .4 2.5 .4-1.9 .4 .5 .3-1.6 .4-.2 .4 .2 .4-1 .4-.6 .4-.7 .3 3.6 .4-2.3 .4-2.2 .4 1.3 .4 3 .4-1.2 .4-1.2 .3 2 .4-.3 .4 2.2 .4-.6 .4-3.5 .4 3.8 .3-1.6 .4-1.4 .4 1.9 .4-1.5 .4 2.4 .4-4.8 .4 2.3 .3-.5 .4 1.9 .4 .5 .4-.2 .4 .3 .4-4.4 .3 3.2 .4 2.8 .4-.2 .4-3.1 .4 2.9 .4 .1 .4-3 .3-1.4 .4-.5 .4 .8 .4-.9 .4 .8 .4 1.3 .3-1.4 .4-2.5 .4 .3 .4 3.9 .4 1.9 .4-1.1 .4 .9 .3-2.6 .4 3.1 .4-.8 .4-6.2 .4 4.8 .4 1.1 .3-.8 .4 1 .4-.2 .4 1.5 .4-3.9 .4 2.8 .3-.7 .4 1.5 .4-2.1 .4-.5 .4 1 .4-.9 .4 1.1 .3-.4 .4-.1 .4-.2 .4-3.6 .4 1.7 .4-.4 .3-1.9 .4 3.9 .4-.9 .4 1.9 .4-1.8 .4 1.2 .4 1.6 .3-3 .4 1.7 .4 .7 .4 1.8 .4 1.1 .4-3.5 .3-1.5 .4 3.5 .4-4.3 .4 .2 .4 2.3 .4-4.2 .4 3.8 .3-1.7 .4-.1 .4 1.2 .4-2.4 .4 1.3 .4 2.7 .3-5.3 .4 2.8 .4 1 .4 1.8 .4-.8 .4-3.7 .4 4.1 .3-2.5 .4 2.4 .4-.7 .4-2.5 .4 4.8 .4-1.7 .3 .3 .4-1.7 .4 1.1 .4 1.9 .4-3.8 .4 3.8 .4-3.6 .3-.8 .4 1.6 .4-1.8 .4-.4 .4-1 .4 2.7 .3-1.4 .4 1.5 .4 1.6 .4 2.1 .4-1.1 .4-.6 .4-2.9 .3-1.5 .4 4.4 .4 .4 .4-3 .4 1.2 .4 .5 .3-2.4 .4 2.7 .4-1.9 .4 .6 .4 .3 .4-1.3 .4 2 .3-1.3 .4 .9 .4 .9 .4-2.8 .4 3.2 .4-1.2 .3 1 .4-2.9 .4 2.5 .4-1.5 .4 .9 .4 .2 .3-2.6 .4 2.3 .4-2.9 .4 .2 .4 3.4 .4 2.5 .4-2 .3-1.2 .4-1 .4 2 .4 .2 .4-1.7 .4 .5 .3 0 .4 1.9 .4-4.6 .4 2 .4-1.7 .4 2.2 .4-1.9 .3 1.3 .4-2.5 .4 2.4 .4-1.5 .4 2.3 .4-.2 .3 0 .4 .4 .4 .9 .4 .5 .4-3.3 .4 2.9 .4-.9 .3-2.4 .4 .7 .4 .9 .4 1.6 .4-.4 .4 1.5 .3-.9 .4-2.5 .4-.5 .4-.7 .4 2.6 .4 .9 .4-2.3 .3 1.1 .4 .7 .4 1.9 .4-1.7 .4 .7 .4-2.4 .3-1 .4 1.1 .4 1.1 .4 2.2 .4-.3 .4-2.1 .4 1 .3 .1 .4-.9 .4-4.9 .4 1.1 .4-.4 .4 1.1 .3 .5 .4-1.9 .4 4.2 .4-.1 .4 .7 .4-4.5 .3 5.3 .4-.5 .4-3.1 .4-.4 .4 2.9 .4 1.6 .4-2.5 .3-.5 .4 .5 .4-2 .4 .1 .4-.4 .4 2.2 .3-2.1 .4 3.1 .4-.9 .4 2.6 .4-.8 .4 1 .4-3.4 .3 .1 .4 .7 .4-1.7 .4 4 .4-3.1 .4 .7 .3 3.3 .4-1.6 .4-3 .4 1.5 .4 2.3 .4 .1 .4-.1 .3 2.2 .4-3.8 .4 2.3 .4-1.1 .4-4 .4 3.6 .3-2.3 .4-.5 .4-1.2 .4 3.5 .4-2.1 .4 .8 .4 0 .3 .7 .4-2.7 .4 4.2 .4-2.5 .4-2.1 .4-.3 .3 0 .4 1.8 .4-.3 .4-2.7 .4 1.6 .4 .8 .4 3.2 .3-3.7 .4 3.2 .4 1 .4-.2 .4-1.2 .4-1.3 .3 2.6 .4-.6 .4 2 .4-1.2 .4-3.4 .4 3.3 .4-.5 .3 0 .4 1.2 .4-3.6 .4-1.5 .4 1.3 .4 .3 .3-1.3 .4 2.7 .4 .2 .4 .1 .4-.9 .4-.7 .4 2.4 .3 .8 .4-2.1 .4-.5 .4 2.5 .4-2.8 .4 2 .3 .5 .4-1.5 .4-.1 .4-.8 .4 .5 .4 .5 .3 1 .4-2 .4-.4 .4-1.9 .4 1.1 .4-.6 .4 1.4 .3 .4 .4 2.7 .4-2.4 .4 1 .4-4.5 .4 .8 .3 3.4 .4-.7 .4 .8 .4-1.4 .4 2.5 .4-2.8 .4-.6 .3 2.9 .4 1.3 .4-1.1 .4 1.9 .4-.9 .4-2 .3 .5 .4 .3 .4-.8 .4-.7 .4 .4 .4-1.5 .4-2 .3 2.9 .4-1 .4 2 .4-1.9 .4-.3 .4-1 .3 2.7 .4 .4 .4-1.9 .4 2.5 .4-1.8 .4-1.5 .4-.4 .3 .2 .4 2.1 .4 1.1 .4-1.7 .4 4 .4 .4 .3-1.7 .4-3.8 .4 .4 .4 1.5 .4-.1 .4-3 .4 1.7 .3 3.4 .4-.3 .4-.9 .4 1.1 .4-1.5 .4 .3 .3-.2 .4-1.2 .4 1.7 .4-.5 .4 2.9 .4-3.3 .3 3.4 .4-2.5 .4 .2 .4 .1 .4-3.6 .4 .2 .4 .4 .3 2 .4-.1 .4-.5 .4-1.9 .4 3.8 .4 .3 .3 .8 .4-.8 .4-4.1 .4 1.2 .4-1 .4 .8 .4-.4 .3 .7 .4-3 .4 2.3 .4 .5 .4-1.3 .4 1.3 .3 3.6 .4 .3 .4-5.4 .4-.1 .4 5.2 .4-2.7 .4 1.9 .3-2.5 .4 .6 .4 1.3 .4-.5 .4-2.3 .4 2.8 .3-2.1 .4 4.6 .4-1.5 .4-.5 .4-.9 .4-2.8 .4 3.9 .3-.5 .4-1.1 .4 1.4 .4 .7 .4-3.5 .4-2.5 .3 2.1 .4-.5 .4 1.9 .4 .6 .4-2.9 .4 1.9 .4 1.2 .3-4.3 .4 1.4 .4 4.4 .4-2.4 .4 2.4 .4-4.9 .3 2 .4-.4 .4 3.2 .4 .3 .4-1 .4-2.5 .4 .2 .3 .4 .4-2.6 .4 4.6 .4-2.6 .4 .4 .4 4.5 .3-3.2 .4 2.3 .4-2.1 .4-1.5 .4-.6 .4-1.3 .4-2.1 .3 1.8 .4 1.2 .4-1.3 .4 1.1 .4 6 .4-3.3 .3-1.2 .4-2.1 .4 .5 .4 3.1 .4-2.1 .4-1 .3-1.2 .4 4.7 .4 .2 .4-3.2 .4 .5 .4-.4 .4 1.5 .3 .4 .4-.9 .4-.7 .4 3.8 .4 .4 .4-.3 .3-2.3 .4 3.7 .4-1.1 .4-5 .4 3 .4-1.1 .4 2.3 .3-5 .4 1.1 .4 1 .4-.4 .4-1.3 .4 1.9 .3-2.2 .4 2.4 .4-2.1 .4-1.9 .4 1.4 .4 3.1 .4-.5 .3 2.7 .4-3.6 .4 1.7 .4 2 .4 .2 .4-.1 .3-3.5 .4 .3 .4 2.9 .4-3.1 .4 .3 .4 .5 .4-1.9 .3 .9 .4-1.5 .4 3 .4 1.8 .4-2.5 .4 .9 .3 .5 .4-2.3 .4 0 .4-.1 .4 3.2 .4-2 .4 1.7 .3-3.4 .4 4.2 .4-.1 .4-.2 .4-2.8 .4 1.2 .3 .4 .4-4 .4 3.1 .4-1.3 .4-2.2 .4 4.3 .3 .8 .4-2.3 .4 3.3 .4-2.6 .4-1.1 .4 3.2 .4 .3 .3-5.9 .4 4 .4-1.4 .4-.4 .4-.4 .4 1.5 .3-2.9 .4 1 .4-2.1 .4-1 .4 2 .4 2.1 .4 1.9 .3-.5 .4-3.3 .4 2.5 .4-2.3 .4 .3 .4 1.1 .3 2.4 .4-.6 .4 2.1 .4-3 .4 2.2 .4-1.8 .4-.5 .3 1 .4 .3 .4-1.8 .4 1.6 .4-.1 .4 .8 .3 .7 .4-2 .4 2.8 .4-1.8 .4-.4 .4 .3 .4-1.7 .3 1 .4 1.4 .4-2.7 .4 5.5 .4-1.2 .4 2.7 .3 1.1 .4-1.5 .4-3.9 .4-2.1 .4-.8 .4-1.2 .4 2.6 .3 1.6 .4-2.4 .4 .4 .4 .7 .4 1.8 .4-3.4 .3 2.7 .4-2 .4 .5 .4-2.4 .4 .7 .4 .6 .4 .1 .3 1.3 .4-.1 .4 2.4 .4-3.4 .4 1.8 .4 .4 .3-.3 .4-.9 .4 3.8 .4-.5 .4-.9 .4 0 .3 1.5 .4-6.5 .4 2.7 .4-1.9 .4-2.1 .4 1.5 .4 2.5 .3-2.8 .4 3.1 .4-4.2 .4 2.7 .4 .2 .4-1 .3 1 .4 2.2 .4-1 .4-1.9 .4-.6 .4 2.4 .4 2.8 .3-2.2 .4 .3 .4 2.7 .4-3 .4 2 .4-1.6 .3-4.3 .4 .9 .4-.2 .4 3.8 .4-1.2 .4 1.4 .4 .4 .3-2 .4-2.3 .4 .8 .4 .4 .4 3 .4-1.4 .3 1.5 .4-.1 .4-4 .4 3.5 .4-3.6 .4 3 .4 0 .3-2.4 .4 2.2 .4 1.3 .4 .5 .4-3.6 .4-.2 .3 1.3 .4-2.1 .4 4.6 .4-1.3 .4 .3 .4 .4 .4 1.4 .3-3.9 .4 3 .4 2 .4-2.6 .4 .4 .4-2.5 .3 1.4 .4-2.1 .4 2.3 .4-1.7 .4-.9 .4 1.7 .4-1.3 .3 2.8 .4 .2 .4-3.2 .4 2.7 .4-2.2 .4-.2 .3 2.3 .4 1.5 .4-3.3 .4 3.3 .4-4 .4-.3 .4-.6 .3 3 .4-.5 .4 1.8 .4-4 .4-.5 .4 3.1 .3-3.5 .4 2.6 .4 .7 .4-1.3 .4 .1 .4 4.4 .3-2.2 .4-3.4 .4 3 .4-2.3 .4-.2 .4 1.5 .4 .9 .3 2.2 .4-.7 .4-4.5 .4 .6 .4 0 .4 3.9 .3-.7 .4 0 .4 .5 .4-.1 .4-2.8 .4 .6 .4-1 .3 1.7 .4 3.4 .4-3.5 .4 1.7 .4 0 .4 .2 .3-3.1 .4-1.5 .4 1.3 .4-.1" stroke="#000" stroke-width="1.1" fill="none" stroke-linejoin="round"/>
<path d="M690 594.5H730" stroke="#000" stroke-width="1.6" fill="none"/>
<path d="M729.5 587.5V595.3" stroke="#000" stroke-width="1.6" fill="none"/>
<text x="732.4" y="595.2" font-size="11.3" textLength="37.2" lengthAdjust="spacingAndGlyphs">250 uV</text>
<text x="701.4" y="605.2" font-size="11.3" textLength="15.2" lengthAdjust="spacingAndGlyphs">2 s</text>
<text x="7" y="771.2" font-size="16" font-weight="bold" textLength="17.5" lengthAdjust="spacingAndGlyphs">D)</text>
<text x="81" y="776.2" font-size="16.2" font-weight="bold" textLength="113" lengthAdjust="spacingAndGlyphs">Pilocarpine IP</text>
<text x="283.5" y="775.4" font-size="16.2" font-weight="bold" textLength="98.5" lengthAdjust="spacingAndGlyphs">Tail Vein KA</text>
<text x="500" y="774.6" font-size="16.2" font-weight="bold" textLength="47" lengthAdjust="spacingAndGlyphs">IA KA</text>
<text x="675" y="773.6" font-size="16.2" font-weight="bold" textLength="73.5" lengthAdjust="spacingAndGlyphs">Flurothyl</text>
<g filter="url(#s9)"><rect x="54" y="782" width="168" height="97.3" fill="url(#v9)"/><rect x="54" y="782" width="168" height="97.3" fill="url(#h9)" style="mix-blend-mode:screen"/><g style="mix-blend-mode:screen" filter="url(#b9)"><polygon points="128,880 130,850 137,822 143,845 146,880" fill="rgb(0,0,51)"/><rect x="54" y="862" width="28" height="18" fill="rgb(0,0,51)"/><rect x="100" y="848" width="50" height="32" fill="rgb(0,0,30)"/><rect x="150" y="862" width="36" height="18" fill="rgb(0,0,25)"/><rect x="86" y="866" width="14" height="14" fill="rgb(0,0,15)"/></g></g>
<rect x="54" y="795.8" width="136" height="3.2" fill="#222a86" opacity="0.65"/>
<rect x="192" y="782" width="30" height="89" fill="#2a3596" opacity="0.45"/>
<rect x="202" y="872.6" width="18.5" height="2.4" fill="#3cc46c" opacity="0.9"/>
<path d="M53.4 782V879.3M48.8 879.3H53.4M48.8 809.8H53.4M50.8 872.3H53.4M50.8 865.4H53.4M50.8 858.4H53.4M50.8 851.5H53.4M50.8 844.5H53.4M50.8 837.6H53.4M50.8 830.6H53.4M50.8 823.7H53.4M50.8 816.8H53.4M50.8 802.9H53.4M50.8 795.9H53.4M50.8 789H53.4M50.8 782H53.4" stroke="#000" stroke-width="1.3" fill="none"/>
<text transform="translate(43.3 809.8) rotate(-90)" y="3.8" font-size="10.5" text-anchor="middle">50</text>
<text transform="translate(43.3 879.8) rotate(-90)" y="3.8" font-size="10.5" text-anchor="middle">0</text>
<text transform="translate(20 830.7) rotate(-90)" y="3.8" font-size="10.5" text-anchor="middle">Hz</text>
<g filter="url(#s10)"><rect x="249" y="782" width="168" height="97.3" fill="url(#v10)"/><rect x="249" y="782" width="168" height="97.3" fill="url(#h10)" style="mix-blend-mode:screen"/><g style="mix-blend-mode:screen" filter="url(#b10)"><rect x="249" y="860" width="92" height="20" fill="rgb(0,0,43)"/><rect x="364" y="860" width="53" height="20" fill="rgb(0,0,43)"/><rect x="342" y="868" width="20" height="12" fill="rgb(0,0,35)"/><rect x="325" y="840" width="16" height="40" fill="rgb(0,0,20)"/></g></g>
<rect x="249" y="794.8" width="76" height="4.2" fill="#222a86" opacity="0.6"/>
<rect x="364" y="794.5" width="53" height="4.5" fill="#222a86" opacity="0.6"/>
<path d="M248.5 782V879.3M243.9 879.3H248.5M243.9 809.8H248.5M245.9 872.3H248.5M245.9 865.4H248.5M245.9 858.4H248.5M245.9 851.5H248.5M245.9 844.5H248.5M245.9 837.6H248.5M245.9 830.6H248.5M245.9 823.7H248.5M245.9 816.8H248.5M245.9 802.9H248.5M245.9 795.9H248.5M245.9 789H248.5M245.9 782H248.5" stroke="#000" stroke-width="1.3" fill="none"/>
<text transform="translate(238.5 809.8) rotate(-90)" y="3.8" font-size="10.5" text-anchor="middle">50</text>
<text transform="translate(238.5 879.8) rotate(-90)" y="3.8" font-size="10.5" text-anchor="middle">0</text>
<g filter="url(#s11)"><rect x="440" y="782" width="167.6" height="97.3" fill="url(#v11)"/><rect x="440" y="782" width="167.6" height="97.3" fill="url(#h11)" style="mix-blend-mode:screen"/><g style="mix-blend-mode:screen" filter="url(#b11)"><polygon points="489,880 500,850 507,818 514,850 526,880" fill="rgb(0,0,71)"/><polygon points="498,880 504,855 508,835 513,855 518,880" fill="rgb(0,0,38)"/><polygon points="440,880 440,835 458,850 478,868 484,880" fill="rgb(0,0,25)"/></g></g>
<rect x="440" y="795.5" width="52" height="3.5" fill="#222a86" opacity="0.65"/>
<rect x="528" y="782" width="79.6" height="97.3" fill="#2a3596" opacity="0.5"/>
<rect x="597.3" y="815" width="1" height="20" fill="#2090e0" opacity="0.6"/>
<path d="M439.5 782V879.3M434.9 879.3H439.5M434.9 809.8H439.5M436.9 872.3H439.5M436.9 865.4H439.5M436.9 858.4H439.5M436.9 851.5H439.5M436.9 844.5H439.5M436.9 837.6H439.5M436.9 830.6H439.5M436.9 823.7H439.5M436.9 816.8H439.5M436.9 802.9H439.5M436.9 795.9H439.5M436.9 789H439.5M436.9 782H439.5" stroke="#000" stroke-width="1.3" fill="none"/>
<text transform="translate(429.5 809.8) rotate(-90)" y="3.8" font-size="10.5" text-anchor="middle">50</text>
<text transform="translate(429.5 879.8) rotate(-90)" y="3.8" font-size="10.5" text-anchor="middle">0</text>
<g filter="url(#s12)"><rect x="628" y="782" width="166.7" height="97.3" fill="url(#v12)"/><rect x="628" y="782" width="166.7" height="97.3" fill="url(#h12)" style="mix-blend-mode:screen"/><g style="mix-blend-mode:screen" filter="url(#b12)"><polygon points="674,880 676,840 690,828 700,835 708,850 708,880" fill="rgb(0,0,20)"/><ellipse cx="698" cy="838" rx="6" ry="8" fill="rgb(0,0,20)"/><rect x="628" y="866" width="44" height="14" fill="rgb(0,0,15)"/></g></g>
<rect x="710" y="782" width="84.7" height="89" fill="#2a3596" opacity="0.45"/>
<rect x="709" y="872" width="85.7" height="2.5" fill="#3cc46c" opacity="0.8"/>
<rect x="709" y="874.5" width="85.7" height="4.8" fill="#2c9ad0" opacity="0.5"/>
<rect x="628" y="793.4" width="81" height="3.6" fill="#1c2478" opacity="0.3"/>
<path d="M627.5 782V879.3M622.9 879.3H627.5M622.9 809.8H627.5M624.9 872.3H627.5M624.9 865.4H627.5M624.9 858.4H627.5M624.9 851.5H627.5M624.9 844.5H627.5M624.9 837.6H627.5M624.9 830.6H627.5M624.9 823.7H627.5M624.9 816.8H627.5M624.9 802.9H627.5M624.9 795.9H627.5M624.9 789H627.5M624.9 782H627.5" stroke="#000" stroke-width="1.3" fill="none"/>
<text transform="translate(617.5 809.8) rotate(-90)" y="3.8" font-size="10.5" text-anchor="middle">50</text>
<text transform="translate(617.5 879.8) rotate(-90)" y="3.8" font-size="10.5" text-anchor="middle">0</text>
<path d="M51.8 929.2l.2 14.1 .2-15.3 .3 14.8 .3-12.9 .2-9.9 .2 24-.2-1.8 .2 .9 .3-12.6 .3-3.3 .2 14.5 .2-10.9 .3 13.3 .3-13 .2-12.1 .2 29-.2-7.2 .2-10.2 .3 11.4 .3-11.3 .2 12.8 .2-15 .3 15.6 .3-16.3 .2 16.6 .2-16.6 .3 12.6 .3-9.6 .2-10.8 0 24 .2-12.2 .3 11 .3-12.1 .2 11.5 .2-13.3 .3-.7 .3 15.5 .2-15.6 .2 16.6 .3-14.4 .3-.4 .2 .7 .2 11.2 .3-11.1 .3 14.4 .2-16.2 .2 15.2 .3-13.8 .3 11.7 .2-11.5 .2 11.4 .3-10 .3-1 .2-2.8 .2 15.9 .3-16.2 .3 15.6 .2-12.6 .2 12.1 .3-13.4 .3 15.1 .2-16 .2 2.4 .3 9.8 .3-11 .2 14.6 .2-15.6 .3 15.3 .3-13 .2 9.8 .2-12.7 .3 12.7 .3-12 .2 13.2 .2-10.7 .3 8.8 .3-9.9 .2 13.8 .2-14.6 .3 14.5 .3-16.7 .2 3.8 .2 9.3 .3-8.8 .3 12.2 .2-12.2 .2-2.4 .3 14.5 .3-12 .2-1.8 .2 14.9 .3-14.3 .3 12.4 .2-.1 .2-13.9 .3 13.1 .3-14.4 .2 16.6 .2-16.5 .3 13.9 .3-14.3 .2 15.9 .2-13.9 .3 12.6 .3-11.3 .2 14 .2-17.4 .3 13.3 .3-12.6 .2 17.1 .2-15.3 .3 13.8 .3-13.8 .2 11.6 .2-11.4 .3 14 .3-2.5 .2-13.3 .2 13.2 .3 .6 .3-11.8 .2 13.7 .2-12.7 .3 .5 .3 12 .2-1.8 .2-10.8 .3 12.6 .3-13.8 .2-7.8 0 7.6 .2-.2 .3 13.4 .3-13 .2 11.4 .2-8.7 .3 8.8 .3 1.9 .2-14.1 .2 11 .3-8.5 .3 9 .2-11 .2 10.5 .3-7.5 .3 11.4 .2-2.7 .2-8.8 .3 9 .3-9.3 .2-7.2 0 17.5 .2-13.3 .3 11.6 .3-10.5 .2 .4 .2 12.6 .3-12.7 .3 13.3 .2-11.2 .2 10.1 .3-13 .3 14.4 .2-3.5 .2-9.2 .3 12.4 .3-2.4 .2-1.3 .2 1.7 .3-9.3 .3 7.9 .2-10.7 .2 12 .3-10.4 .3 9.1 .2-16.5 0 4.5 .2 .7 .3 1.5 .3-2 .2 3.3 .2 9.5 .3-.8 .3-11.9 .2 14 .2-11.3 .3-3.2 .3 12.4 .2-10 .2 11.9 .3-11.8 .3 11.3 .2-2 .2-8.5 .3 12.6 .3-13.9 .2 10.4 .2-9.1 .3 12.4 .3-13.4 .2 13 .2-14.9 .3 1.7 .3-2.1 .2 14.6 .2-10.6 .3 12.8 .3-17.5 .2 16.7 .2-16.3 .3 3.3 .3 9.9 .2-10.6 .2-1.6 .3 17.1 .3-18.7 .2 15.1 .2-13.5 .3 12.9 .3-10.9 .2 13.2 .2-17.5 .3 14.7 .3-14.9 .2 15.4 .2-11.9 .3 15.6 .3-1.7 .2-13.7 .2 11 .3-14.3 .3 15.7 .2-15.3 .2 14.8 .3-.5 .3 5 .2-.6 .2-18.7 .3 16.9 .3-14.7 .2 17.1 .2-20.6 .3 16.8 .3-11.3 .2 0 .2 12.9 .3-18.3 .3 18 .2-14.7 .2 16.4 .3-19.9 .3 18.4 .2-17 .2 14.2 .3-13.7 .3 15.1 .2 1.2 .2-1.7 .3-15.8 .3 14.5 .2-13.1 .2 13.3 .3-12.7 .3 15.8 .2-17.6 .2 14.9 .3-.6 .3-16.4 .2 16.5 .2-.4 .3-11.5 .3 13.4 .2-14.6 .2 18.8 .3-33.9 0 32.4 .3-17.4 .2 18 .2-20.9 .3 18.1 .3-17.4 .2 17.2 .2-19.2 .3 20.6 .3-19.5 .2 18 .2-14.7 .3 13.9 .3-19.6 .2 23.7 .2-17.4 .3 15.4 .3-20.9 .2 23.3 .2-1.2 .3-17.5 .3 15 .2-17.3 .2 20.6 .3-21.2 .3 19.8 .2-28.8 0 12.1 .2 13.8 .3-14 .3 18.4 .2-25.5 .2 19.8 .3 .2 .3-15 .2 16.1 .2-16.2 .3 16.6 .3-22.8 .2-5.5 0 31.3 .2-25.8 .3 23.9 .3-24.3 .2 6.1 .2 19.2 .3-21.7 .3 18.7 .2-23.4 .2 28.8 .3-27.9 .3 .2 .2-13.1 .2 44-.2-30.6 .2 21.7 .3-1 .3-19.4 .2 22.8 .2-21.3 .3 25.3 .3-26.4 .2-19.1 .2 49-.2-4 .2-25.5 .3 0 .3 21.8 .2-45.3 0 24 .2 22 .3-26.9 .3 31.1 .2-31.6 .2 28.1 .3-42.7 .3 52-.3-39 .3 33.5 .2-27.6 .2 23.9 .3-23.1 .3 19.7 .2-27 .2 33.9 .3-40.3 0 11.9 .3-3.5 .2-.6 .2 27 .3-3.8 .3-19.5 .2-8.5 0 7.8 .2 22.7 .3-28.7 .3 27.9 .2-1 .2 3.5 .3-27.4 .3 28.8 .2-21.8 .2 17.9 .3-24 .3 2.3 .2 29.8 .2-27.3 .3 22 .3-22.8 .2 1.3 0 25.5 .2-23.1 .3 24.8 .3-26.7 .2 23.4 .2-17.2 .3 15.8 .3-16.8 .2 14.6 .2-14.3 .3 19.9 .3-24.3 .2 2.7 .2 19.7 .3-18.1 .3 18.8 .2-19.1 .2 18.1 .3-18.5 .3 16.9 .2-14.2 .2-3.7 .3 23.9 .3-17.9 .2 12.9 .2-15.2 .3 21.3 .3-18.6 .4 23.4-.2-26.6 .2 21.2 .3-22.6 .3 3.5 .2 15.5 .2-13.5 .3 17.2 .3-22.9 .2 2.1 .2 20.2 .3-17.4 .3 16.4 .2-18.8 .2 19.7 .3-19.2 .3 17.4 .2-14.5 .2 19 .3-23.3 .3-1.4 .2 19.3 .2-18.5 .3 21 .3-20.5 .2 3 .2 18.1 .3-20 .3 2.6 .2 16 .2-18.8 .3 19.1 .3-2 .2-18.6 .2 24.1 .3-20.5 .3 15.9 .2-17.9 .2 17.7 .3-19.6 .3 3.7 .2 14.4 .2-15.3 .3 17.7 .3-.5 .2-15.4 .2 14.2 .3-18.8 .3 18.3 .4 11.3-.2-25 .2 17.1 .3-18.3 .3 2.3 .2 16.3 .2-18.9 .3 17.6 .3-18 .2 16.3 .2-16.9 .3 17 .3-17 .2 19.5 .2-21.4 .3 19.6 .3-15.5 .2 16.8 .2-17.4 .3 17.3 .3-19.7 .2 22.1 .2-19.5 .3 20.4 .3-21.9 .2 17 .2-19.7 .3 18.2 .3-18.8 .2 19.5 .2-13.8 .3 17.1 .3-17.4 .4 27.1-.2-27.8 .2 15.6 .3-18.7 .3 18.2 .2-14.6 .2-4.2 .3 24 .3-23.1 .2 21.4 .2-18.5 .3 19.9 .3-19.5 .2 20 .2-21.5 .3 17.2 .3-16.3 .2 21.3 .2-25.3 .3 20.7 .3-19.4 .2 19.3 .2-14.9 .3 14.8 .3-15.8 .4 26.2-.2-6 .2-24.7 .3 21.7 .3-18.6 .2 18 .2-16 .3 17.1 .3-17 .2 15.5 .2-18.2 .3 21.8 .3-18.8 .4 28.2-.2-10.1 .2-20.9 .3 20.4 .3-2.8 .2-14.3 .2 13.5 .3-19.9 .3 22.7 .4 7.4-.2-29.6 .2 18.9 .3-14.4 .3 .3 .2 14.9 .2-17.3 .3 17.3 .3-19.4 .2 17.6 .2-16.1 .3 18.5 .3-.4 .2-16.2 .2 13.1 .3-13.5 .3 13.7 .2-12.9 .2 11.2 .3-12.3 .3 12 .2 1.4 .2-12.8 .3 8 .3-7.4 .2 5.4 .2-4 .3 .6 .3 2.6 .2-2.3 .2 2 .3-1.7 .3 2.1 .2-2 .2 2.1 .3-2.3 .3 2.1 .2-2.6 .2 2.1 .3-2 .3 2.7 .2-2.7 .2 2.6 .3-2.4 .3 1.9 .2-2 .2 2 .3-1.6 .3 2.1 .2-2.4 .2 2.1 .3-2 .3 2.2 .2-2 .2 1.6 .3-1.8 .3 0 .2 1.6 .2 .6 .3-.4 .3-1.6 .2 1.8 .2-2.4 .3 2.2 .3-1.7 .2 1.6 .2 .3 .3 .4 .3-2.7 .2 2.1 .2-1.5 .3 1.5 .3-2.1 .2 2.2 .2-1.8 .3-.3 .3 2.5 .2-2.2 .2 2 .3-2.3 .3 2.3 .2-.4 .2 .2 .3-2 .3 1.7 .2-1.7 .2 .4 .3 1.7 .3-2 .2 1.8 .2-1.8 .3 1.8 .3-1.5 .2 1.6 .2-2.2 .3 2.5 .3 0 .2-2.2 .2 2.3 .3-2.6 .3 2.2 .2-2.2 .2 2.5 .3-1.9 .3-.1 .2 2 .2-.6 .3 .5 .3-1.8 .2 1.6 .2-2.1 .3 .4 .3 .2 .2 1.3 .2-1.6 .3 2 .3-.5 .2-1.7 .2 0 .3 1.8 .3-1.5 .2 1.7 .2 0 .3-2 .3 1.8 .2-1.5 .2 2 .3-2.3 .3 1.7 .2-1.8 .2 2.1 .3-2 .3 1.9 .2-1.4 .2 1.6 .3-.2 .3-1.7 .2 1.7 .2-1.5 .3 1.3 .3-1.6 .2 2 .2-1.9 .3 1.8 .3-1.7 .2 1.6" stroke="#000" stroke-width="1" fill="none" stroke-linejoin="round"/>
<path d="M156 906H180.5" stroke="#000" stroke-width="2" fill="none"/>
<path d="M180 897.5V907" stroke="#000" stroke-width="2" fill="none"/>
<text x="182.4" y="906.5" font-size="11.3" textLength="37.7" lengthAdjust="spacingAndGlyphs">200 uV</text>
<text x="156.9" y="917.3" font-size="11.3" textLength="22.7" lengthAdjust="spacingAndGlyphs">20 s</text>
<path d="M247 923.5l.2 13.1 .3 3.4 .3-13.7 .2 9.5 .2-9.2 .3 12.1 .3-15.5 .2 13.7 .2-12.4 .3 12.4 .3-11.3 .2 10.3 .2-9.9 .3 12.4 .3-.4 .2-14.3 .2 16.3 .3-15.5 .3 11.1 .4 10.4-.2-20 .2 13.9 .3-17.6 .3 14 .2-12.3 .2 14.2 .3-16.3 .3 16.7 .2-13.3 .2 10.4 .3-9.4 .3 13.5 .2-13.7 .2 11.3 .3-12.2 .3 14.5 .2-13.4 .2 11.2 .3-11.4 .3 11.7 .2-14.9 .2 3.2 .3-.3 .3 11.9 .2-12.5 .2-2.7 .3 17.9 .3-14.8 .2 11.1 .2-11.7 .3-.8 .3 14.2 .2-13.8 .2 11.5 .3-13.9 .3 14.3 .2-12.5 .2 11.3 .3-9.3 .3 13.1 .2-17.1 0 16.2 .2-13.2 .3-2 .3 16.3 .2-13.6 .2 12.7 .3-14.9 .3 13.2 .2-11.3 .2 13 .3-16 .3 12.9 .2 .4 .2-13.3 .3 17.1 .3-13.2 .2-1.1 .2 12.4 .3-15.9 .3 17.7 .2-14.1 .2 10.3 .3-.2 .3-13.2 .2 14.3 .2-12.5 .3 16.5 .3-18.8 .2 16.9 .2-12.5 .3 10.1 .3-10 .2 12.4 .2-15 .3 12.1 .3 2 .2-15.2 .2 17 .3-15.2 .3 12.3 .2-10.9 .2 10.6 .3 1.1 .3-14 .2 12.8 .2-11.9 .3 11.7 .3-11 .2 12.1 .2-11.3 .3 9.6 .3-9.9 .4 14.5-.2-4.2 .2-13.3 .3 16.2 .3 0 .2-.6 .2-16.3 .3 16 .3-13.3 .2 14.5 .2-16.6 .3 15 .3-11.2 .2 9.3 .2 .6 .3 2.4 .3-14 .2 .1 .2 13.6 .3-16.7 .3 15.7 .2-14.2 .2 15.4 .3-14.1 .3 11.2 .2-11.2 .2 11.1 .3-11.5 .3 12.6 .2-17.5 .2 26-.2-20.8 .2 12.8 .3-12.1 .3 12.1 .2-14.4 .2 15 .3-14 .3 15 .2-13.8 .2 12.3 .3-14.6 .3 3.8 .2 13.7 .2-16 .3 14 .3-12.8 .2 10.7 .2-14.3 .3 17.6 .3-14.4 .2-.8 .2 14.1 .3-16.3 .3 15.5 .2-13.3 .2 15.3 .3-14.8 .3 11.2 .2-10.9 .2 11.7 .3-9.9 .3-4 .2 14.2 .2 1.2 .3 .9 .3-13.8 .2 14.2 .2-14.2 .3 11.1 .3-11.6 .2-7.6 .2 30-.2-9 .2-12.1 .3 10.2 .3-10.6 .2 14.9 .2-16.9 .3 14.4 .3-15.4 .2 16.5 .2-16.7 .3 13.5 .3 .1 .2-14.2 .2-.2 .3 14.6 .3-10.3 .2 0 .2 10.5 .3-12.7 .3 2.6 .2 13.4 .2-13 .3 12.8 .3-16.5 .2 15.3 .2-16.1 .3 16.2 .3-13.2 .2 12.3 .2-15.6 .3 17.5 .3-17 .2 16.1 .2-13.4 .3-.3 .3 13.6 .2-13.7 .2 11.1 .3 4.1 .3-14.1 .2 14.3 .2-16.9 .3 1 .3 15.6 .2-17.7 .2 18.6 .3-15.8 .3 12.5 .2 2.5 .2-15.1 .3 11.1 .3 4.3 .2-16.1 .2 14.7 .3-12.2 .3 9.6 .2-15.1 .2 22-.2-21.5 .2 14.7 .3 .5 .3-14.2 .2-1.3 .2 16.5 .3-14.5 .3 13.8 .2 1.3 .2-12.1 .3-5.1 .3 19.2 .2-4.1 .2-12.7 .3 14.5 .3-16.4 .2 14.7 .2-13.2 .3 13.7 .3-11.9 .2 15.1 .2-14.7 .3 12.3 .3-12.8 .2 14.3 .2-15.6 .3-2.6 .3 19.5 .2-15.1 .2 11.2 .3-15.7 .3 16.3 .2-15.8 .2 14.5 .3-12.9 .3 15.8 .2-16.6 .2 16.1 .3-15 .3 18.1 .2-15.8 .2 10.3 .3-14.5 .3 16.9 .2-17.5 .2 15.7 .3-14.8 .3 12.8 .2-16.8 .2 18.9 .3-16 .3 17 .2-19.6 .2 15.3 .3-17.4 .3 18.7 .2-19.2 .2 23.8 .3-4 .3-18.6 .2-1.5 0 23.8 .2-24.8 .3 18.9 .3-13 .2 17.8 .2-23.5 .3 18.6 .3-19.6 .2 26.3 .2-24.3 .3 21.1 .3-24 .2 24.6 .2-21.1 .3 24.8 .3-26.1 .2 2 .2 16.3 .3-18.7 .3 22.5 .2-23.6 0 3.6 .2 20.5 .3-25 .3 28.8 .2-28.2 .2 24.4 .3-25.1 .3 29.6 .2-1.4 .2-7.7 .3 1.8 .3-24.2 .2 31.4 .2-6.5 .3-26.3 .3 27.7 .2-27.8 .2 29.2 .3-21.9 .3 22.6 .2-29.5 0 1.7 .2 27.9 .3-24.8 .3 22.1 .2-28.2 .2 30.4 .3-26.3 .3 29.3 .2-30.1 0-5.7 .2 28.6 .3-14.8 .3 15 .2-9.5 .2 9.1 .3-6.4 .3 5.9 .2-5.7 .2 5.7 .3-4.7 .3 5.5 .2-6 .2 4.9 .3-4.5 .3 6 .2-7.2 .2 7.7 .3-7 .3 6.8 .2-6.1 .2 5.3 .3-6.4 .3 6.9 .2-5.1 .2 3.8 .3-4.5 .3 .3 .2 5.7 .2-5.9 .3 6.2 .3-6.8 .2 6.4 .2-.4 .3-.9 .3-5 .2 6.3 .2-6.5 .3 6.5 .3-6.6 .2-.5 .2 7.2 .3-7.1 .3 1.9 .2 3.9 .2-4 .3 5.6 .3-7 .2 6.8 .2-7.2 .3 6.1 .3-4.6 .2 5.9 .2-5.5 .3 3.8 .3-4.9 .2 6.6 .2-6.2 .3 .3 .3 5.8 .2-7.5 .2 6.5 .3-5 .3 5.5 .2 .7 .2-7.6 .3 7.6 .3-6.6 .2 6.1 .2-6 .3 5.9 .3-.1 .2 0 .2-5.9 .3 6.1 .3-5.5 .2 6 .2-7 .3 6.4 .3-6.5 .2-.5 .2 7.3 .3-5.6 .3 6.2 .2-6 .2 4.1 .3-5.3 .3 6.6 .2-10.8 .2 14.4 .3-21.3 .3 34-.3-28.2 .3 22.7 .2-26.4 .2 24.7 .3-20.3 .3 22.4 .2-25 .2 .7 .3 22 .3-26.1 .2 28.8 .2-27.5 .3 27.7 .3-26.4 .2 1.3 .2 22.2 .3-23.8 .3 20.4 .2-18.4 .2-3.3 .3 6.5 .3 18 .2-1.7 .2-23.7 .3 23.6 .3 .3 .2-20.5 .2 30-.2-27.2 .2 19.9 .3-22.2 .3 22.5 .2-21.6 .2 24.1 .3-24.6 .3 21.7 .2-21.3 .2 21.1 .3-19.6 .3 17.9 .2 5.3 .2-24.8 .3-1.5 .3 19.6 .2 6 .2 0 .3-2.8 .3-4.3 .2-15.9 .2 19.5 .3-23.2 .3 25 .2-24.5 .2 23 .3-3.8 .3-14.2 .2 19.8 .2-4.4 .3-22.6 .3 4.8 .2-.6 .2 24.6 .3-27.8 .3-.2 .2 6.2 .2 14.2 .3-16.6 .3 16.5 .2-20 .2 26-.2-26.3 .2 26 .3-26.8 .3 25.2 .2-23 .2 23.7 .3-20.2 .3 19.2 .2-18.4 .2 21.8 .3-23.1 .3 16.5 .2-14.8 .2 15.5 .3-17.9 .3 21.7 .2-22.7 .2 18.4 .3-14.5 .3-4.6 .2 19.2 .2-17.4 .3 16.7 .3-19.2 .2 24.8 .2-25.8 .3 26.2 .3-21.9 .2 21.7 .2-25.9 .3 20.3 .3-14.9 .2 18.7 .2-23.7 .3 20.9 .3-16.2 .2-4.2 .2 19.3 .3-18.8 .3 21.8 .2-19.9 .2 22.1 .3-22.3 .3 16.5 .2-13.4 .2 16.9 .3-17 .3 13.3 .2-19.1 .2 18 .3-16 .3 22.8 .2-24.9 .2 20.4 .3-17.9 .3-2 .2 24 .2-4.6 .3-14.4 .3 16.1 .2-17.2 .2 14.4 .3-16.8 .3 21.7 .2-19.9 .2-.5 .3 14.8 .3-12.3 .2 15.7 .2-19.3 .3 21.3 .3-19.1 .2 19.2 .2-18.3 .3 16.4 .3-21.4 .2 18.8 .2-17.7 .3 20.2 .3-19.6 .2 16.3 .2-14.9 .3 0 .3 17 .2-18.7 .2 3.2 .3 12.6 .3-11.7 .2 13.5 .2-1.7 .3-13.9 .3 15.5 .2-17.8 .2 17.6 .3-15.8 .3 17.5 .2-3.6 .2 3.1 .3-3.4 .3-14.4 .2 19.7 .2-20.2 .3 16.9 .3-14.4 .2 14.2 .2-13.5 .3 12.7 .3-15.6 .2 19.3 .2-16.9 .3 .7 .3 13.8 .2-16.4 .2 16.7 .3-16.5 .3 15.7 .2-13.7 .2 13.1 .3-13.2 .3 16.7 .2-4 .2-.6 .3-13.9 .3 13.1 .2-13.8 .2 18 .3-16.7 .3 3.4 .2 13.3 .2-14.2 .3 10.9 .3-.8 .2-12.8 .2 13 .3-.5 .3-11.3 .2 15.3" stroke="#000" stroke-width="1" fill="none" stroke-linejoin="round"/>
<path d="M250.5 904.5H275" stroke="#000" stroke-width="2" fill="none"/>
<path d="M274.5 897V905.5" stroke="#000" stroke-width="2" fill="none"/>
<text x="276.9" y="905.2" font-size="11.3" textLength="36.2" lengthAdjust="spacingAndGlyphs">200 uV</text>
<text x="250.4" y="915.2" font-size="11.3" textLength="22.7" lengthAdjust="spacingAndGlyphs">20 s</text>
<path d="M438.8 934.2l.2-5.9 .2 6 .3 1.6 .3-7.3 .2 5.3 .2-6 .3-.8 .3 7.9 .2-6.8 .2 6.9 .3-7 .3-1.1 .2 8.5 .2-7.2 .3 7.6 .3-9.4 .2 7.2 .2 .9 .3-8 .3 9 .2-8.8 .2 6.9 .3-6.4 .3 7.2 .2-7.8 .2 2 .3 5.9 .3-6 .2 5.6 .2-6.4 .3 8 .3-7.5 .2 5.3 .2-6.4 .3 7.6 .3-7 .2 7.2 .2-6.8 .3 5.9 .3-7.9 .2-.1 .2 9.2 .3-7.2 .3 5.6 .2-5.5 .2 5.1 .3-5.5 .3 5.9 .2-5 .2 7.2 .3-9.2 .3 8.3 .2-7.2 .2 5.7 .3-5.6 .3 0 .2 7.9 .2-8.6 .3 8.2 .3-1.4 .2-5.8 .2 6.8 .3-6.6 .3 6.7 .2-8.6 .2 8.9 .3-6.9 .3 6.3 .2-8.1 .2 .8 .3 8.3 .3-7.3 .2 5.9 .2-6.1 .3 6.7 .3 .5 .2-7.2 .2 6.7 .3-7.1 .3 5.5 .2-6.3 .2 7.8 .3-.6 .3-8 .2 9.2 .2-7.5 .3 7.6 .3-7.9 .2 6 .2-5.8 .3 7.9 .3-9.7 .2 8.9 .2-8.2 .3 7.2 .3-6.7 .2 7.5 .2-8 .3 7.7 .3-7.1 .2 6.8 .2-7 .3 6.5 .3-5.1 .2 5.2 .2-7.6 .3 8.9 .3-6.9 .2 5.3 .2 .5 .3-7.1 .3 9.1 .2-9.5 .2 8.8 .3-1.3 .3-7.9 .2 7.8 .2 1.6 .3-7.9 .3 7.2 .2-.4 .2-7.2 .3 .7 .3 6.9 .2-6.1 .2 6 .3-8.6 .3 9.5 .2-7.4 .2 5.4 .3-5.2 .3-2.2 .2 9.2 .2 .3 .3-1.6 .3-5.4 .2 5.6 .2-7.1 .3 7 .3-6.5 .2 8.2 .2-8.4 .3 6.2 .3-7.1 .2 8 .2-7.6 .3 8.8 .3-9.1 .2 8.3 .2-8.6 .3 8.3 .3-7 .2 7.5 .2-7.3 .3 0 .3 5.1 .2-5.3 .2 5.4 .3-4.5 .3 3.8 .2-3.5 .2 .8 .3 3 .3-3.1 .2 3.2 .2-.2 .3-3.8 .3 3.8 .2-3.2 .2 .1 .3 3 .3-.3 .2-3.1 .2 3.9 .3-3.9 .3 3.3 .2-2.8 .2-.6 .3 3.6 .3-3.2 .2 2.9 .2-2.6 .3 2.6 .3-3.5 .2 3.3 .2-2.6 .3 3 .3-3.5 .2 3.7 .2-3.9 .3 3.4 .3-3 .2 4 .2-3.4 .3 0 .3 2.9 .2-3.7 .2 3.7 .3-3.8 .3 3.2 .2-3.3 .2 3.7 .3-3.4 .3 3.5 .2-3.4 .2-.9 .3 5.3 .3-5.5 .2 6 .2 .9 .3-7 .3 7.9 .2-10 .2-.5 .3 10.9 .3-11.1 .2 14.3 .2-13.7 .3 10.7 .3-11.2 .2-14.3 0 25.9 .2-11 .3 15 .3-.8 .2-17.1 .2 17.2 .3-30.2 0 10.9 .3 15.9 .2-17.2 .2 16.6 .3 3.8 .3-16.2 .2-4.8 0 20 .2-1.6 .3-15.3 .3 17.4 .2-17.4 .2 15.4 .3-22.6 .3 20.7 .2-17.6 .2 18.3 .3-17.5 .3 1.3 .2 21 .2-26.7 .3 24 .3-26.7 .2 28.2 .2-28.9 .3 24.8 .3-17.9 .2 18 .2-20 .3 23.8 .3-31.7 .2-3 0 33.2 .2-22.2 .3 21.6 .3-27.6 .2 33.1 .2-37.1 .3 37.7 .3-31.8 .2-11.9 .2 51-.2-8.1 .2-31.8 .3 35.1 .3-38.5 .2 8.5 .2 30.2 .3-47.4 .3 54-.3-37.6 .3 25.4 .2-31.3 .2 39.8 .3 .2 .3-2.3 .2-43.2 .2 48-.2-37.5 .2 32.8 .3-31.2 .3 29.3 .2-26.9 .2 28.4 .3-27.6 .3-.1 .2-10.2 .2 36-.2 .4 .2-24.4 .3 27.8 .3-22.4 .2 18.3 .2-22 .3 22.5 .3-23.7 .2 1.1 .2 27.9 .3-25 .3 19.5 .2-20 .2 1.8 .3 21.7 .3-22.9 .2 17.3 .2-18.2 .3 18 .3-16.8 .2 1.3 .2 15.4 .3-19.2 .3 4.9 .2 .1 .2 11.3 .3-13.6 .3 16.7 .2-17 .2 13.1 .3-12 .3 9.7 .2-8.3 .2 8.9 .3-9.8 .3 11.6 .2-11.4 .2 7.6 .3-7.1 .3 7.2 .2-8.6 .2 8.7 .3 1.8 .3-1.4 .2-9.2 .2 9.8 .3-10.1 .3 9.9 .2-7.9 .2 7.3 .3-7.4 .3 5.9 .2-5.5 .2 4.5 .3-3.6 .3 2.6 .2-2.5 .2 2.2 .3-1.1 .3 .9 .2-1.2 .2 1.2 .3-.9 .3 .6 .2-.8 .2 1.1 .3-.9 .3-.2 .2 .9 .2-.8 .3 .9 .3-1.1 .2 .3 .2-.2 .3 1 .3-.8 .2 .7 .2-.8 .3 .8 .3-.9 .2 .8 .2-.8 .3 .2 .3 .9 .2-1.2 .2 .1 .3 1 .3-.8 .2 .7 .2-.9 .3 .8 .3-.6 .2 .8 .2-.8 .3-.3 .3 1.1 .2-1 .2 1 .3-.9 .3 .8 .2-.9 .2 1 .3-1 .3 .1 .2 .8 .2 .1 .3-1 .3 .9 .2-.9 .2 .9 .3 0 .3-.7 .2 .8 .2-.8 .3 .7 .3-.8 .2 .9 .2-1 .3 .8 .3-.7 .2 .7 .2-.8 .3 1 .3-.9 .2 .8 .2-1 .3 .9 .3-.6 .2-.2 .2 .8 .3-.6 .3 .8 .2-1.1 .2 1 .3-.7 .3 .8 .2-.8 .2 .8 .3-.8 .3 .6 .2-.7 .2 .8 .3 0 .3-.1 .2-.8 .2 .9 .3-.1 .3-.8 .2 1 .2-.9 .3 .8 .3-.7 .2 .8 .2-.8 .3 .6 .3 .1 .2-.9 .2 .1 .3 .9 .3-.9 .2 .9 .2-.8 .3 .6 .3-.6 .2 0 .2 .7 .3-.7 .3 .7 .2-.7 .2 .6 .3 .2 .3-.8 .2 .7 .2-.9 .3 .9 .3-.8 .2 .1 .2 .7 .3-.8 .3 0 .2 .7 .2-.6 .3 .7 .3-.9 .2 .8 .2-.6 .3 .6 .3-.7 .2 .7 .2-.7 .3 .8 .3 .1 .2-.8 .2 .7 .3-.9 .3 .8 .2-.7 .2 .8 .3-.7 .3 .7 .2-.8 .2 0 .3 .8 .3-.9 .2 1 .2-.7 .3 .4 .3-.5 .2 .7 .2-.7 .3-.1 .3 .7 .2-.7 .2 .9 .3-.9 .3 .7 .2-.7 .2 .7 .3-.6 .3-.1 .2-.1 .2 .8 .3-.7 .3 0 .2 .7 .2 .1 .3-.7 .3-.1 .2 .7 .2-.6 .3 .6 .3-.5 .2 .6 .2-.1 .3-.6 .3 .8 .2-.2 .2 .2 .3-.8 .3 .6 .2-.6 .2 .7 .3-.7 .3 0 .2 .5 .2-.5 .3 .6 .3-.5 .2 .4 .2-.6 .3 .7 .3-.7 .2 .7 .2-.7 .3 .7 .3 0 .2-.6 .2 .6 .3-.7 .3 .7 .2-.7 .2 .8 .3-.6 .3 .5 .2-.7 .2 .8 .3-.7 .3 0 .2 .6 .2-.7 .3 .2 .3 .5 .2 0 .2-.1 .3-.5 .3 .5 .2-.5 .2 .5 .3-.6 .3 .6 .2-.4 .2 .6 .3-.7 .3 .6 .2-.6 .2 .7 .3-.6 .3 .6 .2 0 .2-.8 .3 .7 .3-.5 .2 .5 .2-.6 .3 .7 .3-.8 .2 .2 .2 .5 .3-.1 .3 .1 .2 0 .2-.6 .3 .5 .3-.6 .2 .7 .2-.6 .3 .5 .3-.4 .2 .5 .2-.6 .3 .7 .3-.8 .2 .7 .2-.7 .3 0 .3 .8 .2-.7 .2 .5 .3-.5 .3 .7 .2-.7 .2 .7 .3-.1 .3-.5 .2 .6 .2 0 .3-.8 .3 .8 .2-.6 .2 .5 .3-.6 .3 .6 .2-.7 .2 .7 .3-.7 .3 .7 .2-.7 .2 .7 .3-.5 .3 .6 .2-.7 .2 .6 .3-.6 .3 .1 .2 .6 .2-.8 .3 .1 .3 .5 .2-.5 .2 .5 .3-.6 .3 .6 .2 0 .2-.5 .3 .7 .3-.6 .2 .5 .2-.5 .3 .5 .3-.1 .2-.4 .2 .4 .3-.5 .3 .1 .2 .6" stroke="#000" stroke-width="1" fill="none" stroke-linejoin="round"/>
<path d="M532.5 913H558.5" stroke="#000" stroke-width="2" fill="none"/>
<path d="M558 899V914" stroke="#000" stroke-width="2" fill="none"/>
<text x="559.9" y="911.2" font-size="11.3" textLength="36.7" lengthAdjust="spacingAndGlyphs">500 uV</text>
<text x="533.9" y="924.6" font-size="11.3" textLength="22.7" lengthAdjust="spacingAndGlyphs">20 s</text>
<path d="M633.8 939.3l.2-9.6 .2-.5 .3 9.1 .3-7.4 .2 6.8 .2 .3 .3-6.5 .3 8.3 .2-8.8 .2 6.4 .3-5.8 .3 8.2 .2-9.4 .2-.5 .3 8.9 .3-9.3 .2 8.2 .2-6 .3 7.7 .3-8.1 .2 7.7 .2-1.4 .3-6.3 .3-.1 .2 6.3 .2-8.2 .3 9.7 .3-8.8 .2 8.1 .2-6.6 .3-.6 .3 8.2 .2-8.9 .2 1.5 .3-1 .3 8.5 .2-7.6 .2 5.6 .3-5.4 .3-2.5 .2 9.8 .2-9.8 .3 10.3 .3-10.3 .2 .4 .2 8.7 .3-9.5 .3 10.5 .2-2.3 .2-7.7 .3 8.1 .3-7.6 .2 9 .2-7.9 .3 6.7 .3-8.7 .2 8.1 .2-6.8 .3 6.6 .3 1.7 .2-.8 .2-7.6 .3 .2 .3 9.3 .2-10 .2 7.4 .3-7.1 .3 6.9 .2-7.7 .2 10 .3-7.5 .3 6.5 .2-9 .2 8.8 .3-8.8 .3 10.3 .2-9 .2 8.1 .3-9.2 .3 9 .2-7.2 .2 5.8 .3-7.6 .3 9.1 .2-9.7 .2 10.9 .3-9.5 .3 6.9 .2-5.4 .2-1 .3 7.7 .3-7.8 .2 6.9 .2 0 .3 .7 .3-7.4 .2 6.5 .2-5.9 .3 6.1 .3-6.9 .2 6.5 .2 0 .3-7.7 .3 9.3 .2-10.4 .2 13-.2-4 .2-5.6 .3 5.4 .3 1.5 .2-8.7 .2 8.7 .3-8.1 .3 8.8 .2-10.1 .2 7.8 .3-7.1 .3 8.3 .2 .3 .2-7.7 .3-.2 .3 7.4 .2-7.7 .2 7.8 .3-7.5 .3 6.6 .4 7.1-.2-15.4 .2 1.6 .3 8 .3-7.6 .2 .5 .2 7.3 .3-7.5 .3 8.2 .2-10.3 .2 9.8 .3-9.7 .3 10 .2-7.9 .2 7.6 .3-7.6 .3 6.3 .2 .6 .2-7.5 .3 7.5 .3-6.5 .2 6.7 .2-8.8 .3 7.5 .3-5.9 .2 .5 .2 6.2 .3-7 .3 7.8 .4 4.6-.2-13.7 .2 9.7 .3-7.6 .3 7.2 .2-7.4 .2 6.8 .3-6.9 .3 7.8 .2-9.2 .2 7.7 .3 .6 .3-7.2 .2 7.5 .2-7 .3 6 .3-7.7 .2 8.8 .2-10 .3 10.4 .3-10.8 .2 13.4 .2 3.7 .3-22.2 .3 20.3 .2-17.1 .2 23.4 .3-29.6 .3 26.9 .2-26.4 .2 28 .3-51.4 .3 61-.3-38.5 .3 28.9 .2-23.4 .2 27.6 .3-48.6 .3 50-.3-28.2 .3 1.9 .2 19.1 .2-23.2 .3-3.9 .3 27.7 .2-22.4 .2 24.5 .3-30.9 .3 27.6 .4 5.8-.2-25.1 .2 21.1 .3-21.3 .3 18.1 .2-16.8 .2 22 .3-31.5 .3 26.3 .2-20.6 .2 26 .3-31.1 .3 28.6 .2-20.9 .2 21.4 .3-27.3 .3 31.8 .2-29.4 .2 21.2 .3-23.8 .3 23.8 .2 6.9 .2-30 .3 29.3 .3-27.3 .2-.2 .2-4 .3 3.7 .3 29.5 .2-27.5 .2 24.5 .3-28.6 .3 6.3 .2 22.2 .2-22.6 .3-2.6 .3 28.5 .2-31.8 .2 26.6 .3-23.1 .3 24 .2 1.3 .2-24.7 .3 26.2 .3-28.1 .2 31.1 .2-25.9 .3-5.6 .3 28.8 .2-6 .2-18.1 .3-1.9 .3 22.3 .2-28.2 .2 27.8 .3-22.5 .3 24.5 .2-22.4 .2 24.1 .3-1.8 .3-21.3 .2 22.7 .2-31.3 .3 27.9 .3-23.7 .2-7.5 0 3.9 .2 32.5 .3-32.4 .3 33.5 .2-31.8 .2 27.9 .3-26.5 .3 29.1 .2-27 .2-4.9 .3 25.9 .3-21.1 .2 2.2 .2 17.2 .3-25.2 .3 26.7 .2-24.7 .2 23.2 .3-21.9 .3 23 .2-32.6 .2 38-.2-26.7 .2-.7 .3 23.8 .3-25.2 .2 4.4 .2 1.2 .3 21.5 .3-27.6 .2 .4 .2 25.1 .3 2.5 .3-25.4 .2 23.1 .2-24.7 .3 27.5 .3-28.7 .2 24.6 .2-17.8 .3 22.3 .3-23.5 .2 17.1 .2-19.1 .3 21.2 .3-19.7 .2 17.7 .2-22.1 .3 29.1 .3-27.2 .2 26.6 .2-28.4 .3 23.2 .3-1.6 .2-18.2 .2 18.1 .3-15 .3 8.4 .2-.5 .2-6.6 .3-.6 .3 7 .2 1.8 .2-8.2 .6 16.9-.3-10.5 .3-7.5 .2 8.7 .2-7.8 .3 7.9 .3-6.8 .2 6.6 .2-6.6 .3 7 .3-8.3 .2-3.7 0 11.1 .2-6.7 .3 7.8 .3-9.1 .2 7.4 .2 2.2 .3-9.7 .3 8.9 .2-8 .2 9.1 .3-7.4 .3 5.9 .2 1.4 .2-7.6 .3 .3 .3 5.9 .2-7.6 .2 6.4 .3-5.9 .3 6.1 .2-4.8 .2 5.3 .3-6.8 .3 6.3 .2-.1 .2-6.3 .3 7.6 .3-8.2 .2 8.3 .2-7.4 .3 0 .3-.8 .2 9 .2-9.3 .3 9.5 .3-8.1 .2 7.6 .2-8.3 .3 7.9 .3-7.8 .2 7.8 .2-6.8 .3-1.4 .3 6.7 .2 2.6 .2-7.3 .3 5.9 .3-7.1 .2 6.1 .2-6.7 .3 1.2 .3 6.7 .2-8.2 .2 7.9 .3-7.5 .3 8 .2-8.9 .2 9 .3-7.3 .3 7.5 .2-7.2 .2 5.2 .3-4.6 .3 4.6 .2-5 .2 6.3 .3-7.3 .3 7.9 .2-9.2 .2 9 .3-7.5 .3-1.3 .2 8.8 .2-8.5 .3 7.6 .3-8.2 .2 8.9 .2-7 .3 7.2 .3-7.2 .2 7.6 .2-8.3 .3 6.7 .3-5.5 .2 7 .2-8.3 .3 7.5 .3-8.3 .2 9.1 .2-6.7 .3 4.9 .3-5.5 .2 6 .2-7.3 .3 9.3 .3-9.3 .2 8.4 .2-6.8 .3 7.8 .3-7.6 .2 6.5 .2-7.8 .3 8.9 .3-10 .2 9.1 .2-7.3 .3 8.2 .3-9.5 .2-.2 .2 8 .3-7.3 .3 7.1 .2-7 .2 7.1 .3-8.1 .3-.1 .2 8 .2-7.6 .3 7.6 .3-6.5 .2 .2 .2 5.6 .3-5.8 .3 7.1 .2-6.1 .2 7 .3-9.7 .3 8.4 .2-.1 .2 1.9 .3-9.5 .3 1.3 .2-2.9 0 9.4 .2-8.1 .3 1.2 .3 6.8 .2-6.3 .2 7.5 .3-1.2 .3-6.3 .2 5.9 .2-6 .3 8.1 .3-8.1 .2 7.2 .2-9 .3 9.4 .3-1.1 .2-6.5 .2 6.6 .3-5.9 .3 7 .2-8.3 .2 6.5 .3-5.8 .3 7 .2-8.3 .2 .8 .3 6.2 .3-7.2 .2 7 .2-7.5 .3-.2 .3 8.9 .2-8.3 .2 7.8 .3-7.3 .3 6.8 .2 0 .2-7.9 .3 8.5 .3 1.1 .2-8.1 .2 7.8 .3-8.7 .3 8.5 .2-7.8 .2 6.3 .3-7 .3 8.3 .2 .8 .2 .3 .3-7.3 .3 7.4 .2-10.1 .2 7.9 .3-5.1 .3 5.2 .2 1.8 .2-7.5 .3 5.7 .3-7.5 .2 7.7 .2 1.5 .3-8.7 .3 9 .2-1.9 .2-5.4 .3 5.8 .3-7.4 .2 8.2 .2-6.5 .3 6.4 .3-6.9 .2 5.7 .2-7.8 .3 8.4 .3 .6 .2-9.3 .2 8.3 .3-7.8 .3 .3 .4 11.5-.2-2.5 .2-7.3 .3 7.4 .3-8.2 .2 .9 .2-2.1 .3 9 .3-7 .2 6.3 .2 1.5 .3-9 .3 8.8 .2-9.3 .2 7.8 .3-7.3 .3 7.9 .2-9 .2 .9 .3 9.3 .3-10.1 .2 10 .2-9.7 .3 9.8 .3-9.8 .2 8.4 .2-8.6 .3 8.2 .3-6.4 .2 5.7 .2-6.5 .3 7.9 .3-7 .2 8 .2-8.5 .3 8.3 .3-9.1 .2 8.8 .2-7.3 .3 0 .3 8 .2-8.5 .2 7.3 .3-6.5 .3-.2 .2 6.7 .2-1.5 .3 2.5 .3-9.5 .2 9.1 .2-7.5 .3 .1 .3 7.8 .2-7.6 .2 7 .3 0 .3-8.9 .2 8.2 .2-7.8 .3 .8 .3 .4 .2 5.9 .2-.5 .3 .7 .3-7.6 .2 9.8 .2-.6 .3-7.9 .3-1.6 .2 1 .2 7.4 .3-6.4 .3 7.3 .2 .3 .2-10.2 .3 10.6 .3-9.4 .2 7 .2-7.9 .3 .1 .3 8.6 .2-7.7 .2 8.5 .3-1.2 .3 1.2 .2-7.8 .2 6.8 .3 1.5 .3-8.9 .2 7.6 .2-7.6 .3 9.2 .3-8.2 .2 .3 .2 5.7 .3-6.7 .3 8.6 .2-9.5" stroke="#000" stroke-width="1" fill="none" stroke-linejoin="round"/>
<path d="M724 910H748.5" stroke="#000" stroke-width="2" fill="none"/>
<path d="M748 896V911" stroke="#000" stroke-width="2" fill="none"/>
<text x="751.4" y="907" font-size="11.3" textLength="36.9" lengthAdjust="spacingAndGlyphs">500 uV</text>
<text x="725.4" y="921.1" font-size="11.3" textLength="21.8" lengthAdjust="spacingAndGlyphs">20 s</text>
<path d="M50.6 975V1039.4M46 975H50.6M46 1039.4H50.6" stroke="#000" stroke-width="1.3" fill="none"/>
<text x="39.6" y="981.6" font-size="11" text-anchor="end">3x10</text>
<text x="39.6" y="974.6" font-size="7.5">3</text>
<text x="44.3" y="1043.6" font-size="11" text-anchor="end">0</text>
<path d="M246.5 975V1039.4M241.9 975H246.5M241.9 1039.4H246.5M241.9 1007.2H246.5" stroke="#000" stroke-width="1.3" fill="none"/>
<text x="235.5" y="981.6" font-size="11" text-anchor="end">4x10</text>
<text x="235.5" y="974.6" font-size="7.5">3</text>
<text x="240.5" y="1011.2" font-size="11" text-anchor="end">2</text>
<text x="240.2" y="1043.6" font-size="11" text-anchor="end">0</text>
<path d="M439 975V1039.4M434.4 975H439M434.4 1039.4H439" stroke="#000" stroke-width="1.3" fill="none"/>
<text x="428" y="981.6" font-size="11" text-anchor="end">2x10</text>
<text x="428" y="974.6" font-size="7.5">3</text>
<text x="432.7" y="1043.6" font-size="11" text-anchor="end">0</text>
<path d="M632.5 975V1039.4M627.9 975H632.5M627.9 1039.4H632.5M627.9 1007.2H632.5" stroke="#000" stroke-width="1.3" fill="none"/>
<text x="621.5" y="981.6" font-size="11" text-anchor="end">4x10</text>
<text x="621.5" y="974.6" font-size="7.5">3</text>
<text x="626.5" y="1011.2" font-size="11" text-anchor="end">2</text>
<text x="626.2" y="1043.6" font-size="11" text-anchor="end">0</text>
<text transform="translate(6 1025.5) rotate(-90)" y="4" font-size="11" text-anchor="middle">Power</text>
<text transform="translate(19 1024.7) rotate(-90)" y="4" font-size="11" text-anchor="middle">(20-50Hz)</text>
<path d="M51 1026l1.5-6 1.5-18 1 13 1.4-22 1.1 17 1-10 1.5 24 3 2 3 4 2-9 3 3 3-2 2 7 2-11 2 12 1.5 7 1-47 .5-20 2 0 .5 30 1.5 26 3 5 3 4 3 1 3-3 3-4 3-8 2-1 2.5-8 1.5-12 1-10 1.5 10 1.5-15 2-15 1 15 1-15 1 20 1.5 34 1.5-24 1-25 2 20 2-25 1.5 0 .5 10 .5-10 10.5 0 .5 30 1.5 5 2 3 2 6 2-6 2 10 2-8 2 6 2-11 2 7 2 8 2-8 2 6 2-8 2 11 2-12 2 7 2-10 2 11 1.5 3 1-20 1.5 15 2 10 3 8 3 4 3 1.5 3 .5 5 .3 16-.3" stroke="#f00" stroke-width="1.5" fill="none" clip-path="url(#cd1)" stroke-linejoin="round"/>
<path d="M247.4 1026l.6-6.5 .9 1.7 1.5 4.9 1.4 .6 1.1-13.2 1 3 1.3 10.5 1.4-12.9 1 7.3 1.5-2.2 1 7.8 1.5-4.1 1.1 .1 1-1.6 1-1.7 1.4-.2 1.2 2.7 1.3-3.7 .9 1.3 1.2-2.4 .8 4.4 1.6-5.4 1.2-2.1 .8 11.4 .9-6.2 1.2-5.2 1.3 5.8 1.1-6 1.3 9.4 .9-7.1 1.5 4.1 1.4-7.1 1.3 6.8 1.6 2.4 1 1.2 1.5-8 .8 11.4 1.3-9 .8 1.8 1.6-.7 1.4 5.1 1.1 2.2 1.1-11.3 1.3 13.7 1.5-8.5 1.2 4.5 1.1-3.9 1.1-3.5 1.1 1.4 1.2-.4 1.4 6.4 1.4-9.2 1.1 10.9 1.5-4 1.5 5 1.1-3.3 1-.1 1.3 3.7 1.5-8 1.5-20 2-10 2.5-15 1.5 7 1.5-6 1.5 4 2 10 2 20 2 29 3 .5 3-1.5 3 0 3-6 3 2 2-1 2.5-33 1.5 15 2-7 1 4.5 1.6-6.2 1.2 5.7 1 4.9 1.4-11.4 1.3 9.8 1.5-2.2 1.3 3.8 1.1-1.4 1.5-7.9 1.4-.2 1.6 11.4 1.4-5.5 1.4-6.2 1.4 4 1.5-4.4 1.1 6.5 2.3 6.8 3-5 3 10 3-3 3 6 3 2 3 3 4.5 1" stroke="#f00" stroke-width="1.5" fill="none" clip-path="url(#cd2)" stroke-linejoin="round"/>
<path d="M265 1022l2.5-15 1.5 13" stroke="#f00" stroke-width="1.5" fill="none" clip-path="url(#cd2)" stroke-linejoin="round"/>
<path d="M284 1020l1.5-18 1.5 16 3 4 1.5-24 1.5 22" stroke="#f00" stroke-width="1.5" fill="none" clip-path="url(#cd2)" stroke-linejoin="round"/>
<path d="M371 1015l1.5-18 1.5 15" stroke="#f00" stroke-width="1.5" fill="none" clip-path="url(#cd2)" stroke-linejoin="round"/>
<path d="M440 1024.5l1 1.1 1.5 1.3 1 .4 1.5-1.7 1.3 1.3 .9-.8 1.4 .9 .9-.3 .9-2.4 1.3-3.8 1 3.8 1-1.6 1 2.5 .9-2.3 1.2 3.6 1.5 .2 .9 .5 1.1 2.6 1.3-3 1.1-.1 1.3-1.5 .8 .3 1.5-4 1 3.4 1.2-2.8 1.3 3.5 1 1.3 3.2 3.1 4 2 4 3 3 1 2-2 1.5-9 1.5-35 1.5-4.5 1.5 12.5 .6-28 1.4 0 1 30 1.5-30 2.5 0 1 30 1.5 20 1-20 1-30 5.5 0 .8 35 1.2 7 2 8 2 10 3 5 3 3.5 6 1 32 0 30-.2 1-1.3 1 1.5 8.4 0" stroke="#f00" stroke-width="1.5" fill="none" clip-path="url(#cd3)" stroke-linejoin="round"/>
<path d="M634.5 1032.5l1.5 2.1 .8-.6 1.4-.7 .9-.9 1-2 .9-1.2 .8-.2 1.4 .8 1.2 .2 1.5-.1 .9-.7 1.2 3.1 1.1-1.6 1.5-3.6 1.1 4.2 1.3-.3 1.1-1.7 1.4-1.3 .8-3 1.4 2.7 1.4-.1 1-2.9 1.2 .4 1.5 2.7 1.1 1.4 1.4-3.2 1 2.4 1.2-4.9 1.3 4.9 .7-2.4 .5-17 1 19 2 3 2-3 1.5-18 1-40 6 0 .5 20 1-20 1 18 1-18 7.5 0 .5 16 .8-16 14.7 0 .5 40 1 25 2 1 2-3 2 2 3-6 1.5-4 1.5 6 3 6 1 .4 1.5 .1 1.5-.2 1.5 .2 1.5-.5 1.6-1.6 1.5 1.7 1.5 .2 1.5-1.9 1.5 1.9 1.5 0 1.5-.4 1.5-.8 1.6 1.1 1.5 .1 1.5-.5 1.5 .2 1.5 .2 1.5-.9 1.5 .1 1.5 .6 1.5-.7 1.6 .3 1.5 .8 1.5-.4 1.5-1.1 1.5 1.1 1.5 0 1.5-.9 1.5 .6 1.5 .1 1.6-.5 1.5-.3 1.5 1.3 1.5-1.2 1.5-.2 1.5 1 1.5-.9 1.5-.9 1.6 .1 1.5 .7 1.5-1.3 1.5-1.3 1.5 2.4" stroke="#f00" stroke-width="1.5" fill="none" clip-path="url(#cd4)" stroke-linejoin="round"/></svg></body></html>
